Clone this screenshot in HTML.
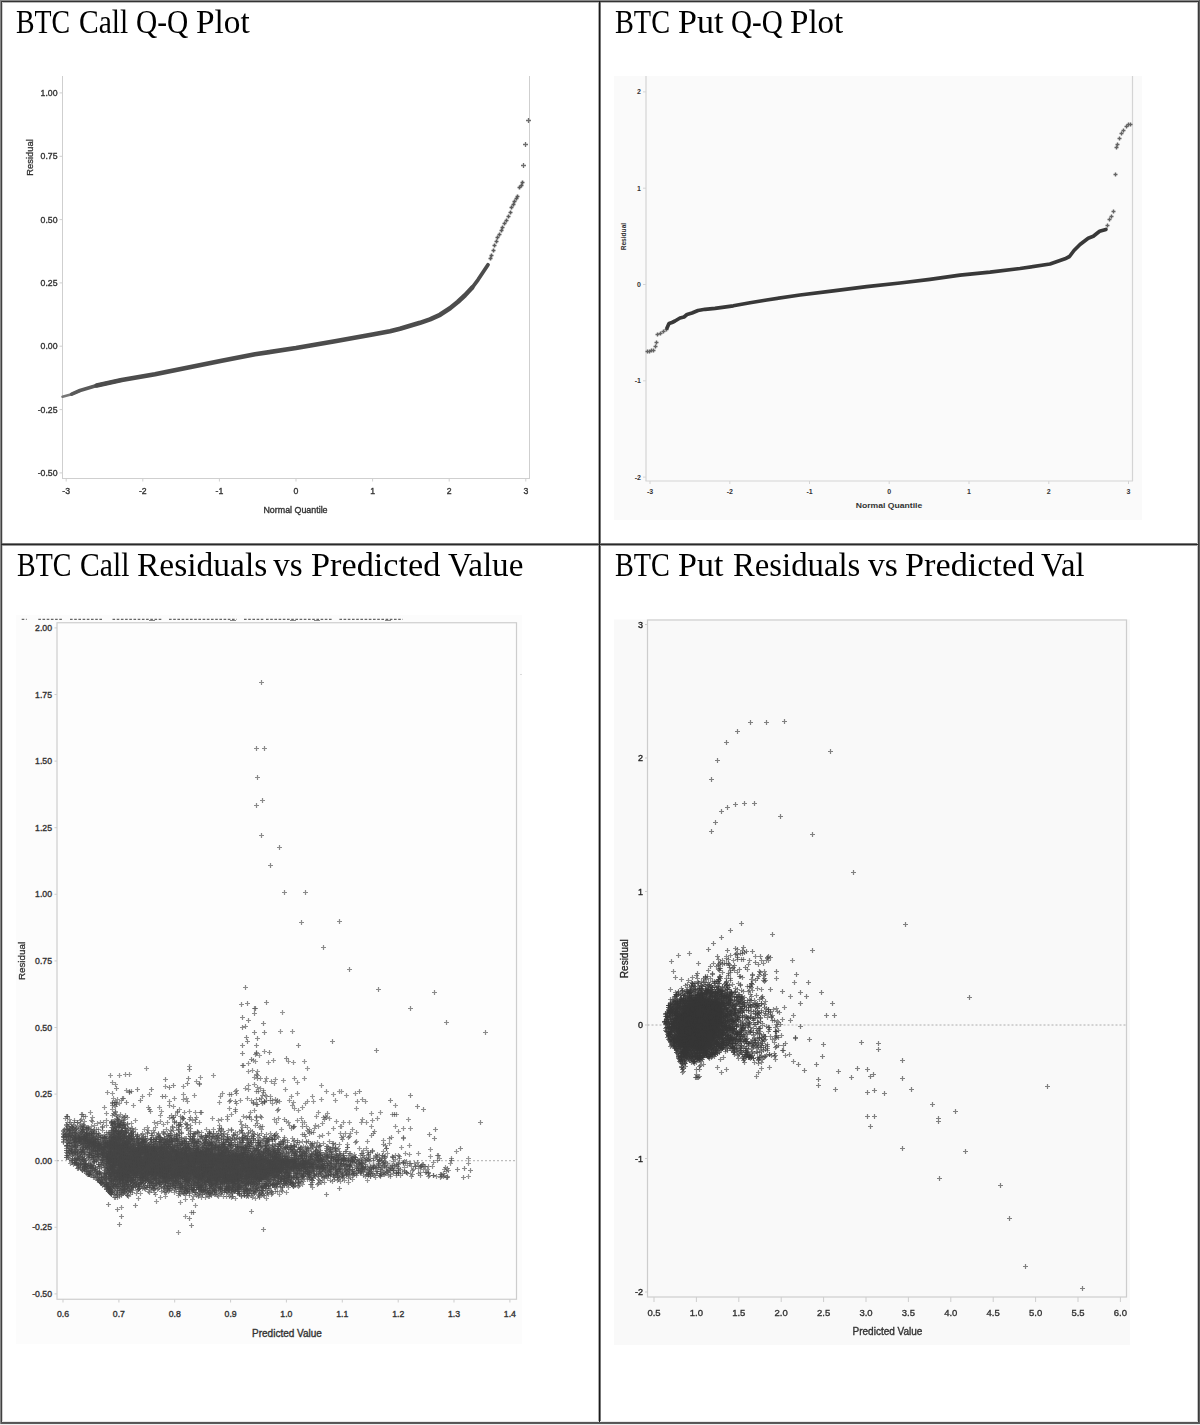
<!DOCTYPE html>
<html><head><meta charset="utf-8"><style>
html,body{margin:0;padding:0;background:#fff;}
body{width:1200px;height:1425px;position:relative;overflow:hidden;}
.t{position:absolute;font-family:"Liberation Serif",serif;font-size:33px;line-height:36px;color:#000;white-space:nowrap;transform-origin:0 0;}
.b{position:absolute;}
svg{position:absolute;left:0;top:0;font-family:"Liberation Sans",sans-serif;filter:blur(0.45px);}
</style></head><body>
<svg width="1200" height="1425" viewBox="0 0 1200 1425"><defs><filter id="bl2" x="-10%" y="-30%" width="120%" height="160%"><feGaussianBlur stdDeviation="2.5"/></filter></defs>
<line x1="62.5" y1="76" x2="62.5" y2="478.5" stroke="#cfcfcf" stroke-width="1" />
<line x1="62" y1="478.5" x2="530" y2="478.5" stroke="#cfcfcf" stroke-width="1" />
<line x1="529.5" y1="76" x2="529.5" y2="478.5" stroke="#cfcfcf" stroke-width="1" />
<line x1="59.5" y1="92.9" x2="62.5" y2="92.9" stroke="#cfcfcf" stroke-width="1" />
<text x="57.5" y="92.9" font-size="8.7" text-anchor="end" font-weight="normal" fill="#333" stroke="#333" stroke-width="0.35" dominant-baseline="central" >1.00</text>
<line x1="59.5" y1="156.3" x2="62.5" y2="156.3" stroke="#cfcfcf" stroke-width="1" />
<text x="57.5" y="156.3" font-size="8.7" text-anchor="end" font-weight="normal" fill="#333" stroke="#333" stroke-width="0.35" dominant-baseline="central" >0.75</text>
<line x1="59.5" y1="219.6" x2="62.5" y2="219.6" stroke="#cfcfcf" stroke-width="1" />
<text x="57.5" y="219.6" font-size="8.7" text-anchor="end" font-weight="normal" fill="#333" stroke="#333" stroke-width="0.35" dominant-baseline="central" >0.50</text>
<line x1="59.5" y1="282.9" x2="62.5" y2="282.9" stroke="#cfcfcf" stroke-width="1" />
<text x="57.5" y="282.9" font-size="8.7" text-anchor="end" font-weight="normal" fill="#333" stroke="#333" stroke-width="0.35" dominant-baseline="central" >0.25</text>
<line x1="59.5" y1="346.2" x2="62.5" y2="346.2" stroke="#cfcfcf" stroke-width="1" />
<text x="57.5" y="346.2" font-size="8.7" text-anchor="end" font-weight="normal" fill="#333" stroke="#333" stroke-width="0.35" dominant-baseline="central" >0.00</text>
<line x1="59.5" y1="409.6" x2="62.5" y2="409.6" stroke="#cfcfcf" stroke-width="1" />
<text x="57.5" y="409.6" font-size="8.7" text-anchor="end" font-weight="normal" fill="#333" stroke="#333" stroke-width="0.35" dominant-baseline="central" >-0.25</text>
<line x1="59.5" y1="472.9" x2="62.5" y2="472.9" stroke="#cfcfcf" stroke-width="1" />
<text x="57.5" y="472.9" font-size="8.7" text-anchor="end" font-weight="normal" fill="#333" stroke="#333" stroke-width="0.35" dominant-baseline="central" >-0.50</text>
<line x1="66.2" y1="478.5" x2="66.2" y2="481.5" stroke="#cfcfcf" stroke-width="1" />
<text x="66.2" y="491" font-size="8.7" text-anchor="middle" font-weight="normal" fill="#333" stroke="#333" stroke-width="0.35" dominant-baseline="central" >-3</text>
<line x1="142.8" y1="478.5" x2="142.8" y2="481.5" stroke="#cfcfcf" stroke-width="1" />
<text x="142.8" y="491" font-size="8.7" text-anchor="middle" font-weight="normal" fill="#333" stroke="#333" stroke-width="0.35" dominant-baseline="central" >-2</text>
<line x1="219.4" y1="478.5" x2="219.4" y2="481.5" stroke="#cfcfcf" stroke-width="1" />
<text x="219.4" y="491" font-size="8.7" text-anchor="middle" font-weight="normal" fill="#333" stroke="#333" stroke-width="0.35" dominant-baseline="central" >-1</text>
<line x1="296" y1="478.5" x2="296" y2="481.5" stroke="#cfcfcf" stroke-width="1" />
<text x="296" y="491" font-size="8.7" text-anchor="middle" font-weight="normal" fill="#333" stroke="#333" stroke-width="0.35" dominant-baseline="central" >0</text>
<line x1="372.6" y1="478.5" x2="372.6" y2="481.5" stroke="#cfcfcf" stroke-width="1" />
<text x="372.6" y="491" font-size="8.7" text-anchor="middle" font-weight="normal" fill="#333" stroke="#333" stroke-width="0.35" dominant-baseline="central" >1</text>
<line x1="449.2" y1="478.5" x2="449.2" y2="481.5" stroke="#cfcfcf" stroke-width="1" />
<text x="449.2" y="491" font-size="8.7" text-anchor="middle" font-weight="normal" fill="#333" stroke="#333" stroke-width="0.35" dominant-baseline="central" >2</text>
<line x1="525.8" y1="478.5" x2="525.8" y2="481.5" stroke="#cfcfcf" stroke-width="1" />
<text x="525.8" y="491" font-size="8.7" text-anchor="middle" font-weight="normal" fill="#333" stroke="#333" stroke-width="0.35" dominant-baseline="central" >3</text>
<text x="295.5" y="509.5" font-size="8.9" text-anchor="middle" font-weight="normal" fill="#333" stroke="#333" stroke-width="0.35" dominant-baseline="central" >Normal Quantile</text>
<text x="0" y="0" font-size="9.4" text-anchor="middle" fill="#333" stroke="#333" stroke-width="0.3" dominant-baseline="central" transform="translate(29 157.5) rotate(-90)">Residual</text>
<rect x="614" y="76" width="528" height="444" fill="#fafafa"/>
<line x1="646" y1="76" x2="646" y2="481" stroke="#d4d4d4" stroke-width="1.2" />
<line x1="645.5" y1="481" x2="1133" y2="481" stroke="#d4d4d4" stroke-width="1.2" />
<line x1="1132.5" y1="76" x2="1132.5" y2="481" stroke="#d4d4d4" stroke-width="1.2" />
<line x1="643" y1="91.9" x2="646" y2="91.9" stroke="#d4d4d4" stroke-width="1" />
<text x="641" y="91.9" font-size="7" text-anchor="end" font-weight="bold" fill="#333" dominant-baseline="central" >2</text>
<line x1="643" y1="188.2" x2="646" y2="188.2" stroke="#d4d4d4" stroke-width="1" />
<text x="641" y="188.2" font-size="7" text-anchor="end" font-weight="bold" fill="#333" dominant-baseline="central" >1</text>
<line x1="643" y1="284.5" x2="646" y2="284.5" stroke="#d4d4d4" stroke-width="1" />
<text x="641" y="284.5" font-size="7" text-anchor="end" font-weight="bold" fill="#333" dominant-baseline="central" >0</text>
<line x1="643" y1="380.8" x2="646" y2="380.8" stroke="#d4d4d4" stroke-width="1" />
<text x="641" y="380.8" font-size="7" text-anchor="end" font-weight="bold" fill="#333" dominant-baseline="central" >-1</text>
<line x1="643" y1="477.1" x2="646" y2="477.1" stroke="#d4d4d4" stroke-width="1" />
<text x="641" y="477.1" font-size="7" text-anchor="end" font-weight="bold" fill="#333" dominant-baseline="central" >-2</text>
<line x1="650" y1="481" x2="650" y2="484" stroke="#d4d4d4" stroke-width="1" />
<text x="650" y="491.5" font-size="7" text-anchor="middle" font-weight="bold" fill="#333" dominant-baseline="central" >-3</text>
<line x1="729.8" y1="481" x2="729.8" y2="484" stroke="#d4d4d4" stroke-width="1" />
<text x="729.8" y="491.5" font-size="7" text-anchor="middle" font-weight="bold" fill="#333" dominant-baseline="central" >-2</text>
<line x1="809.5" y1="481" x2="809.5" y2="484" stroke="#d4d4d4" stroke-width="1" />
<text x="809.5" y="491.5" font-size="7" text-anchor="middle" font-weight="bold" fill="#333" dominant-baseline="central" >-1</text>
<line x1="889.2" y1="481" x2="889.2" y2="484" stroke="#d4d4d4" stroke-width="1" />
<text x="889.2" y="491.5" font-size="7" text-anchor="middle" font-weight="bold" fill="#333" dominant-baseline="central" >0</text>
<line x1="969" y1="481" x2="969" y2="484" stroke="#d4d4d4" stroke-width="1" />
<text x="969" y="491.5" font-size="7" text-anchor="middle" font-weight="bold" fill="#333" dominant-baseline="central" >1</text>
<line x1="1048.8" y1="481" x2="1048.8" y2="484" stroke="#d4d4d4" stroke-width="1" />
<text x="1048.8" y="491.5" font-size="7" text-anchor="middle" font-weight="bold" fill="#333" dominant-baseline="central" >2</text>
<line x1="1128.5" y1="481" x2="1128.5" y2="484" stroke="#d4d4d4" stroke-width="1" />
<text x="1128.5" y="491.5" font-size="7" text-anchor="middle" font-weight="bold" fill="#333" dominant-baseline="central" >3</text>
<text x="889" y="505" font-size="7.6" text-anchor="middle" font-weight="bold" fill="#333" dominant-baseline="central" textLength="66.5" lengthAdjust="spacingAndGlyphs">Normal Quantile</text>
<text x="0" y="0" font-size="6.6" font-weight="bold" text-anchor="middle" fill="#333" dominant-baseline="central" transform="translate(623.2 236.6) rotate(-90)">Residual</text>
<rect x="16" y="615" width="506" height="729" fill="#fcfcfc"/>
<rect x="57" y="622.8" width="459.5" height="676.5" fill="#fdfdfd"/>
<rect x="57" y="622.75" width="459.5" height="676.5" fill="none" stroke="#cdcdcd" stroke-width="1.2"/>
<line x1="54.5" y1="627.9" x2="57" y2="627.9" stroke="#cdcdcd" stroke-width="1" />
<text x="52" y="627.9" font-size="8.7" text-anchor="end" font-weight="normal" fill="#333" stroke="#333" stroke-width="0.35" dominant-baseline="central" >2.00</text>
<line x1="54.5" y1="694.5" x2="57" y2="694.5" stroke="#cdcdcd" stroke-width="1" />
<text x="52" y="694.5" font-size="8.7" text-anchor="end" font-weight="normal" fill="#333" stroke="#333" stroke-width="0.35" dominant-baseline="central" >1.75</text>
<line x1="54.5" y1="761.1" x2="57" y2="761.1" stroke="#cdcdcd" stroke-width="1" />
<text x="52" y="761.1" font-size="8.7" text-anchor="end" font-weight="normal" fill="#333" stroke="#333" stroke-width="0.35" dominant-baseline="central" >1.50</text>
<line x1="54.5" y1="827.7" x2="57" y2="827.7" stroke="#cdcdcd" stroke-width="1" />
<text x="52" y="827.7" font-size="8.7" text-anchor="end" font-weight="normal" fill="#333" stroke="#333" stroke-width="0.35" dominant-baseline="central" >1.25</text>
<line x1="54.5" y1="894.3" x2="57" y2="894.3" stroke="#cdcdcd" stroke-width="1" />
<text x="52" y="894.3" font-size="8.7" text-anchor="end" font-weight="normal" fill="#333" stroke="#333" stroke-width="0.35" dominant-baseline="central" >1.00</text>
<line x1="54.5" y1="960.9" x2="57" y2="960.9" stroke="#cdcdcd" stroke-width="1" />
<text x="52" y="960.9" font-size="8.7" text-anchor="end" font-weight="normal" fill="#333" stroke="#333" stroke-width="0.35" dominant-baseline="central" >0.75</text>
<line x1="54.5" y1="1027.5" x2="57" y2="1027.5" stroke="#cdcdcd" stroke-width="1" />
<text x="52" y="1027.5" font-size="8.7" text-anchor="end" font-weight="normal" fill="#333" stroke="#333" stroke-width="0.35" dominant-baseline="central" >0.50</text>
<line x1="54.5" y1="1094.1" x2="57" y2="1094.1" stroke="#cdcdcd" stroke-width="1" />
<text x="52" y="1094.1" font-size="8.7" text-anchor="end" font-weight="normal" fill="#333" stroke="#333" stroke-width="0.35" dominant-baseline="central" >0.25</text>
<line x1="54.5" y1="1160.7" x2="57" y2="1160.7" stroke="#cdcdcd" stroke-width="1" />
<text x="52" y="1160.7" font-size="8.7" text-anchor="end" font-weight="normal" fill="#333" stroke="#333" stroke-width="0.35" dominant-baseline="central" >0.00</text>
<line x1="54.5" y1="1227.3" x2="57" y2="1227.3" stroke="#cdcdcd" stroke-width="1" />
<text x="52" y="1227.3" font-size="8.7" text-anchor="end" font-weight="normal" fill="#333" stroke="#333" stroke-width="0.35" dominant-baseline="central" >-0.25</text>
<line x1="54.5" y1="1293.9" x2="57" y2="1293.9" stroke="#cdcdcd" stroke-width="1" />
<text x="52" y="1293.9" font-size="8.7" text-anchor="end" font-weight="normal" fill="#333" stroke="#333" stroke-width="0.35" dominant-baseline="central" >-0.50</text>
<line x1="63" y1="1299.3" x2="63" y2="1302.5" stroke="#cdcdcd" stroke-width="1" />
<text x="63" y="1313.7" font-size="8.7" text-anchor="middle" font-weight="normal" fill="#333" stroke="#333" stroke-width="0.35" dominant-baseline="central" >0.6</text>
<line x1="118.9" y1="1299.3" x2="118.9" y2="1302.5" stroke="#cdcdcd" stroke-width="1" />
<text x="118.9" y="1313.7" font-size="8.7" text-anchor="middle" font-weight="normal" fill="#333" stroke="#333" stroke-width="0.35" dominant-baseline="central" >0.7</text>
<line x1="174.7" y1="1299.3" x2="174.7" y2="1302.5" stroke="#cdcdcd" stroke-width="1" />
<text x="174.7" y="1313.7" font-size="8.7" text-anchor="middle" font-weight="normal" fill="#333" stroke="#333" stroke-width="0.35" dominant-baseline="central" >0.8</text>
<line x1="230.6" y1="1299.3" x2="230.6" y2="1302.5" stroke="#cdcdcd" stroke-width="1" />
<text x="230.6" y="1313.7" font-size="8.7" text-anchor="middle" font-weight="normal" fill="#333" stroke="#333" stroke-width="0.35" dominant-baseline="central" >0.9</text>
<line x1="286.4" y1="1299.3" x2="286.4" y2="1302.5" stroke="#cdcdcd" stroke-width="1" />
<text x="286.4" y="1313.7" font-size="8.7" text-anchor="middle" font-weight="normal" fill="#333" stroke="#333" stroke-width="0.35" dominant-baseline="central" >1.0</text>
<line x1="342.3" y1="1299.3" x2="342.3" y2="1302.5" stroke="#cdcdcd" stroke-width="1" />
<text x="342.3" y="1313.7" font-size="8.7" text-anchor="middle" font-weight="normal" fill="#333" stroke="#333" stroke-width="0.35" dominant-baseline="central" >1.1</text>
<line x1="398.2" y1="1299.3" x2="398.2" y2="1302.5" stroke="#cdcdcd" stroke-width="1" />
<text x="398.2" y="1313.7" font-size="8.7" text-anchor="middle" font-weight="normal" fill="#333" stroke="#333" stroke-width="0.35" dominant-baseline="central" >1.2</text>
<line x1="454" y1="1299.3" x2="454" y2="1302.5" stroke="#cdcdcd" stroke-width="1" />
<text x="454" y="1313.7" font-size="8.7" text-anchor="middle" font-weight="normal" fill="#333" stroke="#333" stroke-width="0.35" dominant-baseline="central" >1.3</text>
<line x1="509.9" y1="1299.3" x2="509.9" y2="1302.5" stroke="#cdcdcd" stroke-width="1" />
<text x="509.9" y="1313.7" font-size="8.7" text-anchor="middle" font-weight="normal" fill="#333" stroke="#333" stroke-width="0.35" dominant-baseline="central" >1.4</text>
<text x="287" y="1333" font-size="10" text-anchor="middle" font-weight="normal" fill="#333" stroke="#333" stroke-width="0.35" dominant-baseline="central" >Predicted Value</text>
<text x="0" y="0" font-size="9.8" text-anchor="middle" fill="#333" stroke="#333" stroke-width="0.3" dominant-baseline="central" transform="translate(21 961) rotate(-90)">Residual</text>
<line x1="57" y1="1160.7" x2="516.5" y2="1160.7" stroke="#999" stroke-width="0.8" stroke-dasharray="2 2"/>
<line x1="21.7" y1="619.3" x2="26.7" y2="619.3" stroke="#666" stroke-width="1.3" stroke-dasharray="2.6 1.6"/>
<line x1="38.3" y1="619.3" x2="62.5" y2="619.3" stroke="#666" stroke-width="1.3" stroke-dasharray="2.6 1.6"/>
<line x1="70" y1="619.3" x2="103.3" y2="619.3" stroke="#666" stroke-width="1.3" stroke-dasharray="2.6 1.6"/>
<line x1="112.5" y1="619.3" x2="161.7" y2="619.3" stroke="#666" stroke-width="1.3" stroke-dasharray="2.6 1.6"/>
<line x1="169" y1="619.3" x2="236.7" y2="619.3" stroke="#666" stroke-width="1.3" stroke-dasharray="2.6 1.6"/>
<line x1="244" y1="619.3" x2="263.3" y2="619.3" stroke="#666" stroke-width="1.3" stroke-dasharray="2.6 1.6"/>
<line x1="266" y1="619.3" x2="332" y2="619.3" stroke="#666" stroke-width="1.3" stroke-dasharray="2.6 1.6"/>
<line x1="339.4" y1="619.3" x2="402.8" y2="619.3" stroke="#666" stroke-width="1.3" stroke-dasharray="2.6 1.6"/>
<line x1="149" y1="620.5" x2="155" y2="620.5" stroke="#888" stroke-width="1" />
<line x1="230" y1="620.5" x2="236" y2="620.5" stroke="#888" stroke-width="1" />
<line x1="290" y1="620.5" x2="296" y2="620.5" stroke="#888" stroke-width="1" />
<line x1="314" y1="620.5" x2="320" y2="620.5" stroke="#888" stroke-width="1" />
<line x1="385" y1="620.5" x2="391" y2="620.5" stroke="#888" stroke-width="1" />
<rect x="520.5" y="674" width="1" height="1" fill="#bbb"/>
<rect x="614" y="619.5" width="516" height="725.5" fill="#f9f9f9"/>
<rect x="647.5" y="620" width="479" height="677" fill="none" stroke="#cdcdcd" stroke-width="1.2"/>
<line x1="645" y1="624.5" x2="647.5" y2="624.5" stroke="#cdcdcd" stroke-width="1" />
<text x="643" y="624.5" font-size="9" text-anchor="end" font-weight="normal" fill="#222" stroke="#222" stroke-width="0.35" dominant-baseline="central" >3</text>
<line x1="645" y1="758" x2="647.5" y2="758" stroke="#cdcdcd" stroke-width="1" />
<text x="643" y="758" font-size="9" text-anchor="end" font-weight="normal" fill="#222" stroke="#222" stroke-width="0.35" dominant-baseline="central" >2</text>
<line x1="645" y1="891.5" x2="647.5" y2="891.5" stroke="#cdcdcd" stroke-width="1" />
<text x="643" y="891.5" font-size="9" text-anchor="end" font-weight="normal" fill="#222" stroke="#222" stroke-width="0.35" dominant-baseline="central" >1</text>
<line x1="645" y1="1025" x2="647.5" y2="1025" stroke="#cdcdcd" stroke-width="1" />
<text x="643" y="1025" font-size="9" text-anchor="end" font-weight="normal" fill="#222" stroke="#222" stroke-width="0.35" dominant-baseline="central" >0</text>
<line x1="645" y1="1158.5" x2="647.5" y2="1158.5" stroke="#cdcdcd" stroke-width="1" />
<text x="643" y="1158.5" font-size="9" text-anchor="end" font-weight="normal" fill="#222" stroke="#222" stroke-width="0.35" dominant-baseline="central" >-1</text>
<line x1="645" y1="1292" x2="647.5" y2="1292" stroke="#cdcdcd" stroke-width="1" />
<text x="643" y="1292" font-size="9" text-anchor="end" font-weight="normal" fill="#222" stroke="#222" stroke-width="0.35" dominant-baseline="central" >-2</text>
<line x1="654" y1="1297" x2="654" y2="1302" stroke="#cdcdcd" stroke-width="1" />
<text x="654" y="1312" font-size="9.5" text-anchor="middle" font-weight="normal" fill="#333" stroke="#333" stroke-width="0.35" dominant-baseline="central" >0.5</text>
<line x1="696.4" y1="1297" x2="696.4" y2="1302" stroke="#cdcdcd" stroke-width="1" />
<text x="696.4" y="1312" font-size="9.5" text-anchor="middle" font-weight="normal" fill="#333" stroke="#333" stroke-width="0.35" dominant-baseline="central" >1.0</text>
<line x1="738.8" y1="1297" x2="738.8" y2="1302" stroke="#cdcdcd" stroke-width="1" />
<text x="738.8" y="1312" font-size="9.5" text-anchor="middle" font-weight="normal" fill="#333" stroke="#333" stroke-width="0.35" dominant-baseline="central" >1.5</text>
<line x1="781.2" y1="1297" x2="781.2" y2="1302" stroke="#cdcdcd" stroke-width="1" />
<text x="781.2" y="1312" font-size="9.5" text-anchor="middle" font-weight="normal" fill="#333" stroke="#333" stroke-width="0.35" dominant-baseline="central" >2.0</text>
<line x1="823.6" y1="1297" x2="823.6" y2="1302" stroke="#cdcdcd" stroke-width="1" />
<text x="823.6" y="1312" font-size="9.5" text-anchor="middle" font-weight="normal" fill="#333" stroke="#333" stroke-width="0.35" dominant-baseline="central" >2.5</text>
<line x1="866" y1="1297" x2="866" y2="1302" stroke="#cdcdcd" stroke-width="1" />
<text x="866" y="1312" font-size="9.5" text-anchor="middle" font-weight="normal" fill="#333" stroke="#333" stroke-width="0.35" dominant-baseline="central" >3.0</text>
<line x1="908.4" y1="1297" x2="908.4" y2="1302" stroke="#cdcdcd" stroke-width="1" />
<text x="908.4" y="1312" font-size="9.5" text-anchor="middle" font-weight="normal" fill="#333" stroke="#333" stroke-width="0.35" dominant-baseline="central" >3.5</text>
<line x1="950.8" y1="1297" x2="950.8" y2="1302" stroke="#cdcdcd" stroke-width="1" />
<text x="950.8" y="1312" font-size="9.5" text-anchor="middle" font-weight="normal" fill="#333" stroke="#333" stroke-width="0.35" dominant-baseline="central" >4.0</text>
<line x1="993.2" y1="1297" x2="993.2" y2="1302" stroke="#cdcdcd" stroke-width="1" />
<text x="993.2" y="1312" font-size="9.5" text-anchor="middle" font-weight="normal" fill="#333" stroke="#333" stroke-width="0.35" dominant-baseline="central" >4.5</text>
<line x1="1035.6" y1="1297" x2="1035.6" y2="1302" stroke="#cdcdcd" stroke-width="1" />
<text x="1035.6" y="1312" font-size="9.5" text-anchor="middle" font-weight="normal" fill="#333" stroke="#333" stroke-width="0.35" dominant-baseline="central" >5.0</text>
<line x1="1078" y1="1297" x2="1078" y2="1302" stroke="#cdcdcd" stroke-width="1" />
<text x="1078" y="1312" font-size="9.5" text-anchor="middle" font-weight="normal" fill="#333" stroke="#333" stroke-width="0.35" dominant-baseline="central" >5.5</text>
<line x1="1120.4" y1="1297" x2="1120.4" y2="1302" stroke="#cdcdcd" stroke-width="1" />
<text x="1120.4" y="1312" font-size="9.5" text-anchor="middle" font-weight="normal" fill="#333" stroke="#333" stroke-width="0.35" dominant-baseline="central" >6.0</text>
<text x="887.5" y="1331" font-size="10" text-anchor="middle" font-weight="normal" fill="#333" stroke="#333" stroke-width="0.35" dominant-baseline="central" >Predicted Value</text>
<text x="0" y="0" font-size="10" text-anchor="middle" fill="#222" stroke="#222" stroke-width="0.3" dominant-baseline="central" transform="translate(624 958.7) rotate(-90)">Residual</text>
<line x1="647.5" y1="1025" x2="1126.5" y2="1025" stroke="#999" stroke-width="0.8" stroke-dasharray="2 2"/>
<polyline points="62.5,396.7 71.7,394.2 80,390.5" fill="none" stroke="#777" stroke-width="2.6" stroke-linejoin="round" stroke-linecap="round"/>
<polyline points="71.7,394.2 80,390.5 96.7,385.5 121.7,380" fill="none" stroke="#5a5a5a" stroke-width="3.6" stroke-linejoin="round" stroke-linecap="round"/>
<polyline points="96.7,385.5 121.7,380 155,374.2 188.3,367.5 221.7,360.8 255,354.2 296,348.1 335,341.3 372.5,334.6 390,331.3 400,328.8 410,325.8 420,322.8 430,319.3 440,314.8 450,308.3 458,301.8 465,295.3 472,287.8" fill="none" stroke="#4c4c4c" stroke-width="4.6" stroke-linejoin="round" stroke-linecap="round"/>
<polyline points="472,287.8 478,279.8 484,270.8 488,264.8" fill="none" stroke="#4c4c4c" stroke-width="3.8" stroke-linejoin="round" stroke-linecap="round"/>
<path d="M488.5 258.5h4m-2-2v4M489.5 255.5h4m-2-2v4M491.5 250.5h4m-2-2v4M492.5 245.5h4m-2-2v4M494.5 241.5h4m-2-2v4M495.5 237.5h4m-2-2v4M497.5 234.5h4m-2-2v4M499.5 230.5h4m-2-2v4M500.5 227.5h4m-2-2v4M502.5 223.5h4m-2-2v4M504.5 220.5h4m-2-2v4M506.5 216.5h4m-2-2v4M508.5 212.5h4m-2-2v4M509.5 207.5h4m-2-2v4M511.5 204.5h4m-2-2v4M512.5 201.5h4m-2-2v4M514.5 198.5h4m-2-2v4M515.5 196.5h4m-2-2v4M517.5 187.5h4m-2-2v4M519.5 185.5h4m-2-2v4M520.5 182.5h4m-2-2v4" stroke="#4a4a4a" stroke-opacity="0.9" stroke-width="1.6" fill="none"/>
<path d="M521 165.5h5m-2.5-2.5v5M523 144.5h5m-2.5-2.5v5M526 120.5h5m-2.5-2.5v5" stroke="#555" stroke-opacity="0.85" stroke-width="1.3" fill="none"/>
<polyline points="667,328 669,323.5 672,322.5 675,321 680,318 684,317 687,314.5 692,313 698,310.5 705,309.3 715,308.3 733.3,305.8 750,302.8 766.7,300 800,295 833.3,290.8 866.7,286.7 900,283 930,279.3 960,275.2 990,272.2 1020,268.5 1050,264 1065,258.8 1069.5,256.5 1074,250.5 1080,244.5 1088.2,238.2 1093.3,236.3 1099.6,231.3 1105.9,229.4" fill="none" stroke="#383838" stroke-width="3.7" stroke-linejoin="round" stroke-linecap="round"/>
<path d="M645.5 351.5h4m-2-2v4M647.5 351.5h4m-2-2v4M649.5 350.5h4m-2-2v4M651.5 350.5h4m-2-2v4M653.5 346.5h4m-2-2v4M654.5 342.5h4m-2-2v4M655.5 334.5h4m-2-2v4M658.5 333.5h4m-2-2v4M661.5 331.5h4m-2-2v4M664.5 329.5h4m-2-2v4M1105.5 225.5h4m-2-2v4M1107.5 219.5h4m-2-2v4M1109.5 216.5h4m-2-2v4M1111.5 211.5h4m-2-2v4M1113.5 174.5h4m-2-2v4M1114.5 147.5h4m-2-2v4M1115.5 144.5h4m-2-2v4M1117.5 138.5h4m-2-2v4M1119.5 133.5h4m-2-2v4M1121.5 130.5h4m-2-2v4M1124.5 126.5h4m-2-2v4M1126.5 124.5h4m-2-2v4M1128.5 124.5h4m-2-2v4" stroke="#3a3a3a" stroke-opacity="0.78" stroke-width="1.4" fill="none"/>
<path d="M66 1130L68 1130.7L70 1131.4L72 1132.1L74 1132.2L76 1132.4L78 1132.6L80 1132.8L82 1133L84 1133.2L86 1133.6L88 1134.1L90 1134.6L92 1135.1L94 1135.5L96 1136L98 1137.4L100 1139.8L102 1142.1L104 1142.3L106 1140.3L108 1138.4L110 1136.4L112 1134.4L114 1134.8L116 1135.2L118 1135.6L120 1136.1L122 1136.5L124 1137.7L126 1138.9L128 1140.1L130 1141.3L132 1142.6L134 1143.8L136 1145L138 1145.6L140 1145.6L142 1145.6L144 1145.7L146 1145.7L148 1145.7L150 1145.7L152 1145.7L154 1145.8L156 1145.9L158 1146L160 1146.2L162 1146.3L164 1146.4L166 1146.5L168 1146.6L170 1146.7L172 1146.8L174 1146.9L176 1147L178 1147.2L180 1147.3L182 1147.5L184 1147.6L186 1147.8L188 1147.9L190 1148.1L192 1148.2L194 1148.4L196 1148.5L198 1148.7L200 1148.8L202 1149L204 1149.1L206 1149.3L208 1149.5L210 1149.7L212 1149.9L214 1150.2L216 1150.4L218 1150.6L220 1150.8L222 1151L224 1151.3L226 1151.5L228 1151.7L230 1151.9L232 1152.1L234 1152.3L236 1152.5L238 1152.7L240 1152.9L242 1153.1L244 1153.2L246 1153.4L248 1153.6L250 1153.8L252 1153.9L254 1154.1L256 1154.3L258 1154.5L260 1154.7L262 1154.8L264 1155L266 1155.1L268 1155.3L270 1155.4L272 1155.6L274 1155.7L276 1155.9L278 1156L280 1156.2L282 1156.3L284 1156.5L286 1156.6L288 1156.8L290 1156.9L292 1157.2L294 1157.5L296 1157.8L298 1158L300 1158.3L302 1158.6L304 1158.9L306 1159.1L308 1159.4L310 1159.7L312 1159.9L314 1160.2L316 1160.5L318 1160.7L320 1161L322 1161.3L324 1161.5L326 1161.8L328 1162.1L330 1162.3L332 1162.6L334 1162.9L336 1163.1L338 1163.4L340 1163.7L342 1163.9L344 1164.2L346 1164.5L348 1164.7L350 1165L352 1165.2L354 1165.4L356 1165.6L358 1165.8L360 1166L362 1166.2L364 1166.4L366 1166.6L368 1166.8L370 1167L372 1167.2L374 1167.4L376 1167.6L378 1167.8L380 1168L382 1168.2L384 1168.4L386 1168.6L388 1168.8L390 1169L392 1169.2L394 1169.4L396 1169.6L398 1169.8L398 1165.6L396 1165.5L394 1165.5L392 1165.4L390 1165.3L388 1165.3L386 1165.2L384 1165.1L382 1165.1L380 1165L378 1165.1L376 1165.1L374 1165.2L372 1165.3L370 1165.3L368 1165.4L366 1165.5L364 1165.5L362 1165.6L360 1165.7L358 1165.7L356 1165.8L354 1165.9L352 1165.9L350 1166L348 1166.1L346 1166.3L344 1166.4L342 1166.5L340 1166.7L338 1166.8L336 1166.9L334 1167.1L332 1167.2L330 1167.3L328 1167.5L326 1167.6L324 1167.7L322 1167.9L320 1168L318 1168.3L316 1168.5L314 1168.8L312 1169.1L310 1169.3L308 1169.6L306 1169.9L304 1170.1L302 1170.4L300 1170.7L298 1171L296 1171.2L294 1171.5L292 1171.8L290 1172.1L288 1172.8L286 1173.5L284 1174.1L282 1174.8L280 1175.5L278 1176.2L276 1176.9L274 1177.6L272 1178.2L270 1178.9L268 1179.6L266 1180.3L264 1181L262 1181.7L260 1182.3L258 1182.4L256 1182.5L254 1182.6L252 1182.7L250 1182.8L248 1182.9L246 1183L244 1183.1L242 1183.2L240 1183.3L238 1183.4L236 1183.5L234 1183.6L232 1183.6L230 1183.6L228 1183.6L226 1183.6L224 1183.6L222 1183.7L220 1183.7L218 1183.7L216 1183.7L214 1183.7L212 1183.8L210 1183.8L208 1183.8L206 1183.8L204 1183.7L202 1183.5L200 1183.4L198 1183.2L196 1183L194 1182.8L192 1182.6L190 1182.4L188 1182.3L186 1182.1L184 1181.9L182 1181.7L180 1181.5L178 1181.3L176 1181.2L174 1181L172 1180.8L170 1180.7L168 1180.5L166 1180.4L164 1180.2L162 1180L160 1179.9L158 1179.7L156 1179.6L154 1179.4L152 1179.3L150 1179.4L148 1179.6L146 1179.7L144 1179.9L142 1180L140 1180.2L138 1180.3L136 1180.6L134 1181L132 1181.4L130 1181.9L128 1182.3L126 1182.7L124 1183.1L122 1183.5L120 1183.1L118 1182.8L116 1182.4L114 1182L112 1181.6L110 1180.6L108 1179.6L106 1173.3L104 1166.9L102 1162L100 1158.7L98 1155.4L96 1153.1L94 1151.9L92 1150.7L90 1149.5L88 1148.3L86 1147.1L84 1145.8L82 1145.2L80 1144.5L78 1143.9L76 1143.2L74 1142.6L72 1141.9L70 1140.3L68 1138.6L66 1137Z" fill="#4e4e4e" filter="url(#bl2)"/>
<path d="M61 1134.5h5m-2.5-2.5v5M61 1141.5h5m-2.5-2.5v5M62 1132.5h5m-2.5-2.5v5M64 1140.5h5m-2.5-2.5v5M64 1125.5h5m-2.5-2.5v5M66 1150.5h5m-2.5-2.5v5M66 1148.5h5m-2.5-2.5v5M67 1130.5h5m-2.5-2.5v5M68 1145.5h5m-2.5-2.5v5M68 1142.5h5m-2.5-2.5v5M70 1151.5h5m-2.5-2.5v5M72 1132.5h5m-2.5-2.5v5M74 1141.5h5m-2.5-2.5v5M77 1138.5h5m-2.5-2.5v5M77 1151.5h5m-2.5-2.5v5M77 1158.5h5m-2.5-2.5v5M78 1150.5h5m-2.5-2.5v5M79 1128.5h5m-2.5-2.5v5M80 1131.5h5m-2.5-2.5v5M80 1157.5h5m-2.5-2.5v5M81 1127.5h5m-2.5-2.5v5M81 1147.5h5m-2.5-2.5v5M82 1151.5h5m-2.5-2.5v5M82 1139.5h5m-2.5-2.5v5M82 1161.5h5m-2.5-2.5v5M83 1147.5h5m-2.5-2.5v5M83 1143.5h5m-2.5-2.5v5M83 1140.5h5m-2.5-2.5v5M84 1135.5h5m-2.5-2.5v5M84 1149.5h5m-2.5-2.5v5M84 1136.5h5m-2.5-2.5v5M86 1128.5h5m-2.5-2.5v5M87 1146.5h5m-2.5-2.5v5M87 1143.5h5m-2.5-2.5v5M89 1137.5h5m-2.5-2.5v5M89 1133.5h5m-2.5-2.5v5M89 1165.5h5m-2.5-2.5v5M90 1153.5h5m-2.5-2.5v5M90 1155.5h5m-2.5-2.5v5M91 1144.5h5m-2.5-2.5v5M91 1150.5h5m-2.5-2.5v5M91 1133.5h5m-2.5-2.5v5M92 1142.5h5m-2.5-2.5v5M92 1162.5h5m-2.5-2.5v5M93 1139.5h5m-2.5-2.5v5M95 1173.5h5m-2.5-2.5v5M96 1156.5h5m-2.5-2.5v5M96 1154.5h5m-2.5-2.5v5M96 1166.5h5m-2.5-2.5v5M97 1149.5h5m-2.5-2.5v5M98 1137.5h5m-2.5-2.5v5M98 1143.5h5m-2.5-2.5v5M98 1141.5h5m-2.5-2.5v5M100 1142.5h5m-2.5-2.5v5M100 1155.5h5m-2.5-2.5v5M101 1157.5h5m-2.5-2.5v5M101 1149.5h5m-2.5-2.5v5M102 1137.5h5m-2.5-2.5v5M104 1178.5h5m-2.5-2.5v5M104 1182.5h5m-2.5-2.5v5M106 1158.5h5m-2.5-2.5v5M106 1158.5h5m-2.5-2.5v5M107 1168.5h5m-2.5-2.5v5M107 1162.5h5m-2.5-2.5v5M107 1169.5h5m-2.5-2.5v5M108 1175.5h5m-2.5-2.5v5M108 1145.5h5m-2.5-2.5v5M108 1132.5h5m-2.5-2.5v5M108 1183.5h5m-2.5-2.5v5M108 1191.5h5m-2.5-2.5v5M109 1130.5h5m-2.5-2.5v5M109 1130.5h5m-2.5-2.5v5M109 1170.5h5m-2.5-2.5v5M109 1180.5h5m-2.5-2.5v5M109 1186.5h5m-2.5-2.5v5M109 1136.5h5m-2.5-2.5v5M109 1122.5h5m-2.5-2.5v5M110 1133.5h5m-2.5-2.5v5M110 1154.5h5m-2.5-2.5v5M110 1133.5h5m-2.5-2.5v5M111 1139.5h5m-2.5-2.5v5M111 1129.5h5m-2.5-2.5v5M111 1185.5h5m-2.5-2.5v5M111 1149.5h5m-2.5-2.5v5M111 1176.5h5m-2.5-2.5v5M111 1183.5h5m-2.5-2.5v5M112 1131.5h5m-2.5-2.5v5M112 1177.5h5m-2.5-2.5v5M112 1129.5h5m-2.5-2.5v5M112 1149.5h5m-2.5-2.5v5M112 1126.5h5m-2.5-2.5v5M112 1192.5h5m-2.5-2.5v5M113 1158.5h5m-2.5-2.5v5M113 1144.5h5m-2.5-2.5v5M113 1142.5h5m-2.5-2.5v5M113 1184.5h5m-2.5-2.5v5M114 1144.5h5m-2.5-2.5v5M115 1149.5h5m-2.5-2.5v5M115 1173.5h5m-2.5-2.5v5M115 1151.5h5m-2.5-2.5v5M115 1146.5h5m-2.5-2.5v5M115 1151.5h5m-2.5-2.5v5M115 1152.5h5m-2.5-2.5v5M115 1197.5h5m-2.5-2.5v5M115 1194.5h5m-2.5-2.5v5M116 1131.5h5m-2.5-2.5v5M116 1133.5h5m-2.5-2.5v5M117 1158.5h5m-2.5-2.5v5M117 1188.5h5m-2.5-2.5v5M117 1158.5h5m-2.5-2.5v5M117 1145.5h5m-2.5-2.5v5M117 1181.5h5m-2.5-2.5v5M117 1137.5h5m-2.5-2.5v5M117 1188.5h5m-2.5-2.5v5M117 1165.5h5m-2.5-2.5v5M117 1144.5h5m-2.5-2.5v5M117 1149.5h5m-2.5-2.5v5M117 1158.5h5m-2.5-2.5v5M117 1133.5h5m-2.5-2.5v5M117 1167.5h5m-2.5-2.5v5M117 1171.5h5m-2.5-2.5v5M117 1194.5h5m-2.5-2.5v5M118 1172.5h5m-2.5-2.5v5M118 1135.5h5m-2.5-2.5v5M118 1162.5h5m-2.5-2.5v5M118 1162.5h5m-2.5-2.5v5M119 1168.5h5m-2.5-2.5v5M119 1166.5h5m-2.5-2.5v5M119 1132.5h5m-2.5-2.5v5M119 1169.5h5m-2.5-2.5v5M119 1137.5h5m-2.5-2.5v5M119 1131.5h5m-2.5-2.5v5M119 1190.5h5m-2.5-2.5v5M120 1164.5h5m-2.5-2.5v5M120 1180.5h5m-2.5-2.5v5M120 1181.5h5m-2.5-2.5v5M120 1160.5h5m-2.5-2.5v5M121 1175.5h5m-2.5-2.5v5M121 1173.5h5m-2.5-2.5v5M121 1177.5h5m-2.5-2.5v5M121 1186.5h5m-2.5-2.5v5M121 1138.5h5m-2.5-2.5v5M121 1162.5h5m-2.5-2.5v5M121 1135.5h5m-2.5-2.5v5M122 1157.5h5m-2.5-2.5v5M122 1131.5h5m-2.5-2.5v5M122 1136.5h5m-2.5-2.5v5M122 1186.5h5m-2.5-2.5v5M122 1188.5h5m-2.5-2.5v5M122 1189.5h5m-2.5-2.5v5M122 1169.5h5m-2.5-2.5v5M122 1134.5h5m-2.5-2.5v5M122 1128.5h5m-2.5-2.5v5M123 1143.5h5m-2.5-2.5v5M123 1182.5h5m-2.5-2.5v5M123 1132.5h5m-2.5-2.5v5M123 1148.5h5m-2.5-2.5v5M123 1192.5h5m-2.5-2.5v5M124 1166.5h5m-2.5-2.5v5M124 1174.5h5m-2.5-2.5v5M124 1182.5h5m-2.5-2.5v5M124 1164.5h5m-2.5-2.5v5M124 1140.5h5m-2.5-2.5v5M124 1147.5h5m-2.5-2.5v5M124 1194.5h5m-2.5-2.5v5M125 1186.5h5m-2.5-2.5v5M125 1143.5h5m-2.5-2.5v5M125 1148.5h5m-2.5-2.5v5M125 1156.5h5m-2.5-2.5v5M125 1138.5h5m-2.5-2.5v5M125 1179.5h5m-2.5-2.5v5M125 1191.5h5m-2.5-2.5v5M126 1136.5h5m-2.5-2.5v5M126 1144.5h5m-2.5-2.5v5M126 1148.5h5m-2.5-2.5v5M126 1175.5h5m-2.5-2.5v5M126 1189.5h5m-2.5-2.5v5M126 1192.5h5m-2.5-2.5v5M126 1196.5h5m-2.5-2.5v5M127 1166.5h5m-2.5-2.5v5M127 1188.5h5m-2.5-2.5v5M128 1153.5h5m-2.5-2.5v5M128 1170.5h5m-2.5-2.5v5M128 1194.5h5m-2.5-2.5v5M129 1171.5h5m-2.5-2.5v5M129 1151.5h5m-2.5-2.5v5M129 1184.5h5m-2.5-2.5v5M129 1171.5h5m-2.5-2.5v5M129 1184.5h5m-2.5-2.5v5M129 1151.5h5m-2.5-2.5v5M129 1179.5h5m-2.5-2.5v5M130 1141.5h5m-2.5-2.5v5M130 1141.5h5m-2.5-2.5v5M130 1153.5h5m-2.5-2.5v5M130 1141.5h5m-2.5-2.5v5M131 1153.5h5m-2.5-2.5v5M131 1146.5h5m-2.5-2.5v5M131 1131.5h5m-2.5-2.5v5M132 1167.5h5m-2.5-2.5v5M132 1158.5h5m-2.5-2.5v5M133 1182.5h5m-2.5-2.5v5M133 1175.5h5m-2.5-2.5v5M133 1145.5h5m-2.5-2.5v5M134 1149.5h5m-2.5-2.5v5M134 1166.5h5m-2.5-2.5v5M134 1171.5h5m-2.5-2.5v5M134 1184.5h5m-2.5-2.5v5M135 1157.5h5m-2.5-2.5v5M135 1154.5h5m-2.5-2.5v5M135 1148.5h5m-2.5-2.5v5M135 1171.5h5m-2.5-2.5v5M136 1180.5h5m-2.5-2.5v5M136 1184.5h5m-2.5-2.5v5M136 1166.5h5m-2.5-2.5v5M137 1143.5h5m-2.5-2.5v5M137 1170.5h5m-2.5-2.5v5M137 1161.5h5m-2.5-2.5v5M137 1184.5h5m-2.5-2.5v5M138 1154.5h5m-2.5-2.5v5M138 1168.5h5m-2.5-2.5v5M138 1182.5h5m-2.5-2.5v5M138 1153.5h5m-2.5-2.5v5M138 1178.5h5m-2.5-2.5v5M139 1169.5h5m-2.5-2.5v5M139 1173.5h5m-2.5-2.5v5M139 1142.5h5m-2.5-2.5v5M140 1180.5h5m-2.5-2.5v5M140 1163.5h5m-2.5-2.5v5M140 1163.5h5m-2.5-2.5v5M141 1177.5h5m-2.5-2.5v5M141 1139.5h5m-2.5-2.5v5M141 1168.5h5m-2.5-2.5v5M142 1140.5h5m-2.5-2.5v5M142 1146.5h5m-2.5-2.5v5M143 1140.5h5m-2.5-2.5v5M143 1165.5h5m-2.5-2.5v5M143 1170.5h5m-2.5-2.5v5M143 1146.5h5m-2.5-2.5v5M143 1181.5h5m-2.5-2.5v5M143 1178.5h5m-2.5-2.5v5M143 1138.5h5m-2.5-2.5v5M144 1153.5h5m-2.5-2.5v5M144 1161.5h5m-2.5-2.5v5M144 1152.5h5m-2.5-2.5v5M145 1146.5h5m-2.5-2.5v5M145 1162.5h5m-2.5-2.5v5M145 1162.5h5m-2.5-2.5v5M145 1132.5h5m-2.5-2.5v5M146 1171.5h5m-2.5-2.5v5M147 1157.5h5m-2.5-2.5v5M147 1155.5h5m-2.5-2.5v5M148 1171.5h5m-2.5-2.5v5M148 1158.5h5m-2.5-2.5v5M148 1169.5h5m-2.5-2.5v5M149 1174.5h5m-2.5-2.5v5M149 1160.5h5m-2.5-2.5v5M149 1166.5h5m-2.5-2.5v5M149 1169.5h5m-2.5-2.5v5M149 1133.5h5m-2.5-2.5v5M150 1154.5h5m-2.5-2.5v5M150 1185.5h5m-2.5-2.5v5M151 1171.5h5m-2.5-2.5v5M151 1185.5h5m-2.5-2.5v5M151 1150.5h5m-2.5-2.5v5M151 1130.5h5m-2.5-2.5v5M151 1189.5h5m-2.5-2.5v5M152 1152.5h5m-2.5-2.5v5M152 1159.5h5m-2.5-2.5v5M152 1179.5h5m-2.5-2.5v5M152 1148.5h5m-2.5-2.5v5M152 1144.5h5m-2.5-2.5v5M152 1152.5h5m-2.5-2.5v5M153 1155.5h5m-2.5-2.5v5M153 1172.5h5m-2.5-2.5v5M153 1141.5h5m-2.5-2.5v5M153 1158.5h5m-2.5-2.5v5M153 1152.5h5m-2.5-2.5v5M154 1183.5h5m-2.5-2.5v5M154 1152.5h5m-2.5-2.5v5M154 1149.5h5m-2.5-2.5v5M154 1173.5h5m-2.5-2.5v5M155 1158.5h5m-2.5-2.5v5M155 1160.5h5m-2.5-2.5v5M155 1163.5h5m-2.5-2.5v5M157 1169.5h5m-2.5-2.5v5M157 1166.5h5m-2.5-2.5v5M157 1174.5h5m-2.5-2.5v5M158 1141.5h5m-2.5-2.5v5M159 1160.5h5m-2.5-2.5v5M159 1146.5h5m-2.5-2.5v5M159 1149.5h5m-2.5-2.5v5M159 1151.5h5m-2.5-2.5v5M159 1163.5h5m-2.5-2.5v5M159 1186.5h5m-2.5-2.5v5M159 1191.5h5m-2.5-2.5v5M160 1171.5h5m-2.5-2.5v5M160 1177.5h5m-2.5-2.5v5M160 1168.5h5m-2.5-2.5v5M160 1139.5h5m-2.5-2.5v5M160 1156.5h5m-2.5-2.5v5M161 1177.5h5m-2.5-2.5v5M161 1173.5h5m-2.5-2.5v5M161 1154.5h5m-2.5-2.5v5M161 1168.5h5m-2.5-2.5v5M161 1148.5h5m-2.5-2.5v5M162 1147.5h5m-2.5-2.5v5M162 1175.5h5m-2.5-2.5v5M162 1186.5h5m-2.5-2.5v5M162 1144.5h5m-2.5-2.5v5M163 1168.5h5m-2.5-2.5v5M163 1161.5h5m-2.5-2.5v5M163 1158.5h5m-2.5-2.5v5M164 1177.5h5m-2.5-2.5v5M164 1176.5h5m-2.5-2.5v5M164 1178.5h5m-2.5-2.5v5M165 1166.5h5m-2.5-2.5v5M165 1178.5h5m-2.5-2.5v5M165 1181.5h5m-2.5-2.5v5M165 1186.5h5m-2.5-2.5v5M165 1141.5h5m-2.5-2.5v5M165 1171.5h5m-2.5-2.5v5M166 1141.5h5m-2.5-2.5v5M166 1180.5h5m-2.5-2.5v5M166 1166.5h5m-2.5-2.5v5M166 1142.5h5m-2.5-2.5v5M166 1170.5h5m-2.5-2.5v5M166 1146.5h5m-2.5-2.5v5M166 1135.5h5m-2.5-2.5v5M167 1169.5h5m-2.5-2.5v5M167 1143.5h5m-2.5-2.5v5M167 1156.5h5m-2.5-2.5v5M167 1142.5h5m-2.5-2.5v5M167 1137.5h5m-2.5-2.5v5M168 1169.5h5m-2.5-2.5v5M169 1179.5h5m-2.5-2.5v5M169 1141.5h5m-2.5-2.5v5M170 1178.5h5m-2.5-2.5v5M170 1174.5h5m-2.5-2.5v5M170 1184.5h5m-2.5-2.5v5M170 1147.5h5m-2.5-2.5v5M170 1173.5h5m-2.5-2.5v5M170 1173.5h5m-2.5-2.5v5M171 1160.5h5m-2.5-2.5v5M171 1175.5h5m-2.5-2.5v5M172 1164.5h5m-2.5-2.5v5M172 1150.5h5m-2.5-2.5v5M172 1173.5h5m-2.5-2.5v5M172 1138.5h5m-2.5-2.5v5M173 1151.5h5m-2.5-2.5v5M173 1176.5h5m-2.5-2.5v5M173 1181.5h5m-2.5-2.5v5M173 1185.5h5m-2.5-2.5v5M174 1153.5h5m-2.5-2.5v5M174 1182.5h5m-2.5-2.5v5M174 1181.5h5m-2.5-2.5v5M174 1161.5h5m-2.5-2.5v5M174 1135.5h5m-2.5-2.5v5M175 1181.5h5m-2.5-2.5v5M175 1135.5h5m-2.5-2.5v5M176 1178.5h5m-2.5-2.5v5M176 1173.5h5m-2.5-2.5v5M176 1161.5h5m-2.5-2.5v5M176 1168.5h5m-2.5-2.5v5M176 1170.5h5m-2.5-2.5v5M176 1160.5h5m-2.5-2.5v5M176 1141.5h5m-2.5-2.5v5M177 1171.5h5m-2.5-2.5v5M177 1163.5h5m-2.5-2.5v5M177 1158.5h5m-2.5-2.5v5M177 1166.5h5m-2.5-2.5v5M177 1175.5h5m-2.5-2.5v5M177 1193.5h5m-2.5-2.5v5M178 1141.5h5m-2.5-2.5v5M178 1170.5h5m-2.5-2.5v5M178 1188.5h5m-2.5-2.5v5M178 1158.5h5m-2.5-2.5v5M178 1142.5h5m-2.5-2.5v5M178 1167.5h5m-2.5-2.5v5M179 1156.5h5m-2.5-2.5v5M180 1167.5h5m-2.5-2.5v5M180 1157.5h5m-2.5-2.5v5M180 1170.5h5m-2.5-2.5v5M181 1156.5h5m-2.5-2.5v5M181 1148.5h5m-2.5-2.5v5M182 1179.5h5m-2.5-2.5v5M182 1150.5h5m-2.5-2.5v5M182 1142.5h5m-2.5-2.5v5M183 1146.5h5m-2.5-2.5v5M183 1157.5h5m-2.5-2.5v5M183 1175.5h5m-2.5-2.5v5M184 1150.5h5m-2.5-2.5v5M184 1156.5h5m-2.5-2.5v5M184 1184.5h5m-2.5-2.5v5M184 1190.5h5m-2.5-2.5v5M184 1192.5h5m-2.5-2.5v5M184 1190.5h5m-2.5-2.5v5M185 1185.5h5m-2.5-2.5v5M185 1159.5h5m-2.5-2.5v5M185 1189.5h5m-2.5-2.5v5M186 1164.5h5m-2.5-2.5v5M186 1148.5h5m-2.5-2.5v5M186 1159.5h5m-2.5-2.5v5M186 1180.5h5m-2.5-2.5v5M186 1147.5h5m-2.5-2.5v5M186 1143.5h5m-2.5-2.5v5M186 1190.5h5m-2.5-2.5v5M187 1161.5h5m-2.5-2.5v5M188 1177.5h5m-2.5-2.5v5M188 1166.5h5m-2.5-2.5v5M189 1143.5h5m-2.5-2.5v5M190 1138.5h5m-2.5-2.5v5M191 1179.5h5m-2.5-2.5v5M191 1161.5h5m-2.5-2.5v5M191 1189.5h5m-2.5-2.5v5M191 1161.5h5m-2.5-2.5v5M191 1133.5h5m-2.5-2.5v5M192 1160.5h5m-2.5-2.5v5M192 1169.5h5m-2.5-2.5v5M192 1180.5h5m-2.5-2.5v5M192 1141.5h5m-2.5-2.5v5M192 1145.5h5m-2.5-2.5v5M192 1162.5h5m-2.5-2.5v5M193 1153.5h5m-2.5-2.5v5M193 1156.5h5m-2.5-2.5v5M193 1150.5h5m-2.5-2.5v5M193 1174.5h5m-2.5-2.5v5M193 1157.5h5m-2.5-2.5v5M194 1147.5h5m-2.5-2.5v5M194 1179.5h5m-2.5-2.5v5M194 1142.5h5m-2.5-2.5v5M194 1158.5h5m-2.5-2.5v5M194 1148.5h5m-2.5-2.5v5M194 1173.5h5m-2.5-2.5v5M194 1173.5h5m-2.5-2.5v5M194 1181.5h5m-2.5-2.5v5M195 1174.5h5m-2.5-2.5v5M195 1146.5h5m-2.5-2.5v5M195 1166.5h5m-2.5-2.5v5M195 1182.5h5m-2.5-2.5v5M195 1194.5h5m-2.5-2.5v5M196 1188.5h5m-2.5-2.5v5M196 1170.5h5m-2.5-2.5v5M196 1141.5h5m-2.5-2.5v5M196 1162.5h5m-2.5-2.5v5M196 1169.5h5m-2.5-2.5v5M196 1152.5h5m-2.5-2.5v5M196 1196.5h5m-2.5-2.5v5M197 1157.5h5m-2.5-2.5v5M198 1158.5h5m-2.5-2.5v5M198 1178.5h5m-2.5-2.5v5M198 1191.5h5m-2.5-2.5v5M199 1185.5h5m-2.5-2.5v5M199 1179.5h5m-2.5-2.5v5M199 1162.5h5m-2.5-2.5v5M200 1158.5h5m-2.5-2.5v5M200 1161.5h5m-2.5-2.5v5M200 1168.5h5m-2.5-2.5v5M200 1165.5h5m-2.5-2.5v5M200 1173.5h5m-2.5-2.5v5M200 1148.5h5m-2.5-2.5v5M200 1194.5h5m-2.5-2.5v5M201 1151.5h5m-2.5-2.5v5M201 1166.5h5m-2.5-2.5v5M201 1150.5h5m-2.5-2.5v5M201 1162.5h5m-2.5-2.5v5M201 1163.5h5m-2.5-2.5v5M201 1168.5h5m-2.5-2.5v5M201 1190.5h5m-2.5-2.5v5M202 1157.5h5m-2.5-2.5v5M202 1175.5h5m-2.5-2.5v5M202 1181.5h5m-2.5-2.5v5M202 1140.5h5m-2.5-2.5v5M203 1167.5h5m-2.5-2.5v5M203 1171.5h5m-2.5-2.5v5M203 1155.5h5m-2.5-2.5v5M203 1147.5h5m-2.5-2.5v5M203 1176.5h5m-2.5-2.5v5M203 1139.5h5m-2.5-2.5v5M204 1167.5h5m-2.5-2.5v5M204 1174.5h5m-2.5-2.5v5M204 1154.5h5m-2.5-2.5v5M204 1147.5h5m-2.5-2.5v5M205 1171.5h5m-2.5-2.5v5M205 1145.5h5m-2.5-2.5v5M205 1148.5h5m-2.5-2.5v5M205 1180.5h5m-2.5-2.5v5M206 1177.5h5m-2.5-2.5v5M206 1150.5h5m-2.5-2.5v5M207 1184.5h5m-2.5-2.5v5M207 1188.5h5m-2.5-2.5v5M207 1184.5h5m-2.5-2.5v5M207 1180.5h5m-2.5-2.5v5M207 1161.5h5m-2.5-2.5v5M207 1196.5h5m-2.5-2.5v5M208 1146.5h5m-2.5-2.5v5M208 1177.5h5m-2.5-2.5v5M208 1144.5h5m-2.5-2.5v5M208 1151.5h5m-2.5-2.5v5M209 1149.5h5m-2.5-2.5v5M209 1164.5h5m-2.5-2.5v5M209 1175.5h5m-2.5-2.5v5M209 1167.5h5m-2.5-2.5v5M209 1182.5h5m-2.5-2.5v5M209 1144.5h5m-2.5-2.5v5M209 1166.5h5m-2.5-2.5v5M209 1164.5h5m-2.5-2.5v5M209 1137.5h5m-2.5-2.5v5M210 1148.5h5m-2.5-2.5v5M210 1190.5h5m-2.5-2.5v5M210 1184.5h5m-2.5-2.5v5M210 1165.5h5m-2.5-2.5v5M210 1182.5h5m-2.5-2.5v5M210 1143.5h5m-2.5-2.5v5M210 1177.5h5m-2.5-2.5v5M211 1149.5h5m-2.5-2.5v5M211 1175.5h5m-2.5-2.5v5M212 1174.5h5m-2.5-2.5v5M212 1166.5h5m-2.5-2.5v5M212 1189.5h5m-2.5-2.5v5M212 1159.5h5m-2.5-2.5v5M212 1183.5h5m-2.5-2.5v5M212 1148.5h5m-2.5-2.5v5M212 1180.5h5m-2.5-2.5v5M212 1136.5h5m-2.5-2.5v5M212 1141.5h5m-2.5-2.5v5M213 1177.5h5m-2.5-2.5v5M213 1187.5h5m-2.5-2.5v5M213 1151.5h5m-2.5-2.5v5M213 1169.5h5m-2.5-2.5v5M213 1146.5h5m-2.5-2.5v5M213 1194.5h5m-2.5-2.5v5M214 1149.5h5m-2.5-2.5v5M214 1165.5h5m-2.5-2.5v5M214 1172.5h5m-2.5-2.5v5M214 1180.5h5m-2.5-2.5v5M214 1176.5h5m-2.5-2.5v5M215 1176.5h5m-2.5-2.5v5M215 1138.5h5m-2.5-2.5v5M215 1135.5h5m-2.5-2.5v5M216 1188.5h5m-2.5-2.5v5M216 1155.5h5m-2.5-2.5v5M216 1140.5h5m-2.5-2.5v5M217 1169.5h5m-2.5-2.5v5M218 1154.5h5m-2.5-2.5v5M218 1177.5h5m-2.5-2.5v5M218 1156.5h5m-2.5-2.5v5M218 1188.5h5m-2.5-2.5v5M218 1193.5h5m-2.5-2.5v5M219 1143.5h5m-2.5-2.5v5M219 1161.5h5m-2.5-2.5v5M219 1128.5h5m-2.5-2.5v5M220 1174.5h5m-2.5-2.5v5M220 1153.5h5m-2.5-2.5v5M220 1144.5h5m-2.5-2.5v5M220 1168.5h5m-2.5-2.5v5M220 1161.5h5m-2.5-2.5v5M220 1183.5h5m-2.5-2.5v5M221 1152.5h5m-2.5-2.5v5M221 1155.5h5m-2.5-2.5v5M221 1148.5h5m-2.5-2.5v5M221 1174.5h5m-2.5-2.5v5M221 1145.5h5m-2.5-2.5v5M222 1148.5h5m-2.5-2.5v5M222 1177.5h5m-2.5-2.5v5M222 1174.5h5m-2.5-2.5v5M222 1183.5h5m-2.5-2.5v5M223 1142.5h5m-2.5-2.5v5M224 1152.5h5m-2.5-2.5v5M224 1177.5h5m-2.5-2.5v5M224 1154.5h5m-2.5-2.5v5M224 1189.5h5m-2.5-2.5v5M224 1188.5h5m-2.5-2.5v5M224 1164.5h5m-2.5-2.5v5M224 1150.5h5m-2.5-2.5v5M224 1191.5h5m-2.5-2.5v5M225 1146.5h5m-2.5-2.5v5M225 1170.5h5m-2.5-2.5v5M225 1151.5h5m-2.5-2.5v5M225 1159.5h5m-2.5-2.5v5M225 1153.5h5m-2.5-2.5v5M225 1154.5h5m-2.5-2.5v5M225 1187.5h5m-2.5-2.5v5M225 1134.5h5m-2.5-2.5v5M226 1160.5h5m-2.5-2.5v5M226 1157.5h5m-2.5-2.5v5M226 1183.5h5m-2.5-2.5v5M227 1167.5h5m-2.5-2.5v5M227 1144.5h5m-2.5-2.5v5M227 1187.5h5m-2.5-2.5v5M227 1177.5h5m-2.5-2.5v5M227 1179.5h5m-2.5-2.5v5M229 1153.5h5m-2.5-2.5v5M229 1156.5h5m-2.5-2.5v5M229 1191.5h5m-2.5-2.5v5M230 1176.5h5m-2.5-2.5v5M230 1168.5h5m-2.5-2.5v5M230 1152.5h5m-2.5-2.5v5M230 1181.5h5m-2.5-2.5v5M231 1188.5h5m-2.5-2.5v5M231 1184.5h5m-2.5-2.5v5M231 1174.5h5m-2.5-2.5v5M232 1179.5h5m-2.5-2.5v5M232 1183.5h5m-2.5-2.5v5M233 1188.5h5m-2.5-2.5v5M233 1154.5h5m-2.5-2.5v5M233 1179.5h5m-2.5-2.5v5M233 1132.5h5m-2.5-2.5v5M234 1158.5h5m-2.5-2.5v5M234 1158.5h5m-2.5-2.5v5M235 1167.5h5m-2.5-2.5v5M235 1155.5h5m-2.5-2.5v5M235 1147.5h5m-2.5-2.5v5M235 1166.5h5m-2.5-2.5v5M235 1179.5h5m-2.5-2.5v5M235 1149.5h5m-2.5-2.5v5M235 1173.5h5m-2.5-2.5v5M235 1173.5h5m-2.5-2.5v5M236 1180.5h5m-2.5-2.5v5M236 1185.5h5m-2.5-2.5v5M236 1187.5h5m-2.5-2.5v5M237 1189.5h5m-2.5-2.5v5M237 1185.5h5m-2.5-2.5v5M237 1151.5h5m-2.5-2.5v5M237 1159.5h5m-2.5-2.5v5M237 1186.5h5m-2.5-2.5v5M237 1189.5h5m-2.5-2.5v5M238 1155.5h5m-2.5-2.5v5M238 1142.5h5m-2.5-2.5v5M239 1178.5h5m-2.5-2.5v5M239 1181.5h5m-2.5-2.5v5M239 1163.5h5m-2.5-2.5v5M239 1152.5h5m-2.5-2.5v5M240 1147.5h5m-2.5-2.5v5M240 1161.5h5m-2.5-2.5v5M240 1185.5h5m-2.5-2.5v5M240 1158.5h5m-2.5-2.5v5M240 1137.5h5m-2.5-2.5v5M241 1189.5h5m-2.5-2.5v5M241 1188.5h5m-2.5-2.5v5M241 1154.5h5m-2.5-2.5v5M241 1142.5h5m-2.5-2.5v5M242 1188.5h5m-2.5-2.5v5M242 1150.5h5m-2.5-2.5v5M242 1156.5h5m-2.5-2.5v5M242 1193.5h5m-2.5-2.5v5M243 1169.5h5m-2.5-2.5v5M243 1157.5h5m-2.5-2.5v5M243 1135.5h5m-2.5-2.5v5M244 1148.5h5m-2.5-2.5v5M244 1172.5h5m-2.5-2.5v5M244 1178.5h5m-2.5-2.5v5M244 1172.5h5m-2.5-2.5v5M244 1148.5h5m-2.5-2.5v5M245 1168.5h5m-2.5-2.5v5M245 1168.5h5m-2.5-2.5v5M245 1154.5h5m-2.5-2.5v5M245 1183.5h5m-2.5-2.5v5M245 1175.5h5m-2.5-2.5v5M245 1127.5h5m-2.5-2.5v5M246 1166.5h5m-2.5-2.5v5M246 1188.5h5m-2.5-2.5v5M246 1193.5h5m-2.5-2.5v5M247 1146.5h5m-2.5-2.5v5M247 1174.5h5m-2.5-2.5v5M247 1175.5h5m-2.5-2.5v5M247 1167.5h5m-2.5-2.5v5M248 1156.5h5m-2.5-2.5v5M248 1187.5h5m-2.5-2.5v5M248 1168.5h5m-2.5-2.5v5M249 1177.5h5m-2.5-2.5v5M250 1186.5h5m-2.5-2.5v5M250 1166.5h5m-2.5-2.5v5M251 1153.5h5m-2.5-2.5v5M251 1152.5h5m-2.5-2.5v5M251 1170.5h5m-2.5-2.5v5M251 1153.5h5m-2.5-2.5v5M251 1190.5h5m-2.5-2.5v5M251 1189.5h5m-2.5-2.5v5M251 1133.5h5m-2.5-2.5v5M252 1190.5h5m-2.5-2.5v5M252 1159.5h5m-2.5-2.5v5M252 1184.5h5m-2.5-2.5v5M252 1184.5h5m-2.5-2.5v5M253 1188.5h5m-2.5-2.5v5M253 1153.5h5m-2.5-2.5v5M253 1189.5h5m-2.5-2.5v5M254 1179.5h5m-2.5-2.5v5M254 1160.5h5m-2.5-2.5v5M254 1148.5h5m-2.5-2.5v5M254 1190.5h5m-2.5-2.5v5M255 1176.5h5m-2.5-2.5v5M255 1144.5h5m-2.5-2.5v5M256 1185.5h5m-2.5-2.5v5M256 1150.5h5m-2.5-2.5v5M256 1145.5h5m-2.5-2.5v5M256 1194.5h5m-2.5-2.5v5M257 1170.5h5m-2.5-2.5v5M257 1156.5h5m-2.5-2.5v5M257 1183.5h5m-2.5-2.5v5M257 1178.5h5m-2.5-2.5v5M257 1194.5h5m-2.5-2.5v5M257 1197.5h5m-2.5-2.5v5M258 1155.5h5m-2.5-2.5v5M258 1153.5h5m-2.5-2.5v5M258 1163.5h5m-2.5-2.5v5M258 1142.5h5m-2.5-2.5v5M259 1155.5h5m-2.5-2.5v5M259 1153.5h5m-2.5-2.5v5M259 1179.5h5m-2.5-2.5v5M259 1187.5h5m-2.5-2.5v5M260 1165.5h5m-2.5-2.5v5M260 1159.5h5m-2.5-2.5v5M260 1190.5h5m-2.5-2.5v5M261 1183.5h5m-2.5-2.5v5M262 1170.5h5m-2.5-2.5v5M262 1166.5h5m-2.5-2.5v5M262 1160.5h5m-2.5-2.5v5M262 1172.5h5m-2.5-2.5v5M262 1151.5h5m-2.5-2.5v5M263 1177.5h5m-2.5-2.5v5M263 1149.5h5m-2.5-2.5v5M263 1158.5h5m-2.5-2.5v5M263 1153.5h5m-2.5-2.5v5M263 1184.5h5m-2.5-2.5v5M263 1143.5h5m-2.5-2.5v5M264 1161.5h5m-2.5-2.5v5M264 1175.5h5m-2.5-2.5v5M264 1181.5h5m-2.5-2.5v5M264 1170.5h5m-2.5-2.5v5M265 1181.5h5m-2.5-2.5v5M265 1175.5h5m-2.5-2.5v5M265 1155.5h5m-2.5-2.5v5M265 1193.5h5m-2.5-2.5v5M266 1152.5h5m-2.5-2.5v5M266 1150.5h5m-2.5-2.5v5M266 1172.5h5m-2.5-2.5v5M266 1141.5h5m-2.5-2.5v5M267 1163.5h5m-2.5-2.5v5M267 1151.5h5m-2.5-2.5v5M267 1145.5h5m-2.5-2.5v5M268 1173.5h5m-2.5-2.5v5M268 1172.5h5m-2.5-2.5v5M269 1148.5h5m-2.5-2.5v5M269 1168.5h5m-2.5-2.5v5M269 1173.5h5m-2.5-2.5v5M269 1154.5h5m-2.5-2.5v5M270 1160.5h5m-2.5-2.5v5M270 1172.5h5m-2.5-2.5v5M270 1139.5h5m-2.5-2.5v5M270 1193.5h5m-2.5-2.5v5M271 1149.5h5m-2.5-2.5v5M271 1150.5h5m-2.5-2.5v5M271 1184.5h5m-2.5-2.5v5M272 1177.5h5m-2.5-2.5v5M272 1172.5h5m-2.5-2.5v5M272 1166.5h5m-2.5-2.5v5M272 1156.5h5m-2.5-2.5v5M272 1154.5h5m-2.5-2.5v5M272 1135.5h5m-2.5-2.5v5M273 1165.5h5m-2.5-2.5v5M273 1174.5h5m-2.5-2.5v5M273 1171.5h5m-2.5-2.5v5M274 1152.5h5m-2.5-2.5v5M274 1154.5h5m-2.5-2.5v5M275 1183.5h5m-2.5-2.5v5M275 1176.5h5m-2.5-2.5v5M276 1181.5h5m-2.5-2.5v5M276 1176.5h5m-2.5-2.5v5M276 1182.5h5m-2.5-2.5v5M276 1137.5h5m-2.5-2.5v5M277 1150.5h5m-2.5-2.5v5M277 1150.5h5m-2.5-2.5v5M278 1170.5h5m-2.5-2.5v5M278 1170.5h5m-2.5-2.5v5M278 1179.5h5m-2.5-2.5v5M279 1178.5h5m-2.5-2.5v5M279 1170.5h5m-2.5-2.5v5M279 1167.5h5m-2.5-2.5v5M279 1190.5h5m-2.5-2.5v5M280 1159.5h5m-2.5-2.5v5M281 1153.5h5m-2.5-2.5v5M281 1144.5h5m-2.5-2.5v5M282 1178.5h5m-2.5-2.5v5M282 1162.5h5m-2.5-2.5v5M282 1156.5h5m-2.5-2.5v5M282 1139.5h5m-2.5-2.5v5M282 1185.5h5m-2.5-2.5v5M283 1161.5h5m-2.5-2.5v5M283 1172.5h5m-2.5-2.5v5M283 1183.5h5m-2.5-2.5v5M284 1158.5h5m-2.5-2.5v5M284 1164.5h5m-2.5-2.5v5M285 1177.5h5m-2.5-2.5v5M285 1165.5h5m-2.5-2.5v5M285 1147.5h5m-2.5-2.5v5M286 1159.5h5m-2.5-2.5v5M288 1149.5h5m-2.5-2.5v5M289 1152.5h5m-2.5-2.5v5M289 1180.5h5m-2.5-2.5v5M291 1166.5h5m-2.5-2.5v5M291 1162.5h5m-2.5-2.5v5M291 1146.5h5m-2.5-2.5v5M291 1183.5h5m-2.5-2.5v5M292 1173.5h5m-2.5-2.5v5M292 1160.5h5m-2.5-2.5v5M293 1151.5h5m-2.5-2.5v5M294 1168.5h5m-2.5-2.5v5M294 1177.5h5m-2.5-2.5v5M294 1166.5h5m-2.5-2.5v5M294 1160.5h5m-2.5-2.5v5M294 1167.5h5m-2.5-2.5v5M295 1158.5h5m-2.5-2.5v5M295 1172.5h5m-2.5-2.5v5M296 1169.5h5m-2.5-2.5v5M297 1149.5h5m-2.5-2.5v5M298 1163.5h5m-2.5-2.5v5M298 1164.5h5m-2.5-2.5v5M298 1168.5h5m-2.5-2.5v5M298 1172.5h5m-2.5-2.5v5M299 1171.5h5m-2.5-2.5v5M300 1172.5h5m-2.5-2.5v5M300 1160.5h5m-2.5-2.5v5M300 1158.5h5m-2.5-2.5v5M301 1152.5h5m-2.5-2.5v5M301 1167.5h5m-2.5-2.5v5M301 1171.5h5m-2.5-2.5v5M301 1181.5h5m-2.5-2.5v5M302 1152.5h5m-2.5-2.5v5M302 1162.5h5m-2.5-2.5v5M302 1178.5h5m-2.5-2.5v5M303 1169.5h5m-2.5-2.5v5M303 1160.5h5m-2.5-2.5v5M304 1175.5h5m-2.5-2.5v5M304 1141.5h5m-2.5-2.5v5M305 1160.5h5m-2.5-2.5v5M305 1170.5h5m-2.5-2.5v5M305 1173.5h5m-2.5-2.5v5M305 1168.5h5m-2.5-2.5v5M305 1160.5h5m-2.5-2.5v5M306 1174.5h5m-2.5-2.5v5M306 1175.5h5m-2.5-2.5v5M307 1172.5h5m-2.5-2.5v5M307 1163.5h5m-2.5-2.5v5M307 1179.5h5m-2.5-2.5v5M308 1167.5h5m-2.5-2.5v5M308 1169.5h5m-2.5-2.5v5M308 1148.5h5m-2.5-2.5v5M309 1144.5h5m-2.5-2.5v5M311 1171.5h5m-2.5-2.5v5M311 1158.5h5m-2.5-2.5v5M311 1168.5h5m-2.5-2.5v5M311 1171.5h5m-2.5-2.5v5M312 1159.5h5m-2.5-2.5v5M312 1171.5h5m-2.5-2.5v5M312 1143.5h5m-2.5-2.5v5M313 1159.5h5m-2.5-2.5v5M313 1152.5h5m-2.5-2.5v5M314 1169.5h5m-2.5-2.5v5M315 1152.5h5m-2.5-2.5v5M315 1156.5h5m-2.5-2.5v5M317 1171.5h5m-2.5-2.5v5M318 1155.5h5m-2.5-2.5v5M318 1145.5h5m-2.5-2.5v5M319 1159.5h5m-2.5-2.5v5M319 1174.5h5m-2.5-2.5v5M320 1172.5h5m-2.5-2.5v5M320 1161.5h5m-2.5-2.5v5M321 1167.5h5m-2.5-2.5v5M322 1163.5h5m-2.5-2.5v5M324 1160.5h5m-2.5-2.5v5M325 1172.5h5m-2.5-2.5v5M325 1165.5h5m-2.5-2.5v5M326 1175.5h5m-2.5-2.5v5M328 1161.5h5m-2.5-2.5v5M328 1170.5h5m-2.5-2.5v5M329 1171.5h5m-2.5-2.5v5M329 1161.5h5m-2.5-2.5v5M331 1170.5h5m-2.5-2.5v5M331 1158.5h5m-2.5-2.5v5M331 1172.5h5m-2.5-2.5v5M331 1166.5h5m-2.5-2.5v5M331 1147.5h5m-2.5-2.5v5M332 1156.5h5m-2.5-2.5v5M333 1174.5h5m-2.5-2.5v5M333 1148.5h5m-2.5-2.5v5M333 1147.5h5m-2.5-2.5v5M333 1175.5h5m-2.5-2.5v5M334 1171.5h5m-2.5-2.5v5M334 1155.5h5m-2.5-2.5v5M334 1164.5h5m-2.5-2.5v5M334 1165.5h5m-2.5-2.5v5M334 1149.5h5m-2.5-2.5v5M335 1161.5h5m-2.5-2.5v5M335 1180.5h5m-2.5-2.5v5M336 1162.5h5m-2.5-2.5v5M336 1176.5h5m-2.5-2.5v5M337 1156.5h5m-2.5-2.5v5M340 1159.5h5m-2.5-2.5v5M340 1168.5h5m-2.5-2.5v5M341 1163.5h5m-2.5-2.5v5M341 1158.5h5m-2.5-2.5v5M341 1159.5h5m-2.5-2.5v5M341 1153.5h5m-2.5-2.5v5M342 1166.5h5m-2.5-2.5v5M346 1174.5h5m-2.5-2.5v5M347 1166.5h5m-2.5-2.5v5M347 1174.5h5m-2.5-2.5v5M350 1157.5h5m-2.5-2.5v5M351 1173.5h5m-2.5-2.5v5M353 1157.5h5m-2.5-2.5v5M356 1170.5h5m-2.5-2.5v5M358 1171.5h5m-2.5-2.5v5M359 1159.5h5m-2.5-2.5v5M359 1163.5h5m-2.5-2.5v5M360 1168.5h5m-2.5-2.5v5M360 1168.5h5m-2.5-2.5v5M362 1169.5h5m-2.5-2.5v5M366 1154.5h5m-2.5-2.5v5M367 1172.5h5m-2.5-2.5v5M368 1173.5h5m-2.5-2.5v5M368 1176.5h5m-2.5-2.5v5M374 1156.5h5m-2.5-2.5v5M375 1171.5h5m-2.5-2.5v5M376 1167.5h5m-2.5-2.5v5M378 1173.5h5m-2.5-2.5v5M381 1162.5h5m-2.5-2.5v5M382 1166.5h5m-2.5-2.5v5M383 1162.5h5m-2.5-2.5v5M385 1153.5h5m-2.5-2.5v5M386 1169.5h5m-2.5-2.5v5M386 1170.5h5m-2.5-2.5v5M387 1170.5h5m-2.5-2.5v5M391 1170.5h5m-2.5-2.5v5M391 1157.5h5m-2.5-2.5v5M395 1166.5h5m-2.5-2.5v5M401 1162.5h5m-2.5-2.5v5M402 1161.5h5m-2.5-2.5v5M403 1162.5h5m-2.5-2.5v5M404 1161.5h5m-2.5-2.5v5M408 1163.5h5m-2.5-2.5v5M410 1170.5h5m-2.5-2.5v5M416 1168.5h5m-2.5-2.5v5M416 1165.5h5m-2.5-2.5v5M416 1173.5h5m-2.5-2.5v5M418 1167.5h5m-2.5-2.5v5M422 1166.5h5m-2.5-2.5v5M431 1162.5h5m-2.5-2.5v5M444 1171.5h5m-2.5-2.5v5M85 1167.5h5m-2.5-2.5v5M86 1166.5h5m-2.5-2.5v5M76 1154.5h5m-2.5-2.5v5M97 1181.5h5m-2.5-2.5v5M75 1159.5h5m-2.5-2.5v5M65 1153.5h5m-2.5-2.5v5M87 1174.5h5m-2.5-2.5v5M70 1160.5h5m-2.5-2.5v5M97 1173.5h5m-2.5-2.5v5M102 1177.5h5m-2.5-2.5v5M88 1172.5h5m-2.5-2.5v5M80 1170.5h5m-2.5-2.5v5M96 1180.5h5m-2.5-2.5v5M106 1185.5h5m-2.5-2.5v5M86 1171.5h5m-2.5-2.5v5M107 1192.5h5m-2.5-2.5v5M86 1174.5h5m-2.5-2.5v5M83 1164.5h5m-2.5-2.5v5M106 1188.5h5m-2.5-2.5v5M86 1163.5h5m-2.5-2.5v5M84 1173.5h5m-2.5-2.5v5M92 1172.5h5m-2.5-2.5v5M106 1187.5h5m-2.5-2.5v5M104 1189.5h5m-2.5-2.5v5M108 1193.5h5m-2.5-2.5v5M77 1156.5h5m-2.5-2.5v5M91 1175.5h5m-2.5-2.5v5M78 1157.5h5m-2.5-2.5v5M69 1150.5h5m-2.5-2.5v5M97 1172.5h5m-2.5-2.5v5M101 1180.5h5m-2.5-2.5v5M66 1150.5h5m-2.5-2.5v5M102 1186.5h5m-2.5-2.5v5M79 1163.5h5m-2.5-2.5v5M65 1145.5h5m-2.5-2.5v5M185 1127.5h5m-2.5-2.5v5M384 1148.5h5m-2.5-2.5v5M216 1120.5h5m-2.5-2.5v5M287 1125.5h5m-2.5-2.5v5M254 1117.5h5m-2.5-2.5v5M354 1141.5h5m-2.5-2.5v5M292 1108.5h5m-2.5-2.5v5M268 1096.5h5m-2.5-2.5v5M193 1112.5h5m-2.5-2.5v5M260 1190.5h5m-2.5-2.5v5M191 1189.5h5m-2.5-2.5v5M227 1108.5h5m-2.5-2.5v5M449 1158.5h5m-2.5-2.5v5M171 1106.5h5m-2.5-2.5v5M258 1078.5h5m-2.5-2.5v5M401 1138.5h5m-2.5-2.5v5M157 1107.5h5m-2.5-2.5v5M108 1075.5h5m-2.5-2.5v5M273 1187.5h5m-2.5-2.5v5M347 1136.5h5m-2.5-2.5v5M263 1188.5h5m-2.5-2.5v5M237 1191.5h5m-2.5-2.5v5M73 1149.5h5m-2.5-2.5v5M78 1120.5h5m-2.5-2.5v5M401 1128.5h5m-2.5-2.5v5M100 1180.5h5m-2.5-2.5v5M140 1096.5h5m-2.5-2.5v5M119 1207.5h5m-2.5-2.5v5M394 1173.5h5m-2.5-2.5v5M100 1127.5h5m-2.5-2.5v5M369 1126.5h5m-2.5-2.5v5M325 1113.5h5m-2.5-2.5v5M319 1085.5h5m-2.5-2.5v5M393 1126.5h5m-2.5-2.5v5M348 1133.5h5m-2.5-2.5v5M310 1096.5h5m-2.5-2.5v5M317 1136.5h5m-2.5-2.5v5M148 1111.5h5m-2.5-2.5v5M389 1137.5h5m-2.5-2.5v5M275 1186.5h5m-2.5-2.5v5M466 1176.5h5m-2.5-2.5v5M381 1144.5h5m-2.5-2.5v5M360 1099.5h5m-2.5-2.5v5M289 1128.5h5m-2.5-2.5v5M416 1153.5h5m-2.5-2.5v5M339 1137.5h5m-2.5-2.5v5M193 1119.5h5m-2.5-2.5v5M309 1184.5h5m-2.5-2.5v5M370 1173.5h5m-2.5-2.5v5M255 1087.5h5m-2.5-2.5v5M261 1092.5h5m-2.5-2.5v5M252 1077.5h5m-2.5-2.5v5M272 1083.5h5m-2.5-2.5v5M243 1088.5h5m-2.5-2.5v5M184 1098.5h5m-2.5-2.5v5M185 1101.5h5m-2.5-2.5v5M174 1122.5h5m-2.5-2.5v5M161 1124.5h5m-2.5-2.5v5M169 1115.5h5m-2.5-2.5v5M170 1127.5h5m-2.5-2.5v5M178 1116.5h5m-2.5-2.5v5M188 1128.5h5m-2.5-2.5v5M112 1123.5h5m-2.5-2.5v5M122 1117.5h5m-2.5-2.5v5M119 1120.5h5m-2.5-2.5v5M115 1120.5h5m-2.5-2.5v5M113 1127.5h5m-2.5-2.5v5M116 1120.5h5m-2.5-2.5v5M110 1105.5h5m-2.5-2.5v5M116 1123.5h5m-2.5-2.5v5M115 1099.5h5m-2.5-2.5v5M112 1114.5h5m-2.5-2.5v5M113 1123.5h5m-2.5-2.5v5M117 1127.5h5m-2.5-2.5v5" stroke="#444" stroke-opacity="0.56" stroke-width="1.2" fill="none"/>
<path d="M61 1131.5h5m-2.5-2.5v5M61 1133.5h5m-2.5-2.5v5M61 1137.5h5m-2.5-2.5v5M63 1137.5h5m-2.5-2.5v5M65 1129.5h5m-2.5-2.5v5M67 1142.5h5m-2.5-2.5v5M67 1143.5h5m-2.5-2.5v5M67 1124.5h5m-2.5-2.5v5M69 1135.5h5m-2.5-2.5v5M69 1124.5h5m-2.5-2.5v5M70 1127.5h5m-2.5-2.5v5M71 1146.5h5m-2.5-2.5v5M72 1144.5h5m-2.5-2.5v5M72 1122.5h5m-2.5-2.5v5M73 1133.5h5m-2.5-2.5v5M73 1152.5h5m-2.5-2.5v5M74 1149.5h5m-2.5-2.5v5M74 1128.5h5m-2.5-2.5v5M74 1127.5h5m-2.5-2.5v5M75 1158.5h5m-2.5-2.5v5M76 1141.5h5m-2.5-2.5v5M78 1149.5h5m-2.5-2.5v5M78 1143.5h5m-2.5-2.5v5M78 1130.5h5m-2.5-2.5v5M79 1152.5h5m-2.5-2.5v5M80 1150.5h5m-2.5-2.5v5M81 1146.5h5m-2.5-2.5v5M81 1144.5h5m-2.5-2.5v5M82 1144.5h5m-2.5-2.5v5M82 1136.5h5m-2.5-2.5v5M84 1145.5h5m-2.5-2.5v5M86 1131.5h5m-2.5-2.5v5M87 1154.5h5m-2.5-2.5v5M87 1133.5h5m-2.5-2.5v5M87 1157.5h5m-2.5-2.5v5M87 1159.5h5m-2.5-2.5v5M88 1138.5h5m-2.5-2.5v5M88 1137.5h5m-2.5-2.5v5M88 1144.5h5m-2.5-2.5v5M89 1136.5h5m-2.5-2.5v5M89 1135.5h5m-2.5-2.5v5M89 1144.5h5m-2.5-2.5v5M90 1148.5h5m-2.5-2.5v5M90 1150.5h5m-2.5-2.5v5M91 1157.5h5m-2.5-2.5v5M91 1155.5h5m-2.5-2.5v5M91 1147.5h5m-2.5-2.5v5M91 1147.5h5m-2.5-2.5v5M92 1125.5h5m-2.5-2.5v5M92 1125.5h5m-2.5-2.5v5M93 1156.5h5m-2.5-2.5v5M93 1151.5h5m-2.5-2.5v5M94 1155.5h5m-2.5-2.5v5M95 1146.5h5m-2.5-2.5v5M95 1153.5h5m-2.5-2.5v5M96 1135.5h5m-2.5-2.5v5M96 1139.5h5m-2.5-2.5v5M96 1136.5h5m-2.5-2.5v5M96 1129.5h5m-2.5-2.5v5M97 1168.5h5m-2.5-2.5v5M99 1144.5h5m-2.5-2.5v5M101 1164.5h5m-2.5-2.5v5M101 1142.5h5m-2.5-2.5v5M102 1167.5h5m-2.5-2.5v5M102 1170.5h5m-2.5-2.5v5M102 1147.5h5m-2.5-2.5v5M103 1173.5h5m-2.5-2.5v5M104 1156.5h5m-2.5-2.5v5M104 1161.5h5m-2.5-2.5v5M104 1163.5h5m-2.5-2.5v5M104 1163.5h5m-2.5-2.5v5M104 1132.5h5m-2.5-2.5v5M105 1170.5h5m-2.5-2.5v5M105 1146.5h5m-2.5-2.5v5M106 1162.5h5m-2.5-2.5v5M107 1183.5h5m-2.5-2.5v5M107 1140.5h5m-2.5-2.5v5M107 1138.5h5m-2.5-2.5v5M107 1145.5h5m-2.5-2.5v5M107 1174.5h5m-2.5-2.5v5M108 1137.5h5m-2.5-2.5v5M108 1160.5h5m-2.5-2.5v5M108 1143.5h5m-2.5-2.5v5M108 1152.5h5m-2.5-2.5v5M109 1175.5h5m-2.5-2.5v5M109 1148.5h5m-2.5-2.5v5M109 1149.5h5m-2.5-2.5v5M109 1160.5h5m-2.5-2.5v5M109 1141.5h5m-2.5-2.5v5M110 1165.5h5m-2.5-2.5v5M110 1164.5h5m-2.5-2.5v5M110 1156.5h5m-2.5-2.5v5M110 1138.5h5m-2.5-2.5v5M110 1172.5h5m-2.5-2.5v5M110 1173.5h5m-2.5-2.5v5M111 1148.5h5m-2.5-2.5v5M111 1173.5h5m-2.5-2.5v5M111 1181.5h5m-2.5-2.5v5M111 1161.5h5m-2.5-2.5v5M112 1179.5h5m-2.5-2.5v5M112 1145.5h5m-2.5-2.5v5M112 1185.5h5m-2.5-2.5v5M112 1153.5h5m-2.5-2.5v5M112 1126.5h5m-2.5-2.5v5M113 1186.5h5m-2.5-2.5v5M113 1139.5h5m-2.5-2.5v5M113 1158.5h5m-2.5-2.5v5M114 1177.5h5m-2.5-2.5v5M114 1188.5h5m-2.5-2.5v5M114 1130.5h5m-2.5-2.5v5M114 1176.5h5m-2.5-2.5v5M114 1145.5h5m-2.5-2.5v5M114 1186.5h5m-2.5-2.5v5M114 1137.5h5m-2.5-2.5v5M114 1138.5h5m-2.5-2.5v5M115 1153.5h5m-2.5-2.5v5M115 1119.5h5m-2.5-2.5v5M115 1190.5h5m-2.5-2.5v5M116 1172.5h5m-2.5-2.5v5M116 1133.5h5m-2.5-2.5v5M117 1165.5h5m-2.5-2.5v5M117 1154.5h5m-2.5-2.5v5M117 1124.5h5m-2.5-2.5v5M117 1126.5h5m-2.5-2.5v5M118 1175.5h5m-2.5-2.5v5M118 1178.5h5m-2.5-2.5v5M118 1192.5h5m-2.5-2.5v5M119 1162.5h5m-2.5-2.5v5M119 1134.5h5m-2.5-2.5v5M120 1163.5h5m-2.5-2.5v5M120 1157.5h5m-2.5-2.5v5M120 1178.5h5m-2.5-2.5v5M120 1166.5h5m-2.5-2.5v5M120 1174.5h5m-2.5-2.5v5M120 1178.5h5m-2.5-2.5v5M120 1139.5h5m-2.5-2.5v5M120 1153.5h5m-2.5-2.5v5M120 1144.5h5m-2.5-2.5v5M120 1128.5h5m-2.5-2.5v5M120 1116.5h5m-2.5-2.5v5M121 1185.5h5m-2.5-2.5v5M121 1189.5h5m-2.5-2.5v5M122 1133.5h5m-2.5-2.5v5M122 1145.5h5m-2.5-2.5v5M122 1156.5h5m-2.5-2.5v5M122 1161.5h5m-2.5-2.5v5M122 1154.5h5m-2.5-2.5v5M123 1171.5h5m-2.5-2.5v5M123 1132.5h5m-2.5-2.5v5M123 1144.5h5m-2.5-2.5v5M123 1155.5h5m-2.5-2.5v5M123 1184.5h5m-2.5-2.5v5M123 1184.5h5m-2.5-2.5v5M123 1187.5h5m-2.5-2.5v5M123 1163.5h5m-2.5-2.5v5M123 1124.5h5m-2.5-2.5v5M124 1174.5h5m-2.5-2.5v5M124 1181.5h5m-2.5-2.5v5M124 1157.5h5m-2.5-2.5v5M125 1181.5h5m-2.5-2.5v5M125 1147.5h5m-2.5-2.5v5M125 1172.5h5m-2.5-2.5v5M125 1149.5h5m-2.5-2.5v5M125 1123.5h5m-2.5-2.5v5M125 1195.5h5m-2.5-2.5v5M126 1142.5h5m-2.5-2.5v5M126 1149.5h5m-2.5-2.5v5M126 1184.5h5m-2.5-2.5v5M127 1146.5h5m-2.5-2.5v5M127 1178.5h5m-2.5-2.5v5M127 1163.5h5m-2.5-2.5v5M127 1136.5h5m-2.5-2.5v5M127 1157.5h5m-2.5-2.5v5M127 1157.5h5m-2.5-2.5v5M127 1160.5h5m-2.5-2.5v5M127 1151.5h5m-2.5-2.5v5M128 1185.5h5m-2.5-2.5v5M128 1151.5h5m-2.5-2.5v5M128 1177.5h5m-2.5-2.5v5M128 1182.5h5m-2.5-2.5v5M128 1170.5h5m-2.5-2.5v5M128 1158.5h5m-2.5-2.5v5M129 1138.5h5m-2.5-2.5v5M129 1187.5h5m-2.5-2.5v5M129 1168.5h5m-2.5-2.5v5M129 1164.5h5m-2.5-2.5v5M130 1163.5h5m-2.5-2.5v5M130 1172.5h5m-2.5-2.5v5M130 1180.5h5m-2.5-2.5v5M130 1168.5h5m-2.5-2.5v5M130 1128.5h5m-2.5-2.5v5M130 1132.5h5m-2.5-2.5v5M131 1177.5h5m-2.5-2.5v5M131 1149.5h5m-2.5-2.5v5M131 1172.5h5m-2.5-2.5v5M131 1145.5h5m-2.5-2.5v5M132 1158.5h5m-2.5-2.5v5M132 1166.5h5m-2.5-2.5v5M133 1175.5h5m-2.5-2.5v5M133 1177.5h5m-2.5-2.5v5M133 1186.5h5m-2.5-2.5v5M133 1147.5h5m-2.5-2.5v5M133 1151.5h5m-2.5-2.5v5M134 1183.5h5m-2.5-2.5v5M134 1159.5h5m-2.5-2.5v5M134 1164.5h5m-2.5-2.5v5M135 1168.5h5m-2.5-2.5v5M135 1164.5h5m-2.5-2.5v5M135 1138.5h5m-2.5-2.5v5M136 1145.5h5m-2.5-2.5v5M136 1162.5h5m-2.5-2.5v5M136 1149.5h5m-2.5-2.5v5M136 1149.5h5m-2.5-2.5v5M137 1162.5h5m-2.5-2.5v5M137 1156.5h5m-2.5-2.5v5M137 1188.5h5m-2.5-2.5v5M138 1147.5h5m-2.5-2.5v5M138 1147.5h5m-2.5-2.5v5M138 1170.5h5m-2.5-2.5v5M138 1173.5h5m-2.5-2.5v5M138 1162.5h5m-2.5-2.5v5M138 1182.5h5m-2.5-2.5v5M138 1139.5h5m-2.5-2.5v5M138 1179.5h5m-2.5-2.5v5M139 1139.5h5m-2.5-2.5v5M140 1147.5h5m-2.5-2.5v5M140 1140.5h5m-2.5-2.5v5M140 1177.5h5m-2.5-2.5v5M140 1177.5h5m-2.5-2.5v5M141 1165.5h5m-2.5-2.5v5M141 1183.5h5m-2.5-2.5v5M141 1143.5h5m-2.5-2.5v5M142 1174.5h5m-2.5-2.5v5M142 1144.5h5m-2.5-2.5v5M142 1146.5h5m-2.5-2.5v5M142 1175.5h5m-2.5-2.5v5M142 1174.5h5m-2.5-2.5v5M142 1139.5h5m-2.5-2.5v5M142 1188.5h5m-2.5-2.5v5M142 1187.5h5m-2.5-2.5v5M143 1178.5h5m-2.5-2.5v5M143 1162.5h5m-2.5-2.5v5M143 1164.5h5m-2.5-2.5v5M144 1144.5h5m-2.5-2.5v5M144 1154.5h5m-2.5-2.5v5M144 1171.5h5m-2.5-2.5v5M145 1153.5h5m-2.5-2.5v5M145 1149.5h5m-2.5-2.5v5M145 1159.5h5m-2.5-2.5v5M145 1144.5h5m-2.5-2.5v5M145 1145.5h5m-2.5-2.5v5M146 1153.5h5m-2.5-2.5v5M147 1143.5h5m-2.5-2.5v5M147 1192.5h5m-2.5-2.5v5M148 1153.5h5m-2.5-2.5v5M148 1145.5h5m-2.5-2.5v5M148 1142.5h5m-2.5-2.5v5M148 1187.5h5m-2.5-2.5v5M149 1174.5h5m-2.5-2.5v5M149 1171.5h5m-2.5-2.5v5M149 1148.5h5m-2.5-2.5v5M149 1162.5h5m-2.5-2.5v5M149 1146.5h5m-2.5-2.5v5M149 1135.5h5m-2.5-2.5v5M150 1151.5h5m-2.5-2.5v5M150 1160.5h5m-2.5-2.5v5M150 1146.5h5m-2.5-2.5v5M150 1187.5h5m-2.5-2.5v5M151 1173.5h5m-2.5-2.5v5M151 1176.5h5m-2.5-2.5v5M151 1173.5h5m-2.5-2.5v5M151 1150.5h5m-2.5-2.5v5M151 1172.5h5m-2.5-2.5v5M151 1139.5h5m-2.5-2.5v5M151 1168.5h5m-2.5-2.5v5M151 1161.5h5m-2.5-2.5v5M152 1162.5h5m-2.5-2.5v5M152 1178.5h5m-2.5-2.5v5M152 1167.5h5m-2.5-2.5v5M152 1146.5h5m-2.5-2.5v5M152 1158.5h5m-2.5-2.5v5M153 1166.5h5m-2.5-2.5v5M153 1153.5h5m-2.5-2.5v5M153 1168.5h5m-2.5-2.5v5M154 1170.5h5m-2.5-2.5v5M156 1159.5h5m-2.5-2.5v5M156 1181.5h5m-2.5-2.5v5M156 1165.5h5m-2.5-2.5v5M157 1154.5h5m-2.5-2.5v5M157 1141.5h5m-2.5-2.5v5M157 1152.5h5m-2.5-2.5v5M157 1136.5h5m-2.5-2.5v5M157 1187.5h5m-2.5-2.5v5M158 1148.5h5m-2.5-2.5v5M158 1157.5h5m-2.5-2.5v5M158 1173.5h5m-2.5-2.5v5M158 1137.5h5m-2.5-2.5v5M159 1144.5h5m-2.5-2.5v5M159 1177.5h5m-2.5-2.5v5M159 1170.5h5m-2.5-2.5v5M159 1154.5h5m-2.5-2.5v5M159 1153.5h5m-2.5-2.5v5M159 1169.5h5m-2.5-2.5v5M159 1167.5h5m-2.5-2.5v5M160 1153.5h5m-2.5-2.5v5M160 1161.5h5m-2.5-2.5v5M160 1142.5h5m-2.5-2.5v5M161 1181.5h5m-2.5-2.5v5M161 1142.5h5m-2.5-2.5v5M161 1182.5h5m-2.5-2.5v5M161 1168.5h5m-2.5-2.5v5M162 1164.5h5m-2.5-2.5v5M162 1176.5h5m-2.5-2.5v5M162 1182.5h5m-2.5-2.5v5M162 1176.5h5m-2.5-2.5v5M162 1175.5h5m-2.5-2.5v5M162 1138.5h5m-2.5-2.5v5M162 1138.5h5m-2.5-2.5v5M163 1168.5h5m-2.5-2.5v5M163 1175.5h5m-2.5-2.5v5M163 1141.5h5m-2.5-2.5v5M163 1143.5h5m-2.5-2.5v5M163 1177.5h5m-2.5-2.5v5M164 1181.5h5m-2.5-2.5v5M164 1155.5h5m-2.5-2.5v5M165 1185.5h5m-2.5-2.5v5M165 1146.5h5m-2.5-2.5v5M166 1140.5h5m-2.5-2.5v5M166 1183.5h5m-2.5-2.5v5M166 1145.5h5m-2.5-2.5v5M166 1138.5h5m-2.5-2.5v5M166 1136.5h5m-2.5-2.5v5M167 1170.5h5m-2.5-2.5v5M167 1142.5h5m-2.5-2.5v5M167 1190.5h5m-2.5-2.5v5M168 1142.5h5m-2.5-2.5v5M168 1168.5h5m-2.5-2.5v5M168 1138.5h5m-2.5-2.5v5M168 1188.5h5m-2.5-2.5v5M169 1141.5h5m-2.5-2.5v5M169 1164.5h5m-2.5-2.5v5M169 1161.5h5m-2.5-2.5v5M169 1178.5h5m-2.5-2.5v5M169 1156.5h5m-2.5-2.5v5M170 1151.5h5m-2.5-2.5v5M170 1171.5h5m-2.5-2.5v5M170 1186.5h5m-2.5-2.5v5M170 1187.5h5m-2.5-2.5v5M170 1180.5h5m-2.5-2.5v5M170 1164.5h5m-2.5-2.5v5M172 1186.5h5m-2.5-2.5v5M172 1160.5h5m-2.5-2.5v5M172 1161.5h5m-2.5-2.5v5M172 1172.5h5m-2.5-2.5v5M173 1151.5h5m-2.5-2.5v5M173 1186.5h5m-2.5-2.5v5M173 1140.5h5m-2.5-2.5v5M173 1183.5h5m-2.5-2.5v5M173 1177.5h5m-2.5-2.5v5M173 1148.5h5m-2.5-2.5v5M174 1173.5h5m-2.5-2.5v5M174 1152.5h5m-2.5-2.5v5M174 1147.5h5m-2.5-2.5v5M174 1169.5h5m-2.5-2.5v5M174 1139.5h5m-2.5-2.5v5M175 1144.5h5m-2.5-2.5v5M176 1183.5h5m-2.5-2.5v5M176 1162.5h5m-2.5-2.5v5M177 1144.5h5m-2.5-2.5v5M177 1172.5h5m-2.5-2.5v5M177 1168.5h5m-2.5-2.5v5M177 1139.5h5m-2.5-2.5v5M178 1186.5h5m-2.5-2.5v5M178 1187.5h5m-2.5-2.5v5M178 1181.5h5m-2.5-2.5v5M178 1160.5h5m-2.5-2.5v5M178 1157.5h5m-2.5-2.5v5M178 1194.5h5m-2.5-2.5v5M179 1185.5h5m-2.5-2.5v5M179 1147.5h5m-2.5-2.5v5M179 1169.5h5m-2.5-2.5v5M179 1163.5h5m-2.5-2.5v5M179 1172.5h5m-2.5-2.5v5M179 1176.5h5m-2.5-2.5v5M179 1157.5h5m-2.5-2.5v5M179 1152.5h5m-2.5-2.5v5M179 1171.5h5m-2.5-2.5v5M180 1180.5h5m-2.5-2.5v5M180 1165.5h5m-2.5-2.5v5M181 1172.5h5m-2.5-2.5v5M182 1156.5h5m-2.5-2.5v5M182 1156.5h5m-2.5-2.5v5M183 1181.5h5m-2.5-2.5v5M183 1179.5h5m-2.5-2.5v5M183 1182.5h5m-2.5-2.5v5M183 1149.5h5m-2.5-2.5v5M183 1185.5h5m-2.5-2.5v5M183 1166.5h5m-2.5-2.5v5M183 1153.5h5m-2.5-2.5v5M183 1167.5h5m-2.5-2.5v5M184 1181.5h5m-2.5-2.5v5M184 1154.5h5m-2.5-2.5v5M184 1141.5h5m-2.5-2.5v5M185 1180.5h5m-2.5-2.5v5M185 1144.5h5m-2.5-2.5v5M185 1143.5h5m-2.5-2.5v5M186 1147.5h5m-2.5-2.5v5M186 1145.5h5m-2.5-2.5v5M186 1185.5h5m-2.5-2.5v5M186 1157.5h5m-2.5-2.5v5M187 1165.5h5m-2.5-2.5v5M187 1181.5h5m-2.5-2.5v5M187 1172.5h5m-2.5-2.5v5M187 1147.5h5m-2.5-2.5v5M187 1158.5h5m-2.5-2.5v5M188 1149.5h5m-2.5-2.5v5M188 1155.5h5m-2.5-2.5v5M188 1186.5h5m-2.5-2.5v5M188 1187.5h5m-2.5-2.5v5M188 1139.5h5m-2.5-2.5v5M189 1159.5h5m-2.5-2.5v5M189 1162.5h5m-2.5-2.5v5M189 1188.5h5m-2.5-2.5v5M189 1189.5h5m-2.5-2.5v5M190 1181.5h5m-2.5-2.5v5M190 1192.5h5m-2.5-2.5v5M191 1165.5h5m-2.5-2.5v5M191 1172.5h5m-2.5-2.5v5M191 1186.5h5m-2.5-2.5v5M191 1163.5h5m-2.5-2.5v5M191 1136.5h5m-2.5-2.5v5M192 1152.5h5m-2.5-2.5v5M192 1163.5h5m-2.5-2.5v5M192 1185.5h5m-2.5-2.5v5M192 1172.5h5m-2.5-2.5v5M192 1154.5h5m-2.5-2.5v5M192 1142.5h5m-2.5-2.5v5M192 1187.5h5m-2.5-2.5v5M192 1183.5h5m-2.5-2.5v5M192 1155.5h5m-2.5-2.5v5M192 1138.5h5m-2.5-2.5v5M193 1176.5h5m-2.5-2.5v5M193 1182.5h5m-2.5-2.5v5M193 1140.5h5m-2.5-2.5v5M194 1175.5h5m-2.5-2.5v5M194 1189.5h5m-2.5-2.5v5M194 1160.5h5m-2.5-2.5v5M194 1169.5h5m-2.5-2.5v5M194 1195.5h5m-2.5-2.5v5M195 1151.5h5m-2.5-2.5v5M195 1149.5h5m-2.5-2.5v5M195 1138.5h5m-2.5-2.5v5M195 1138.5h5m-2.5-2.5v5M195 1131.5h5m-2.5-2.5v5M196 1168.5h5m-2.5-2.5v5M196 1178.5h5m-2.5-2.5v5M196 1145.5h5m-2.5-2.5v5M196 1168.5h5m-2.5-2.5v5M196 1147.5h5m-2.5-2.5v5M196 1195.5h5m-2.5-2.5v5M197 1182.5h5m-2.5-2.5v5M197 1175.5h5m-2.5-2.5v5M197 1162.5h5m-2.5-2.5v5M198 1189.5h5m-2.5-2.5v5M198 1169.5h5m-2.5-2.5v5M198 1160.5h5m-2.5-2.5v5M198 1143.5h5m-2.5-2.5v5M198 1187.5h5m-2.5-2.5v5M198 1161.5h5m-2.5-2.5v5M198 1183.5h5m-2.5-2.5v5M198 1167.5h5m-2.5-2.5v5M198 1152.5h5m-2.5-2.5v5M198 1139.5h5m-2.5-2.5v5M200 1169.5h5m-2.5-2.5v5M200 1175.5h5m-2.5-2.5v5M200 1138.5h5m-2.5-2.5v5M201 1177.5h5m-2.5-2.5v5M201 1175.5h5m-2.5-2.5v5M202 1173.5h5m-2.5-2.5v5M202 1162.5h5m-2.5-2.5v5M202 1189.5h5m-2.5-2.5v5M202 1145.5h5m-2.5-2.5v5M202 1185.5h5m-2.5-2.5v5M203 1153.5h5m-2.5-2.5v5M203 1169.5h5m-2.5-2.5v5M203 1182.5h5m-2.5-2.5v5M203 1142.5h5m-2.5-2.5v5M203 1169.5h5m-2.5-2.5v5M204 1168.5h5m-2.5-2.5v5M204 1187.5h5m-2.5-2.5v5M204 1158.5h5m-2.5-2.5v5M204 1156.5h5m-2.5-2.5v5M204 1139.5h5m-2.5-2.5v5M205 1158.5h5m-2.5-2.5v5M205 1166.5h5m-2.5-2.5v5M205 1149.5h5m-2.5-2.5v5M205 1193.5h5m-2.5-2.5v5M206 1177.5h5m-2.5-2.5v5M206 1179.5h5m-2.5-2.5v5M206 1177.5h5m-2.5-2.5v5M206 1180.5h5m-2.5-2.5v5M206 1161.5h5m-2.5-2.5v5M206 1171.5h5m-2.5-2.5v5M207 1185.5h5m-2.5-2.5v5M207 1151.5h5m-2.5-2.5v5M207 1148.5h5m-2.5-2.5v5M207 1143.5h5m-2.5-2.5v5M208 1180.5h5m-2.5-2.5v5M208 1161.5h5m-2.5-2.5v5M208 1188.5h5m-2.5-2.5v5M208 1160.5h5m-2.5-2.5v5M209 1163.5h5m-2.5-2.5v5M209 1142.5h5m-2.5-2.5v5M209 1193.5h5m-2.5-2.5v5M210 1168.5h5m-2.5-2.5v5M210 1164.5h5m-2.5-2.5v5M211 1171.5h5m-2.5-2.5v5M211 1139.5h5m-2.5-2.5v5M211 1133.5h5m-2.5-2.5v5M212 1192.5h5m-2.5-2.5v5M213 1153.5h5m-2.5-2.5v5M213 1183.5h5m-2.5-2.5v5M213 1184.5h5m-2.5-2.5v5M213 1145.5h5m-2.5-2.5v5M213 1161.5h5m-2.5-2.5v5M213 1147.5h5m-2.5-2.5v5M214 1161.5h5m-2.5-2.5v5M214 1174.5h5m-2.5-2.5v5M214 1170.5h5m-2.5-2.5v5M214 1145.5h5m-2.5-2.5v5M214 1159.5h5m-2.5-2.5v5M214 1190.5h5m-2.5-2.5v5M214 1133.5h5m-2.5-2.5v5M215 1168.5h5m-2.5-2.5v5M215 1170.5h5m-2.5-2.5v5M215 1176.5h5m-2.5-2.5v5M215 1167.5h5m-2.5-2.5v5M216 1148.5h5m-2.5-2.5v5M216 1173.5h5m-2.5-2.5v5M216 1196.5h5m-2.5-2.5v5M217 1181.5h5m-2.5-2.5v5M217 1173.5h5m-2.5-2.5v5M217 1177.5h5m-2.5-2.5v5M217 1146.5h5m-2.5-2.5v5M217 1182.5h5m-2.5-2.5v5M217 1168.5h5m-2.5-2.5v5M217 1159.5h5m-2.5-2.5v5M217 1162.5h5m-2.5-2.5v5M218 1183.5h5m-2.5-2.5v5M218 1162.5h5m-2.5-2.5v5M219 1149.5h5m-2.5-2.5v5M219 1155.5h5m-2.5-2.5v5M219 1161.5h5m-2.5-2.5v5M219 1142.5h5m-2.5-2.5v5M219 1134.5h5m-2.5-2.5v5M219 1194.5h5m-2.5-2.5v5M220 1162.5h5m-2.5-2.5v5M220 1165.5h5m-2.5-2.5v5M221 1151.5h5m-2.5-2.5v5M221 1174.5h5m-2.5-2.5v5M221 1144.5h5m-2.5-2.5v5M221 1142.5h5m-2.5-2.5v5M221 1196.5h5m-2.5-2.5v5M222 1147.5h5m-2.5-2.5v5M222 1185.5h5m-2.5-2.5v5M222 1186.5h5m-2.5-2.5v5M222 1182.5h5m-2.5-2.5v5M223 1178.5h5m-2.5-2.5v5M223 1174.5h5m-2.5-2.5v5M224 1155.5h5m-2.5-2.5v5M224 1188.5h5m-2.5-2.5v5M225 1182.5h5m-2.5-2.5v5M225 1176.5h5m-2.5-2.5v5M225 1182.5h5m-2.5-2.5v5M226 1179.5h5m-2.5-2.5v5M226 1186.5h5m-2.5-2.5v5M226 1154.5h5m-2.5-2.5v5M226 1141.5h5m-2.5-2.5v5M227 1168.5h5m-2.5-2.5v5M227 1187.5h5m-2.5-2.5v5M227 1177.5h5m-2.5-2.5v5M227 1142.5h5m-2.5-2.5v5M228 1176.5h5m-2.5-2.5v5M228 1151.5h5m-2.5-2.5v5M228 1187.5h5m-2.5-2.5v5M228 1174.5h5m-2.5-2.5v5M228 1166.5h5m-2.5-2.5v5M228 1152.5h5m-2.5-2.5v5M229 1183.5h5m-2.5-2.5v5M229 1155.5h5m-2.5-2.5v5M229 1163.5h5m-2.5-2.5v5M229 1181.5h5m-2.5-2.5v5M229 1156.5h5m-2.5-2.5v5M229 1140.5h5m-2.5-2.5v5M229 1142.5h5m-2.5-2.5v5M230 1187.5h5m-2.5-2.5v5M230 1152.5h5m-2.5-2.5v5M230 1159.5h5m-2.5-2.5v5M230 1164.5h5m-2.5-2.5v5M230 1182.5h5m-2.5-2.5v5M231 1152.5h5m-2.5-2.5v5M231 1177.5h5m-2.5-2.5v5M231 1181.5h5m-2.5-2.5v5M231 1160.5h5m-2.5-2.5v5M232 1181.5h5m-2.5-2.5v5M232 1169.5h5m-2.5-2.5v5M232 1155.5h5m-2.5-2.5v5M232 1170.5h5m-2.5-2.5v5M233 1156.5h5m-2.5-2.5v5M233 1159.5h5m-2.5-2.5v5M233 1183.5h5m-2.5-2.5v5M233 1144.5h5m-2.5-2.5v5M234 1179.5h5m-2.5-2.5v5M234 1150.5h5m-2.5-2.5v5M234 1170.5h5m-2.5-2.5v5M235 1159.5h5m-2.5-2.5v5M235 1148.5h5m-2.5-2.5v5M235 1189.5h5m-2.5-2.5v5M235 1175.5h5m-2.5-2.5v5M235 1150.5h5m-2.5-2.5v5M235 1191.5h5m-2.5-2.5v5M236 1174.5h5m-2.5-2.5v5M236 1184.5h5m-2.5-2.5v5M236 1176.5h5m-2.5-2.5v5M236 1177.5h5m-2.5-2.5v5M237 1187.5h5m-2.5-2.5v5M237 1155.5h5m-2.5-2.5v5M238 1168.5h5m-2.5-2.5v5M238 1161.5h5m-2.5-2.5v5M238 1159.5h5m-2.5-2.5v5M238 1187.5h5m-2.5-2.5v5M238 1158.5h5m-2.5-2.5v5M238 1176.5h5m-2.5-2.5v5M239 1164.5h5m-2.5-2.5v5M239 1146.5h5m-2.5-2.5v5M239 1150.5h5m-2.5-2.5v5M239 1159.5h5m-2.5-2.5v5M239 1130.5h5m-2.5-2.5v5M239 1195.5h5m-2.5-2.5v5M240 1153.5h5m-2.5-2.5v5M241 1182.5h5m-2.5-2.5v5M241 1191.5h5m-2.5-2.5v5M242 1183.5h5m-2.5-2.5v5M242 1158.5h5m-2.5-2.5v5M242 1191.5h5m-2.5-2.5v5M243 1184.5h5m-2.5-2.5v5M243 1152.5h5m-2.5-2.5v5M243 1181.5h5m-2.5-2.5v5M244 1156.5h5m-2.5-2.5v5M244 1183.5h5m-2.5-2.5v5M244 1161.5h5m-2.5-2.5v5M244 1190.5h5m-2.5-2.5v5M245 1190.5h5m-2.5-2.5v5M245 1159.5h5m-2.5-2.5v5M246 1148.5h5m-2.5-2.5v5M246 1184.5h5m-2.5-2.5v5M246 1132.5h5m-2.5-2.5v5M246 1142.5h5m-2.5-2.5v5M247 1162.5h5m-2.5-2.5v5M247 1191.5h5m-2.5-2.5v5M248 1184.5h5m-2.5-2.5v5M248 1167.5h5m-2.5-2.5v5M248 1190.5h5m-2.5-2.5v5M248 1140.5h5m-2.5-2.5v5M249 1164.5h5m-2.5-2.5v5M249 1158.5h5m-2.5-2.5v5M249 1165.5h5m-2.5-2.5v5M249 1136.5h5m-2.5-2.5v5M250 1156.5h5m-2.5-2.5v5M250 1159.5h5m-2.5-2.5v5M250 1181.5h5m-2.5-2.5v5M251 1168.5h5m-2.5-2.5v5M251 1173.5h5m-2.5-2.5v5M251 1181.5h5m-2.5-2.5v5M251 1163.5h5m-2.5-2.5v5M252 1163.5h5m-2.5-2.5v5M253 1173.5h5m-2.5-2.5v5M253 1157.5h5m-2.5-2.5v5M253 1164.5h5m-2.5-2.5v5M253 1161.5h5m-2.5-2.5v5M253 1178.5h5m-2.5-2.5v5M254 1168.5h5m-2.5-2.5v5M254 1169.5h5m-2.5-2.5v5M254 1177.5h5m-2.5-2.5v5M255 1166.5h5m-2.5-2.5v5M255 1134.5h5m-2.5-2.5v5M256 1189.5h5m-2.5-2.5v5M256 1137.5h5m-2.5-2.5v5M257 1181.5h5m-2.5-2.5v5M257 1159.5h5m-2.5-2.5v5M258 1157.5h5m-2.5-2.5v5M258 1187.5h5m-2.5-2.5v5M258 1159.5h5m-2.5-2.5v5M259 1146.5h5m-2.5-2.5v5M260 1165.5h5m-2.5-2.5v5M260 1154.5h5m-2.5-2.5v5M260 1171.5h5m-2.5-2.5v5M260 1141.5h5m-2.5-2.5v5M261 1145.5h5m-2.5-2.5v5M261 1138.5h5m-2.5-2.5v5M262 1171.5h5m-2.5-2.5v5M262 1155.5h5m-2.5-2.5v5M262 1183.5h5m-2.5-2.5v5M262 1146.5h5m-2.5-2.5v5M262 1138.5h5m-2.5-2.5v5M263 1149.5h5m-2.5-2.5v5M264 1152.5h5m-2.5-2.5v5M264 1176.5h5m-2.5-2.5v5M264 1159.5h5m-2.5-2.5v5M264 1185.5h5m-2.5-2.5v5M264 1155.5h5m-2.5-2.5v5M264 1149.5h5m-2.5-2.5v5M265 1163.5h5m-2.5-2.5v5M265 1140.5h5m-2.5-2.5v5M266 1161.5h5m-2.5-2.5v5M266 1152.5h5m-2.5-2.5v5M266 1172.5h5m-2.5-2.5v5M266 1186.5h5m-2.5-2.5v5M266 1166.5h5m-2.5-2.5v5M266 1169.5h5m-2.5-2.5v5M266 1157.5h5m-2.5-2.5v5M267 1172.5h5m-2.5-2.5v5M268 1152.5h5m-2.5-2.5v5M268 1161.5h5m-2.5-2.5v5M269 1166.5h5m-2.5-2.5v5M269 1139.5h5m-2.5-2.5v5M270 1184.5h5m-2.5-2.5v5M270 1155.5h5m-2.5-2.5v5M271 1151.5h5m-2.5-2.5v5M272 1177.5h5m-2.5-2.5v5M272 1161.5h5m-2.5-2.5v5M272 1184.5h5m-2.5-2.5v5M273 1169.5h5m-2.5-2.5v5M273 1152.5h5m-2.5-2.5v5M273 1146.5h5m-2.5-2.5v5M274 1175.5h5m-2.5-2.5v5M274 1160.5h5m-2.5-2.5v5M274 1170.5h5m-2.5-2.5v5M274 1167.5h5m-2.5-2.5v5M274 1175.5h5m-2.5-2.5v5M274 1157.5h5m-2.5-2.5v5M275 1136.5h5m-2.5-2.5v5M276 1176.5h5m-2.5-2.5v5M276 1149.5h5m-2.5-2.5v5M276 1180.5h5m-2.5-2.5v5M276 1175.5h5m-2.5-2.5v5M276 1162.5h5m-2.5-2.5v5M276 1154.5h5m-2.5-2.5v5M276 1160.5h5m-2.5-2.5v5M277 1159.5h5m-2.5-2.5v5M277 1160.5h5m-2.5-2.5v5M277 1143.5h5m-2.5-2.5v5M279 1161.5h5m-2.5-2.5v5M279 1177.5h5m-2.5-2.5v5M279 1144.5h5m-2.5-2.5v5M280 1175.5h5m-2.5-2.5v5M280 1152.5h5m-2.5-2.5v5M280 1156.5h5m-2.5-2.5v5M280 1147.5h5m-2.5-2.5v5M281 1160.5h5m-2.5-2.5v5M281 1178.5h5m-2.5-2.5v5M282 1177.5h5m-2.5-2.5v5M283 1156.5h5m-2.5-2.5v5M283 1162.5h5m-2.5-2.5v5M284 1152.5h5m-2.5-2.5v5M285 1140.5h5m-2.5-2.5v5M286 1175.5h5m-2.5-2.5v5M286 1177.5h5m-2.5-2.5v5M287 1162.5h5m-2.5-2.5v5M288 1177.5h5m-2.5-2.5v5M288 1182.5h5m-2.5-2.5v5M289 1159.5h5m-2.5-2.5v5M289 1168.5h5m-2.5-2.5v5M289 1177.5h5m-2.5-2.5v5M290 1162.5h5m-2.5-2.5v5M290 1162.5h5m-2.5-2.5v5M291 1177.5h5m-2.5-2.5v5M291 1183.5h5m-2.5-2.5v5M291 1186.5h5m-2.5-2.5v5M292 1161.5h5m-2.5-2.5v5M292 1145.5h5m-2.5-2.5v5M293 1153.5h5m-2.5-2.5v5M293 1164.5h5m-2.5-2.5v5M293 1179.5h5m-2.5-2.5v5M294 1177.5h5m-2.5-2.5v5M294 1167.5h5m-2.5-2.5v5M295 1169.5h5m-2.5-2.5v5M296 1158.5h5m-2.5-2.5v5M298 1155.5h5m-2.5-2.5v5M300 1161.5h5m-2.5-2.5v5M300 1163.5h5m-2.5-2.5v5M301 1174.5h5m-2.5-2.5v5M301 1161.5h5m-2.5-2.5v5M303 1171.5h5m-2.5-2.5v5M303 1173.5h5m-2.5-2.5v5M303 1173.5h5m-2.5-2.5v5M303 1168.5h5m-2.5-2.5v5M304 1163.5h5m-2.5-2.5v5M304 1169.5h5m-2.5-2.5v5M304 1164.5h5m-2.5-2.5v5M304 1150.5h5m-2.5-2.5v5M305 1170.5h5m-2.5-2.5v5M307 1160.5h5m-2.5-2.5v5M307 1166.5h5m-2.5-2.5v5M308 1161.5h5m-2.5-2.5v5M308 1160.5h5m-2.5-2.5v5M308 1159.5h5m-2.5-2.5v5M309 1153.5h5m-2.5-2.5v5M310 1164.5h5m-2.5-2.5v5M310 1143.5h5m-2.5-2.5v5M310 1182.5h5m-2.5-2.5v5M310 1180.5h5m-2.5-2.5v5M313 1156.5h5m-2.5-2.5v5M313 1151.5h5m-2.5-2.5v5M313 1176.5h5m-2.5-2.5v5M314 1150.5h5m-2.5-2.5v5M315 1160.5h5m-2.5-2.5v5M315 1168.5h5m-2.5-2.5v5M315 1151.5h5m-2.5-2.5v5M316 1159.5h5m-2.5-2.5v5M316 1158.5h5m-2.5-2.5v5M317 1168.5h5m-2.5-2.5v5M318 1155.5h5m-2.5-2.5v5M318 1155.5h5m-2.5-2.5v5M320 1167.5h5m-2.5-2.5v5M320 1180.5h5m-2.5-2.5v5M321 1143.5h5m-2.5-2.5v5M322 1169.5h5m-2.5-2.5v5M322 1169.5h5m-2.5-2.5v5M324 1150.5h5m-2.5-2.5v5M324 1153.5h5m-2.5-2.5v5M325 1155.5h5m-2.5-2.5v5M326 1162.5h5m-2.5-2.5v5M326 1158.5h5m-2.5-2.5v5M326 1147.5h5m-2.5-2.5v5M328 1148.5h5m-2.5-2.5v5M329 1174.5h5m-2.5-2.5v5M331 1159.5h5m-2.5-2.5v5M331 1157.5h5m-2.5-2.5v5M331 1143.5h5m-2.5-2.5v5M333 1159.5h5m-2.5-2.5v5M335 1171.5h5m-2.5-2.5v5M335 1177.5h5m-2.5-2.5v5M336 1157.5h5m-2.5-2.5v5M337 1168.5h5m-2.5-2.5v5M337 1151.5h5m-2.5-2.5v5M338 1171.5h5m-2.5-2.5v5M339 1159.5h5m-2.5-2.5v5M339 1175.5h5m-2.5-2.5v5M340 1175.5h5m-2.5-2.5v5M342 1158.5h5m-2.5-2.5v5M342 1160.5h5m-2.5-2.5v5M345 1164.5h5m-2.5-2.5v5M345 1144.5h5m-2.5-2.5v5M346 1160.5h5m-2.5-2.5v5M347 1165.5h5m-2.5-2.5v5M349 1157.5h5m-2.5-2.5v5M349 1156.5h5m-2.5-2.5v5M352 1167.5h5m-2.5-2.5v5M352 1157.5h5m-2.5-2.5v5M353 1161.5h5m-2.5-2.5v5M353 1159.5h5m-2.5-2.5v5M354 1168.5h5m-2.5-2.5v5M356 1167.5h5m-2.5-2.5v5M357 1160.5h5m-2.5-2.5v5M359 1167.5h5m-2.5-2.5v5M359 1171.5h5m-2.5-2.5v5M361 1155.5h5m-2.5-2.5v5M365 1167.5h5m-2.5-2.5v5M365 1152.5h5m-2.5-2.5v5M366 1152.5h5m-2.5-2.5v5M368 1166.5h5m-2.5-2.5v5M369 1168.5h5m-2.5-2.5v5M370 1150.5h5m-2.5-2.5v5M371 1160.5h5m-2.5-2.5v5M375 1159.5h5m-2.5-2.5v5M375 1154.5h5m-2.5-2.5v5M377 1175.5h5m-2.5-2.5v5M381 1151.5h5m-2.5-2.5v5M382 1158.5h5m-2.5-2.5v5M383 1173.5h5m-2.5-2.5v5M391 1170.5h5m-2.5-2.5v5M396 1173.5h5m-2.5-2.5v5M426 1173.5h5m-2.5-2.5v5M76 1164.5h5m-2.5-2.5v5M87 1174.5h5m-2.5-2.5v5M95 1173.5h5m-2.5-2.5v5M80 1167.5h5m-2.5-2.5v5M85 1165.5h5m-2.5-2.5v5M109 1190.5h5m-2.5-2.5v5M79 1169.5h5m-2.5-2.5v5M90 1168.5h5m-2.5-2.5v5M105 1184.5h5m-2.5-2.5v5M102 1181.5h5m-2.5-2.5v5M103 1183.5h5m-2.5-2.5v5M84 1166.5h5m-2.5-2.5v5M82 1169.5h5m-2.5-2.5v5M67 1148.5h5m-2.5-2.5v5M64 1152.5h5m-2.5-2.5v5M106 1191.5h5m-2.5-2.5v5M69 1150.5h5m-2.5-2.5v5M102 1180.5h5m-2.5-2.5v5M74 1162.5h5m-2.5-2.5v5M98 1182.5h5m-2.5-2.5v5M76 1164.5h5m-2.5-2.5v5M72 1159.5h5m-2.5-2.5v5M106 1188.5h5m-2.5-2.5v5M76 1168.5h5m-2.5-2.5v5M84 1171.5h5m-2.5-2.5v5M109 1194.5h5m-2.5-2.5v5M95 1180.5h5m-2.5-2.5v5M104 1184.5h5m-2.5-2.5v5M81 1168.5h5m-2.5-2.5v5M80 1159.5h5m-2.5-2.5v5M78 1164.5h5m-2.5-2.5v5M99 1176.5h5m-2.5-2.5v5M102 1182.5h5m-2.5-2.5v5M117 1103.5h5m-2.5-2.5v5M101 1122.5h5m-2.5-2.5v5M353 1093.5h5m-2.5-2.5v5M276 1109.5h5m-2.5-2.5v5M353 1142.5h5m-2.5-2.5v5M259 1117.5h5m-2.5-2.5v5M158 1121.5h5m-2.5-2.5v5M188 1117.5h5m-2.5-2.5v5M197 1192.5h5m-2.5-2.5v5M300 1126.5h5m-2.5-2.5v5M254 1099.5h5m-2.5-2.5v5M133 1120.5h5m-2.5-2.5v5M344 1175.5h5m-2.5-2.5v5M134 1193.5h5m-2.5-2.5v5M322 1182.5h5m-2.5-2.5v5M366 1174.5h5m-2.5-2.5v5M338 1126.5h5m-2.5-2.5v5M90 1121.5h5m-2.5-2.5v5M90 1117.5h5m-2.5-2.5v5M282 1119.5h5m-2.5-2.5v5M175 1111.5h5m-2.5-2.5v5M277 1194.5h5m-2.5-2.5v5M275 1191.5h5m-2.5-2.5v5M291 1126.5h5m-2.5-2.5v5M284 1192.5h5m-2.5-2.5v5M187 1066.5h5m-2.5-2.5v5M287 1100.5h5m-2.5-2.5v5M387 1138.5h5m-2.5-2.5v5M326 1133.5h5m-2.5-2.5v5M198 1077.5h5m-2.5-2.5v5M123 1074.5h5m-2.5-2.5v5M246 1071.5h5m-2.5-2.5v5M341 1136.5h5m-2.5-2.5v5M159 1111.5h5m-2.5-2.5v5M311 1101.5h5m-2.5-2.5v5M110 1082.5h5m-2.5-2.5v5M319 1099.5h5m-2.5-2.5v5M184 1124.5h5m-2.5-2.5v5M302 1061.5h5m-2.5-2.5v5M84 1156.5h5m-2.5-2.5v5M229 1094.5h5m-2.5-2.5v5M291 1062.5h5m-2.5-2.5v5M339 1126.5h5m-2.5-2.5v5M163 1086.5h5m-2.5-2.5v5M176 1232.5h5m-2.5-2.5v5M241 1116.5h5m-2.5-2.5v5M125 1117.5h5m-2.5-2.5v5M307 1133.5h5m-2.5-2.5v5M65 1116.5h5m-2.5-2.5v5M108 1188.5h5m-2.5-2.5v5M252 1110.5h5m-2.5-2.5v5M264 1078.5h5m-2.5-2.5v5M278 1031.5h5m-2.5-2.5v5M254 1052.5h5m-2.5-2.5v5M254 1091.5h5m-2.5-2.5v5M255 1078.5h5m-2.5-2.5v5M290 1031.5h5m-2.5-2.5v5M253 1054.5h5m-2.5-2.5v5M174 1127.5h5m-2.5-2.5v5M171 1130.5h5m-2.5-2.5v5M122 1124.5h5m-2.5-2.5v5M111 1124.5h5m-2.5-2.5v5M118 1114.5h5m-2.5-2.5v5M110 1125.5h5m-2.5-2.5v5M113 1112.5h5m-2.5-2.5v5M112 1122.5h5m-2.5-2.5v5" stroke="#444" stroke-opacity="0.56" stroke-width="1.2" fill="none"/>
<path d="M62 1135.5h5m-2.5-2.5v5M63 1135.5h5m-2.5-2.5v5M65 1145.5h5m-2.5-2.5v5M66 1131.5h5m-2.5-2.5v5M66 1143.5h5m-2.5-2.5v5M67 1136.5h5m-2.5-2.5v5M67 1131.5h5m-2.5-2.5v5M68 1128.5h5m-2.5-2.5v5M68 1135.5h5m-2.5-2.5v5M68 1137.5h5m-2.5-2.5v5M69 1149.5h5m-2.5-2.5v5M70 1146.5h5m-2.5-2.5v5M71 1153.5h5m-2.5-2.5v5M73 1141.5h5m-2.5-2.5v5M73 1129.5h5m-2.5-2.5v5M75 1145.5h5m-2.5-2.5v5M75 1152.5h5m-2.5-2.5v5M77 1134.5h5m-2.5-2.5v5M77 1125.5h5m-2.5-2.5v5M77 1159.5h5m-2.5-2.5v5M78 1123.5h5m-2.5-2.5v5M79 1132.5h5m-2.5-2.5v5M80 1149.5h5m-2.5-2.5v5M80 1144.5h5m-2.5-2.5v5M81 1138.5h5m-2.5-2.5v5M82 1154.5h5m-2.5-2.5v5M83 1138.5h5m-2.5-2.5v5M83 1147.5h5m-2.5-2.5v5M84 1133.5h5m-2.5-2.5v5M85 1127.5h5m-2.5-2.5v5M85 1139.5h5m-2.5-2.5v5M85 1148.5h5m-2.5-2.5v5M85 1128.5h5m-2.5-2.5v5M87 1134.5h5m-2.5-2.5v5M87 1142.5h5m-2.5-2.5v5M87 1152.5h5m-2.5-2.5v5M88 1162.5h5m-2.5-2.5v5M88 1166.5h5m-2.5-2.5v5M88 1163.5h5m-2.5-2.5v5M89 1149.5h5m-2.5-2.5v5M90 1165.5h5m-2.5-2.5v5M91 1142.5h5m-2.5-2.5v5M91 1155.5h5m-2.5-2.5v5M91 1158.5h5m-2.5-2.5v5M92 1150.5h5m-2.5-2.5v5M92 1148.5h5m-2.5-2.5v5M93 1141.5h5m-2.5-2.5v5M93 1156.5h5m-2.5-2.5v5M93 1154.5h5m-2.5-2.5v5M95 1139.5h5m-2.5-2.5v5M95 1139.5h5m-2.5-2.5v5M96 1143.5h5m-2.5-2.5v5M96 1164.5h5m-2.5-2.5v5M99 1165.5h5m-2.5-2.5v5M99 1160.5h5m-2.5-2.5v5M99 1153.5h5m-2.5-2.5v5M100 1154.5h5m-2.5-2.5v5M101 1155.5h5m-2.5-2.5v5M101 1152.5h5m-2.5-2.5v5M103 1138.5h5m-2.5-2.5v5M103 1144.5h5m-2.5-2.5v5M104 1144.5h5m-2.5-2.5v5M104 1169.5h5m-2.5-2.5v5M104 1153.5h5m-2.5-2.5v5M104 1138.5h5m-2.5-2.5v5M104 1153.5h5m-2.5-2.5v5M104 1174.5h5m-2.5-2.5v5M104 1183.5h5m-2.5-2.5v5M106 1151.5h5m-2.5-2.5v5M107 1176.5h5m-2.5-2.5v5M108 1152.5h5m-2.5-2.5v5M109 1130.5h5m-2.5-2.5v5M109 1148.5h5m-2.5-2.5v5M109 1121.5h5m-2.5-2.5v5M109 1191.5h5m-2.5-2.5v5M110 1145.5h5m-2.5-2.5v5M110 1132.5h5m-2.5-2.5v5M110 1157.5h5m-2.5-2.5v5M110 1184.5h5m-2.5-2.5v5M110 1165.5h5m-2.5-2.5v5M110 1166.5h5m-2.5-2.5v5M111 1161.5h5m-2.5-2.5v5M111 1173.5h5m-2.5-2.5v5M111 1129.5h5m-2.5-2.5v5M111 1137.5h5m-2.5-2.5v5M111 1132.5h5m-2.5-2.5v5M111 1154.5h5m-2.5-2.5v5M111 1189.5h5m-2.5-2.5v5M112 1165.5h5m-2.5-2.5v5M112 1178.5h5m-2.5-2.5v5M112 1129.5h5m-2.5-2.5v5M112 1155.5h5m-2.5-2.5v5M112 1191.5h5m-2.5-2.5v5M113 1134.5h5m-2.5-2.5v5M113 1130.5h5m-2.5-2.5v5M113 1123.5h5m-2.5-2.5v5M114 1184.5h5m-2.5-2.5v5M114 1175.5h5m-2.5-2.5v5M114 1154.5h5m-2.5-2.5v5M114 1184.5h5m-2.5-2.5v5M114 1180.5h5m-2.5-2.5v5M114 1154.5h5m-2.5-2.5v5M114 1158.5h5m-2.5-2.5v5M114 1163.5h5m-2.5-2.5v5M115 1172.5h5m-2.5-2.5v5M115 1182.5h5m-2.5-2.5v5M115 1161.5h5m-2.5-2.5v5M116 1146.5h5m-2.5-2.5v5M116 1131.5h5m-2.5-2.5v5M117 1154.5h5m-2.5-2.5v5M117 1179.5h5m-2.5-2.5v5M117 1174.5h5m-2.5-2.5v5M117 1175.5h5m-2.5-2.5v5M117 1164.5h5m-2.5-2.5v5M117 1125.5h5m-2.5-2.5v5M117 1196.5h5m-2.5-2.5v5M118 1179.5h5m-2.5-2.5v5M118 1156.5h5m-2.5-2.5v5M118 1136.5h5m-2.5-2.5v5M118 1146.5h5m-2.5-2.5v5M118 1184.5h5m-2.5-2.5v5M118 1166.5h5m-2.5-2.5v5M118 1171.5h5m-2.5-2.5v5M119 1130.5h5m-2.5-2.5v5M119 1175.5h5m-2.5-2.5v5M119 1127.5h5m-2.5-2.5v5M119 1194.5h5m-2.5-2.5v5M120 1136.5h5m-2.5-2.5v5M120 1145.5h5m-2.5-2.5v5M120 1186.5h5m-2.5-2.5v5M120 1153.5h5m-2.5-2.5v5M120 1188.5h5m-2.5-2.5v5M120 1193.5h5m-2.5-2.5v5M121 1176.5h5m-2.5-2.5v5M121 1176.5h5m-2.5-2.5v5M122 1145.5h5m-2.5-2.5v5M122 1136.5h5m-2.5-2.5v5M123 1136.5h5m-2.5-2.5v5M123 1169.5h5m-2.5-2.5v5M123 1179.5h5m-2.5-2.5v5M123 1128.5h5m-2.5-2.5v5M124 1176.5h5m-2.5-2.5v5M124 1168.5h5m-2.5-2.5v5M124 1141.5h5m-2.5-2.5v5M124 1190.5h5m-2.5-2.5v5M125 1142.5h5m-2.5-2.5v5M125 1163.5h5m-2.5-2.5v5M125 1180.5h5m-2.5-2.5v5M125 1188.5h5m-2.5-2.5v5M126 1171.5h5m-2.5-2.5v5M126 1185.5h5m-2.5-2.5v5M126 1141.5h5m-2.5-2.5v5M126 1169.5h5m-2.5-2.5v5M126 1184.5h5m-2.5-2.5v5M126 1139.5h5m-2.5-2.5v5M126 1153.5h5m-2.5-2.5v5M126 1153.5h5m-2.5-2.5v5M126 1170.5h5m-2.5-2.5v5M126 1183.5h5m-2.5-2.5v5M127 1175.5h5m-2.5-2.5v5M127 1135.5h5m-2.5-2.5v5M128 1180.5h5m-2.5-2.5v5M128 1166.5h5m-2.5-2.5v5M128 1130.5h5m-2.5-2.5v5M128 1190.5h5m-2.5-2.5v5M129 1170.5h5m-2.5-2.5v5M129 1143.5h5m-2.5-2.5v5M129 1139.5h5m-2.5-2.5v5M129 1165.5h5m-2.5-2.5v5M129 1136.5h5m-2.5-2.5v5M129 1159.5h5m-2.5-2.5v5M130 1160.5h5m-2.5-2.5v5M130 1151.5h5m-2.5-2.5v5M131 1177.5h5m-2.5-2.5v5M131 1141.5h5m-2.5-2.5v5M131 1143.5h5m-2.5-2.5v5M131 1185.5h5m-2.5-2.5v5M131 1157.5h5m-2.5-2.5v5M131 1138.5h5m-2.5-2.5v5M132 1181.5h5m-2.5-2.5v5M132 1156.5h5m-2.5-2.5v5M132 1167.5h5m-2.5-2.5v5M132 1158.5h5m-2.5-2.5v5M133 1179.5h5m-2.5-2.5v5M133 1166.5h5m-2.5-2.5v5M133 1173.5h5m-2.5-2.5v5M133 1163.5h5m-2.5-2.5v5M134 1164.5h5m-2.5-2.5v5M134 1139.5h5m-2.5-2.5v5M134 1161.5h5m-2.5-2.5v5M135 1163.5h5m-2.5-2.5v5M135 1152.5h5m-2.5-2.5v5M135 1160.5h5m-2.5-2.5v5M135 1155.5h5m-2.5-2.5v5M135 1140.5h5m-2.5-2.5v5M135 1179.5h5m-2.5-2.5v5M135 1158.5h5m-2.5-2.5v5M135 1164.5h5m-2.5-2.5v5M135 1136.5h5m-2.5-2.5v5M136 1142.5h5m-2.5-2.5v5M136 1142.5h5m-2.5-2.5v5M136 1144.5h5m-2.5-2.5v5M136 1184.5h5m-2.5-2.5v5M136 1143.5h5m-2.5-2.5v5M136 1189.5h5m-2.5-2.5v5M137 1150.5h5m-2.5-2.5v5M137 1138.5h5m-2.5-2.5v5M138 1152.5h5m-2.5-2.5v5M138 1177.5h5m-2.5-2.5v5M139 1159.5h5m-2.5-2.5v5M139 1160.5h5m-2.5-2.5v5M139 1184.5h5m-2.5-2.5v5M139 1170.5h5m-2.5-2.5v5M139 1142.5h5m-2.5-2.5v5M139 1144.5h5m-2.5-2.5v5M139 1148.5h5m-2.5-2.5v5M139 1160.5h5m-2.5-2.5v5M139 1135.5h5m-2.5-2.5v5M140 1142.5h5m-2.5-2.5v5M140 1161.5h5m-2.5-2.5v5M141 1142.5h5m-2.5-2.5v5M141 1183.5h5m-2.5-2.5v5M141 1163.5h5m-2.5-2.5v5M141 1179.5h5m-2.5-2.5v5M141 1178.5h5m-2.5-2.5v5M141 1178.5h5m-2.5-2.5v5M141 1163.5h5m-2.5-2.5v5M141 1175.5h5m-2.5-2.5v5M142 1147.5h5m-2.5-2.5v5M142 1151.5h5m-2.5-2.5v5M142 1146.5h5m-2.5-2.5v5M144 1171.5h5m-2.5-2.5v5M144 1162.5h5m-2.5-2.5v5M145 1174.5h5m-2.5-2.5v5M145 1171.5h5m-2.5-2.5v5M145 1179.5h5m-2.5-2.5v5M145 1150.5h5m-2.5-2.5v5M145 1172.5h5m-2.5-2.5v5M145 1149.5h5m-2.5-2.5v5M146 1177.5h5m-2.5-2.5v5M147 1161.5h5m-2.5-2.5v5M147 1187.5h5m-2.5-2.5v5M148 1181.5h5m-2.5-2.5v5M148 1179.5h5m-2.5-2.5v5M149 1183.5h5m-2.5-2.5v5M149 1171.5h5m-2.5-2.5v5M149 1139.5h5m-2.5-2.5v5M150 1167.5h5m-2.5-2.5v5M150 1162.5h5m-2.5-2.5v5M151 1146.5h5m-2.5-2.5v5M151 1149.5h5m-2.5-2.5v5M151 1188.5h5m-2.5-2.5v5M152 1168.5h5m-2.5-2.5v5M152 1163.5h5m-2.5-2.5v5M152 1185.5h5m-2.5-2.5v5M153 1156.5h5m-2.5-2.5v5M153 1178.5h5m-2.5-2.5v5M153 1141.5h5m-2.5-2.5v5M154 1141.5h5m-2.5-2.5v5M154 1165.5h5m-2.5-2.5v5M154 1153.5h5m-2.5-2.5v5M154 1141.5h5m-2.5-2.5v5M154 1139.5h5m-2.5-2.5v5M154 1166.5h5m-2.5-2.5v5M155 1184.5h5m-2.5-2.5v5M155 1153.5h5m-2.5-2.5v5M155 1145.5h5m-2.5-2.5v5M155 1145.5h5m-2.5-2.5v5M155 1153.5h5m-2.5-2.5v5M156 1175.5h5m-2.5-2.5v5M156 1173.5h5m-2.5-2.5v5M156 1153.5h5m-2.5-2.5v5M156 1160.5h5m-2.5-2.5v5M156 1136.5h5m-2.5-2.5v5M156 1133.5h5m-2.5-2.5v5M157 1142.5h5m-2.5-2.5v5M157 1183.5h5m-2.5-2.5v5M157 1178.5h5m-2.5-2.5v5M158 1148.5h5m-2.5-2.5v5M159 1143.5h5m-2.5-2.5v5M159 1142.5h5m-2.5-2.5v5M159 1145.5h5m-2.5-2.5v5M159 1182.5h5m-2.5-2.5v5M159 1151.5h5m-2.5-2.5v5M159 1156.5h5m-2.5-2.5v5M160 1167.5h5m-2.5-2.5v5M161 1146.5h5m-2.5-2.5v5M161 1175.5h5m-2.5-2.5v5M161 1157.5h5m-2.5-2.5v5M161 1131.5h5m-2.5-2.5v5M161 1132.5h5m-2.5-2.5v5M162 1168.5h5m-2.5-2.5v5M162 1147.5h5m-2.5-2.5v5M162 1165.5h5m-2.5-2.5v5M163 1182.5h5m-2.5-2.5v5M163 1144.5h5m-2.5-2.5v5M163 1143.5h5m-2.5-2.5v5M164 1153.5h5m-2.5-2.5v5M164 1173.5h5m-2.5-2.5v5M164 1148.5h5m-2.5-2.5v5M165 1153.5h5m-2.5-2.5v5M165 1152.5h5m-2.5-2.5v5M165 1161.5h5m-2.5-2.5v5M165 1157.5h5m-2.5-2.5v5M165 1139.5h5m-2.5-2.5v5M165 1133.5h5m-2.5-2.5v5M166 1144.5h5m-2.5-2.5v5M166 1166.5h5m-2.5-2.5v5M166 1177.5h5m-2.5-2.5v5M166 1146.5h5m-2.5-2.5v5M167 1178.5h5m-2.5-2.5v5M167 1183.5h5m-2.5-2.5v5M167 1140.5h5m-2.5-2.5v5M167 1167.5h5m-2.5-2.5v5M167 1170.5h5m-2.5-2.5v5M167 1180.5h5m-2.5-2.5v5M167 1188.5h5m-2.5-2.5v5M168 1165.5h5m-2.5-2.5v5M168 1153.5h5m-2.5-2.5v5M168 1148.5h5m-2.5-2.5v5M168 1130.5h5m-2.5-2.5v5M169 1149.5h5m-2.5-2.5v5M170 1146.5h5m-2.5-2.5v5M170 1141.5h5m-2.5-2.5v5M170 1170.5h5m-2.5-2.5v5M171 1151.5h5m-2.5-2.5v5M171 1162.5h5m-2.5-2.5v5M171 1156.5h5m-2.5-2.5v5M171 1149.5h5m-2.5-2.5v5M171 1162.5h5m-2.5-2.5v5M171 1149.5h5m-2.5-2.5v5M172 1159.5h5m-2.5-2.5v5M172 1168.5h5m-2.5-2.5v5M172 1134.5h5m-2.5-2.5v5M173 1168.5h5m-2.5-2.5v5M173 1188.5h5m-2.5-2.5v5M174 1164.5h5m-2.5-2.5v5M174 1138.5h5m-2.5-2.5v5M175 1150.5h5m-2.5-2.5v5M175 1152.5h5m-2.5-2.5v5M175 1158.5h5m-2.5-2.5v5M175 1156.5h5m-2.5-2.5v5M175 1141.5h5m-2.5-2.5v5M176 1157.5h5m-2.5-2.5v5M176 1164.5h5m-2.5-2.5v5M176 1141.5h5m-2.5-2.5v5M176 1150.5h5m-2.5-2.5v5M176 1185.5h5m-2.5-2.5v5M176 1187.5h5m-2.5-2.5v5M176 1175.5h5m-2.5-2.5v5M176 1181.5h5m-2.5-2.5v5M177 1153.5h5m-2.5-2.5v5M177 1151.5h5m-2.5-2.5v5M177 1135.5h5m-2.5-2.5v5M177 1189.5h5m-2.5-2.5v5M178 1178.5h5m-2.5-2.5v5M178 1145.5h5m-2.5-2.5v5M178 1149.5h5m-2.5-2.5v5M178 1176.5h5m-2.5-2.5v5M178 1148.5h5m-2.5-2.5v5M178 1186.5h5m-2.5-2.5v5M178 1157.5h5m-2.5-2.5v5M178 1164.5h5m-2.5-2.5v5M179 1170.5h5m-2.5-2.5v5M179 1160.5h5m-2.5-2.5v5M179 1137.5h5m-2.5-2.5v5M179 1190.5h5m-2.5-2.5v5M180 1187.5h5m-2.5-2.5v5M180 1143.5h5m-2.5-2.5v5M180 1159.5h5m-2.5-2.5v5M181 1150.5h5m-2.5-2.5v5M182 1159.5h5m-2.5-2.5v5M182 1160.5h5m-2.5-2.5v5M182 1141.5h5m-2.5-2.5v5M182 1186.5h5m-2.5-2.5v5M182 1153.5h5m-2.5-2.5v5M182 1177.5h5m-2.5-2.5v5M182 1152.5h5m-2.5-2.5v5M182 1193.5h5m-2.5-2.5v5M183 1155.5h5m-2.5-2.5v5M183 1181.5h5m-2.5-2.5v5M183 1161.5h5m-2.5-2.5v5M184 1150.5h5m-2.5-2.5v5M184 1188.5h5m-2.5-2.5v5M184 1151.5h5m-2.5-2.5v5M184 1178.5h5m-2.5-2.5v5M185 1184.5h5m-2.5-2.5v5M186 1184.5h5m-2.5-2.5v5M186 1166.5h5m-2.5-2.5v5M186 1168.5h5m-2.5-2.5v5M186 1181.5h5m-2.5-2.5v5M187 1178.5h5m-2.5-2.5v5M187 1153.5h5m-2.5-2.5v5M187 1183.5h5m-2.5-2.5v5M187 1149.5h5m-2.5-2.5v5M187 1185.5h5m-2.5-2.5v5M187 1138.5h5m-2.5-2.5v5M187 1191.5h5m-2.5-2.5v5M188 1161.5h5m-2.5-2.5v5M188 1167.5h5m-2.5-2.5v5M188 1157.5h5m-2.5-2.5v5M188 1173.5h5m-2.5-2.5v5M188 1170.5h5m-2.5-2.5v5M188 1133.5h5m-2.5-2.5v5M189 1154.5h5m-2.5-2.5v5M189 1155.5h5m-2.5-2.5v5M189 1185.5h5m-2.5-2.5v5M190 1155.5h5m-2.5-2.5v5M191 1142.5h5m-2.5-2.5v5M191 1156.5h5m-2.5-2.5v5M191 1148.5h5m-2.5-2.5v5M191 1165.5h5m-2.5-2.5v5M191 1142.5h5m-2.5-2.5v5M192 1148.5h5m-2.5-2.5v5M192 1190.5h5m-2.5-2.5v5M193 1163.5h5m-2.5-2.5v5M193 1148.5h5m-2.5-2.5v5M193 1175.5h5m-2.5-2.5v5M193 1157.5h5m-2.5-2.5v5M193 1192.5h5m-2.5-2.5v5M194 1145.5h5m-2.5-2.5v5M194 1171.5h5m-2.5-2.5v5M194 1143.5h5m-2.5-2.5v5M195 1155.5h5m-2.5-2.5v5M195 1184.5h5m-2.5-2.5v5M195 1159.5h5m-2.5-2.5v5M195 1148.5h5m-2.5-2.5v5M196 1155.5h5m-2.5-2.5v5M196 1179.5h5m-2.5-2.5v5M196 1151.5h5m-2.5-2.5v5M196 1168.5h5m-2.5-2.5v5M196 1187.5h5m-2.5-2.5v5M196 1189.5h5m-2.5-2.5v5M197 1176.5h5m-2.5-2.5v5M197 1193.5h5m-2.5-2.5v5M198 1152.5h5m-2.5-2.5v5M199 1154.5h5m-2.5-2.5v5M199 1186.5h5m-2.5-2.5v5M199 1174.5h5m-2.5-2.5v5M199 1187.5h5m-2.5-2.5v5M199 1154.5h5m-2.5-2.5v5M200 1170.5h5m-2.5-2.5v5M200 1159.5h5m-2.5-2.5v5M201 1174.5h5m-2.5-2.5v5M201 1189.5h5m-2.5-2.5v5M201 1187.5h5m-2.5-2.5v5M202 1181.5h5m-2.5-2.5v5M203 1149.5h5m-2.5-2.5v5M203 1162.5h5m-2.5-2.5v5M203 1154.5h5m-2.5-2.5v5M204 1145.5h5m-2.5-2.5v5M204 1137.5h5m-2.5-2.5v5M205 1190.5h5m-2.5-2.5v5M205 1190.5h5m-2.5-2.5v5M205 1180.5h5m-2.5-2.5v5M206 1169.5h5m-2.5-2.5v5M207 1171.5h5m-2.5-2.5v5M207 1186.5h5m-2.5-2.5v5M207 1136.5h5m-2.5-2.5v5M207 1133.5h5m-2.5-2.5v5M208 1143.5h5m-2.5-2.5v5M208 1173.5h5m-2.5-2.5v5M208 1154.5h5m-2.5-2.5v5M208 1192.5h5m-2.5-2.5v5M209 1145.5h5m-2.5-2.5v5M209 1168.5h5m-2.5-2.5v5M209 1183.5h5m-2.5-2.5v5M210 1160.5h5m-2.5-2.5v5M210 1160.5h5m-2.5-2.5v5M210 1157.5h5m-2.5-2.5v5M210 1187.5h5m-2.5-2.5v5M210 1183.5h5m-2.5-2.5v5M210 1152.5h5m-2.5-2.5v5M210 1160.5h5m-2.5-2.5v5M211 1164.5h5m-2.5-2.5v5M211 1189.5h5m-2.5-2.5v5M211 1133.5h5m-2.5-2.5v5M212 1155.5h5m-2.5-2.5v5M212 1149.5h5m-2.5-2.5v5M212 1190.5h5m-2.5-2.5v5M212 1161.5h5m-2.5-2.5v5M213 1159.5h5m-2.5-2.5v5M213 1145.5h5m-2.5-2.5v5M213 1136.5h5m-2.5-2.5v5M214 1180.5h5m-2.5-2.5v5M214 1162.5h5m-2.5-2.5v5M214 1185.5h5m-2.5-2.5v5M215 1159.5h5m-2.5-2.5v5M215 1154.5h5m-2.5-2.5v5M215 1149.5h5m-2.5-2.5v5M215 1180.5h5m-2.5-2.5v5M215 1136.5h5m-2.5-2.5v5M216 1150.5h5m-2.5-2.5v5M216 1153.5h5m-2.5-2.5v5M216 1167.5h5m-2.5-2.5v5M217 1169.5h5m-2.5-2.5v5M217 1146.5h5m-2.5-2.5v5M217 1149.5h5m-2.5-2.5v5M217 1148.5h5m-2.5-2.5v5M217 1166.5h5m-2.5-2.5v5M217 1168.5h5m-2.5-2.5v5M218 1170.5h5m-2.5-2.5v5M218 1184.5h5m-2.5-2.5v5M218 1163.5h5m-2.5-2.5v5M218 1187.5h5m-2.5-2.5v5M218 1156.5h5m-2.5-2.5v5M218 1187.5h5m-2.5-2.5v5M219 1147.5h5m-2.5-2.5v5M219 1152.5h5m-2.5-2.5v5M220 1149.5h5m-2.5-2.5v5M220 1152.5h5m-2.5-2.5v5M220 1154.5h5m-2.5-2.5v5M220 1176.5h5m-2.5-2.5v5M220 1154.5h5m-2.5-2.5v5M220 1189.5h5m-2.5-2.5v5M220 1186.5h5m-2.5-2.5v5M220 1177.5h5m-2.5-2.5v5M221 1168.5h5m-2.5-2.5v5M221 1139.5h5m-2.5-2.5v5M221 1136.5h5m-2.5-2.5v5M222 1157.5h5m-2.5-2.5v5M222 1144.5h5m-2.5-2.5v5M222 1165.5h5m-2.5-2.5v5M222 1190.5h5m-2.5-2.5v5M223 1188.5h5m-2.5-2.5v5M223 1173.5h5m-2.5-2.5v5M223 1169.5h5m-2.5-2.5v5M223 1174.5h5m-2.5-2.5v5M223 1166.5h5m-2.5-2.5v5M224 1188.5h5m-2.5-2.5v5M224 1175.5h5m-2.5-2.5v5M224 1180.5h5m-2.5-2.5v5M224 1181.5h5m-2.5-2.5v5M225 1175.5h5m-2.5-2.5v5M225 1172.5h5m-2.5-2.5v5M225 1149.5h5m-2.5-2.5v5M225 1139.5h5m-2.5-2.5v5M226 1161.5h5m-2.5-2.5v5M226 1163.5h5m-2.5-2.5v5M226 1160.5h5m-2.5-2.5v5M226 1166.5h5m-2.5-2.5v5M226 1190.5h5m-2.5-2.5v5M226 1188.5h5m-2.5-2.5v5M226 1152.5h5m-2.5-2.5v5M226 1130.5h5m-2.5-2.5v5M227 1150.5h5m-2.5-2.5v5M227 1171.5h5m-2.5-2.5v5M228 1168.5h5m-2.5-2.5v5M228 1147.5h5m-2.5-2.5v5M228 1158.5h5m-2.5-2.5v5M228 1138.5h5m-2.5-2.5v5M229 1190.5h5m-2.5-2.5v5M229 1130.5h5m-2.5-2.5v5M230 1186.5h5m-2.5-2.5v5M230 1182.5h5m-2.5-2.5v5M230 1171.5h5m-2.5-2.5v5M231 1164.5h5m-2.5-2.5v5M231 1162.5h5m-2.5-2.5v5M231 1154.5h5m-2.5-2.5v5M231 1186.5h5m-2.5-2.5v5M231 1144.5h5m-2.5-2.5v5M232 1179.5h5m-2.5-2.5v5M232 1185.5h5m-2.5-2.5v5M232 1168.5h5m-2.5-2.5v5M232 1150.5h5m-2.5-2.5v5M232 1175.5h5m-2.5-2.5v5M233 1168.5h5m-2.5-2.5v5M233 1161.5h5m-2.5-2.5v5M233 1146.5h5m-2.5-2.5v5M233 1185.5h5m-2.5-2.5v5M233 1190.5h5m-2.5-2.5v5M233 1139.5h5m-2.5-2.5v5M234 1153.5h5m-2.5-2.5v5M234 1176.5h5m-2.5-2.5v5M234 1173.5h5m-2.5-2.5v5M234 1177.5h5m-2.5-2.5v5M234 1146.5h5m-2.5-2.5v5M235 1184.5h5m-2.5-2.5v5M235 1172.5h5m-2.5-2.5v5M235 1145.5h5m-2.5-2.5v5M235 1168.5h5m-2.5-2.5v5M235 1138.5h5m-2.5-2.5v5M235 1137.5h5m-2.5-2.5v5M235 1137.5h5m-2.5-2.5v5M235 1144.5h5m-2.5-2.5v5M235 1144.5h5m-2.5-2.5v5M235 1139.5h5m-2.5-2.5v5M236 1157.5h5m-2.5-2.5v5M236 1155.5h5m-2.5-2.5v5M236 1186.5h5m-2.5-2.5v5M236 1163.5h5m-2.5-2.5v5M236 1180.5h5m-2.5-2.5v5M237 1173.5h5m-2.5-2.5v5M237 1185.5h5m-2.5-2.5v5M237 1164.5h5m-2.5-2.5v5M237 1143.5h5m-2.5-2.5v5M237 1131.5h5m-2.5-2.5v5M237 1193.5h5m-2.5-2.5v5M238 1170.5h5m-2.5-2.5v5M238 1148.5h5m-2.5-2.5v5M239 1171.5h5m-2.5-2.5v5M239 1182.5h5m-2.5-2.5v5M239 1185.5h5m-2.5-2.5v5M239 1148.5h5m-2.5-2.5v5M239 1130.5h5m-2.5-2.5v5M240 1157.5h5m-2.5-2.5v5M240 1160.5h5m-2.5-2.5v5M240 1159.5h5m-2.5-2.5v5M240 1161.5h5m-2.5-2.5v5M240 1183.5h5m-2.5-2.5v5M240 1127.5h5m-2.5-2.5v5M240 1138.5h5m-2.5-2.5v5M240 1137.5h5m-2.5-2.5v5M241 1147.5h5m-2.5-2.5v5M241 1152.5h5m-2.5-2.5v5M241 1152.5h5m-2.5-2.5v5M242 1149.5h5m-2.5-2.5v5M242 1179.5h5m-2.5-2.5v5M242 1168.5h5m-2.5-2.5v5M242 1147.5h5m-2.5-2.5v5M243 1182.5h5m-2.5-2.5v5M243 1163.5h5m-2.5-2.5v5M243 1188.5h5m-2.5-2.5v5M243 1146.5h5m-2.5-2.5v5M243 1167.5h5m-2.5-2.5v5M244 1181.5h5m-2.5-2.5v5M244 1178.5h5m-2.5-2.5v5M244 1176.5h5m-2.5-2.5v5M244 1170.5h5m-2.5-2.5v5M244 1170.5h5m-2.5-2.5v5M245 1180.5h5m-2.5-2.5v5M245 1161.5h5m-2.5-2.5v5M245 1189.5h5m-2.5-2.5v5M245 1161.5h5m-2.5-2.5v5M245 1172.5h5m-2.5-2.5v5M245 1136.5h5m-2.5-2.5v5M245 1144.5h5m-2.5-2.5v5M246 1163.5h5m-2.5-2.5v5M246 1169.5h5m-2.5-2.5v5M246 1166.5h5m-2.5-2.5v5M246 1183.5h5m-2.5-2.5v5M246 1171.5h5m-2.5-2.5v5M247 1174.5h5m-2.5-2.5v5M247 1177.5h5m-2.5-2.5v5M247 1175.5h5m-2.5-2.5v5M248 1155.5h5m-2.5-2.5v5M248 1165.5h5m-2.5-2.5v5M248 1169.5h5m-2.5-2.5v5M248 1130.5h5m-2.5-2.5v5M249 1163.5h5m-2.5-2.5v5M249 1182.5h5m-2.5-2.5v5M249 1158.5h5m-2.5-2.5v5M249 1182.5h5m-2.5-2.5v5M250 1157.5h5m-2.5-2.5v5M251 1169.5h5m-2.5-2.5v5M251 1177.5h5m-2.5-2.5v5M251 1177.5h5m-2.5-2.5v5M251 1165.5h5m-2.5-2.5v5M251 1174.5h5m-2.5-2.5v5M252 1155.5h5m-2.5-2.5v5M252 1167.5h5m-2.5-2.5v5M254 1166.5h5m-2.5-2.5v5M254 1187.5h5m-2.5-2.5v5M255 1154.5h5m-2.5-2.5v5M255 1150.5h5m-2.5-2.5v5M256 1150.5h5m-2.5-2.5v5M256 1180.5h5m-2.5-2.5v5M256 1180.5h5m-2.5-2.5v5M256 1142.5h5m-2.5-2.5v5M257 1177.5h5m-2.5-2.5v5M257 1176.5h5m-2.5-2.5v5M257 1175.5h5m-2.5-2.5v5M257 1196.5h5m-2.5-2.5v5M258 1175.5h5m-2.5-2.5v5M258 1143.5h5m-2.5-2.5v5M259 1174.5h5m-2.5-2.5v5M259 1180.5h5m-2.5-2.5v5M259 1160.5h5m-2.5-2.5v5M259 1169.5h5m-2.5-2.5v5M260 1179.5h5m-2.5-2.5v5M260 1186.5h5m-2.5-2.5v5M260 1172.5h5m-2.5-2.5v5M260 1146.5h5m-2.5-2.5v5M261 1156.5h5m-2.5-2.5v5M261 1152.5h5m-2.5-2.5v5M261 1161.5h5m-2.5-2.5v5M261 1140.5h5m-2.5-2.5v5M262 1176.5h5m-2.5-2.5v5M262 1136.5h5m-2.5-2.5v5M262 1195.5h5m-2.5-2.5v5M263 1183.5h5m-2.5-2.5v5M263 1167.5h5m-2.5-2.5v5M263 1185.5h5m-2.5-2.5v5M263 1164.5h5m-2.5-2.5v5M263 1185.5h5m-2.5-2.5v5M263 1157.5h5m-2.5-2.5v5M263 1172.5h5m-2.5-2.5v5M263 1138.5h5m-2.5-2.5v5M264 1185.5h5m-2.5-2.5v5M264 1173.5h5m-2.5-2.5v5M264 1171.5h5m-2.5-2.5v5M264 1161.5h5m-2.5-2.5v5M265 1162.5h5m-2.5-2.5v5M265 1150.5h5m-2.5-2.5v5M265 1171.5h5m-2.5-2.5v5M265 1148.5h5m-2.5-2.5v5M265 1164.5h5m-2.5-2.5v5M266 1157.5h5m-2.5-2.5v5M266 1170.5h5m-2.5-2.5v5M266 1146.5h5m-2.5-2.5v5M268 1157.5h5m-2.5-2.5v5M268 1164.5h5m-2.5-2.5v5M268 1149.5h5m-2.5-2.5v5M268 1153.5h5m-2.5-2.5v5M268 1154.5h5m-2.5-2.5v5M269 1162.5h5m-2.5-2.5v5M269 1183.5h5m-2.5-2.5v5M269 1151.5h5m-2.5-2.5v5M270 1182.5h5m-2.5-2.5v5M270 1167.5h5m-2.5-2.5v5M270 1164.5h5m-2.5-2.5v5M270 1156.5h5m-2.5-2.5v5M270 1184.5h5m-2.5-2.5v5M270 1156.5h5m-2.5-2.5v5M270 1181.5h5m-2.5-2.5v5M271 1167.5h5m-2.5-2.5v5M271 1181.5h5m-2.5-2.5v5M271 1168.5h5m-2.5-2.5v5M271 1148.5h5m-2.5-2.5v5M272 1152.5h5m-2.5-2.5v5M272 1177.5h5m-2.5-2.5v5M272 1180.5h5m-2.5-2.5v5M272 1135.5h5m-2.5-2.5v5M272 1187.5h5m-2.5-2.5v5M273 1177.5h5m-2.5-2.5v5M273 1157.5h5m-2.5-2.5v5M273 1150.5h5m-2.5-2.5v5M274 1155.5h5m-2.5-2.5v5M274 1176.5h5m-2.5-2.5v5M275 1179.5h5m-2.5-2.5v5M275 1150.5h5m-2.5-2.5v5M275 1178.5h5m-2.5-2.5v5M276 1173.5h5m-2.5-2.5v5M276 1156.5h5m-2.5-2.5v5M276 1169.5h5m-2.5-2.5v5M276 1181.5h5m-2.5-2.5v5M276 1144.5h5m-2.5-2.5v5M277 1173.5h5m-2.5-2.5v5M278 1181.5h5m-2.5-2.5v5M278 1155.5h5m-2.5-2.5v5M278 1160.5h5m-2.5-2.5v5M278 1184.5h5m-2.5-2.5v5M282 1175.5h5m-2.5-2.5v5M282 1179.5h5m-2.5-2.5v5M282 1137.5h5m-2.5-2.5v5M283 1163.5h5m-2.5-2.5v5M283 1172.5h5m-2.5-2.5v5M283 1176.5h5m-2.5-2.5v5M283 1169.5h5m-2.5-2.5v5M283 1163.5h5m-2.5-2.5v5M283 1147.5h5m-2.5-2.5v5M284 1179.5h5m-2.5-2.5v5M284 1181.5h5m-2.5-2.5v5M285 1176.5h5m-2.5-2.5v5M285 1170.5h5m-2.5-2.5v5M285 1142.5h5m-2.5-2.5v5M285 1146.5h5m-2.5-2.5v5M286 1167.5h5m-2.5-2.5v5M286 1152.5h5m-2.5-2.5v5M287 1175.5h5m-2.5-2.5v5M287 1168.5h5m-2.5-2.5v5M288 1161.5h5m-2.5-2.5v5M289 1145.5h5m-2.5-2.5v5M290 1151.5h5m-2.5-2.5v5M290 1151.5h5m-2.5-2.5v5M290 1159.5h5m-2.5-2.5v5M291 1177.5h5m-2.5-2.5v5M292 1153.5h5m-2.5-2.5v5M293 1159.5h5m-2.5-2.5v5M293 1163.5h5m-2.5-2.5v5M293 1173.5h5m-2.5-2.5v5M293 1154.5h5m-2.5-2.5v5M293 1182.5h5m-2.5-2.5v5M293 1185.5h5m-2.5-2.5v5M294 1172.5h5m-2.5-2.5v5M294 1155.5h5m-2.5-2.5v5M294 1177.5h5m-2.5-2.5v5M294 1144.5h5m-2.5-2.5v5M296 1159.5h5m-2.5-2.5v5M296 1181.5h5m-2.5-2.5v5M297 1173.5h5m-2.5-2.5v5M297 1170.5h5m-2.5-2.5v5M297 1185.5h5m-2.5-2.5v5M298 1163.5h5m-2.5-2.5v5M298 1149.5h5m-2.5-2.5v5M298 1147.5h5m-2.5-2.5v5M299 1165.5h5m-2.5-2.5v5M299 1175.5h5m-2.5-2.5v5M299 1170.5h5m-2.5-2.5v5M299 1155.5h5m-2.5-2.5v5M299 1182.5h5m-2.5-2.5v5M300 1155.5h5m-2.5-2.5v5M300 1184.5h5m-2.5-2.5v5M300 1179.5h5m-2.5-2.5v5M302 1167.5h5m-2.5-2.5v5M302 1155.5h5m-2.5-2.5v5M303 1164.5h5m-2.5-2.5v5M303 1169.5h5m-2.5-2.5v5M304 1172.5h5m-2.5-2.5v5M304 1156.5h5m-2.5-2.5v5M304 1153.5h5m-2.5-2.5v5M305 1166.5h5m-2.5-2.5v5M306 1172.5h5m-2.5-2.5v5M306 1155.5h5m-2.5-2.5v5M306 1162.5h5m-2.5-2.5v5M306 1174.5h5m-2.5-2.5v5M307 1173.5h5m-2.5-2.5v5M307 1156.5h5m-2.5-2.5v5M308 1159.5h5m-2.5-2.5v5M308 1172.5h5m-2.5-2.5v5M308 1143.5h5m-2.5-2.5v5M309 1171.5h5m-2.5-2.5v5M309 1171.5h5m-2.5-2.5v5M309 1166.5h5m-2.5-2.5v5M309 1170.5h5m-2.5-2.5v5M309 1151.5h5m-2.5-2.5v5M311 1168.5h5m-2.5-2.5v5M312 1175.5h5m-2.5-2.5v5M313 1150.5h5m-2.5-2.5v5M314 1154.5h5m-2.5-2.5v5M316 1160.5h5m-2.5-2.5v5M316 1157.5h5m-2.5-2.5v5M317 1169.5h5m-2.5-2.5v5M317 1146.5h5m-2.5-2.5v5M318 1173.5h5m-2.5-2.5v5M319 1171.5h5m-2.5-2.5v5M320 1164.5h5m-2.5-2.5v5M321 1165.5h5m-2.5-2.5v5M321 1159.5h5m-2.5-2.5v5M324 1175.5h5m-2.5-2.5v5M324 1157.5h5m-2.5-2.5v5M324 1156.5h5m-2.5-2.5v5M324 1176.5h5m-2.5-2.5v5M325 1156.5h5m-2.5-2.5v5M325 1165.5h5m-2.5-2.5v5M326 1166.5h5m-2.5-2.5v5M327 1169.5h5m-2.5-2.5v5M327 1152.5h5m-2.5-2.5v5M328 1171.5h5m-2.5-2.5v5M328 1174.5h5m-2.5-2.5v5M329 1156.5h5m-2.5-2.5v5M329 1154.5h5m-2.5-2.5v5M331 1174.5h5m-2.5-2.5v5M333 1159.5h5m-2.5-2.5v5M335 1155.5h5m-2.5-2.5v5M335 1155.5h5m-2.5-2.5v5M336 1166.5h5m-2.5-2.5v5M336 1160.5h5m-2.5-2.5v5M337 1169.5h5m-2.5-2.5v5M338 1165.5h5m-2.5-2.5v5M338 1155.5h5m-2.5-2.5v5M338 1165.5h5m-2.5-2.5v5M339 1164.5h5m-2.5-2.5v5M342 1173.5h5m-2.5-2.5v5M342 1165.5h5m-2.5-2.5v5M343 1165.5h5m-2.5-2.5v5M344 1174.5h5m-2.5-2.5v5M345 1168.5h5m-2.5-2.5v5M346 1160.5h5m-2.5-2.5v5M347 1167.5h5m-2.5-2.5v5M348 1162.5h5m-2.5-2.5v5M349 1165.5h5m-2.5-2.5v5M349 1172.5h5m-2.5-2.5v5M350 1161.5h5m-2.5-2.5v5M350 1169.5h5m-2.5-2.5v5M352 1162.5h5m-2.5-2.5v5M352 1173.5h5m-2.5-2.5v5M352 1154.5h5m-2.5-2.5v5M352 1156.5h5m-2.5-2.5v5M352 1174.5h5m-2.5-2.5v5M354 1163.5h5m-2.5-2.5v5M355 1159.5h5m-2.5-2.5v5M355 1168.5h5m-2.5-2.5v5M356 1169.5h5m-2.5-2.5v5M357 1163.5h5m-2.5-2.5v5M359 1161.5h5m-2.5-2.5v5M360 1166.5h5m-2.5-2.5v5M360 1169.5h5m-2.5-2.5v5M361 1172.5h5m-2.5-2.5v5M361 1171.5h5m-2.5-2.5v5M364 1171.5h5m-2.5-2.5v5M366 1159.5h5m-2.5-2.5v5M366 1170.5h5m-2.5-2.5v5M369 1171.5h5m-2.5-2.5v5M371 1167.5h5m-2.5-2.5v5M374 1171.5h5m-2.5-2.5v5M374 1167.5h5m-2.5-2.5v5M376 1163.5h5m-2.5-2.5v5M377 1155.5h5m-2.5-2.5v5M378 1169.5h5m-2.5-2.5v5M380 1155.5h5m-2.5-2.5v5M381 1172.5h5m-2.5-2.5v5M384 1172.5h5m-2.5-2.5v5M385 1172.5h5m-2.5-2.5v5M388 1174.5h5m-2.5-2.5v5M390 1157.5h5m-2.5-2.5v5M393 1155.5h5m-2.5-2.5v5M396 1164.5h5m-2.5-2.5v5M397 1162.5h5m-2.5-2.5v5M405 1165.5h5m-2.5-2.5v5M419 1166.5h5m-2.5-2.5v5M439 1174.5h5m-2.5-2.5v5M446 1170.5h5m-2.5-2.5v5M85 1171.5h5m-2.5-2.5v5M82 1166.5h5m-2.5-2.5v5M89 1166.5h5m-2.5-2.5v5M104 1183.5h5m-2.5-2.5v5M79 1161.5h5m-2.5-2.5v5M89 1175.5h5m-2.5-2.5v5M77 1156.5h5m-2.5-2.5v5M99 1179.5h5m-2.5-2.5v5M85 1166.5h5m-2.5-2.5v5M97 1171.5h5m-2.5-2.5v5M74 1163.5h5m-2.5-2.5v5M77 1165.5h5m-2.5-2.5v5M93 1167.5h5m-2.5-2.5v5M88 1175.5h5m-2.5-2.5v5M78 1163.5h5m-2.5-2.5v5M99 1177.5h5m-2.5-2.5v5M107 1191.5h5m-2.5-2.5v5M89 1175.5h5m-2.5-2.5v5M103 1179.5h5m-2.5-2.5v5M88 1174.5h5m-2.5-2.5v5M72 1152.5h5m-2.5-2.5v5M81 1164.5h5m-2.5-2.5v5M86 1164.5h5m-2.5-2.5v5M71 1154.5h5m-2.5-2.5v5M83 1164.5h5m-2.5-2.5v5M102 1184.5h5m-2.5-2.5v5M87 1166.5h5m-2.5-2.5v5M77 1165.5h5m-2.5-2.5v5M100 1182.5h5m-2.5-2.5v5M435 1160.5h5m-2.5-2.5v5M248 1112.5h5m-2.5-2.5v5M238 1100.5h5m-2.5-2.5v5M268 1100.5h5m-2.5-2.5v5M200 1194.5h5m-2.5-2.5v5M258 1088.5h5m-2.5-2.5v5M230 1192.5h5m-2.5-2.5v5M211 1075.5h5m-2.5-2.5v5M431 1175.5h5m-2.5-2.5v5M322 1177.5h5m-2.5-2.5v5M340 1178.5h5m-2.5-2.5v5M146 1107.5h5m-2.5-2.5v5M428 1149.5h5m-2.5-2.5v5M378 1112.5h5m-2.5-2.5v5M296 1110.5h5m-2.5-2.5v5M382 1174.5h5m-2.5-2.5v5M98 1122.5h5m-2.5-2.5v5M233 1111.5h5m-2.5-2.5v5M144 1068.5h5m-2.5-2.5v5M181 1086.5h5m-2.5-2.5v5M247 1116.5h5m-2.5-2.5v5M91 1161.5h5m-2.5-2.5v5M274 1122.5h5m-2.5-2.5v5M407 1154.5h5m-2.5-2.5v5M322 1119.5h5m-2.5-2.5v5M346 1182.5h5m-2.5-2.5v5M363 1101.5h5m-2.5-2.5v5M130 1190.5h5m-2.5-2.5v5M291 1102.5h5m-2.5-2.5v5M198 1112.5h5m-2.5-2.5v5M178 1122.5h5m-2.5-2.5v5M210 1118.5h5m-2.5-2.5v5M398 1175.5h5m-2.5-2.5v5M341 1177.5h5m-2.5-2.5v5M384 1148.5h5m-2.5-2.5v5M242 1195.5h5m-2.5-2.5v5M112 1102.5h5m-2.5-2.5v5M220 1093.5h5m-2.5-2.5v5M192 1095.5h5m-2.5-2.5v5M313 1125.5h5m-2.5-2.5v5M246 1085.5h5m-2.5-2.5v5M263 1095.5h5m-2.5-2.5v5M246 1089.5h5m-2.5-2.5v5M254 1104.5h5m-2.5-2.5v5M264 1096.5h5m-2.5-2.5v5M261 1090.5h5m-2.5-2.5v5M245 1098.5h5m-2.5-2.5v5M257 1055.5h5m-2.5-2.5v5M275 1100.5h5m-2.5-2.5v5M179 1126.5h5m-2.5-2.5v5M164 1129.5h5m-2.5-2.5v5M177 1129.5h5m-2.5-2.5v5M167 1117.5h5m-2.5-2.5v5M176 1130.5h5m-2.5-2.5v5M179 1133.5h5m-2.5-2.5v5M119 1125.5h5m-2.5-2.5v5M114 1127.5h5m-2.5-2.5v5M119 1122.5h5m-2.5-2.5v5M112 1102.5h5m-2.5-2.5v5M115 1125.5h5m-2.5-2.5v5M112 1121.5h5m-2.5-2.5v5" stroke="#444" stroke-opacity="0.56" stroke-width="1.2" fill="none"/>
<path d="M62 1137.5h5m-2.5-2.5v5M62 1137.5h5m-2.5-2.5v5M64 1129.5h5m-2.5-2.5v5M64 1134.5h5m-2.5-2.5v5M64 1124.5h5m-2.5-2.5v5M64 1150.5h5m-2.5-2.5v5M67 1143.5h5m-2.5-2.5v5M67 1152.5h5m-2.5-2.5v5M69 1151.5h5m-2.5-2.5v5M70 1127.5h5m-2.5-2.5v5M71 1129.5h5m-2.5-2.5v5M72 1138.5h5m-2.5-2.5v5M72 1142.5h5m-2.5-2.5v5M72 1147.5h5m-2.5-2.5v5M72 1139.5h5m-2.5-2.5v5M73 1147.5h5m-2.5-2.5v5M73 1126.5h5m-2.5-2.5v5M75 1122.5h5m-2.5-2.5v5M78 1139.5h5m-2.5-2.5v5M78 1156.5h5m-2.5-2.5v5M78 1160.5h5m-2.5-2.5v5M81 1136.5h5m-2.5-2.5v5M81 1146.5h5m-2.5-2.5v5M81 1158.5h5m-2.5-2.5v5M81 1152.5h5m-2.5-2.5v5M82 1138.5h5m-2.5-2.5v5M82 1152.5h5m-2.5-2.5v5M83 1134.5h5m-2.5-2.5v5M83 1147.5h5m-2.5-2.5v5M83 1141.5h5m-2.5-2.5v5M85 1147.5h5m-2.5-2.5v5M85 1153.5h5m-2.5-2.5v5M85 1148.5h5m-2.5-2.5v5M85 1135.5h5m-2.5-2.5v5M86 1127.5h5m-2.5-2.5v5M86 1157.5h5m-2.5-2.5v5M87 1152.5h5m-2.5-2.5v5M88 1129.5h5m-2.5-2.5v5M89 1153.5h5m-2.5-2.5v5M91 1138.5h5m-2.5-2.5v5M91 1132.5h5m-2.5-2.5v5M92 1145.5h5m-2.5-2.5v5M92 1141.5h5m-2.5-2.5v5M92 1139.5h5m-2.5-2.5v5M92 1161.5h5m-2.5-2.5v5M93 1143.5h5m-2.5-2.5v5M94 1153.5h5m-2.5-2.5v5M94 1160.5h5m-2.5-2.5v5M95 1151.5h5m-2.5-2.5v5M95 1156.5h5m-2.5-2.5v5M96 1156.5h5m-2.5-2.5v5M96 1145.5h5m-2.5-2.5v5M96 1133.5h5m-2.5-2.5v5M97 1164.5h5m-2.5-2.5v5M98 1139.5h5m-2.5-2.5v5M99 1165.5h5m-2.5-2.5v5M99 1137.5h5m-2.5-2.5v5M99 1153.5h5m-2.5-2.5v5M99 1167.5h5m-2.5-2.5v5M100 1137.5h5m-2.5-2.5v5M100 1159.5h5m-2.5-2.5v5M101 1140.5h5m-2.5-2.5v5M102 1134.5h5m-2.5-2.5v5M103 1167.5h5m-2.5-2.5v5M103 1143.5h5m-2.5-2.5v5M104 1166.5h5m-2.5-2.5v5M104 1176.5h5m-2.5-2.5v5M105 1142.5h5m-2.5-2.5v5M105 1159.5h5m-2.5-2.5v5M105 1188.5h5m-2.5-2.5v5M106 1178.5h5m-2.5-2.5v5M106 1165.5h5m-2.5-2.5v5M107 1140.5h5m-2.5-2.5v5M107 1151.5h5m-2.5-2.5v5M107 1141.5h5m-2.5-2.5v5M108 1166.5h5m-2.5-2.5v5M108 1165.5h5m-2.5-2.5v5M109 1157.5h5m-2.5-2.5v5M109 1172.5h5m-2.5-2.5v5M109 1180.5h5m-2.5-2.5v5M109 1172.5h5m-2.5-2.5v5M109 1123.5h5m-2.5-2.5v5M110 1165.5h5m-2.5-2.5v5M110 1169.5h5m-2.5-2.5v5M110 1142.5h5m-2.5-2.5v5M110 1165.5h5m-2.5-2.5v5M110 1162.5h5m-2.5-2.5v5M110 1121.5h5m-2.5-2.5v5M110 1127.5h5m-2.5-2.5v5M111 1166.5h5m-2.5-2.5v5M111 1154.5h5m-2.5-2.5v5M111 1130.5h5m-2.5-2.5v5M111 1164.5h5m-2.5-2.5v5M111 1134.5h5m-2.5-2.5v5M111 1165.5h5m-2.5-2.5v5M111 1137.5h5m-2.5-2.5v5M111 1194.5h5m-2.5-2.5v5M112 1148.5h5m-2.5-2.5v5M113 1136.5h5m-2.5-2.5v5M113 1165.5h5m-2.5-2.5v5M113 1130.5h5m-2.5-2.5v5M114 1160.5h5m-2.5-2.5v5M114 1154.5h5m-2.5-2.5v5M114 1145.5h5m-2.5-2.5v5M114 1184.5h5m-2.5-2.5v5M114 1195.5h5m-2.5-2.5v5M115 1181.5h5m-2.5-2.5v5M115 1150.5h5m-2.5-2.5v5M115 1152.5h5m-2.5-2.5v5M115 1186.5h5m-2.5-2.5v5M115 1183.5h5m-2.5-2.5v5M115 1132.5h5m-2.5-2.5v5M115 1170.5h5m-2.5-2.5v5M116 1147.5h5m-2.5-2.5v5M116 1183.5h5m-2.5-2.5v5M116 1175.5h5m-2.5-2.5v5M116 1133.5h5m-2.5-2.5v5M116 1127.5h5m-2.5-2.5v5M117 1174.5h5m-2.5-2.5v5M117 1191.5h5m-2.5-2.5v5M118 1187.5h5m-2.5-2.5v5M118 1182.5h5m-2.5-2.5v5M118 1131.5h5m-2.5-2.5v5M118 1186.5h5m-2.5-2.5v5M118 1157.5h5m-2.5-2.5v5M118 1139.5h5m-2.5-2.5v5M119 1157.5h5m-2.5-2.5v5M119 1130.5h5m-2.5-2.5v5M119 1149.5h5m-2.5-2.5v5M119 1156.5h5m-2.5-2.5v5M119 1168.5h5m-2.5-2.5v5M119 1157.5h5m-2.5-2.5v5M120 1147.5h5m-2.5-2.5v5M120 1173.5h5m-2.5-2.5v5M120 1164.5h5m-2.5-2.5v5M120 1182.5h5m-2.5-2.5v5M120 1171.5h5m-2.5-2.5v5M120 1172.5h5m-2.5-2.5v5M120 1140.5h5m-2.5-2.5v5M120 1192.5h5m-2.5-2.5v5M121 1189.5h5m-2.5-2.5v5M121 1153.5h5m-2.5-2.5v5M121 1193.5h5m-2.5-2.5v5M121 1190.5h5m-2.5-2.5v5M122 1149.5h5m-2.5-2.5v5M122 1138.5h5m-2.5-2.5v5M122 1163.5h5m-2.5-2.5v5M122 1143.5h5m-2.5-2.5v5M122 1150.5h5m-2.5-2.5v5M122 1155.5h5m-2.5-2.5v5M122 1190.5h5m-2.5-2.5v5M123 1165.5h5m-2.5-2.5v5M123 1165.5h5m-2.5-2.5v5M123 1142.5h5m-2.5-2.5v5M123 1185.5h5m-2.5-2.5v5M123 1128.5h5m-2.5-2.5v5M123 1128.5h5m-2.5-2.5v5M124 1137.5h5m-2.5-2.5v5M124 1153.5h5m-2.5-2.5v5M124 1172.5h5m-2.5-2.5v5M124 1184.5h5m-2.5-2.5v5M124 1137.5h5m-2.5-2.5v5M124 1157.5h5m-2.5-2.5v5M124 1142.5h5m-2.5-2.5v5M124 1190.5h5m-2.5-2.5v5M125 1180.5h5m-2.5-2.5v5M125 1159.5h5m-2.5-2.5v5M125 1151.5h5m-2.5-2.5v5M125 1149.5h5m-2.5-2.5v5M125 1141.5h5m-2.5-2.5v5M125 1151.5h5m-2.5-2.5v5M125 1143.5h5m-2.5-2.5v5M125 1173.5h5m-2.5-2.5v5M126 1160.5h5m-2.5-2.5v5M126 1164.5h5m-2.5-2.5v5M126 1175.5h5m-2.5-2.5v5M126 1177.5h5m-2.5-2.5v5M126 1141.5h5m-2.5-2.5v5M126 1169.5h5m-2.5-2.5v5M126 1162.5h5m-2.5-2.5v5M126 1128.5h5m-2.5-2.5v5M128 1138.5h5m-2.5-2.5v5M128 1147.5h5m-2.5-2.5v5M128 1140.5h5m-2.5-2.5v5M128 1153.5h5m-2.5-2.5v5M129 1162.5h5m-2.5-2.5v5M129 1152.5h5m-2.5-2.5v5M129 1158.5h5m-2.5-2.5v5M129 1133.5h5m-2.5-2.5v5M130 1147.5h5m-2.5-2.5v5M130 1144.5h5m-2.5-2.5v5M130 1186.5h5m-2.5-2.5v5M131 1187.5h5m-2.5-2.5v5M131 1153.5h5m-2.5-2.5v5M132 1171.5h5m-2.5-2.5v5M132 1154.5h5m-2.5-2.5v5M132 1161.5h5m-2.5-2.5v5M132 1185.5h5m-2.5-2.5v5M133 1177.5h5m-2.5-2.5v5M134 1158.5h5m-2.5-2.5v5M134 1151.5h5m-2.5-2.5v5M135 1142.5h5m-2.5-2.5v5M135 1161.5h5m-2.5-2.5v5M135 1161.5h5m-2.5-2.5v5M135 1151.5h5m-2.5-2.5v5M135 1135.5h5m-2.5-2.5v5M135 1190.5h5m-2.5-2.5v5M136 1164.5h5m-2.5-2.5v5M136 1162.5h5m-2.5-2.5v5M136 1148.5h5m-2.5-2.5v5M136 1162.5h5m-2.5-2.5v5M136 1138.5h5m-2.5-2.5v5M137 1151.5h5m-2.5-2.5v5M137 1177.5h5m-2.5-2.5v5M137 1163.5h5m-2.5-2.5v5M137 1144.5h5m-2.5-2.5v5M138 1169.5h5m-2.5-2.5v5M138 1143.5h5m-2.5-2.5v5M138 1163.5h5m-2.5-2.5v5M138 1157.5h5m-2.5-2.5v5M138 1168.5h5m-2.5-2.5v5M138 1193.5h5m-2.5-2.5v5M139 1182.5h5m-2.5-2.5v5M139 1164.5h5m-2.5-2.5v5M139 1172.5h5m-2.5-2.5v5M139 1143.5h5m-2.5-2.5v5M139 1165.5h5m-2.5-2.5v5M139 1147.5h5m-2.5-2.5v5M140 1139.5h5m-2.5-2.5v5M140 1180.5h5m-2.5-2.5v5M140 1152.5h5m-2.5-2.5v5M140 1175.5h5m-2.5-2.5v5M141 1161.5h5m-2.5-2.5v5M141 1186.5h5m-2.5-2.5v5M141 1148.5h5m-2.5-2.5v5M141 1166.5h5m-2.5-2.5v5M141 1163.5h5m-2.5-2.5v5M142 1166.5h5m-2.5-2.5v5M142 1170.5h5m-2.5-2.5v5M142 1167.5h5m-2.5-2.5v5M142 1163.5h5m-2.5-2.5v5M143 1186.5h5m-2.5-2.5v5M143 1160.5h5m-2.5-2.5v5M143 1176.5h5m-2.5-2.5v5M143 1180.5h5m-2.5-2.5v5M144 1157.5h5m-2.5-2.5v5M144 1147.5h5m-2.5-2.5v5M144 1154.5h5m-2.5-2.5v5M144 1140.5h5m-2.5-2.5v5M144 1150.5h5m-2.5-2.5v5M145 1170.5h5m-2.5-2.5v5M145 1173.5h5m-2.5-2.5v5M145 1179.5h5m-2.5-2.5v5M146 1161.5h5m-2.5-2.5v5M146 1151.5h5m-2.5-2.5v5M146 1158.5h5m-2.5-2.5v5M146 1180.5h5m-2.5-2.5v5M146 1166.5h5m-2.5-2.5v5M146 1191.5h5m-2.5-2.5v5M147 1183.5h5m-2.5-2.5v5M147 1163.5h5m-2.5-2.5v5M147 1167.5h5m-2.5-2.5v5M148 1139.5h5m-2.5-2.5v5M149 1147.5h5m-2.5-2.5v5M149 1153.5h5m-2.5-2.5v5M149 1144.5h5m-2.5-2.5v5M149 1183.5h5m-2.5-2.5v5M149 1190.5h5m-2.5-2.5v5M150 1166.5h5m-2.5-2.5v5M150 1149.5h5m-2.5-2.5v5M150 1183.5h5m-2.5-2.5v5M150 1158.5h5m-2.5-2.5v5M151 1141.5h5m-2.5-2.5v5M151 1175.5h5m-2.5-2.5v5M151 1154.5h5m-2.5-2.5v5M151 1158.5h5m-2.5-2.5v5M152 1148.5h5m-2.5-2.5v5M152 1186.5h5m-2.5-2.5v5M152 1164.5h5m-2.5-2.5v5M153 1165.5h5m-2.5-2.5v5M153 1179.5h5m-2.5-2.5v5M153 1165.5h5m-2.5-2.5v5M154 1178.5h5m-2.5-2.5v5M154 1158.5h5m-2.5-2.5v5M154 1180.5h5m-2.5-2.5v5M154 1171.5h5m-2.5-2.5v5M154 1171.5h5m-2.5-2.5v5M154 1160.5h5m-2.5-2.5v5M155 1172.5h5m-2.5-2.5v5M155 1147.5h5m-2.5-2.5v5M155 1135.5h5m-2.5-2.5v5M156 1188.5h5m-2.5-2.5v5M157 1146.5h5m-2.5-2.5v5M157 1170.5h5m-2.5-2.5v5M157 1181.5h5m-2.5-2.5v5M158 1184.5h5m-2.5-2.5v5M159 1164.5h5m-2.5-2.5v5M159 1139.5h5m-2.5-2.5v5M159 1156.5h5m-2.5-2.5v5M161 1180.5h5m-2.5-2.5v5M161 1139.5h5m-2.5-2.5v5M161 1175.5h5m-2.5-2.5v5M162 1180.5h5m-2.5-2.5v5M162 1175.5h5m-2.5-2.5v5M162 1180.5h5m-2.5-2.5v5M163 1182.5h5m-2.5-2.5v5M163 1166.5h5m-2.5-2.5v5M164 1170.5h5m-2.5-2.5v5M164 1151.5h5m-2.5-2.5v5M164 1148.5h5m-2.5-2.5v5M164 1146.5h5m-2.5-2.5v5M164 1136.5h5m-2.5-2.5v5M164 1192.5h5m-2.5-2.5v5M165 1142.5h5m-2.5-2.5v5M165 1156.5h5m-2.5-2.5v5M165 1140.5h5m-2.5-2.5v5M165 1176.5h5m-2.5-2.5v5M166 1145.5h5m-2.5-2.5v5M166 1157.5h5m-2.5-2.5v5M166 1191.5h5m-2.5-2.5v5M167 1178.5h5m-2.5-2.5v5M167 1166.5h5m-2.5-2.5v5M169 1177.5h5m-2.5-2.5v5M169 1161.5h5m-2.5-2.5v5M169 1164.5h5m-2.5-2.5v5M169 1139.5h5m-2.5-2.5v5M169 1135.5h5m-2.5-2.5v5M170 1141.5h5m-2.5-2.5v5M170 1144.5h5m-2.5-2.5v5M170 1147.5h5m-2.5-2.5v5M171 1161.5h5m-2.5-2.5v5M171 1174.5h5m-2.5-2.5v5M171 1163.5h5m-2.5-2.5v5M171 1146.5h5m-2.5-2.5v5M171 1149.5h5m-2.5-2.5v5M171 1173.5h5m-2.5-2.5v5M171 1181.5h5m-2.5-2.5v5M171 1181.5h5m-2.5-2.5v5M171 1176.5h5m-2.5-2.5v5M172 1172.5h5m-2.5-2.5v5M172 1163.5h5m-2.5-2.5v5M173 1187.5h5m-2.5-2.5v5M173 1145.5h5m-2.5-2.5v5M174 1161.5h5m-2.5-2.5v5M174 1141.5h5m-2.5-2.5v5M174 1174.5h5m-2.5-2.5v5M174 1161.5h5m-2.5-2.5v5M174 1136.5h5m-2.5-2.5v5M174 1138.5h5m-2.5-2.5v5M175 1146.5h5m-2.5-2.5v5M175 1152.5h5m-2.5-2.5v5M175 1183.5h5m-2.5-2.5v5M175 1179.5h5m-2.5-2.5v5M175 1155.5h5m-2.5-2.5v5M176 1161.5h5m-2.5-2.5v5M176 1156.5h5m-2.5-2.5v5M176 1148.5h5m-2.5-2.5v5M176 1191.5h5m-2.5-2.5v5M176 1195.5h5m-2.5-2.5v5M177 1168.5h5m-2.5-2.5v5M177 1158.5h5m-2.5-2.5v5M178 1149.5h5m-2.5-2.5v5M178 1170.5h5m-2.5-2.5v5M178 1144.5h5m-2.5-2.5v5M179 1160.5h5m-2.5-2.5v5M179 1169.5h5m-2.5-2.5v5M179 1187.5h5m-2.5-2.5v5M179 1153.5h5m-2.5-2.5v5M179 1184.5h5m-2.5-2.5v5M180 1152.5h5m-2.5-2.5v5M180 1162.5h5m-2.5-2.5v5M181 1145.5h5m-2.5-2.5v5M181 1183.5h5m-2.5-2.5v5M182 1147.5h5m-2.5-2.5v5M182 1177.5h5m-2.5-2.5v5M182 1153.5h5m-2.5-2.5v5M182 1138.5h5m-2.5-2.5v5M182 1189.5h5m-2.5-2.5v5M183 1167.5h5m-2.5-2.5v5M183 1185.5h5m-2.5-2.5v5M183 1148.5h5m-2.5-2.5v5M183 1138.5h5m-2.5-2.5v5M184 1171.5h5m-2.5-2.5v5M184 1188.5h5m-2.5-2.5v5M185 1182.5h5m-2.5-2.5v5M186 1172.5h5m-2.5-2.5v5M186 1178.5h5m-2.5-2.5v5M186 1178.5h5m-2.5-2.5v5M186 1159.5h5m-2.5-2.5v5M186 1179.5h5m-2.5-2.5v5M187 1176.5h5m-2.5-2.5v5M187 1169.5h5m-2.5-2.5v5M187 1158.5h5m-2.5-2.5v5M187 1193.5h5m-2.5-2.5v5M188 1158.5h5m-2.5-2.5v5M188 1159.5h5m-2.5-2.5v5M188 1165.5h5m-2.5-2.5v5M188 1171.5h5m-2.5-2.5v5M188 1136.5h5m-2.5-2.5v5M189 1156.5h5m-2.5-2.5v5M189 1155.5h5m-2.5-2.5v5M189 1187.5h5m-2.5-2.5v5M190 1148.5h5m-2.5-2.5v5M190 1148.5h5m-2.5-2.5v5M190 1159.5h5m-2.5-2.5v5M190 1160.5h5m-2.5-2.5v5M190 1140.5h5m-2.5-2.5v5M190 1136.5h5m-2.5-2.5v5M191 1184.5h5m-2.5-2.5v5M191 1171.5h5m-2.5-2.5v5M191 1190.5h5m-2.5-2.5v5M192 1162.5h5m-2.5-2.5v5M192 1162.5h5m-2.5-2.5v5M192 1185.5h5m-2.5-2.5v5M192 1159.5h5m-2.5-2.5v5M192 1174.5h5m-2.5-2.5v5M193 1142.5h5m-2.5-2.5v5M193 1154.5h5m-2.5-2.5v5M193 1155.5h5m-2.5-2.5v5M194 1152.5h5m-2.5-2.5v5M194 1156.5h5m-2.5-2.5v5M194 1150.5h5m-2.5-2.5v5M194 1159.5h5m-2.5-2.5v5M194 1162.5h5m-2.5-2.5v5M195 1185.5h5m-2.5-2.5v5M196 1141.5h5m-2.5-2.5v5M196 1153.5h5m-2.5-2.5v5M196 1186.5h5m-2.5-2.5v5M196 1185.5h5m-2.5-2.5v5M196 1162.5h5m-2.5-2.5v5M196 1132.5h5m-2.5-2.5v5M197 1142.5h5m-2.5-2.5v5M199 1186.5h5m-2.5-2.5v5M199 1178.5h5m-2.5-2.5v5M199 1174.5h5m-2.5-2.5v5M200 1164.5h5m-2.5-2.5v5M200 1168.5h5m-2.5-2.5v5M200 1152.5h5m-2.5-2.5v5M200 1169.5h5m-2.5-2.5v5M200 1184.5h5m-2.5-2.5v5M201 1161.5h5m-2.5-2.5v5M201 1170.5h5m-2.5-2.5v5M202 1150.5h5m-2.5-2.5v5M202 1163.5h5m-2.5-2.5v5M202 1140.5h5m-2.5-2.5v5M203 1186.5h5m-2.5-2.5v5M203 1167.5h5m-2.5-2.5v5M203 1154.5h5m-2.5-2.5v5M203 1135.5h5m-2.5-2.5v5M204 1183.5h5m-2.5-2.5v5M204 1162.5h5m-2.5-2.5v5M204 1149.5h5m-2.5-2.5v5M204 1170.5h5m-2.5-2.5v5M205 1180.5h5m-2.5-2.5v5M206 1180.5h5m-2.5-2.5v5M206 1160.5h5m-2.5-2.5v5M206 1168.5h5m-2.5-2.5v5M206 1155.5h5m-2.5-2.5v5M206 1192.5h5m-2.5-2.5v5M207 1188.5h5m-2.5-2.5v5M207 1172.5h5m-2.5-2.5v5M207 1148.5h5m-2.5-2.5v5M207 1170.5h5m-2.5-2.5v5M207 1139.5h5m-2.5-2.5v5M207 1133.5h5m-2.5-2.5v5M208 1152.5h5m-2.5-2.5v5M208 1145.5h5m-2.5-2.5v5M208 1166.5h5m-2.5-2.5v5M208 1163.5h5m-2.5-2.5v5M209 1172.5h5m-2.5-2.5v5M209 1186.5h5m-2.5-2.5v5M209 1173.5h5m-2.5-2.5v5M209 1184.5h5m-2.5-2.5v5M209 1194.5h5m-2.5-2.5v5M210 1173.5h5m-2.5-2.5v5M210 1174.5h5m-2.5-2.5v5M210 1165.5h5m-2.5-2.5v5M210 1148.5h5m-2.5-2.5v5M210 1149.5h5m-2.5-2.5v5M211 1188.5h5m-2.5-2.5v5M211 1172.5h5m-2.5-2.5v5M211 1188.5h5m-2.5-2.5v5M211 1148.5h5m-2.5-2.5v5M211 1186.5h5m-2.5-2.5v5M211 1147.5h5m-2.5-2.5v5M212 1190.5h5m-2.5-2.5v5M212 1154.5h5m-2.5-2.5v5M212 1150.5h5m-2.5-2.5v5M213 1160.5h5m-2.5-2.5v5M214 1185.5h5m-2.5-2.5v5M214 1168.5h5m-2.5-2.5v5M214 1145.5h5m-2.5-2.5v5M214 1173.5h5m-2.5-2.5v5M214 1176.5h5m-2.5-2.5v5M214 1142.5h5m-2.5-2.5v5M214 1192.5h5m-2.5-2.5v5M215 1168.5h5m-2.5-2.5v5M215 1177.5h5m-2.5-2.5v5M215 1145.5h5m-2.5-2.5v5M216 1147.5h5m-2.5-2.5v5M216 1160.5h5m-2.5-2.5v5M216 1186.5h5m-2.5-2.5v5M216 1173.5h5m-2.5-2.5v5M216 1187.5h5m-2.5-2.5v5M216 1173.5h5m-2.5-2.5v5M216 1170.5h5m-2.5-2.5v5M216 1131.5h5m-2.5-2.5v5M217 1150.5h5m-2.5-2.5v5M218 1163.5h5m-2.5-2.5v5M218 1153.5h5m-2.5-2.5v5M218 1189.5h5m-2.5-2.5v5M218 1162.5h5m-2.5-2.5v5M219 1151.5h5m-2.5-2.5v5M219 1171.5h5m-2.5-2.5v5M219 1161.5h5m-2.5-2.5v5M220 1146.5h5m-2.5-2.5v5M220 1176.5h5m-2.5-2.5v5M220 1173.5h5m-2.5-2.5v5M221 1153.5h5m-2.5-2.5v5M221 1161.5h5m-2.5-2.5v5M221 1153.5h5m-2.5-2.5v5M221 1152.5h5m-2.5-2.5v5M221 1155.5h5m-2.5-2.5v5M221 1154.5h5m-2.5-2.5v5M221 1131.5h5m-2.5-2.5v5M222 1158.5h5m-2.5-2.5v5M222 1175.5h5m-2.5-2.5v5M222 1144.5h5m-2.5-2.5v5M222 1172.5h5m-2.5-2.5v5M223 1181.5h5m-2.5-2.5v5M224 1182.5h5m-2.5-2.5v5M224 1184.5h5m-2.5-2.5v5M224 1162.5h5m-2.5-2.5v5M224 1139.5h5m-2.5-2.5v5M224 1196.5h5m-2.5-2.5v5M225 1175.5h5m-2.5-2.5v5M225 1160.5h5m-2.5-2.5v5M225 1166.5h5m-2.5-2.5v5M225 1136.5h5m-2.5-2.5v5M225 1192.5h5m-2.5-2.5v5M226 1180.5h5m-2.5-2.5v5M226 1190.5h5m-2.5-2.5v5M226 1158.5h5m-2.5-2.5v5M226 1150.5h5m-2.5-2.5v5M227 1185.5h5m-2.5-2.5v5M227 1183.5h5m-2.5-2.5v5M227 1144.5h5m-2.5-2.5v5M227 1175.5h5m-2.5-2.5v5M228 1176.5h5m-2.5-2.5v5M228 1154.5h5m-2.5-2.5v5M229 1146.5h5m-2.5-2.5v5M229 1156.5h5m-2.5-2.5v5M229 1162.5h5m-2.5-2.5v5M229 1129.5h5m-2.5-2.5v5M230 1162.5h5m-2.5-2.5v5M231 1185.5h5m-2.5-2.5v5M231 1177.5h5m-2.5-2.5v5M233 1164.5h5m-2.5-2.5v5M233 1187.5h5m-2.5-2.5v5M233 1151.5h5m-2.5-2.5v5M234 1155.5h5m-2.5-2.5v5M234 1172.5h5m-2.5-2.5v5M234 1174.5h5m-2.5-2.5v5M235 1180.5h5m-2.5-2.5v5M235 1184.5h5m-2.5-2.5v5M235 1187.5h5m-2.5-2.5v5M235 1134.5h5m-2.5-2.5v5M236 1183.5h5m-2.5-2.5v5M236 1191.5h5m-2.5-2.5v5M237 1162.5h5m-2.5-2.5v5M237 1184.5h5m-2.5-2.5v5M237 1138.5h5m-2.5-2.5v5M239 1182.5h5m-2.5-2.5v5M239 1187.5h5m-2.5-2.5v5M239 1173.5h5m-2.5-2.5v5M239 1188.5h5m-2.5-2.5v5M239 1174.5h5m-2.5-2.5v5M239 1162.5h5m-2.5-2.5v5M240 1169.5h5m-2.5-2.5v5M240 1151.5h5m-2.5-2.5v5M240 1151.5h5m-2.5-2.5v5M240 1149.5h5m-2.5-2.5v5M240 1187.5h5m-2.5-2.5v5M240 1170.5h5m-2.5-2.5v5M240 1142.5h5m-2.5-2.5v5M241 1187.5h5m-2.5-2.5v5M241 1150.5h5m-2.5-2.5v5M241 1166.5h5m-2.5-2.5v5M241 1139.5h5m-2.5-2.5v5M242 1151.5h5m-2.5-2.5v5M242 1152.5h5m-2.5-2.5v5M242 1185.5h5m-2.5-2.5v5M242 1183.5h5m-2.5-2.5v5M243 1147.5h5m-2.5-2.5v5M243 1176.5h5m-2.5-2.5v5M243 1138.5h5m-2.5-2.5v5M244 1148.5h5m-2.5-2.5v5M244 1153.5h5m-2.5-2.5v5M244 1154.5h5m-2.5-2.5v5M244 1186.5h5m-2.5-2.5v5M245 1150.5h5m-2.5-2.5v5M245 1146.5h5m-2.5-2.5v5M245 1169.5h5m-2.5-2.5v5M245 1189.5h5m-2.5-2.5v5M245 1152.5h5m-2.5-2.5v5M245 1177.5h5m-2.5-2.5v5M245 1192.5h5m-2.5-2.5v5M246 1178.5h5m-2.5-2.5v5M246 1182.5h5m-2.5-2.5v5M246 1159.5h5m-2.5-2.5v5M246 1177.5h5m-2.5-2.5v5M247 1162.5h5m-2.5-2.5v5M247 1190.5h5m-2.5-2.5v5M248 1166.5h5m-2.5-2.5v5M248 1146.5h5m-2.5-2.5v5M248 1148.5h5m-2.5-2.5v5M248 1185.5h5m-2.5-2.5v5M248 1160.5h5m-2.5-2.5v5M248 1170.5h5m-2.5-2.5v5M248 1142.5h5m-2.5-2.5v5M248 1144.5h5m-2.5-2.5v5M249 1181.5h5m-2.5-2.5v5M249 1153.5h5m-2.5-2.5v5M249 1183.5h5m-2.5-2.5v5M249 1175.5h5m-2.5-2.5v5M249 1179.5h5m-2.5-2.5v5M249 1174.5h5m-2.5-2.5v5M250 1160.5h5m-2.5-2.5v5M250 1166.5h5m-2.5-2.5v5M250 1185.5h5m-2.5-2.5v5M250 1154.5h5m-2.5-2.5v5M250 1173.5h5m-2.5-2.5v5M251 1171.5h5m-2.5-2.5v5M251 1165.5h5m-2.5-2.5v5M251 1148.5h5m-2.5-2.5v5M251 1136.5h5m-2.5-2.5v5M252 1149.5h5m-2.5-2.5v5M253 1183.5h5m-2.5-2.5v5M253 1176.5h5m-2.5-2.5v5M253 1140.5h5m-2.5-2.5v5M253 1142.5h5m-2.5-2.5v5M253 1191.5h5m-2.5-2.5v5M254 1164.5h5m-2.5-2.5v5M254 1168.5h5m-2.5-2.5v5M254 1148.5h5m-2.5-2.5v5M254 1156.5h5m-2.5-2.5v5M255 1175.5h5m-2.5-2.5v5M255 1167.5h5m-2.5-2.5v5M255 1156.5h5m-2.5-2.5v5M256 1149.5h5m-2.5-2.5v5M256 1154.5h5m-2.5-2.5v5M256 1179.5h5m-2.5-2.5v5M256 1162.5h5m-2.5-2.5v5M256 1149.5h5m-2.5-2.5v5M257 1151.5h5m-2.5-2.5v5M257 1183.5h5m-2.5-2.5v5M257 1169.5h5m-2.5-2.5v5M257 1181.5h5m-2.5-2.5v5M257 1181.5h5m-2.5-2.5v5M257 1142.5h5m-2.5-2.5v5M257 1140.5h5m-2.5-2.5v5M257 1190.5h5m-2.5-2.5v5M258 1176.5h5m-2.5-2.5v5M258 1170.5h5m-2.5-2.5v5M258 1168.5h5m-2.5-2.5v5M258 1139.5h5m-2.5-2.5v5M258 1193.5h5m-2.5-2.5v5M259 1172.5h5m-2.5-2.5v5M259 1174.5h5m-2.5-2.5v5M260 1184.5h5m-2.5-2.5v5M261 1168.5h5m-2.5-2.5v5M261 1151.5h5m-2.5-2.5v5M261 1187.5h5m-2.5-2.5v5M261 1186.5h5m-2.5-2.5v5M261 1191.5h5m-2.5-2.5v5M261 1195.5h5m-2.5-2.5v5M262 1179.5h5m-2.5-2.5v5M262 1170.5h5m-2.5-2.5v5M262 1185.5h5m-2.5-2.5v5M263 1158.5h5m-2.5-2.5v5M263 1170.5h5m-2.5-2.5v5M263 1176.5h5m-2.5-2.5v5M263 1145.5h5m-2.5-2.5v5M263 1191.5h5m-2.5-2.5v5M264 1171.5h5m-2.5-2.5v5M264 1186.5h5m-2.5-2.5v5M264 1148.5h5m-2.5-2.5v5M264 1151.5h5m-2.5-2.5v5M264 1158.5h5m-2.5-2.5v5M264 1134.5h5m-2.5-2.5v5M264 1188.5h5m-2.5-2.5v5M265 1155.5h5m-2.5-2.5v5M265 1156.5h5m-2.5-2.5v5M265 1144.5h5m-2.5-2.5v5M265 1190.5h5m-2.5-2.5v5M266 1185.5h5m-2.5-2.5v5M266 1139.5h5m-2.5-2.5v5M266 1194.5h5m-2.5-2.5v5M266 1194.5h5m-2.5-2.5v5M267 1168.5h5m-2.5-2.5v5M267 1184.5h5m-2.5-2.5v5M267 1173.5h5m-2.5-2.5v5M268 1179.5h5m-2.5-2.5v5M268 1156.5h5m-2.5-2.5v5M269 1170.5h5m-2.5-2.5v5M269 1176.5h5m-2.5-2.5v5M269 1194.5h5m-2.5-2.5v5M269 1191.5h5m-2.5-2.5v5M270 1156.5h5m-2.5-2.5v5M270 1145.5h5m-2.5-2.5v5M272 1154.5h5m-2.5-2.5v5M272 1139.5h5m-2.5-2.5v5M273 1166.5h5m-2.5-2.5v5M273 1183.5h5m-2.5-2.5v5M273 1143.5h5m-2.5-2.5v5M274 1186.5h5m-2.5-2.5v5M275 1153.5h5m-2.5-2.5v5M275 1158.5h5m-2.5-2.5v5M275 1166.5h5m-2.5-2.5v5M276 1148.5h5m-2.5-2.5v5M276 1152.5h5m-2.5-2.5v5M276 1170.5h5m-2.5-2.5v5M276 1170.5h5m-2.5-2.5v5M277 1153.5h5m-2.5-2.5v5M277 1154.5h5m-2.5-2.5v5M277 1161.5h5m-2.5-2.5v5M277 1184.5h5m-2.5-2.5v5M278 1166.5h5m-2.5-2.5v5M278 1178.5h5m-2.5-2.5v5M278 1146.5h5m-2.5-2.5v5M279 1169.5h5m-2.5-2.5v5M279 1175.5h5m-2.5-2.5v5M279 1159.5h5m-2.5-2.5v5M279 1171.5h5m-2.5-2.5v5M280 1168.5h5m-2.5-2.5v5M280 1187.5h5m-2.5-2.5v5M281 1164.5h5m-2.5-2.5v5M281 1171.5h5m-2.5-2.5v5M281 1165.5h5m-2.5-2.5v5M281 1163.5h5m-2.5-2.5v5M281 1160.5h5m-2.5-2.5v5M281 1169.5h5m-2.5-2.5v5M281 1183.5h5m-2.5-2.5v5M282 1156.5h5m-2.5-2.5v5M282 1173.5h5m-2.5-2.5v5M283 1175.5h5m-2.5-2.5v5M284 1161.5h5m-2.5-2.5v5M284 1180.5h5m-2.5-2.5v5M284 1162.5h5m-2.5-2.5v5M284 1171.5h5m-2.5-2.5v5M284 1148.5h5m-2.5-2.5v5M284 1149.5h5m-2.5-2.5v5M284 1147.5h5m-2.5-2.5v5M284 1147.5h5m-2.5-2.5v5M285 1161.5h5m-2.5-2.5v5M285 1164.5h5m-2.5-2.5v5M285 1172.5h5m-2.5-2.5v5M285 1156.5h5m-2.5-2.5v5M287 1173.5h5m-2.5-2.5v5M287 1177.5h5m-2.5-2.5v5M288 1171.5h5m-2.5-2.5v5M288 1183.5h5m-2.5-2.5v5M289 1162.5h5m-2.5-2.5v5M289 1148.5h5m-2.5-2.5v5M290 1179.5h5m-2.5-2.5v5M290 1149.5h5m-2.5-2.5v5M291 1186.5h5m-2.5-2.5v5M292 1161.5h5m-2.5-2.5v5M292 1155.5h5m-2.5-2.5v5M294 1152.5h5m-2.5-2.5v5M295 1142.5h5m-2.5-2.5v5M296 1163.5h5m-2.5-2.5v5M296 1176.5h5m-2.5-2.5v5M296 1183.5h5m-2.5-2.5v5M297 1165.5h5m-2.5-2.5v5M297 1168.5h5m-2.5-2.5v5M297 1166.5h5m-2.5-2.5v5M298 1148.5h5m-2.5-2.5v5M299 1165.5h5m-2.5-2.5v5M300 1176.5h5m-2.5-2.5v5M300 1152.5h5m-2.5-2.5v5M301 1166.5h5m-2.5-2.5v5M301 1165.5h5m-2.5-2.5v5M302 1158.5h5m-2.5-2.5v5M302 1134.5h5m-2.5-2.5v5M303 1153.5h5m-2.5-2.5v5M303 1174.5h5m-2.5-2.5v5M303 1153.5h5m-2.5-2.5v5M303 1167.5h5m-2.5-2.5v5M304 1151.5h5m-2.5-2.5v5M304 1152.5h5m-2.5-2.5v5M304 1155.5h5m-2.5-2.5v5M304 1142.5h5m-2.5-2.5v5M305 1171.5h5m-2.5-2.5v5M305 1173.5h5m-2.5-2.5v5M306 1148.5h5m-2.5-2.5v5M306 1141.5h5m-2.5-2.5v5M307 1172.5h5m-2.5-2.5v5M307 1174.5h5m-2.5-2.5v5M307 1176.5h5m-2.5-2.5v5M307 1172.5h5m-2.5-2.5v5M307 1154.5h5m-2.5-2.5v5M308 1155.5h5m-2.5-2.5v5M309 1155.5h5m-2.5-2.5v5M309 1173.5h5m-2.5-2.5v5M310 1180.5h5m-2.5-2.5v5M311 1154.5h5m-2.5-2.5v5M311 1166.5h5m-2.5-2.5v5M311 1170.5h5m-2.5-2.5v5M311 1164.5h5m-2.5-2.5v5M312 1174.5h5m-2.5-2.5v5M312 1167.5h5m-2.5-2.5v5M312 1159.5h5m-2.5-2.5v5M315 1157.5h5m-2.5-2.5v5M315 1184.5h5m-2.5-2.5v5M316 1166.5h5m-2.5-2.5v5M316 1155.5h5m-2.5-2.5v5M316 1179.5h5m-2.5-2.5v5M317 1157.5h5m-2.5-2.5v5M317 1153.5h5m-2.5-2.5v5M318 1165.5h5m-2.5-2.5v5M318 1160.5h5m-2.5-2.5v5M318 1166.5h5m-2.5-2.5v5M319 1182.5h5m-2.5-2.5v5M321 1168.5h5m-2.5-2.5v5M322 1170.5h5m-2.5-2.5v5M322 1154.5h5m-2.5-2.5v5M322 1176.5h5m-2.5-2.5v5M323 1168.5h5m-2.5-2.5v5M323 1174.5h5m-2.5-2.5v5M323 1167.5h5m-2.5-2.5v5M323 1152.5h5m-2.5-2.5v5M324 1170.5h5m-2.5-2.5v5M324 1170.5h5m-2.5-2.5v5M324 1154.5h5m-2.5-2.5v5M325 1161.5h5m-2.5-2.5v5M326 1172.5h5m-2.5-2.5v5M328 1169.5h5m-2.5-2.5v5M328 1180.5h5m-2.5-2.5v5M329 1168.5h5m-2.5-2.5v5M329 1154.5h5m-2.5-2.5v5M329 1157.5h5m-2.5-2.5v5M333 1159.5h5m-2.5-2.5v5M333 1163.5h5m-2.5-2.5v5M333 1168.5h5m-2.5-2.5v5M334 1173.5h5m-2.5-2.5v5M334 1162.5h5m-2.5-2.5v5M335 1170.5h5m-2.5-2.5v5M336 1159.5h5m-2.5-2.5v5M337 1144.5h5m-2.5-2.5v5M338 1163.5h5m-2.5-2.5v5M339 1160.5h5m-2.5-2.5v5M340 1174.5h5m-2.5-2.5v5M341 1155.5h5m-2.5-2.5v5M344 1157.5h5m-2.5-2.5v5M344 1160.5h5m-2.5-2.5v5M344 1151.5h5m-2.5-2.5v5M344 1174.5h5m-2.5-2.5v5M345 1173.5h5m-2.5-2.5v5M345 1159.5h5m-2.5-2.5v5M345 1174.5h5m-2.5-2.5v5M347 1171.5h5m-2.5-2.5v5M347 1165.5h5m-2.5-2.5v5M348 1161.5h5m-2.5-2.5v5M348 1153.5h5m-2.5-2.5v5M350 1171.5h5m-2.5-2.5v5M351 1158.5h5m-2.5-2.5v5M351 1157.5h5m-2.5-2.5v5M351 1171.5h5m-2.5-2.5v5M352 1159.5h5m-2.5-2.5v5M355 1166.5h5m-2.5-2.5v5M356 1160.5h5m-2.5-2.5v5M358 1164.5h5m-2.5-2.5v5M358 1170.5h5m-2.5-2.5v5M358 1172.5h5m-2.5-2.5v5M359 1172.5h5m-2.5-2.5v5M361 1150.5h5m-2.5-2.5v5M363 1160.5h5m-2.5-2.5v5M363 1166.5h5m-2.5-2.5v5M366 1155.5h5m-2.5-2.5v5M367 1161.5h5m-2.5-2.5v5M368 1167.5h5m-2.5-2.5v5M372 1175.5h5m-2.5-2.5v5M373 1168.5h5m-2.5-2.5v5M373 1155.5h5m-2.5-2.5v5M376 1164.5h5m-2.5-2.5v5M377 1165.5h5m-2.5-2.5v5M379 1160.5h5m-2.5-2.5v5M381 1162.5h5m-2.5-2.5v5M384 1167.5h5m-2.5-2.5v5M385 1171.5h5m-2.5-2.5v5M388 1167.5h5m-2.5-2.5v5M389 1168.5h5m-2.5-2.5v5M390 1156.5h5m-2.5-2.5v5M394 1172.5h5m-2.5-2.5v5M405 1173.5h5m-2.5-2.5v5M418 1172.5h5m-2.5-2.5v5M426 1166.5h5m-2.5-2.5v5M445 1168.5h5m-2.5-2.5v5M97 1173.5h5m-2.5-2.5v5M78 1167.5h5m-2.5-2.5v5M75 1165.5h5m-2.5-2.5v5M106 1186.5h5m-2.5-2.5v5M87 1170.5h5m-2.5-2.5v5M108 1193.5h5m-2.5-2.5v5M78 1158.5h5m-2.5-2.5v5M69 1162.5h5m-2.5-2.5v5M101 1176.5h5m-2.5-2.5v5M99 1183.5h5m-2.5-2.5v5M64 1148.5h5m-2.5-2.5v5M70 1162.5h5m-2.5-2.5v5M94 1176.5h5m-2.5-2.5v5M104 1189.5h5m-2.5-2.5v5M89 1167.5h5m-2.5-2.5v5M68 1163.5h5m-2.5-2.5v5M79 1156.5h5m-2.5-2.5v5M92 1177.5h5m-2.5-2.5v5M88 1164.5h5m-2.5-2.5v5M82 1168.5h5m-2.5-2.5v5M87 1174.5h5m-2.5-2.5v5M82 1163.5h5m-2.5-2.5v5M81 1160.5h5m-2.5-2.5v5M84 1168.5h5m-2.5-2.5v5M98 1182.5h5m-2.5-2.5v5M227 1094.5h5m-2.5-2.5v5M372 1131.5h5m-2.5-2.5v5M379 1174.5h5m-2.5-2.5v5M67 1119.5h5m-2.5-2.5v5M181 1118.5h5m-2.5-2.5v5M167 1105.5h5m-2.5-2.5v5M152 1192.5h5m-2.5-2.5v5M170 1118.5h5m-2.5-2.5v5M244 1117.5h5m-2.5-2.5v5M274 1102.5h5m-2.5-2.5v5M234 1103.5h5m-2.5-2.5v5M232 1191.5h5m-2.5-2.5v5M83 1116.5h5m-2.5-2.5v5M276 1118.5h5m-2.5-2.5v5M110 1093.5h5m-2.5-2.5v5M295 1093.5h5m-2.5-2.5v5M153 1127.5h5m-2.5-2.5v5M318 1182.5h5m-2.5-2.5v5M332 1177.5h5m-2.5-2.5v5M243 1191.5h5m-2.5-2.5v5M147 1109.5h5m-2.5-2.5v5M63 1118.5h5m-2.5-2.5v5M212 1191.5h5m-2.5-2.5v5M406 1119.5h5m-2.5-2.5v5M104 1113.5h5m-2.5-2.5v5M324 1117.5h5m-2.5-2.5v5M127 1091.5h5m-2.5-2.5v5M365 1141.5h5m-2.5-2.5v5M255 1075.5h5m-2.5-2.5v5M107 1188.5h5m-2.5-2.5v5M348 1177.5h5m-2.5-2.5v5M97 1166.5h5m-2.5-2.5v5M75 1151.5h5m-2.5-2.5v5M91 1159.5h5m-2.5-2.5v5M364 1122.5h5m-2.5-2.5v5M209 1195.5h5m-2.5-2.5v5M320 1123.5h5m-2.5-2.5v5M127 1190.5h5m-2.5-2.5v5M121 1191.5h5m-2.5-2.5v5M251 1103.5h5m-2.5-2.5v5M250 1070.5h5m-2.5-2.5v5M260 1103.5h5m-2.5-2.5v5M260 1095.5h5m-2.5-2.5v5M255 1075.5h5m-2.5-2.5v5M185 1124.5h5m-2.5-2.5v5M177 1124.5h5m-2.5-2.5v5M170 1126.5h5m-2.5-2.5v5M177 1133.5h5m-2.5-2.5v5M176 1133.5h5m-2.5-2.5v5M172 1121.5h5m-2.5-2.5v5M110 1102.5h5m-2.5-2.5v5M115 1116.5h5m-2.5-2.5v5M118 1123.5h5m-2.5-2.5v5" stroke="#444" stroke-opacity="0.56" stroke-width="1.2" fill="none"/>
<path d="M61 1136.5h5m-2.5-2.5v5M62 1129.5h5m-2.5-2.5v5M64 1139.5h5m-2.5-2.5v5M65 1142.5h5m-2.5-2.5v5M67 1133.5h5m-2.5-2.5v5M68 1139.5h5m-2.5-2.5v5M68 1122.5h5m-2.5-2.5v5M68 1152.5h5m-2.5-2.5v5M69 1126.5h5m-2.5-2.5v5M72 1130.5h5m-2.5-2.5v5M73 1136.5h5m-2.5-2.5v5M73 1142.5h5m-2.5-2.5v5M73 1152.5h5m-2.5-2.5v5M75 1146.5h5m-2.5-2.5v5M75 1153.5h5m-2.5-2.5v5M76 1148.5h5m-2.5-2.5v5M76 1137.5h5m-2.5-2.5v5M76 1155.5h5m-2.5-2.5v5M77 1140.5h5m-2.5-2.5v5M77 1147.5h5m-2.5-2.5v5M79 1138.5h5m-2.5-2.5v5M79 1152.5h5m-2.5-2.5v5M80 1126.5h5m-2.5-2.5v5M81 1139.5h5m-2.5-2.5v5M81 1137.5h5m-2.5-2.5v5M81 1129.5h5m-2.5-2.5v5M81 1125.5h5m-2.5-2.5v5M82 1137.5h5m-2.5-2.5v5M82 1141.5h5m-2.5-2.5v5M84 1139.5h5m-2.5-2.5v5M84 1132.5h5m-2.5-2.5v5M85 1143.5h5m-2.5-2.5v5M85 1133.5h5m-2.5-2.5v5M86 1147.5h5m-2.5-2.5v5M86 1151.5h5m-2.5-2.5v5M86 1146.5h5m-2.5-2.5v5M86 1154.5h5m-2.5-2.5v5M87 1149.5h5m-2.5-2.5v5M87 1139.5h5m-2.5-2.5v5M89 1141.5h5m-2.5-2.5v5M89 1157.5h5m-2.5-2.5v5M90 1135.5h5m-2.5-2.5v5M90 1168.5h5m-2.5-2.5v5M91 1171.5h5m-2.5-2.5v5M92 1129.5h5m-2.5-2.5v5M92 1135.5h5m-2.5-2.5v5M93 1147.5h5m-2.5-2.5v5M94 1129.5h5m-2.5-2.5v5M94 1171.5h5m-2.5-2.5v5M95 1150.5h5m-2.5-2.5v5M95 1159.5h5m-2.5-2.5v5M95 1142.5h5m-2.5-2.5v5M95 1154.5h5m-2.5-2.5v5M95 1156.5h5m-2.5-2.5v5M96 1156.5h5m-2.5-2.5v5M100 1162.5h5m-2.5-2.5v5M100 1154.5h5m-2.5-2.5v5M100 1130.5h5m-2.5-2.5v5M100 1174.5h5m-2.5-2.5v5M101 1163.5h5m-2.5-2.5v5M101 1137.5h5m-2.5-2.5v5M101 1138.5h5m-2.5-2.5v5M101 1177.5h5m-2.5-2.5v5M102 1138.5h5m-2.5-2.5v5M102 1141.5h5m-2.5-2.5v5M102 1176.5h5m-2.5-2.5v5M102 1175.5h5m-2.5-2.5v5M103 1177.5h5m-2.5-2.5v5M104 1142.5h5m-2.5-2.5v5M104 1163.5h5m-2.5-2.5v5M105 1180.5h5m-2.5-2.5v5M105 1170.5h5m-2.5-2.5v5M105 1156.5h5m-2.5-2.5v5M105 1186.5h5m-2.5-2.5v5M106 1181.5h5m-2.5-2.5v5M106 1132.5h5m-2.5-2.5v5M106 1177.5h5m-2.5-2.5v5M107 1145.5h5m-2.5-2.5v5M107 1159.5h5m-2.5-2.5v5M107 1135.5h5m-2.5-2.5v5M107 1178.5h5m-2.5-2.5v5M108 1176.5h5m-2.5-2.5v5M109 1166.5h5m-2.5-2.5v5M109 1181.5h5m-2.5-2.5v5M110 1154.5h5m-2.5-2.5v5M110 1124.5h5m-2.5-2.5v5M110 1188.5h5m-2.5-2.5v5M111 1138.5h5m-2.5-2.5v5M111 1144.5h5m-2.5-2.5v5M111 1164.5h5m-2.5-2.5v5M111 1155.5h5m-2.5-2.5v5M111 1183.5h5m-2.5-2.5v5M112 1172.5h5m-2.5-2.5v5M112 1143.5h5m-2.5-2.5v5M112 1156.5h5m-2.5-2.5v5M112 1137.5h5m-2.5-2.5v5M113 1139.5h5m-2.5-2.5v5M113 1149.5h5m-2.5-2.5v5M113 1149.5h5m-2.5-2.5v5M113 1188.5h5m-2.5-2.5v5M113 1197.5h5m-2.5-2.5v5M114 1179.5h5m-2.5-2.5v5M114 1193.5h5m-2.5-2.5v5M115 1188.5h5m-2.5-2.5v5M115 1137.5h5m-2.5-2.5v5M116 1171.5h5m-2.5-2.5v5M116 1140.5h5m-2.5-2.5v5M116 1146.5h5m-2.5-2.5v5M116 1133.5h5m-2.5-2.5v5M116 1188.5h5m-2.5-2.5v5M116 1159.5h5m-2.5-2.5v5M117 1157.5h5m-2.5-2.5v5M117 1147.5h5m-2.5-2.5v5M117 1151.5h5m-2.5-2.5v5M117 1132.5h5m-2.5-2.5v5M117 1164.5h5m-2.5-2.5v5M117 1143.5h5m-2.5-2.5v5M117 1183.5h5m-2.5-2.5v5M117 1125.5h5m-2.5-2.5v5M118 1138.5h5m-2.5-2.5v5M118 1176.5h5m-2.5-2.5v5M118 1125.5h5m-2.5-2.5v5M119 1166.5h5m-2.5-2.5v5M119 1147.5h5m-2.5-2.5v5M119 1195.5h5m-2.5-2.5v5M120 1164.5h5m-2.5-2.5v5M120 1172.5h5m-2.5-2.5v5M120 1157.5h5m-2.5-2.5v5M120 1159.5h5m-2.5-2.5v5M120 1164.5h5m-2.5-2.5v5M120 1144.5h5m-2.5-2.5v5M120 1179.5h5m-2.5-2.5v5M121 1135.5h5m-2.5-2.5v5M121 1171.5h5m-2.5-2.5v5M121 1149.5h5m-2.5-2.5v5M121 1161.5h5m-2.5-2.5v5M121 1151.5h5m-2.5-2.5v5M121 1159.5h5m-2.5-2.5v5M121 1145.5h5m-2.5-2.5v5M121 1173.5h5m-2.5-2.5v5M122 1165.5h5m-2.5-2.5v5M122 1153.5h5m-2.5-2.5v5M122 1185.5h5m-2.5-2.5v5M123 1182.5h5m-2.5-2.5v5M123 1176.5h5m-2.5-2.5v5M123 1130.5h5m-2.5-2.5v5M124 1137.5h5m-2.5-2.5v5M124 1168.5h5m-2.5-2.5v5M124 1160.5h5m-2.5-2.5v5M124 1131.5h5m-2.5-2.5v5M125 1163.5h5m-2.5-2.5v5M125 1137.5h5m-2.5-2.5v5M125 1158.5h5m-2.5-2.5v5M125 1171.5h5m-2.5-2.5v5M125 1189.5h5m-2.5-2.5v5M126 1133.5h5m-2.5-2.5v5M126 1173.5h5m-2.5-2.5v5M126 1153.5h5m-2.5-2.5v5M126 1191.5h5m-2.5-2.5v5M127 1141.5h5m-2.5-2.5v5M127 1136.5h5m-2.5-2.5v5M128 1167.5h5m-2.5-2.5v5M128 1180.5h5m-2.5-2.5v5M128 1146.5h5m-2.5-2.5v5M128 1178.5h5m-2.5-2.5v5M128 1141.5h5m-2.5-2.5v5M128 1169.5h5m-2.5-2.5v5M128 1136.5h5m-2.5-2.5v5M129 1139.5h5m-2.5-2.5v5M129 1139.5h5m-2.5-2.5v5M129 1135.5h5m-2.5-2.5v5M129 1132.5h5m-2.5-2.5v5M129 1189.5h5m-2.5-2.5v5M130 1183.5h5m-2.5-2.5v5M130 1164.5h5m-2.5-2.5v5M130 1162.5h5m-2.5-2.5v5M130 1179.5h5m-2.5-2.5v5M130 1160.5h5m-2.5-2.5v5M130 1172.5h5m-2.5-2.5v5M131 1161.5h5m-2.5-2.5v5M131 1151.5h5m-2.5-2.5v5M131 1165.5h5m-2.5-2.5v5M131 1156.5h5m-2.5-2.5v5M132 1141.5h5m-2.5-2.5v5M132 1164.5h5m-2.5-2.5v5M133 1174.5h5m-2.5-2.5v5M134 1155.5h5m-2.5-2.5v5M135 1172.5h5m-2.5-2.5v5M135 1151.5h5m-2.5-2.5v5M135 1159.5h5m-2.5-2.5v5M135 1177.5h5m-2.5-2.5v5M136 1164.5h5m-2.5-2.5v5M136 1163.5h5m-2.5-2.5v5M136 1154.5h5m-2.5-2.5v5M136 1164.5h5m-2.5-2.5v5M136 1162.5h5m-2.5-2.5v5M136 1156.5h5m-2.5-2.5v5M136 1186.5h5m-2.5-2.5v5M136 1150.5h5m-2.5-2.5v5M137 1183.5h5m-2.5-2.5v5M137 1149.5h5m-2.5-2.5v5M137 1157.5h5m-2.5-2.5v5M137 1145.5h5m-2.5-2.5v5M137 1150.5h5m-2.5-2.5v5M138 1160.5h5m-2.5-2.5v5M138 1153.5h5m-2.5-2.5v5M138 1180.5h5m-2.5-2.5v5M139 1166.5h5m-2.5-2.5v5M139 1176.5h5m-2.5-2.5v5M139 1168.5h5m-2.5-2.5v5M139 1152.5h5m-2.5-2.5v5M139 1144.5h5m-2.5-2.5v5M140 1146.5h5m-2.5-2.5v5M140 1188.5h5m-2.5-2.5v5M141 1151.5h5m-2.5-2.5v5M141 1139.5h5m-2.5-2.5v5M142 1164.5h5m-2.5-2.5v5M142 1166.5h5m-2.5-2.5v5M142 1156.5h5m-2.5-2.5v5M142 1149.5h5m-2.5-2.5v5M143 1146.5h5m-2.5-2.5v5M143 1158.5h5m-2.5-2.5v5M143 1189.5h5m-2.5-2.5v5M144 1150.5h5m-2.5-2.5v5M144 1179.5h5m-2.5-2.5v5M144 1180.5h5m-2.5-2.5v5M145 1185.5h5m-2.5-2.5v5M145 1151.5h5m-2.5-2.5v5M145 1154.5h5m-2.5-2.5v5M145 1138.5h5m-2.5-2.5v5M146 1178.5h5m-2.5-2.5v5M147 1174.5h5m-2.5-2.5v5M147 1186.5h5m-2.5-2.5v5M147 1146.5h5m-2.5-2.5v5M147 1176.5h5m-2.5-2.5v5M148 1155.5h5m-2.5-2.5v5M148 1142.5h5m-2.5-2.5v5M148 1159.5h5m-2.5-2.5v5M148 1182.5h5m-2.5-2.5v5M149 1179.5h5m-2.5-2.5v5M149 1139.5h5m-2.5-2.5v5M149 1173.5h5m-2.5-2.5v5M149 1166.5h5m-2.5-2.5v5M149 1183.5h5m-2.5-2.5v5M149 1172.5h5m-2.5-2.5v5M149 1157.5h5m-2.5-2.5v5M149 1158.5h5m-2.5-2.5v5M149 1159.5h5m-2.5-2.5v5M149 1187.5h5m-2.5-2.5v5M150 1161.5h5m-2.5-2.5v5M150 1165.5h5m-2.5-2.5v5M151 1150.5h5m-2.5-2.5v5M151 1146.5h5m-2.5-2.5v5M151 1180.5h5m-2.5-2.5v5M151 1148.5h5m-2.5-2.5v5M151 1149.5h5m-2.5-2.5v5M152 1175.5h5m-2.5-2.5v5M152 1178.5h5m-2.5-2.5v5M152 1132.5h5m-2.5-2.5v5M153 1149.5h5m-2.5-2.5v5M153 1146.5h5m-2.5-2.5v5M153 1158.5h5m-2.5-2.5v5M153 1169.5h5m-2.5-2.5v5M153 1160.5h5m-2.5-2.5v5M153 1175.5h5m-2.5-2.5v5M153 1188.5h5m-2.5-2.5v5M154 1143.5h5m-2.5-2.5v5M154 1183.5h5m-2.5-2.5v5M154 1168.5h5m-2.5-2.5v5M154 1141.5h5m-2.5-2.5v5M154 1157.5h5m-2.5-2.5v5M154 1155.5h5m-2.5-2.5v5M155 1159.5h5m-2.5-2.5v5M156 1180.5h5m-2.5-2.5v5M156 1141.5h5m-2.5-2.5v5M156 1180.5h5m-2.5-2.5v5M156 1144.5h5m-2.5-2.5v5M156 1168.5h5m-2.5-2.5v5M156 1143.5h5m-2.5-2.5v5M157 1182.5h5m-2.5-2.5v5M157 1170.5h5m-2.5-2.5v5M157 1141.5h5m-2.5-2.5v5M157 1148.5h5m-2.5-2.5v5M158 1161.5h5m-2.5-2.5v5M158 1161.5h5m-2.5-2.5v5M158 1139.5h5m-2.5-2.5v5M159 1186.5h5m-2.5-2.5v5M159 1158.5h5m-2.5-2.5v5M160 1175.5h5m-2.5-2.5v5M160 1165.5h5m-2.5-2.5v5M160 1147.5h5m-2.5-2.5v5M161 1173.5h5m-2.5-2.5v5M161 1153.5h5m-2.5-2.5v5M161 1168.5h5m-2.5-2.5v5M161 1169.5h5m-2.5-2.5v5M161 1162.5h5m-2.5-2.5v5M161 1165.5h5m-2.5-2.5v5M161 1173.5h5m-2.5-2.5v5M161 1170.5h5m-2.5-2.5v5M161 1150.5h5m-2.5-2.5v5M161 1153.5h5m-2.5-2.5v5M161 1171.5h5m-2.5-2.5v5M161 1173.5h5m-2.5-2.5v5M162 1156.5h5m-2.5-2.5v5M162 1145.5h5m-2.5-2.5v5M162 1178.5h5m-2.5-2.5v5M162 1188.5h5m-2.5-2.5v5M163 1142.5h5m-2.5-2.5v5M163 1183.5h5m-2.5-2.5v5M163 1165.5h5m-2.5-2.5v5M163 1178.5h5m-2.5-2.5v5M163 1168.5h5m-2.5-2.5v5M163 1173.5h5m-2.5-2.5v5M164 1153.5h5m-2.5-2.5v5M164 1162.5h5m-2.5-2.5v5M164 1141.5h5m-2.5-2.5v5M165 1169.5h5m-2.5-2.5v5M165 1164.5h5m-2.5-2.5v5M165 1165.5h5m-2.5-2.5v5M165 1189.5h5m-2.5-2.5v5M166 1186.5h5m-2.5-2.5v5M167 1141.5h5m-2.5-2.5v5M167 1146.5h5m-2.5-2.5v5M167 1147.5h5m-2.5-2.5v5M167 1155.5h5m-2.5-2.5v5M167 1144.5h5m-2.5-2.5v5M167 1169.5h5m-2.5-2.5v5M167 1135.5h5m-2.5-2.5v5M168 1174.5h5m-2.5-2.5v5M168 1176.5h5m-2.5-2.5v5M168 1183.5h5m-2.5-2.5v5M168 1178.5h5m-2.5-2.5v5M169 1158.5h5m-2.5-2.5v5M169 1161.5h5m-2.5-2.5v5M169 1138.5h5m-2.5-2.5v5M170 1173.5h5m-2.5-2.5v5M171 1170.5h5m-2.5-2.5v5M171 1170.5h5m-2.5-2.5v5M171 1169.5h5m-2.5-2.5v5M172 1140.5h5m-2.5-2.5v5M172 1182.5h5m-2.5-2.5v5M172 1162.5h5m-2.5-2.5v5M172 1189.5h5m-2.5-2.5v5M173 1185.5h5m-2.5-2.5v5M173 1180.5h5m-2.5-2.5v5M173 1180.5h5m-2.5-2.5v5M173 1138.5h5m-2.5-2.5v5M174 1156.5h5m-2.5-2.5v5M174 1145.5h5m-2.5-2.5v5M174 1184.5h5m-2.5-2.5v5M174 1145.5h5m-2.5-2.5v5M174 1160.5h5m-2.5-2.5v5M175 1187.5h5m-2.5-2.5v5M176 1149.5h5m-2.5-2.5v5M176 1167.5h5m-2.5-2.5v5M176 1162.5h5m-2.5-2.5v5M176 1155.5h5m-2.5-2.5v5M176 1170.5h5m-2.5-2.5v5M177 1165.5h5m-2.5-2.5v5M177 1182.5h5m-2.5-2.5v5M178 1159.5h5m-2.5-2.5v5M179 1176.5h5m-2.5-2.5v5M179 1152.5h5m-2.5-2.5v5M179 1174.5h5m-2.5-2.5v5M179 1166.5h5m-2.5-2.5v5M180 1148.5h5m-2.5-2.5v5M180 1141.5h5m-2.5-2.5v5M180 1177.5h5m-2.5-2.5v5M180 1165.5h5m-2.5-2.5v5M180 1183.5h5m-2.5-2.5v5M181 1145.5h5m-2.5-2.5v5M181 1169.5h5m-2.5-2.5v5M182 1174.5h5m-2.5-2.5v5M182 1162.5h5m-2.5-2.5v5M182 1141.5h5m-2.5-2.5v5M183 1155.5h5m-2.5-2.5v5M183 1165.5h5m-2.5-2.5v5M183 1176.5h5m-2.5-2.5v5M183 1189.5h5m-2.5-2.5v5M184 1169.5h5m-2.5-2.5v5M184 1175.5h5m-2.5-2.5v5M184 1147.5h5m-2.5-2.5v5M184 1150.5h5m-2.5-2.5v5M184 1143.5h5m-2.5-2.5v5M184 1180.5h5m-2.5-2.5v5M185 1158.5h5m-2.5-2.5v5M185 1162.5h5m-2.5-2.5v5M185 1183.5h5m-2.5-2.5v5M185 1146.5h5m-2.5-2.5v5M185 1155.5h5m-2.5-2.5v5M185 1191.5h5m-2.5-2.5v5M186 1184.5h5m-2.5-2.5v5M186 1134.5h5m-2.5-2.5v5M187 1164.5h5m-2.5-2.5v5M187 1185.5h5m-2.5-2.5v5M187 1172.5h5m-2.5-2.5v5M188 1184.5h5m-2.5-2.5v5M189 1188.5h5m-2.5-2.5v5M189 1151.5h5m-2.5-2.5v5M189 1184.5h5m-2.5-2.5v5M190 1171.5h5m-2.5-2.5v5M190 1171.5h5m-2.5-2.5v5M190 1189.5h5m-2.5-2.5v5M191 1146.5h5m-2.5-2.5v5M191 1165.5h5m-2.5-2.5v5M191 1174.5h5m-2.5-2.5v5M191 1166.5h5m-2.5-2.5v5M191 1151.5h5m-2.5-2.5v5M191 1136.5h5m-2.5-2.5v5M192 1139.5h5m-2.5-2.5v5M192 1134.5h5m-2.5-2.5v5M193 1169.5h5m-2.5-2.5v5M193 1153.5h5m-2.5-2.5v5M193 1170.5h5m-2.5-2.5v5M193 1175.5h5m-2.5-2.5v5M194 1187.5h5m-2.5-2.5v5M194 1173.5h5m-2.5-2.5v5M195 1149.5h5m-2.5-2.5v5M195 1141.5h5m-2.5-2.5v5M196 1182.5h5m-2.5-2.5v5M196 1182.5h5m-2.5-2.5v5M196 1176.5h5m-2.5-2.5v5M197 1150.5h5m-2.5-2.5v5M197 1177.5h5m-2.5-2.5v5M197 1170.5h5m-2.5-2.5v5M197 1177.5h5m-2.5-2.5v5M197 1151.5h5m-2.5-2.5v5M197 1185.5h5m-2.5-2.5v5M198 1151.5h5m-2.5-2.5v5M198 1167.5h5m-2.5-2.5v5M198 1160.5h5m-2.5-2.5v5M198 1175.5h5m-2.5-2.5v5M198 1185.5h5m-2.5-2.5v5M199 1156.5h5m-2.5-2.5v5M199 1153.5h5m-2.5-2.5v5M199 1144.5h5m-2.5-2.5v5M199 1161.5h5m-2.5-2.5v5M199 1177.5h5m-2.5-2.5v5M199 1159.5h5m-2.5-2.5v5M199 1165.5h5m-2.5-2.5v5M199 1136.5h5m-2.5-2.5v5M199 1190.5h5m-2.5-2.5v5M200 1155.5h5m-2.5-2.5v5M200 1187.5h5m-2.5-2.5v5M200 1177.5h5m-2.5-2.5v5M200 1151.5h5m-2.5-2.5v5M200 1180.5h5m-2.5-2.5v5M201 1144.5h5m-2.5-2.5v5M201 1166.5h5m-2.5-2.5v5M202 1170.5h5m-2.5-2.5v5M202 1174.5h5m-2.5-2.5v5M203 1180.5h5m-2.5-2.5v5M203 1143.5h5m-2.5-2.5v5M203 1187.5h5m-2.5-2.5v5M203 1189.5h5m-2.5-2.5v5M203 1166.5h5m-2.5-2.5v5M203 1135.5h5m-2.5-2.5v5M203 1137.5h5m-2.5-2.5v5M203 1191.5h5m-2.5-2.5v5M203 1191.5h5m-2.5-2.5v5M203 1197.5h5m-2.5-2.5v5M204 1165.5h5m-2.5-2.5v5M204 1152.5h5m-2.5-2.5v5M205 1164.5h5m-2.5-2.5v5M205 1190.5h5m-2.5-2.5v5M205 1143.5h5m-2.5-2.5v5M206 1144.5h5m-2.5-2.5v5M206 1153.5h5m-2.5-2.5v5M206 1180.5h5m-2.5-2.5v5M206 1148.5h5m-2.5-2.5v5M208 1185.5h5m-2.5-2.5v5M208 1143.5h5m-2.5-2.5v5M208 1150.5h5m-2.5-2.5v5M208 1180.5h5m-2.5-2.5v5M208 1140.5h5m-2.5-2.5v5M209 1156.5h5m-2.5-2.5v5M209 1158.5h5m-2.5-2.5v5M209 1154.5h5m-2.5-2.5v5M209 1143.5h5m-2.5-2.5v5M209 1148.5h5m-2.5-2.5v5M209 1185.5h5m-2.5-2.5v5M209 1141.5h5m-2.5-2.5v5M209 1138.5h5m-2.5-2.5v5M210 1157.5h5m-2.5-2.5v5M210 1165.5h5m-2.5-2.5v5M211 1178.5h5m-2.5-2.5v5M211 1162.5h5m-2.5-2.5v5M211 1129.5h5m-2.5-2.5v5M212 1190.5h5m-2.5-2.5v5M212 1161.5h5m-2.5-2.5v5M212 1158.5h5m-2.5-2.5v5M213 1190.5h5m-2.5-2.5v5M213 1146.5h5m-2.5-2.5v5M213 1184.5h5m-2.5-2.5v5M213 1187.5h5m-2.5-2.5v5M213 1141.5h5m-2.5-2.5v5M214 1178.5h5m-2.5-2.5v5M214 1163.5h5m-2.5-2.5v5M214 1172.5h5m-2.5-2.5v5M214 1156.5h5m-2.5-2.5v5M214 1179.5h5m-2.5-2.5v5M214 1137.5h5m-2.5-2.5v5M215 1180.5h5m-2.5-2.5v5M215 1174.5h5m-2.5-2.5v5M215 1172.5h5m-2.5-2.5v5M215 1166.5h5m-2.5-2.5v5M215 1156.5h5m-2.5-2.5v5M215 1140.5h5m-2.5-2.5v5M216 1189.5h5m-2.5-2.5v5M216 1179.5h5m-2.5-2.5v5M216 1146.5h5m-2.5-2.5v5M216 1164.5h5m-2.5-2.5v5M216 1147.5h5m-2.5-2.5v5M216 1142.5h5m-2.5-2.5v5M217 1173.5h5m-2.5-2.5v5M217 1173.5h5m-2.5-2.5v5M218 1188.5h5m-2.5-2.5v5M218 1186.5h5m-2.5-2.5v5M218 1147.5h5m-2.5-2.5v5M218 1171.5h5m-2.5-2.5v5M218 1170.5h5m-2.5-2.5v5M218 1133.5h5m-2.5-2.5v5M219 1187.5h5m-2.5-2.5v5M219 1162.5h5m-2.5-2.5v5M219 1190.5h5m-2.5-2.5v5M219 1192.5h5m-2.5-2.5v5M220 1180.5h5m-2.5-2.5v5M220 1168.5h5m-2.5-2.5v5M220 1145.5h5m-2.5-2.5v5M220 1152.5h5m-2.5-2.5v5M220 1158.5h5m-2.5-2.5v5M220 1181.5h5m-2.5-2.5v5M221 1174.5h5m-2.5-2.5v5M221 1145.5h5m-2.5-2.5v5M221 1182.5h5m-2.5-2.5v5M222 1180.5h5m-2.5-2.5v5M222 1178.5h5m-2.5-2.5v5M222 1152.5h5m-2.5-2.5v5M222 1157.5h5m-2.5-2.5v5M223 1151.5h5m-2.5-2.5v5M223 1148.5h5m-2.5-2.5v5M223 1157.5h5m-2.5-2.5v5M223 1164.5h5m-2.5-2.5v5M224 1148.5h5m-2.5-2.5v5M225 1181.5h5m-2.5-2.5v5M225 1188.5h5m-2.5-2.5v5M226 1178.5h5m-2.5-2.5v5M226 1155.5h5m-2.5-2.5v5M226 1152.5h5m-2.5-2.5v5M226 1162.5h5m-2.5-2.5v5M226 1187.5h5m-2.5-2.5v5M226 1155.5h5m-2.5-2.5v5M227 1189.5h5m-2.5-2.5v5M227 1167.5h5m-2.5-2.5v5M228 1174.5h5m-2.5-2.5v5M228 1150.5h5m-2.5-2.5v5M228 1145.5h5m-2.5-2.5v5M229 1169.5h5m-2.5-2.5v5M229 1167.5h5m-2.5-2.5v5M229 1197.5h5m-2.5-2.5v5M230 1189.5h5m-2.5-2.5v5M230 1149.5h5m-2.5-2.5v5M230 1151.5h5m-2.5-2.5v5M230 1160.5h5m-2.5-2.5v5M230 1180.5h5m-2.5-2.5v5M230 1137.5h5m-2.5-2.5v5M230 1196.5h5m-2.5-2.5v5M231 1178.5h5m-2.5-2.5v5M231 1185.5h5m-2.5-2.5v5M231 1171.5h5m-2.5-2.5v5M231 1167.5h5m-2.5-2.5v5M231 1167.5h5m-2.5-2.5v5M231 1155.5h5m-2.5-2.5v5M231 1182.5h5m-2.5-2.5v5M231 1135.5h5m-2.5-2.5v5M232 1164.5h5m-2.5-2.5v5M232 1183.5h5m-2.5-2.5v5M232 1190.5h5m-2.5-2.5v5M232 1164.5h5m-2.5-2.5v5M233 1167.5h5m-2.5-2.5v5M233 1164.5h5m-2.5-2.5v5M234 1162.5h5m-2.5-2.5v5M234 1179.5h5m-2.5-2.5v5M234 1157.5h5m-2.5-2.5v5M234 1156.5h5m-2.5-2.5v5M234 1165.5h5m-2.5-2.5v5M234 1138.5h5m-2.5-2.5v5M235 1146.5h5m-2.5-2.5v5M235 1175.5h5m-2.5-2.5v5M235 1162.5h5m-2.5-2.5v5M235 1181.5h5m-2.5-2.5v5M236 1163.5h5m-2.5-2.5v5M236 1171.5h5m-2.5-2.5v5M236 1177.5h5m-2.5-2.5v5M236 1189.5h5m-2.5-2.5v5M236 1158.5h5m-2.5-2.5v5M237 1178.5h5m-2.5-2.5v5M237 1164.5h5m-2.5-2.5v5M237 1175.5h5m-2.5-2.5v5M238 1175.5h5m-2.5-2.5v5M238 1176.5h5m-2.5-2.5v5M239 1154.5h5m-2.5-2.5v5M239 1156.5h5m-2.5-2.5v5M239 1155.5h5m-2.5-2.5v5M239 1168.5h5m-2.5-2.5v5M240 1166.5h5m-2.5-2.5v5M240 1180.5h5m-2.5-2.5v5M240 1172.5h5m-2.5-2.5v5M240 1158.5h5m-2.5-2.5v5M240 1133.5h5m-2.5-2.5v5M240 1142.5h5m-2.5-2.5v5M241 1153.5h5m-2.5-2.5v5M241 1168.5h5m-2.5-2.5v5M241 1164.5h5m-2.5-2.5v5M242 1147.5h5m-2.5-2.5v5M242 1191.5h5m-2.5-2.5v5M243 1165.5h5m-2.5-2.5v5M243 1148.5h5m-2.5-2.5v5M243 1185.5h5m-2.5-2.5v5M244 1178.5h5m-2.5-2.5v5M244 1175.5h5m-2.5-2.5v5M244 1138.5h5m-2.5-2.5v5M245 1163.5h5m-2.5-2.5v5M245 1156.5h5m-2.5-2.5v5M245 1175.5h5m-2.5-2.5v5M245 1171.5h5m-2.5-2.5v5M245 1163.5h5m-2.5-2.5v5M245 1195.5h5m-2.5-2.5v5M246 1150.5h5m-2.5-2.5v5M246 1183.5h5m-2.5-2.5v5M247 1180.5h5m-2.5-2.5v5M248 1160.5h5m-2.5-2.5v5M249 1157.5h5m-2.5-2.5v5M250 1160.5h5m-2.5-2.5v5M250 1145.5h5m-2.5-2.5v5M251 1168.5h5m-2.5-2.5v5M251 1178.5h5m-2.5-2.5v5M251 1138.5h5m-2.5-2.5v5M252 1163.5h5m-2.5-2.5v5M252 1164.5h5m-2.5-2.5v5M252 1182.5h5m-2.5-2.5v5M252 1177.5h5m-2.5-2.5v5M252 1183.5h5m-2.5-2.5v5M252 1151.5h5m-2.5-2.5v5M252 1134.5h5m-2.5-2.5v5M252 1193.5h5m-2.5-2.5v5M253 1173.5h5m-2.5-2.5v5M253 1169.5h5m-2.5-2.5v5M253 1181.5h5m-2.5-2.5v5M254 1173.5h5m-2.5-2.5v5M255 1186.5h5m-2.5-2.5v5M255 1145.5h5m-2.5-2.5v5M255 1145.5h5m-2.5-2.5v5M256 1154.5h5m-2.5-2.5v5M256 1156.5h5m-2.5-2.5v5M256 1143.5h5m-2.5-2.5v5M256 1142.5h5m-2.5-2.5v5M257 1152.5h5m-2.5-2.5v5M257 1156.5h5m-2.5-2.5v5M257 1127.5h5m-2.5-2.5v5M258 1155.5h5m-2.5-2.5v5M258 1179.5h5m-2.5-2.5v5M258 1163.5h5m-2.5-2.5v5M258 1158.5h5m-2.5-2.5v5M259 1173.5h5m-2.5-2.5v5M259 1186.5h5m-2.5-2.5v5M259 1177.5h5m-2.5-2.5v5M259 1129.5h5m-2.5-2.5v5M260 1167.5h5m-2.5-2.5v5M260 1177.5h5m-2.5-2.5v5M260 1190.5h5m-2.5-2.5v5M261 1156.5h5m-2.5-2.5v5M261 1174.5h5m-2.5-2.5v5M261 1177.5h5m-2.5-2.5v5M262 1176.5h5m-2.5-2.5v5M263 1162.5h5m-2.5-2.5v5M264 1184.5h5m-2.5-2.5v5M264 1160.5h5m-2.5-2.5v5M264 1141.5h5m-2.5-2.5v5M264 1138.5h5m-2.5-2.5v5M266 1150.5h5m-2.5-2.5v5M266 1175.5h5m-2.5-2.5v5M266 1178.5h5m-2.5-2.5v5M266 1180.5h5m-2.5-2.5v5M266 1185.5h5m-2.5-2.5v5M266 1180.5h5m-2.5-2.5v5M267 1162.5h5m-2.5-2.5v5M268 1153.5h5m-2.5-2.5v5M268 1183.5h5m-2.5-2.5v5M268 1138.5h5m-2.5-2.5v5M269 1168.5h5m-2.5-2.5v5M269 1136.5h5m-2.5-2.5v5M269 1192.5h5m-2.5-2.5v5M270 1144.5h5m-2.5-2.5v5M271 1164.5h5m-2.5-2.5v5M271 1151.5h5m-2.5-2.5v5M271 1159.5h5m-2.5-2.5v5M272 1150.5h5m-2.5-2.5v5M272 1164.5h5m-2.5-2.5v5M273 1157.5h5m-2.5-2.5v5M273 1134.5h5m-2.5-2.5v5M274 1163.5h5m-2.5-2.5v5M274 1159.5h5m-2.5-2.5v5M274 1133.5h5m-2.5-2.5v5M275 1172.5h5m-2.5-2.5v5M275 1171.5h5m-2.5-2.5v5M275 1177.5h5m-2.5-2.5v5M275 1183.5h5m-2.5-2.5v5M275 1145.5h5m-2.5-2.5v5M276 1146.5h5m-2.5-2.5v5M278 1163.5h5m-2.5-2.5v5M278 1167.5h5m-2.5-2.5v5M278 1154.5h5m-2.5-2.5v5M278 1171.5h5m-2.5-2.5v5M278 1141.5h5m-2.5-2.5v5M279 1179.5h5m-2.5-2.5v5M280 1155.5h5m-2.5-2.5v5M281 1160.5h5m-2.5-2.5v5M281 1167.5h5m-2.5-2.5v5M281 1143.5h5m-2.5-2.5v5M282 1178.5h5m-2.5-2.5v5M282 1176.5h5m-2.5-2.5v5M282 1183.5h5m-2.5-2.5v5M283 1164.5h5m-2.5-2.5v5M283 1160.5h5m-2.5-2.5v5M285 1159.5h5m-2.5-2.5v5M285 1184.5h5m-2.5-2.5v5M285 1182.5h5m-2.5-2.5v5M285 1185.5h5m-2.5-2.5v5M286 1177.5h5m-2.5-2.5v5M286 1187.5h5m-2.5-2.5v5M287 1176.5h5m-2.5-2.5v5M287 1173.5h5m-2.5-2.5v5M288 1181.5h5m-2.5-2.5v5M289 1167.5h5m-2.5-2.5v5M289 1157.5h5m-2.5-2.5v5M289 1183.5h5m-2.5-2.5v5M290 1167.5h5m-2.5-2.5v5M291 1168.5h5m-2.5-2.5v5M291 1154.5h5m-2.5-2.5v5M291 1157.5h5m-2.5-2.5v5M291 1165.5h5m-2.5-2.5v5M291 1141.5h5m-2.5-2.5v5M292 1177.5h5m-2.5-2.5v5M292 1152.5h5m-2.5-2.5v5M292 1150.5h5m-2.5-2.5v5M292 1153.5h5m-2.5-2.5v5M293 1158.5h5m-2.5-2.5v5M294 1166.5h5m-2.5-2.5v5M294 1156.5h5m-2.5-2.5v5M295 1173.5h5m-2.5-2.5v5M296 1158.5h5m-2.5-2.5v5M296 1168.5h5m-2.5-2.5v5M297 1151.5h5m-2.5-2.5v5M297 1175.5h5m-2.5-2.5v5M298 1156.5h5m-2.5-2.5v5M298 1148.5h5m-2.5-2.5v5M299 1155.5h5m-2.5-2.5v5M299 1176.5h5m-2.5-2.5v5M299 1168.5h5m-2.5-2.5v5M299 1147.5h5m-2.5-2.5v5M300 1160.5h5m-2.5-2.5v5M300 1177.5h5m-2.5-2.5v5M300 1141.5h5m-2.5-2.5v5M301 1164.5h5m-2.5-2.5v5M301 1173.5h5m-2.5-2.5v5M303 1163.5h5m-2.5-2.5v5M303 1161.5h5m-2.5-2.5v5M303 1147.5h5m-2.5-2.5v5M303 1136.5h5m-2.5-2.5v5M304 1162.5h5m-2.5-2.5v5M304 1162.5h5m-2.5-2.5v5M305 1176.5h5m-2.5-2.5v5M305 1173.5h5m-2.5-2.5v5M306 1176.5h5m-2.5-2.5v5M306 1171.5h5m-2.5-2.5v5M307 1164.5h5m-2.5-2.5v5M307 1176.5h5m-2.5-2.5v5M308 1157.5h5m-2.5-2.5v5M308 1166.5h5m-2.5-2.5v5M308 1167.5h5m-2.5-2.5v5M309 1164.5h5m-2.5-2.5v5M309 1177.5h5m-2.5-2.5v5M310 1159.5h5m-2.5-2.5v5M310 1162.5h5m-2.5-2.5v5M311 1161.5h5m-2.5-2.5v5M313 1164.5h5m-2.5-2.5v5M313 1161.5h5m-2.5-2.5v5M313 1160.5h5m-2.5-2.5v5M314 1155.5h5m-2.5-2.5v5M314 1171.5h5m-2.5-2.5v5M315 1155.5h5m-2.5-2.5v5M315 1166.5h5m-2.5-2.5v5M316 1153.5h5m-2.5-2.5v5M316 1165.5h5m-2.5-2.5v5M316 1174.5h5m-2.5-2.5v5M316 1149.5h5m-2.5-2.5v5M317 1171.5h5m-2.5-2.5v5M318 1171.5h5m-2.5-2.5v5M318 1168.5h5m-2.5-2.5v5M318 1155.5h5m-2.5-2.5v5M319 1166.5h5m-2.5-2.5v5M319 1161.5h5m-2.5-2.5v5M320 1158.5h5m-2.5-2.5v5M320 1175.5h5m-2.5-2.5v5M322 1156.5h5m-2.5-2.5v5M323 1171.5h5m-2.5-2.5v5M325 1170.5h5m-2.5-2.5v5M325 1155.5h5m-2.5-2.5v5M325 1151.5h5m-2.5-2.5v5M327 1169.5h5m-2.5-2.5v5M327 1155.5h5m-2.5-2.5v5M327 1168.5h5m-2.5-2.5v5M327 1141.5h5m-2.5-2.5v5M328 1174.5h5m-2.5-2.5v5M328 1149.5h5m-2.5-2.5v5M329 1156.5h5m-2.5-2.5v5M329 1152.5h5m-2.5-2.5v5M331 1168.5h5m-2.5-2.5v5M332 1166.5h5m-2.5-2.5v5M333 1144.5h5m-2.5-2.5v5M334 1156.5h5m-2.5-2.5v5M334 1154.5h5m-2.5-2.5v5M335 1173.5h5m-2.5-2.5v5M336 1159.5h5m-2.5-2.5v5M336 1169.5h5m-2.5-2.5v5M336 1148.5h5m-2.5-2.5v5M337 1153.5h5m-2.5-2.5v5M341 1160.5h5m-2.5-2.5v5M341 1164.5h5m-2.5-2.5v5M341 1175.5h5m-2.5-2.5v5M342 1180.5h5m-2.5-2.5v5M343 1169.5h5m-2.5-2.5v5M345 1147.5h5m-2.5-2.5v5M346 1170.5h5m-2.5-2.5v5M346 1178.5h5m-2.5-2.5v5M347 1173.5h5m-2.5-2.5v5M347 1153.5h5m-2.5-2.5v5M348 1161.5h5m-2.5-2.5v5M349 1158.5h5m-2.5-2.5v5M350 1160.5h5m-2.5-2.5v5M350 1174.5h5m-2.5-2.5v5M352 1171.5h5m-2.5-2.5v5M354 1173.5h5m-2.5-2.5v5M354 1170.5h5m-2.5-2.5v5M354 1165.5h5m-2.5-2.5v5M356 1164.5h5m-2.5-2.5v5M357 1168.5h5m-2.5-2.5v5M359 1162.5h5m-2.5-2.5v5M359 1163.5h5m-2.5-2.5v5M360 1167.5h5m-2.5-2.5v5M368 1173.5h5m-2.5-2.5v5M370 1151.5h5m-2.5-2.5v5M371 1167.5h5m-2.5-2.5v5M372 1166.5h5m-2.5-2.5v5M374 1173.5h5m-2.5-2.5v5M375 1173.5h5m-2.5-2.5v5M377 1159.5h5m-2.5-2.5v5M378 1159.5h5m-2.5-2.5v5M379 1167.5h5m-2.5-2.5v5M382 1161.5h5m-2.5-2.5v5M385 1163.5h5m-2.5-2.5v5M386 1175.5h5m-2.5-2.5v5M388 1176.5h5m-2.5-2.5v5M394 1164.5h5m-2.5-2.5v5M396 1172.5h5m-2.5-2.5v5M396 1168.5h5m-2.5-2.5v5M397 1156.5h5m-2.5-2.5v5M404 1172.5h5m-2.5-2.5v5M407 1163.5h5m-2.5-2.5v5M408 1173.5h5m-2.5-2.5v5M420 1164.5h5m-2.5-2.5v5M423 1172.5h5m-2.5-2.5v5M434 1176.5h5m-2.5-2.5v5M442 1175.5h5m-2.5-2.5v5M84 1163.5h5m-2.5-2.5v5M108 1188.5h5m-2.5-2.5v5M74 1165.5h5m-2.5-2.5v5M85 1174.5h5m-2.5-2.5v5M65 1155.5h5m-2.5-2.5v5M95 1174.5h5m-2.5-2.5v5M83 1168.5h5m-2.5-2.5v5M74 1164.5h5m-2.5-2.5v5M108 1191.5h5m-2.5-2.5v5M72 1163.5h5m-2.5-2.5v5M102 1179.5h5m-2.5-2.5v5M73 1158.5h5m-2.5-2.5v5M105 1184.5h5m-2.5-2.5v5M96 1179.5h5m-2.5-2.5v5M83 1166.5h5m-2.5-2.5v5M106 1190.5h5m-2.5-2.5v5M86 1174.5h5m-2.5-2.5v5M93 1171.5h5m-2.5-2.5v5M99 1178.5h5m-2.5-2.5v5M73 1163.5h5m-2.5-2.5v5M80 1169.5h5m-2.5-2.5v5M103 1183.5h5m-2.5-2.5v5M82 1167.5h5m-2.5-2.5v5M102 1179.5h5m-2.5-2.5v5M92 1170.5h5m-2.5-2.5v5M96 1177.5h5m-2.5-2.5v5M80 1170.5h5m-2.5-2.5v5M72 1155.5h5m-2.5-2.5v5M109 1192.5h5m-2.5-2.5v5M76 1166.5h5m-2.5-2.5v5M103 1186.5h5m-2.5-2.5v5M97 1181.5h5m-2.5-2.5v5M106 1186.5h5m-2.5-2.5v5M321 1117.5h5m-2.5-2.5v5M177 1109.5h5m-2.5-2.5v5M238 1121.5h5m-2.5-2.5v5M113 1084.5h5m-2.5-2.5v5M145 1127.5h5m-2.5-2.5v5M234 1090.5h5m-2.5-2.5v5M147 1094.5h5m-2.5-2.5v5M272 1119.5h5m-2.5-2.5v5M269 1081.5h5m-2.5-2.5v5M122 1189.5h5m-2.5-2.5v5M344 1095.5h5m-2.5-2.5v5M88 1112.5h5m-2.5-2.5v5M436 1155.5h5m-2.5-2.5v5M302 1122.5h5m-2.5-2.5v5M347 1122.5h5m-2.5-2.5v5M438 1177.5h5m-2.5-2.5v5M122 1192.5h5m-2.5-2.5v5M95 1123.5h5m-2.5-2.5v5M300 1122.5h5m-2.5-2.5v5M295 1120.5h5m-2.5-2.5v5M124 1090.5h5m-2.5-2.5v5M284 1121.5h5m-2.5-2.5v5M258 1126.5h5m-2.5-2.5v5M290 1105.5h5m-2.5-2.5v5M264 1198.5h5m-2.5-2.5v5M306 1131.5h5m-2.5-2.5v5M64 1116.5h5m-2.5-2.5v5M316 1183.5h5m-2.5-2.5v5M123 1115.5h5m-2.5-2.5v5M410 1174.5h5m-2.5-2.5v5M290 1184.5h5m-2.5-2.5v5M270 1103.5h5m-2.5-2.5v5M251 1060.5h5m-2.5-2.5v5M305 1130.5h5m-2.5-2.5v5M437 1158.5h5m-2.5-2.5v5M102 1107.5h5m-2.5-2.5v5M123 1116.5h5m-2.5-2.5v5M217 1125.5h5m-2.5-2.5v5M346 1137.5h5m-2.5-2.5v5M320 1135.5h5m-2.5-2.5v5M197 1083.5h5m-2.5-2.5v5M287 1180.5h5m-2.5-2.5v5M448 1163.5h5m-2.5-2.5v5M266 1062.5h5m-2.5-2.5v5M119 1100.5h5m-2.5-2.5v5M256 1195.5h5m-2.5-2.5v5M292 1078.5h5m-2.5-2.5v5M127 1074.5h5m-2.5-2.5v5M129 1091.5h5m-2.5-2.5v5M350 1129.5h5m-2.5-2.5v5M466 1163.5h5m-2.5-2.5v5M117 1075.5h5m-2.5-2.5v5M381 1140.5h5m-2.5-2.5v5M343 1133.5h5m-2.5-2.5v5M369 1135.5h5m-2.5-2.5v5M366 1173.5h5m-2.5-2.5v5M233 1091.5h5m-2.5-2.5v5M286 1122.5h5m-2.5-2.5v5M378 1175.5h5m-2.5-2.5v5M365 1180.5h5m-2.5-2.5v5M270 1100.5h5m-2.5-2.5v5M255 1104.5h5m-2.5-2.5v5M246 1063.5h5m-2.5-2.5v5M249 1100.5h5m-2.5-2.5v5M253 1061.5h5m-2.5-2.5v5M173 1115.5h5m-2.5-2.5v5M183 1123.5h5m-2.5-2.5v5M181 1099.5h5m-2.5-2.5v5M171 1117.5h5m-2.5-2.5v5M180 1117.5h5m-2.5-2.5v5M121 1122.5h5m-2.5-2.5v5M111 1098.5h5m-2.5-2.5v5M117 1117.5h5m-2.5-2.5v5M122 1125.5h5m-2.5-2.5v5M122 1119.5h5m-2.5-2.5v5M122 1117.5h5m-2.5-2.5v5M121 1098.5h5m-2.5-2.5v5" stroke="#444" stroke-opacity="0.56" stroke-width="1.2" fill="none"/>
<path d="M63 1134.5h5m-2.5-2.5v5M64 1128.5h5m-2.5-2.5v5M64 1146.5h5m-2.5-2.5v5M65 1139.5h5m-2.5-2.5v5M66 1126.5h5m-2.5-2.5v5M66 1128.5h5m-2.5-2.5v5M66 1136.5h5m-2.5-2.5v5M67 1128.5h5m-2.5-2.5v5M68 1130.5h5m-2.5-2.5v5M68 1148.5h5m-2.5-2.5v5M69 1143.5h5m-2.5-2.5v5M69 1154.5h5m-2.5-2.5v5M70 1132.5h5m-2.5-2.5v5M70 1128.5h5m-2.5-2.5v5M70 1155.5h5m-2.5-2.5v5M71 1128.5h5m-2.5-2.5v5M72 1139.5h5m-2.5-2.5v5M72 1152.5h5m-2.5-2.5v5M73 1146.5h5m-2.5-2.5v5M74 1128.5h5m-2.5-2.5v5M78 1145.5h5m-2.5-2.5v5M78 1135.5h5m-2.5-2.5v5M79 1143.5h5m-2.5-2.5v5M79 1151.5h5m-2.5-2.5v5M80 1149.5h5m-2.5-2.5v5M80 1134.5h5m-2.5-2.5v5M80 1127.5h5m-2.5-2.5v5M80 1154.5h5m-2.5-2.5v5M80 1153.5h5m-2.5-2.5v5M81 1129.5h5m-2.5-2.5v5M81 1124.5h5m-2.5-2.5v5M81 1164.5h5m-2.5-2.5v5M82 1136.5h5m-2.5-2.5v5M82 1132.5h5m-2.5-2.5v5M83 1152.5h5m-2.5-2.5v5M84 1137.5h5m-2.5-2.5v5M84 1127.5h5m-2.5-2.5v5M84 1133.5h5m-2.5-2.5v5M85 1143.5h5m-2.5-2.5v5M86 1141.5h5m-2.5-2.5v5M87 1134.5h5m-2.5-2.5v5M87 1154.5h5m-2.5-2.5v5M89 1133.5h5m-2.5-2.5v5M89 1129.5h5m-2.5-2.5v5M89 1130.5h5m-2.5-2.5v5M89 1126.5h5m-2.5-2.5v5M91 1151.5h5m-2.5-2.5v5M91 1157.5h5m-2.5-2.5v5M91 1130.5h5m-2.5-2.5v5M91 1160.5h5m-2.5-2.5v5M94 1136.5h5m-2.5-2.5v5M94 1133.5h5m-2.5-2.5v5M94 1161.5h5m-2.5-2.5v5M95 1145.5h5m-2.5-2.5v5M95 1150.5h5m-2.5-2.5v5M96 1146.5h5m-2.5-2.5v5M96 1137.5h5m-2.5-2.5v5M96 1164.5h5m-2.5-2.5v5M96 1164.5h5m-2.5-2.5v5M98 1146.5h5m-2.5-2.5v5M99 1146.5h5m-2.5-2.5v5M100 1159.5h5m-2.5-2.5v5M100 1160.5h5m-2.5-2.5v5M100 1137.5h5m-2.5-2.5v5M102 1146.5h5m-2.5-2.5v5M102 1173.5h5m-2.5-2.5v5M102 1177.5h5m-2.5-2.5v5M103 1136.5h5m-2.5-2.5v5M103 1144.5h5m-2.5-2.5v5M103 1143.5h5m-2.5-2.5v5M103 1177.5h5m-2.5-2.5v5M104 1177.5h5m-2.5-2.5v5M105 1146.5h5m-2.5-2.5v5M105 1142.5h5m-2.5-2.5v5M106 1153.5h5m-2.5-2.5v5M106 1156.5h5m-2.5-2.5v5M107 1153.5h5m-2.5-2.5v5M107 1145.5h5m-2.5-2.5v5M107 1172.5h5m-2.5-2.5v5M107 1192.5h5m-2.5-2.5v5M107 1189.5h5m-2.5-2.5v5M108 1178.5h5m-2.5-2.5v5M108 1142.5h5m-2.5-2.5v5M108 1137.5h5m-2.5-2.5v5M108 1155.5h5m-2.5-2.5v5M108 1146.5h5m-2.5-2.5v5M108 1182.5h5m-2.5-2.5v5M108 1187.5h5m-2.5-2.5v5M109 1134.5h5m-2.5-2.5v5M109 1180.5h5m-2.5-2.5v5M109 1170.5h5m-2.5-2.5v5M109 1179.5h5m-2.5-2.5v5M109 1136.5h5m-2.5-2.5v5M109 1122.5h5m-2.5-2.5v5M109 1194.5h5m-2.5-2.5v5M110 1168.5h5m-2.5-2.5v5M110 1156.5h5m-2.5-2.5v5M110 1157.5h5m-2.5-2.5v5M110 1185.5h5m-2.5-2.5v5M110 1153.5h5m-2.5-2.5v5M110 1182.5h5m-2.5-2.5v5M110 1191.5h5m-2.5-2.5v5M111 1131.5h5m-2.5-2.5v5M111 1154.5h5m-2.5-2.5v5M111 1130.5h5m-2.5-2.5v5M111 1186.5h5m-2.5-2.5v5M111 1153.5h5m-2.5-2.5v5M112 1179.5h5m-2.5-2.5v5M112 1135.5h5m-2.5-2.5v5M112 1145.5h5m-2.5-2.5v5M112 1165.5h5m-2.5-2.5v5M113 1144.5h5m-2.5-2.5v5M113 1184.5h5m-2.5-2.5v5M113 1130.5h5m-2.5-2.5v5M113 1160.5h5m-2.5-2.5v5M113 1184.5h5m-2.5-2.5v5M113 1143.5h5m-2.5-2.5v5M114 1131.5h5m-2.5-2.5v5M114 1144.5h5m-2.5-2.5v5M114 1162.5h5m-2.5-2.5v5M115 1184.5h5m-2.5-2.5v5M115 1171.5h5m-2.5-2.5v5M115 1151.5h5m-2.5-2.5v5M115 1124.5h5m-2.5-2.5v5M115 1194.5h5m-2.5-2.5v5M116 1174.5h5m-2.5-2.5v5M116 1148.5h5m-2.5-2.5v5M116 1184.5h5m-2.5-2.5v5M116 1134.5h5m-2.5-2.5v5M116 1146.5h5m-2.5-2.5v5M117 1151.5h5m-2.5-2.5v5M117 1136.5h5m-2.5-2.5v5M117 1164.5h5m-2.5-2.5v5M117 1190.5h5m-2.5-2.5v5M118 1151.5h5m-2.5-2.5v5M118 1178.5h5m-2.5-2.5v5M118 1132.5h5m-2.5-2.5v5M118 1186.5h5m-2.5-2.5v5M118 1187.5h5m-2.5-2.5v5M119 1131.5h5m-2.5-2.5v5M119 1174.5h5m-2.5-2.5v5M119 1162.5h5m-2.5-2.5v5M119 1135.5h5m-2.5-2.5v5M120 1134.5h5m-2.5-2.5v5M120 1147.5h5m-2.5-2.5v5M120 1169.5h5m-2.5-2.5v5M120 1153.5h5m-2.5-2.5v5M120 1158.5h5m-2.5-2.5v5M120 1183.5h5m-2.5-2.5v5M121 1180.5h5m-2.5-2.5v5M121 1132.5h5m-2.5-2.5v5M121 1151.5h5m-2.5-2.5v5M121 1136.5h5m-2.5-2.5v5M121 1151.5h5m-2.5-2.5v5M121 1165.5h5m-2.5-2.5v5M121 1163.5h5m-2.5-2.5v5M122 1186.5h5m-2.5-2.5v5M122 1156.5h5m-2.5-2.5v5M122 1133.5h5m-2.5-2.5v5M122 1143.5h5m-2.5-2.5v5M123 1165.5h5m-2.5-2.5v5M123 1158.5h5m-2.5-2.5v5M123 1177.5h5m-2.5-2.5v5M123 1151.5h5m-2.5-2.5v5M124 1138.5h5m-2.5-2.5v5M124 1172.5h5m-2.5-2.5v5M124 1145.5h5m-2.5-2.5v5M124 1131.5h5m-2.5-2.5v5M125 1186.5h5m-2.5-2.5v5M125 1176.5h5m-2.5-2.5v5M125 1130.5h5m-2.5-2.5v5M125 1195.5h5m-2.5-2.5v5M126 1181.5h5m-2.5-2.5v5M126 1184.5h5m-2.5-2.5v5M126 1133.5h5m-2.5-2.5v5M126 1157.5h5m-2.5-2.5v5M126 1186.5h5m-2.5-2.5v5M128 1166.5h5m-2.5-2.5v5M128 1160.5h5m-2.5-2.5v5M128 1191.5h5m-2.5-2.5v5M129 1163.5h5m-2.5-2.5v5M129 1170.5h5m-2.5-2.5v5M129 1149.5h5m-2.5-2.5v5M129 1137.5h5m-2.5-2.5v5M129 1171.5h5m-2.5-2.5v5M129 1164.5h5m-2.5-2.5v5M129 1133.5h5m-2.5-2.5v5M130 1161.5h5m-2.5-2.5v5M130 1171.5h5m-2.5-2.5v5M130 1185.5h5m-2.5-2.5v5M130 1167.5h5m-2.5-2.5v5M130 1138.5h5m-2.5-2.5v5M130 1182.5h5m-2.5-2.5v5M130 1182.5h5m-2.5-2.5v5M130 1153.5h5m-2.5-2.5v5M130 1161.5h5m-2.5-2.5v5M130 1183.5h5m-2.5-2.5v5M130 1180.5h5m-2.5-2.5v5M130 1192.5h5m-2.5-2.5v5M131 1147.5h5m-2.5-2.5v5M131 1136.5h5m-2.5-2.5v5M131 1148.5h5m-2.5-2.5v5M131 1144.5h5m-2.5-2.5v5M131 1171.5h5m-2.5-2.5v5M131 1186.5h5m-2.5-2.5v5M131 1147.5h5m-2.5-2.5v5M131 1163.5h5m-2.5-2.5v5M131 1175.5h5m-2.5-2.5v5M132 1140.5h5m-2.5-2.5v5M132 1166.5h5m-2.5-2.5v5M132 1139.5h5m-2.5-2.5v5M133 1161.5h5m-2.5-2.5v5M133 1163.5h5m-2.5-2.5v5M134 1142.5h5m-2.5-2.5v5M134 1185.5h5m-2.5-2.5v5M134 1153.5h5m-2.5-2.5v5M134 1139.5h5m-2.5-2.5v5M134 1136.5h5m-2.5-2.5v5M135 1140.5h5m-2.5-2.5v5M135 1148.5h5m-2.5-2.5v5M135 1184.5h5m-2.5-2.5v5M135 1182.5h5m-2.5-2.5v5M135 1170.5h5m-2.5-2.5v5M135 1168.5h5m-2.5-2.5v5M135 1134.5h5m-2.5-2.5v5M136 1155.5h5m-2.5-2.5v5M136 1186.5h5m-2.5-2.5v5M136 1172.5h5m-2.5-2.5v5M136 1143.5h5m-2.5-2.5v5M137 1166.5h5m-2.5-2.5v5M137 1154.5h5m-2.5-2.5v5M137 1169.5h5m-2.5-2.5v5M137 1187.5h5m-2.5-2.5v5M138 1168.5h5m-2.5-2.5v5M138 1177.5h5m-2.5-2.5v5M138 1146.5h5m-2.5-2.5v5M138 1163.5h5m-2.5-2.5v5M138 1164.5h5m-2.5-2.5v5M139 1174.5h5m-2.5-2.5v5M140 1151.5h5m-2.5-2.5v5M140 1147.5h5m-2.5-2.5v5M140 1139.5h5m-2.5-2.5v5M140 1142.5h5m-2.5-2.5v5M140 1181.5h5m-2.5-2.5v5M140 1177.5h5m-2.5-2.5v5M141 1145.5h5m-2.5-2.5v5M142 1153.5h5m-2.5-2.5v5M142 1159.5h5m-2.5-2.5v5M142 1146.5h5m-2.5-2.5v5M142 1154.5h5m-2.5-2.5v5M142 1175.5h5m-2.5-2.5v5M143 1144.5h5m-2.5-2.5v5M143 1164.5h5m-2.5-2.5v5M143 1141.5h5m-2.5-2.5v5M143 1154.5h5m-2.5-2.5v5M143 1147.5h5m-2.5-2.5v5M143 1169.5h5m-2.5-2.5v5M143 1136.5h5m-2.5-2.5v5M144 1175.5h5m-2.5-2.5v5M144 1163.5h5m-2.5-2.5v5M144 1158.5h5m-2.5-2.5v5M144 1187.5h5m-2.5-2.5v5M145 1165.5h5m-2.5-2.5v5M145 1179.5h5m-2.5-2.5v5M145 1168.5h5m-2.5-2.5v5M145 1185.5h5m-2.5-2.5v5M145 1179.5h5m-2.5-2.5v5M145 1160.5h5m-2.5-2.5v5M146 1148.5h5m-2.5-2.5v5M146 1144.5h5m-2.5-2.5v5M146 1160.5h5m-2.5-2.5v5M146 1180.5h5m-2.5-2.5v5M147 1152.5h5m-2.5-2.5v5M147 1157.5h5m-2.5-2.5v5M147 1185.5h5m-2.5-2.5v5M149 1161.5h5m-2.5-2.5v5M149 1139.5h5m-2.5-2.5v5M149 1181.5h5m-2.5-2.5v5M149 1173.5h5m-2.5-2.5v5M149 1159.5h5m-2.5-2.5v5M149 1173.5h5m-2.5-2.5v5M150 1156.5h5m-2.5-2.5v5M150 1171.5h5m-2.5-2.5v5M150 1152.5h5m-2.5-2.5v5M151 1147.5h5m-2.5-2.5v5M151 1142.5h5m-2.5-2.5v5M152 1154.5h5m-2.5-2.5v5M152 1140.5h5m-2.5-2.5v5M153 1152.5h5m-2.5-2.5v5M153 1182.5h5m-2.5-2.5v5M153 1138.5h5m-2.5-2.5v5M154 1166.5h5m-2.5-2.5v5M154 1174.5h5m-2.5-2.5v5M154 1164.5h5m-2.5-2.5v5M155 1177.5h5m-2.5-2.5v5M156 1166.5h5m-2.5-2.5v5M156 1180.5h5m-2.5-2.5v5M156 1179.5h5m-2.5-2.5v5M156 1150.5h5m-2.5-2.5v5M157 1159.5h5m-2.5-2.5v5M157 1139.5h5m-2.5-2.5v5M157 1137.5h5m-2.5-2.5v5M158 1176.5h5m-2.5-2.5v5M158 1148.5h5m-2.5-2.5v5M158 1147.5h5m-2.5-2.5v5M158 1139.5h5m-2.5-2.5v5M158 1169.5h5m-2.5-2.5v5M159 1156.5h5m-2.5-2.5v5M159 1142.5h5m-2.5-2.5v5M159 1174.5h5m-2.5-2.5v5M160 1168.5h5m-2.5-2.5v5M160 1181.5h5m-2.5-2.5v5M161 1145.5h5m-2.5-2.5v5M161 1190.5h5m-2.5-2.5v5M162 1149.5h5m-2.5-2.5v5M162 1159.5h5m-2.5-2.5v5M162 1178.5h5m-2.5-2.5v5M162 1144.5h5m-2.5-2.5v5M162 1192.5h5m-2.5-2.5v5M163 1180.5h5m-2.5-2.5v5M163 1169.5h5m-2.5-2.5v5M163 1174.5h5m-2.5-2.5v5M163 1175.5h5m-2.5-2.5v5M164 1149.5h5m-2.5-2.5v5M164 1180.5h5m-2.5-2.5v5M164 1164.5h5m-2.5-2.5v5M164 1150.5h5m-2.5-2.5v5M164 1185.5h5m-2.5-2.5v5M165 1181.5h5m-2.5-2.5v5M165 1152.5h5m-2.5-2.5v5M165 1172.5h5m-2.5-2.5v5M165 1188.5h5m-2.5-2.5v5M166 1147.5h5m-2.5-2.5v5M167 1153.5h5m-2.5-2.5v5M167 1148.5h5m-2.5-2.5v5M167 1160.5h5m-2.5-2.5v5M168 1155.5h5m-2.5-2.5v5M168 1144.5h5m-2.5-2.5v5M168 1161.5h5m-2.5-2.5v5M168 1172.5h5m-2.5-2.5v5M168 1156.5h5m-2.5-2.5v5M168 1135.5h5m-2.5-2.5v5M169 1166.5h5m-2.5-2.5v5M169 1165.5h5m-2.5-2.5v5M169 1183.5h5m-2.5-2.5v5M169 1190.5h5m-2.5-2.5v5M171 1183.5h5m-2.5-2.5v5M171 1183.5h5m-2.5-2.5v5M172 1145.5h5m-2.5-2.5v5M173 1177.5h5m-2.5-2.5v5M173 1152.5h5m-2.5-2.5v5M173 1157.5h5m-2.5-2.5v5M174 1181.5h5m-2.5-2.5v5M175 1145.5h5m-2.5-2.5v5M175 1140.5h5m-2.5-2.5v5M175 1153.5h5m-2.5-2.5v5M175 1173.5h5m-2.5-2.5v5M175 1143.5h5m-2.5-2.5v5M175 1173.5h5m-2.5-2.5v5M176 1129.5h5m-2.5-2.5v5M178 1183.5h5m-2.5-2.5v5M178 1145.5h5m-2.5-2.5v5M178 1167.5h5m-2.5-2.5v5M179 1132.5h5m-2.5-2.5v5M180 1159.5h5m-2.5-2.5v5M180 1167.5h5m-2.5-2.5v5M180 1149.5h5m-2.5-2.5v5M180 1176.5h5m-2.5-2.5v5M180 1143.5h5m-2.5-2.5v5M180 1165.5h5m-2.5-2.5v5M180 1187.5h5m-2.5-2.5v5M181 1193.5h5m-2.5-2.5v5M182 1151.5h5m-2.5-2.5v5M182 1181.5h5m-2.5-2.5v5M182 1168.5h5m-2.5-2.5v5M183 1169.5h5m-2.5-2.5v5M183 1168.5h5m-2.5-2.5v5M183 1174.5h5m-2.5-2.5v5M184 1158.5h5m-2.5-2.5v5M184 1180.5h5m-2.5-2.5v5M184 1165.5h5m-2.5-2.5v5M184 1170.5h5m-2.5-2.5v5M185 1168.5h5m-2.5-2.5v5M186 1163.5h5m-2.5-2.5v5M187 1168.5h5m-2.5-2.5v5M187 1145.5h5m-2.5-2.5v5M187 1148.5h5m-2.5-2.5v5M187 1195.5h5m-2.5-2.5v5M187 1189.5h5m-2.5-2.5v5M188 1165.5h5m-2.5-2.5v5M188 1131.5h5m-2.5-2.5v5M188 1136.5h5m-2.5-2.5v5M189 1171.5h5m-2.5-2.5v5M191 1157.5h5m-2.5-2.5v5M191 1148.5h5m-2.5-2.5v5M191 1189.5h5m-2.5-2.5v5M191 1185.5h5m-2.5-2.5v5M191 1146.5h5m-2.5-2.5v5M191 1148.5h5m-2.5-2.5v5M191 1196.5h5m-2.5-2.5v5M192 1160.5h5m-2.5-2.5v5M192 1154.5h5m-2.5-2.5v5M192 1175.5h5m-2.5-2.5v5M192 1192.5h5m-2.5-2.5v5M193 1173.5h5m-2.5-2.5v5M193 1169.5h5m-2.5-2.5v5M195 1173.5h5m-2.5-2.5v5M195 1182.5h5m-2.5-2.5v5M195 1172.5h5m-2.5-2.5v5M195 1167.5h5m-2.5-2.5v5M196 1174.5h5m-2.5-2.5v5M196 1157.5h5m-2.5-2.5v5M196 1160.5h5m-2.5-2.5v5M196 1173.5h5m-2.5-2.5v5M196 1187.5h5m-2.5-2.5v5M196 1141.5h5m-2.5-2.5v5M197 1169.5h5m-2.5-2.5v5M197 1181.5h5m-2.5-2.5v5M197 1135.5h5m-2.5-2.5v5M198 1152.5h5m-2.5-2.5v5M198 1168.5h5m-2.5-2.5v5M198 1136.5h5m-2.5-2.5v5M199 1157.5h5m-2.5-2.5v5M199 1188.5h5m-2.5-2.5v5M199 1187.5h5m-2.5-2.5v5M199 1197.5h5m-2.5-2.5v5M200 1174.5h5m-2.5-2.5v5M200 1189.5h5m-2.5-2.5v5M200 1156.5h5m-2.5-2.5v5M200 1162.5h5m-2.5-2.5v5M200 1137.5h5m-2.5-2.5v5M201 1147.5h5m-2.5-2.5v5M201 1151.5h5m-2.5-2.5v5M201 1173.5h5m-2.5-2.5v5M201 1141.5h5m-2.5-2.5v5M202 1153.5h5m-2.5-2.5v5M202 1183.5h5m-2.5-2.5v5M202 1166.5h5m-2.5-2.5v5M202 1143.5h5m-2.5-2.5v5M203 1189.5h5m-2.5-2.5v5M203 1159.5h5m-2.5-2.5v5M203 1153.5h5m-2.5-2.5v5M203 1141.5h5m-2.5-2.5v5M204 1148.5h5m-2.5-2.5v5M204 1184.5h5m-2.5-2.5v5M204 1173.5h5m-2.5-2.5v5M204 1151.5h5m-2.5-2.5v5M205 1157.5h5m-2.5-2.5v5M205 1169.5h5m-2.5-2.5v5M205 1180.5h5m-2.5-2.5v5M205 1135.5h5m-2.5-2.5v5M206 1151.5h5m-2.5-2.5v5M206 1180.5h5m-2.5-2.5v5M207 1165.5h5m-2.5-2.5v5M207 1180.5h5m-2.5-2.5v5M207 1191.5h5m-2.5-2.5v5M208 1154.5h5m-2.5-2.5v5M208 1183.5h5m-2.5-2.5v5M208 1185.5h5m-2.5-2.5v5M208 1172.5h5m-2.5-2.5v5M208 1193.5h5m-2.5-2.5v5M209 1181.5h5m-2.5-2.5v5M209 1145.5h5m-2.5-2.5v5M209 1180.5h5m-2.5-2.5v5M209 1165.5h5m-2.5-2.5v5M209 1160.5h5m-2.5-2.5v5M209 1185.5h5m-2.5-2.5v5M209 1189.5h5m-2.5-2.5v5M209 1176.5h5m-2.5-2.5v5M209 1142.5h5m-2.5-2.5v5M210 1147.5h5m-2.5-2.5v5M210 1175.5h5m-2.5-2.5v5M210 1174.5h5m-2.5-2.5v5M210 1153.5h5m-2.5-2.5v5M210 1136.5h5m-2.5-2.5v5M211 1189.5h5m-2.5-2.5v5M211 1174.5h5m-2.5-2.5v5M211 1177.5h5m-2.5-2.5v5M212 1144.5h5m-2.5-2.5v5M212 1172.5h5m-2.5-2.5v5M212 1178.5h5m-2.5-2.5v5M212 1178.5h5m-2.5-2.5v5M212 1175.5h5m-2.5-2.5v5M212 1181.5h5m-2.5-2.5v5M213 1182.5h5m-2.5-2.5v5M213 1186.5h5m-2.5-2.5v5M213 1148.5h5m-2.5-2.5v5M213 1179.5h5m-2.5-2.5v5M213 1147.5h5m-2.5-2.5v5M214 1175.5h5m-2.5-2.5v5M214 1176.5h5m-2.5-2.5v5M216 1172.5h5m-2.5-2.5v5M216 1147.5h5m-2.5-2.5v5M216 1177.5h5m-2.5-2.5v5M216 1155.5h5m-2.5-2.5v5M216 1153.5h5m-2.5-2.5v5M216 1152.5h5m-2.5-2.5v5M216 1160.5h5m-2.5-2.5v5M217 1175.5h5m-2.5-2.5v5M217 1184.5h5m-2.5-2.5v5M217 1152.5h5m-2.5-2.5v5M218 1154.5h5m-2.5-2.5v5M218 1184.5h5m-2.5-2.5v5M218 1151.5h5m-2.5-2.5v5M218 1160.5h5m-2.5-2.5v5M218 1187.5h5m-2.5-2.5v5M218 1150.5h5m-2.5-2.5v5M218 1130.5h5m-2.5-2.5v5M219 1181.5h5m-2.5-2.5v5M219 1137.5h5m-2.5-2.5v5M219 1129.5h5m-2.5-2.5v5M219 1135.5h5m-2.5-2.5v5M220 1144.5h5m-2.5-2.5v5M220 1145.5h5m-2.5-2.5v5M221 1146.5h5m-2.5-2.5v5M221 1146.5h5m-2.5-2.5v5M221 1143.5h5m-2.5-2.5v5M221 1179.5h5m-2.5-2.5v5M221 1139.5h5m-2.5-2.5v5M221 1136.5h5m-2.5-2.5v5M222 1171.5h5m-2.5-2.5v5M222 1175.5h5m-2.5-2.5v5M222 1167.5h5m-2.5-2.5v5M222 1164.5h5m-2.5-2.5v5M222 1148.5h5m-2.5-2.5v5M222 1190.5h5m-2.5-2.5v5M222 1137.5h5m-2.5-2.5v5M223 1190.5h5m-2.5-2.5v5M223 1167.5h5m-2.5-2.5v5M223 1150.5h5m-2.5-2.5v5M223 1149.5h5m-2.5-2.5v5M224 1186.5h5m-2.5-2.5v5M224 1160.5h5m-2.5-2.5v5M224 1158.5h5m-2.5-2.5v5M224 1158.5h5m-2.5-2.5v5M225 1179.5h5m-2.5-2.5v5M225 1169.5h5m-2.5-2.5v5M225 1178.5h5m-2.5-2.5v5M225 1176.5h5m-2.5-2.5v5M225 1137.5h5m-2.5-2.5v5M226 1189.5h5m-2.5-2.5v5M227 1190.5h5m-2.5-2.5v5M227 1183.5h5m-2.5-2.5v5M227 1163.5h5m-2.5-2.5v5M227 1188.5h5m-2.5-2.5v5M227 1183.5h5m-2.5-2.5v5M227 1183.5h5m-2.5-2.5v5M227 1138.5h5m-2.5-2.5v5M228 1145.5h5m-2.5-2.5v5M228 1179.5h5m-2.5-2.5v5M228 1171.5h5m-2.5-2.5v5M228 1174.5h5m-2.5-2.5v5M228 1186.5h5m-2.5-2.5v5M228 1168.5h5m-2.5-2.5v5M228 1142.5h5m-2.5-2.5v5M229 1190.5h5m-2.5-2.5v5M229 1169.5h5m-2.5-2.5v5M229 1180.5h5m-2.5-2.5v5M229 1150.5h5m-2.5-2.5v5M229 1142.5h5m-2.5-2.5v5M230 1145.5h5m-2.5-2.5v5M230 1160.5h5m-2.5-2.5v5M230 1176.5h5m-2.5-2.5v5M230 1138.5h5m-2.5-2.5v5M231 1155.5h5m-2.5-2.5v5M231 1189.5h5m-2.5-2.5v5M231 1190.5h5m-2.5-2.5v5M231 1189.5h5m-2.5-2.5v5M232 1172.5h5m-2.5-2.5v5M232 1170.5h5m-2.5-2.5v5M232 1142.5h5m-2.5-2.5v5M232 1135.5h5m-2.5-2.5v5M233 1177.5h5m-2.5-2.5v5M233 1178.5h5m-2.5-2.5v5M233 1180.5h5m-2.5-2.5v5M233 1174.5h5m-2.5-2.5v5M233 1153.5h5m-2.5-2.5v5M233 1174.5h5m-2.5-2.5v5M233 1181.5h5m-2.5-2.5v5M234 1181.5h5m-2.5-2.5v5M234 1163.5h5m-2.5-2.5v5M235 1189.5h5m-2.5-2.5v5M235 1161.5h5m-2.5-2.5v5M236 1186.5h5m-2.5-2.5v5M236 1150.5h5m-2.5-2.5v5M236 1193.5h5m-2.5-2.5v5M237 1185.5h5m-2.5-2.5v5M237 1149.5h5m-2.5-2.5v5M237 1154.5h5m-2.5-2.5v5M237 1178.5h5m-2.5-2.5v5M237 1193.5h5m-2.5-2.5v5M238 1181.5h5m-2.5-2.5v5M238 1186.5h5m-2.5-2.5v5M238 1146.5h5m-2.5-2.5v5M239 1148.5h5m-2.5-2.5v5M239 1148.5h5m-2.5-2.5v5M239 1152.5h5m-2.5-2.5v5M239 1169.5h5m-2.5-2.5v5M239 1149.5h5m-2.5-2.5v5M239 1196.5h5m-2.5-2.5v5M240 1154.5h5m-2.5-2.5v5M240 1161.5h5m-2.5-2.5v5M240 1155.5h5m-2.5-2.5v5M240 1140.5h5m-2.5-2.5v5M241 1167.5h5m-2.5-2.5v5M241 1155.5h5m-2.5-2.5v5M241 1159.5h5m-2.5-2.5v5M241 1148.5h5m-2.5-2.5v5M241 1158.5h5m-2.5-2.5v5M241 1136.5h5m-2.5-2.5v5M242 1164.5h5m-2.5-2.5v5M242 1154.5h5m-2.5-2.5v5M242 1176.5h5m-2.5-2.5v5M243 1147.5h5m-2.5-2.5v5M243 1150.5h5m-2.5-2.5v5M243 1169.5h5m-2.5-2.5v5M243 1166.5h5m-2.5-2.5v5M243 1184.5h5m-2.5-2.5v5M244 1150.5h5m-2.5-2.5v5M244 1188.5h5m-2.5-2.5v5M244 1165.5h5m-2.5-2.5v5M244 1155.5h5m-2.5-2.5v5M244 1162.5h5m-2.5-2.5v5M244 1144.5h5m-2.5-2.5v5M244 1196.5h5m-2.5-2.5v5M245 1140.5h5m-2.5-2.5v5M246 1150.5h5m-2.5-2.5v5M246 1182.5h5m-2.5-2.5v5M246 1141.5h5m-2.5-2.5v5M246 1196.5h5m-2.5-2.5v5M247 1138.5h5m-2.5-2.5v5M247 1143.5h5m-2.5-2.5v5M247 1193.5h5m-2.5-2.5v5M248 1184.5h5m-2.5-2.5v5M248 1157.5h5m-2.5-2.5v5M249 1146.5h5m-2.5-2.5v5M249 1183.5h5m-2.5-2.5v5M249 1172.5h5m-2.5-2.5v5M249 1139.5h5m-2.5-2.5v5M249 1139.5h5m-2.5-2.5v5M249 1139.5h5m-2.5-2.5v5M249 1146.5h5m-2.5-2.5v5M250 1151.5h5m-2.5-2.5v5M250 1157.5h5m-2.5-2.5v5M250 1161.5h5m-2.5-2.5v5M250 1131.5h5m-2.5-2.5v5M250 1135.5h5m-2.5-2.5v5M251 1148.5h5m-2.5-2.5v5M251 1188.5h5m-2.5-2.5v5M251 1139.5h5m-2.5-2.5v5M251 1191.5h5m-2.5-2.5v5M252 1150.5h5m-2.5-2.5v5M253 1187.5h5m-2.5-2.5v5M253 1177.5h5m-2.5-2.5v5M254 1184.5h5m-2.5-2.5v5M254 1150.5h5m-2.5-2.5v5M254 1178.5h5m-2.5-2.5v5M254 1169.5h5m-2.5-2.5v5M254 1187.5h5m-2.5-2.5v5M254 1175.5h5m-2.5-2.5v5M255 1184.5h5m-2.5-2.5v5M255 1175.5h5m-2.5-2.5v5M255 1176.5h5m-2.5-2.5v5M255 1163.5h5m-2.5-2.5v5M255 1158.5h5m-2.5-2.5v5M255 1140.5h5m-2.5-2.5v5M256 1186.5h5m-2.5-2.5v5M256 1153.5h5m-2.5-2.5v5M257 1158.5h5m-2.5-2.5v5M257 1145.5h5m-2.5-2.5v5M258 1170.5h5m-2.5-2.5v5M258 1171.5h5m-2.5-2.5v5M258 1170.5h5m-2.5-2.5v5M258 1170.5h5m-2.5-2.5v5M258 1179.5h5m-2.5-2.5v5M258 1164.5h5m-2.5-2.5v5M258 1146.5h5m-2.5-2.5v5M259 1174.5h5m-2.5-2.5v5M259 1149.5h5m-2.5-2.5v5M259 1187.5h5m-2.5-2.5v5M259 1178.5h5m-2.5-2.5v5M259 1170.5h5m-2.5-2.5v5M259 1158.5h5m-2.5-2.5v5M259 1133.5h5m-2.5-2.5v5M259 1193.5h5m-2.5-2.5v5M260 1175.5h5m-2.5-2.5v5M260 1156.5h5m-2.5-2.5v5M260 1174.5h5m-2.5-2.5v5M261 1154.5h5m-2.5-2.5v5M261 1171.5h5m-2.5-2.5v5M262 1174.5h5m-2.5-2.5v5M262 1186.5h5m-2.5-2.5v5M263 1154.5h5m-2.5-2.5v5M263 1148.5h5m-2.5-2.5v5M263 1179.5h5m-2.5-2.5v5M265 1178.5h5m-2.5-2.5v5M265 1141.5h5m-2.5-2.5v5M265 1142.5h5m-2.5-2.5v5M265 1192.5h5m-2.5-2.5v5M266 1147.5h5m-2.5-2.5v5M266 1153.5h5m-2.5-2.5v5M266 1178.5h5m-2.5-2.5v5M266 1139.5h5m-2.5-2.5v5M266 1188.5h5m-2.5-2.5v5M267 1161.5h5m-2.5-2.5v5M267 1179.5h5m-2.5-2.5v5M267 1169.5h5m-2.5-2.5v5M267 1161.5h5m-2.5-2.5v5M268 1185.5h5m-2.5-2.5v5M268 1133.5h5m-2.5-2.5v5M269 1163.5h5m-2.5-2.5v5M269 1175.5h5m-2.5-2.5v5M269 1172.5h5m-2.5-2.5v5M269 1173.5h5m-2.5-2.5v5M270 1174.5h5m-2.5-2.5v5M270 1171.5h5m-2.5-2.5v5M270 1169.5h5m-2.5-2.5v5M270 1147.5h5m-2.5-2.5v5M270 1185.5h5m-2.5-2.5v5M270 1167.5h5m-2.5-2.5v5M270 1172.5h5m-2.5-2.5v5M270 1139.5h5m-2.5-2.5v5M271 1162.5h5m-2.5-2.5v5M271 1151.5h5m-2.5-2.5v5M271 1179.5h5m-2.5-2.5v5M271 1177.5h5m-2.5-2.5v5M271 1175.5h5m-2.5-2.5v5M271 1156.5h5m-2.5-2.5v5M271 1185.5h5m-2.5-2.5v5M272 1157.5h5m-2.5-2.5v5M272 1157.5h5m-2.5-2.5v5M272 1170.5h5m-2.5-2.5v5M272 1135.5h5m-2.5-2.5v5M273 1191.5h5m-2.5-2.5v5M274 1158.5h5m-2.5-2.5v5M274 1155.5h5m-2.5-2.5v5M274 1169.5h5m-2.5-2.5v5M275 1174.5h5m-2.5-2.5v5M275 1171.5h5m-2.5-2.5v5M275 1152.5h5m-2.5-2.5v5M275 1165.5h5m-2.5-2.5v5M275 1156.5h5m-2.5-2.5v5M275 1171.5h5m-2.5-2.5v5M275 1148.5h5m-2.5-2.5v5M276 1178.5h5m-2.5-2.5v5M277 1156.5h5m-2.5-2.5v5M277 1164.5h5m-2.5-2.5v5M277 1169.5h5m-2.5-2.5v5M278 1181.5h5m-2.5-2.5v5M278 1164.5h5m-2.5-2.5v5M278 1171.5h5m-2.5-2.5v5M278 1144.5h5m-2.5-2.5v5M278 1148.5h5m-2.5-2.5v5M279 1181.5h5m-2.5-2.5v5M279 1172.5h5m-2.5-2.5v5M280 1165.5h5m-2.5-2.5v5M280 1169.5h5m-2.5-2.5v5M280 1165.5h5m-2.5-2.5v5M280 1152.5h5m-2.5-2.5v5M280 1141.5h5m-2.5-2.5v5M281 1151.5h5m-2.5-2.5v5M281 1180.5h5m-2.5-2.5v5M282 1180.5h5m-2.5-2.5v5M283 1180.5h5m-2.5-2.5v5M283 1158.5h5m-2.5-2.5v5M284 1179.5h5m-2.5-2.5v5M284 1172.5h5m-2.5-2.5v5M284 1164.5h5m-2.5-2.5v5M284 1157.5h5m-2.5-2.5v5M284 1159.5h5m-2.5-2.5v5M285 1176.5h5m-2.5-2.5v5M285 1176.5h5m-2.5-2.5v5M285 1182.5h5m-2.5-2.5v5M286 1175.5h5m-2.5-2.5v5M286 1158.5h5m-2.5-2.5v5M287 1155.5h5m-2.5-2.5v5M288 1159.5h5m-2.5-2.5v5M288 1167.5h5m-2.5-2.5v5M288 1149.5h5m-2.5-2.5v5M288 1182.5h5m-2.5-2.5v5M289 1147.5h5m-2.5-2.5v5M290 1185.5h5m-2.5-2.5v5M291 1170.5h5m-2.5-2.5v5M291 1159.5h5m-2.5-2.5v5M292 1147.5h5m-2.5-2.5v5M292 1146.5h5m-2.5-2.5v5M292 1185.5h5m-2.5-2.5v5M293 1182.5h5m-2.5-2.5v5M294 1168.5h5m-2.5-2.5v5M294 1156.5h5m-2.5-2.5v5M294 1176.5h5m-2.5-2.5v5M294 1173.5h5m-2.5-2.5v5M295 1140.5h5m-2.5-2.5v5M295 1185.5h5m-2.5-2.5v5M296 1178.5h5m-2.5-2.5v5M296 1186.5h5m-2.5-2.5v5M297 1165.5h5m-2.5-2.5v5M297 1155.5h5m-2.5-2.5v5M297 1163.5h5m-2.5-2.5v5M297 1180.5h5m-2.5-2.5v5M298 1152.5h5m-2.5-2.5v5M298 1181.5h5m-2.5-2.5v5M299 1151.5h5m-2.5-2.5v5M299 1177.5h5m-2.5-2.5v5M300 1176.5h5m-2.5-2.5v5M300 1158.5h5m-2.5-2.5v5M300 1166.5h5m-2.5-2.5v5M300 1156.5h5m-2.5-2.5v5M301 1158.5h5m-2.5-2.5v5M301 1153.5h5m-2.5-2.5v5M301 1151.5h5m-2.5-2.5v5M302 1154.5h5m-2.5-2.5v5M303 1171.5h5m-2.5-2.5v5M303 1161.5h5m-2.5-2.5v5M304 1156.5h5m-2.5-2.5v5M304 1148.5h5m-2.5-2.5v5M305 1147.5h5m-2.5-2.5v5M306 1159.5h5m-2.5-2.5v5M307 1168.5h5m-2.5-2.5v5M309 1145.5h5m-2.5-2.5v5M310 1167.5h5m-2.5-2.5v5M310 1156.5h5m-2.5-2.5v5M310 1154.5h5m-2.5-2.5v5M310 1146.5h5m-2.5-2.5v5M311 1173.5h5m-2.5-2.5v5M311 1163.5h5m-2.5-2.5v5M312 1155.5h5m-2.5-2.5v5M314 1174.5h5m-2.5-2.5v5M314 1167.5h5m-2.5-2.5v5M314 1146.5h5m-2.5-2.5v5M315 1158.5h5m-2.5-2.5v5M315 1175.5h5m-2.5-2.5v5M315 1175.5h5m-2.5-2.5v5M316 1158.5h5m-2.5-2.5v5M316 1159.5h5m-2.5-2.5v5M316 1176.5h5m-2.5-2.5v5M317 1152.5h5m-2.5-2.5v5M318 1155.5h5m-2.5-2.5v5M318 1150.5h5m-2.5-2.5v5M319 1167.5h5m-2.5-2.5v5M319 1156.5h5m-2.5-2.5v5M320 1166.5h5m-2.5-2.5v5M320 1169.5h5m-2.5-2.5v5M320 1159.5h5m-2.5-2.5v5M321 1165.5h5m-2.5-2.5v5M321 1177.5h5m-2.5-2.5v5M322 1167.5h5m-2.5-2.5v5M323 1157.5h5m-2.5-2.5v5M323 1159.5h5m-2.5-2.5v5M325 1146.5h5m-2.5-2.5v5M325 1146.5h5m-2.5-2.5v5M327 1171.5h5m-2.5-2.5v5M328 1165.5h5m-2.5-2.5v5M328 1173.5h5m-2.5-2.5v5M328 1175.5h5m-2.5-2.5v5M329 1158.5h5m-2.5-2.5v5M330 1167.5h5m-2.5-2.5v5M330 1151.5h5m-2.5-2.5v5M331 1175.5h5m-2.5-2.5v5M333 1150.5h5m-2.5-2.5v5M334 1161.5h5m-2.5-2.5v5M334 1172.5h5m-2.5-2.5v5M335 1172.5h5m-2.5-2.5v5M337 1158.5h5m-2.5-2.5v5M337 1177.5h5m-2.5-2.5v5M338 1163.5h5m-2.5-2.5v5M338 1154.5h5m-2.5-2.5v5M339 1172.5h5m-2.5-2.5v5M340 1171.5h5m-2.5-2.5v5M340 1176.5h5m-2.5-2.5v5M341 1155.5h5m-2.5-2.5v5M342 1169.5h5m-2.5-2.5v5M343 1161.5h5m-2.5-2.5v5M343 1151.5h5m-2.5-2.5v5M344 1164.5h5m-2.5-2.5v5M348 1164.5h5m-2.5-2.5v5M350 1160.5h5m-2.5-2.5v5M350 1169.5h5m-2.5-2.5v5M351 1162.5h5m-2.5-2.5v5M356 1170.5h5m-2.5-2.5v5M359 1168.5h5m-2.5-2.5v5M360 1153.5h5m-2.5-2.5v5M361 1167.5h5m-2.5-2.5v5M361 1168.5h5m-2.5-2.5v5M362 1162.5h5m-2.5-2.5v5M363 1160.5h5m-2.5-2.5v5M363 1176.5h5m-2.5-2.5v5M364 1160.5h5m-2.5-2.5v5M364 1148.5h5m-2.5-2.5v5M364 1158.5h5m-2.5-2.5v5M366 1175.5h5m-2.5-2.5v5M374 1157.5h5m-2.5-2.5v5M376 1161.5h5m-2.5-2.5v5M378 1171.5h5m-2.5-2.5v5M379 1158.5h5m-2.5-2.5v5M380 1170.5h5m-2.5-2.5v5M382 1172.5h5m-2.5-2.5v5M397 1158.5h5m-2.5-2.5v5M398 1169.5h5m-2.5-2.5v5M401 1162.5h5m-2.5-2.5v5M409 1166.5h5m-2.5-2.5v5M412 1163.5h5m-2.5-2.5v5M413 1166.5h5m-2.5-2.5v5M418 1166.5h5m-2.5-2.5v5M421 1169.5h5m-2.5-2.5v5M424 1172.5h5m-2.5-2.5v5M425 1169.5h5m-2.5-2.5v5M430 1166.5h5m-2.5-2.5v5M431 1175.5h5m-2.5-2.5v5M443 1167.5h5m-2.5-2.5v5M73 1154.5h5m-2.5-2.5v5M74 1157.5h5m-2.5-2.5v5M90 1172.5h5m-2.5-2.5v5M83 1164.5h5m-2.5-2.5v5M89 1170.5h5m-2.5-2.5v5M64 1155.5h5m-2.5-2.5v5M88 1165.5h5m-2.5-2.5v5M104 1185.5h5m-2.5-2.5v5M93 1177.5h5m-2.5-2.5v5M99 1177.5h5m-2.5-2.5v5M74 1158.5h5m-2.5-2.5v5M66 1149.5h5m-2.5-2.5v5M87 1174.5h5m-2.5-2.5v5M109 1191.5h5m-2.5-2.5v5M83 1170.5h5m-2.5-2.5v5M90 1172.5h5m-2.5-2.5v5M82 1167.5h5m-2.5-2.5v5M72 1162.5h5m-2.5-2.5v5M105 1185.5h5m-2.5-2.5v5M91 1166.5h5m-2.5-2.5v5M68 1149.5h5m-2.5-2.5v5M82 1171.5h5m-2.5-2.5v5M73 1155.5h5m-2.5-2.5v5M82 1159.5h5m-2.5-2.5v5M108 1189.5h5m-2.5-2.5v5M98 1173.5h5m-2.5-2.5v5M66 1147.5h5m-2.5-2.5v5M95 1178.5h5m-2.5-2.5v5M106 1189.5h5m-2.5-2.5v5M94 1170.5h5m-2.5-2.5v5M64 1150.5h5m-2.5-2.5v5M76 1167.5h5m-2.5-2.5v5M101 1184.5h5m-2.5-2.5v5M64 1155.5h5m-2.5-2.5v5M76 1164.5h5m-2.5-2.5v5M69 1153.5h5m-2.5-2.5v5M93 1168.5h5m-2.5-2.5v5M107 1190.5h5m-2.5-2.5v5M70 1155.5h5m-2.5-2.5v5M75 1168.5h5m-2.5-2.5v5M64 1145.5h5m-2.5-2.5v5M98 1182.5h5m-2.5-2.5v5M84 1171.5h5m-2.5-2.5v5M248 1190.5h5m-2.5-2.5v5M360 1119.5h5m-2.5-2.5v5M243 1125.5h5m-2.5-2.5v5M233 1101.5h5m-2.5-2.5v5M154 1201.5h5m-2.5-2.5v5M153 1194.5h5m-2.5-2.5v5M305 1068.5h5m-2.5-2.5v5M89 1120.5h5m-2.5-2.5v5M391 1173.5h5m-2.5-2.5v5M155 1123.5h5m-2.5-2.5v5M435 1155.5h5m-2.5-2.5v5M183 1195.5h5m-2.5-2.5v5M104 1125.5h5m-2.5-2.5v5M354 1108.5h5m-2.5-2.5v5M81 1116.5h5m-2.5-2.5v5M283 1089.5h5m-2.5-2.5v5M254 1074.5h5m-2.5-2.5v5M312 1128.5h5m-2.5-2.5v5M289 1096.5h5m-2.5-2.5v5M358 1173.5h5m-2.5-2.5v5M67 1147.5h5m-2.5-2.5v5M407 1145.5h5m-2.5-2.5v5M277 1101.5h5m-2.5-2.5v5M381 1174.5h5m-2.5-2.5v5M239 1124.5h5m-2.5-2.5v5M79 1119.5h5m-2.5-2.5v5M187 1111.5h5m-2.5-2.5v5M338 1181.5h5m-2.5-2.5v5M61 1142.5h5m-2.5-2.5v5M311 1132.5h5m-2.5-2.5v5M183 1199.5h5m-2.5-2.5v5M375 1118.5h5m-2.5-2.5v5M129 1123.5h5m-2.5-2.5v5M316 1112.5h5m-2.5-2.5v5M257 1190.5h5m-2.5-2.5v5M341 1122.5h5m-2.5-2.5v5M441 1176.5h5m-2.5-2.5v5M281 1080.5h5m-2.5-2.5v5M136 1198.5h5m-2.5-2.5v5M254 1120.5h5m-2.5-2.5v5M100 1126.5h5m-2.5-2.5v5M275 1110.5h5m-2.5-2.5v5M197 1084.5h5m-2.5-2.5v5M271 1060.5h5m-2.5-2.5v5M175 1112.5h5m-2.5-2.5v5M249 1119.5h5m-2.5-2.5v5M314 1116.5h5m-2.5-2.5v5M263 1081.5h5m-2.5-2.5v5M230 1193.5h5m-2.5-2.5v5M387 1143.5h5m-2.5-2.5v5M394 1114.5h5m-2.5-2.5v5M393 1105.5h5m-2.5-2.5v5M247 1117.5h5m-2.5-2.5v5M279 1129.5h5m-2.5-2.5v5M253 1125.5h5m-2.5-2.5v5M292 1126.5h5m-2.5-2.5v5M327 1118.5h5m-2.5-2.5v5M194 1081.5h5m-2.5-2.5v5M181 1094.5h5m-2.5-2.5v5M338 1133.5h5m-2.5-2.5v5M278 1187.5h5m-2.5-2.5v5M185 1189.5h5m-2.5-2.5v5M104 1120.5h5m-2.5-2.5v5M280 1012.5h5m-2.5-2.5v5M259 1101.5h5m-2.5-2.5v5M262 1101.5h5m-2.5-2.5v5M259 1098.5h5m-2.5-2.5v5M252 1084.5h5m-2.5-2.5v5M182 1112.5h5m-2.5-2.5v5M186 1130.5h5m-2.5-2.5v5M176 1129.5h5m-2.5-2.5v5M176 1125.5h5m-2.5-2.5v5M116 1121.5h5m-2.5-2.5v5M115 1126.5h5m-2.5-2.5v5M113 1102.5h5m-2.5-2.5v5M121 1125.5h5m-2.5-2.5v5M114 1115.5h5m-2.5-2.5v5M115 1126.5h5m-2.5-2.5v5M111 1121.5h5m-2.5-2.5v5M115 1119.5h5m-2.5-2.5v5M110 1115.5h5m-2.5-2.5v5" stroke="#444" stroke-opacity="0.56" stroke-width="1.2" fill="none"/>
<path d="M61 1130.5h5m-2.5-2.5v5M61 1136.5h5m-2.5-2.5v5M61 1139.5h5m-2.5-2.5v5M65 1133.5h5m-2.5-2.5v5M65 1122.5h5m-2.5-2.5v5M66 1136.5h5m-2.5-2.5v5M67 1151.5h5m-2.5-2.5v5M70 1140.5h5m-2.5-2.5v5M70 1132.5h5m-2.5-2.5v5M71 1143.5h5m-2.5-2.5v5M71 1125.5h5m-2.5-2.5v5M72 1145.5h5m-2.5-2.5v5M73 1135.5h5m-2.5-2.5v5M73 1132.5h5m-2.5-2.5v5M74 1132.5h5m-2.5-2.5v5M74 1150.5h5m-2.5-2.5v5M75 1153.5h5m-2.5-2.5v5M77 1141.5h5m-2.5-2.5v5M77 1139.5h5m-2.5-2.5v5M78 1126.5h5m-2.5-2.5v5M79 1138.5h5m-2.5-2.5v5M80 1131.5h5m-2.5-2.5v5M80 1151.5h5m-2.5-2.5v5M81 1159.5h5m-2.5-2.5v5M84 1129.5h5m-2.5-2.5v5M84 1147.5h5m-2.5-2.5v5M84 1134.5h5m-2.5-2.5v5M84 1135.5h5m-2.5-2.5v5M84 1145.5h5m-2.5-2.5v5M85 1134.5h5m-2.5-2.5v5M87 1143.5h5m-2.5-2.5v5M87 1155.5h5m-2.5-2.5v5M88 1152.5h5m-2.5-2.5v5M89 1149.5h5m-2.5-2.5v5M89 1155.5h5m-2.5-2.5v5M90 1143.5h5m-2.5-2.5v5M90 1143.5h5m-2.5-2.5v5M90 1132.5h5m-2.5-2.5v5M91 1146.5h5m-2.5-2.5v5M92 1156.5h5m-2.5-2.5v5M92 1143.5h5m-2.5-2.5v5M92 1131.5h5m-2.5-2.5v5M92 1161.5h5m-2.5-2.5v5M93 1151.5h5m-2.5-2.5v5M94 1133.5h5m-2.5-2.5v5M94 1134.5h5m-2.5-2.5v5M95 1154.5h5m-2.5-2.5v5M96 1143.5h5m-2.5-2.5v5M97 1157.5h5m-2.5-2.5v5M99 1150.5h5m-2.5-2.5v5M100 1148.5h5m-2.5-2.5v5M103 1141.5h5m-2.5-2.5v5M104 1136.5h5m-2.5-2.5v5M104 1173.5h5m-2.5-2.5v5M105 1141.5h5m-2.5-2.5v5M105 1139.5h5m-2.5-2.5v5M106 1172.5h5m-2.5-2.5v5M106 1146.5h5m-2.5-2.5v5M106 1155.5h5m-2.5-2.5v5M107 1146.5h5m-2.5-2.5v5M107 1142.5h5m-2.5-2.5v5M107 1153.5h5m-2.5-2.5v5M107 1153.5h5m-2.5-2.5v5M107 1182.5h5m-2.5-2.5v5M108 1178.5h5m-2.5-2.5v5M108 1179.5h5m-2.5-2.5v5M108 1158.5h5m-2.5-2.5v5M109 1167.5h5m-2.5-2.5v5M109 1184.5h5m-2.5-2.5v5M110 1145.5h5m-2.5-2.5v5M110 1160.5h5m-2.5-2.5v5M111 1138.5h5m-2.5-2.5v5M111 1171.5h5m-2.5-2.5v5M111 1146.5h5m-2.5-2.5v5M111 1170.5h5m-2.5-2.5v5M111 1138.5h5m-2.5-2.5v5M111 1183.5h5m-2.5-2.5v5M111 1132.5h5m-2.5-2.5v5M112 1187.5h5m-2.5-2.5v5M112 1179.5h5m-2.5-2.5v5M112 1136.5h5m-2.5-2.5v5M112 1167.5h5m-2.5-2.5v5M112 1160.5h5m-2.5-2.5v5M112 1134.5h5m-2.5-2.5v5M113 1131.5h5m-2.5-2.5v5M113 1155.5h5m-2.5-2.5v5M113 1160.5h5m-2.5-2.5v5M113 1141.5h5m-2.5-2.5v5M114 1134.5h5m-2.5-2.5v5M114 1118.5h5m-2.5-2.5v5M115 1138.5h5m-2.5-2.5v5M115 1185.5h5m-2.5-2.5v5M115 1131.5h5m-2.5-2.5v5M115 1134.5h5m-2.5-2.5v5M115 1144.5h5m-2.5-2.5v5M115 1190.5h5m-2.5-2.5v5M116 1175.5h5m-2.5-2.5v5M116 1158.5h5m-2.5-2.5v5M116 1141.5h5m-2.5-2.5v5M116 1151.5h5m-2.5-2.5v5M116 1170.5h5m-2.5-2.5v5M117 1169.5h5m-2.5-2.5v5M117 1180.5h5m-2.5-2.5v5M117 1150.5h5m-2.5-2.5v5M117 1136.5h5m-2.5-2.5v5M117 1177.5h5m-2.5-2.5v5M117 1170.5h5m-2.5-2.5v5M117 1133.5h5m-2.5-2.5v5M117 1179.5h5m-2.5-2.5v5M118 1136.5h5m-2.5-2.5v5M118 1143.5h5m-2.5-2.5v5M118 1138.5h5m-2.5-2.5v5M118 1151.5h5m-2.5-2.5v5M118 1184.5h5m-2.5-2.5v5M119 1146.5h5m-2.5-2.5v5M119 1174.5h5m-2.5-2.5v5M119 1171.5h5m-2.5-2.5v5M119 1186.5h5m-2.5-2.5v5M119 1154.5h5m-2.5-2.5v5M120 1189.5h5m-2.5-2.5v5M120 1153.5h5m-2.5-2.5v5M120 1183.5h5m-2.5-2.5v5M120 1182.5h5m-2.5-2.5v5M121 1141.5h5m-2.5-2.5v5M121 1133.5h5m-2.5-2.5v5M121 1164.5h5m-2.5-2.5v5M121 1182.5h5m-2.5-2.5v5M121 1132.5h5m-2.5-2.5v5M121 1124.5h5m-2.5-2.5v5M121 1191.5h5m-2.5-2.5v5M121 1191.5h5m-2.5-2.5v5M122 1156.5h5m-2.5-2.5v5M122 1134.5h5m-2.5-2.5v5M122 1157.5h5m-2.5-2.5v5M122 1144.5h5m-2.5-2.5v5M122 1166.5h5m-2.5-2.5v5M124 1172.5h5m-2.5-2.5v5M124 1132.5h5m-2.5-2.5v5M124 1187.5h5m-2.5-2.5v5M124 1146.5h5m-2.5-2.5v5M124 1176.5h5m-2.5-2.5v5M124 1182.5h5m-2.5-2.5v5M125 1168.5h5m-2.5-2.5v5M125 1127.5h5m-2.5-2.5v5M127 1160.5h5m-2.5-2.5v5M127 1172.5h5m-2.5-2.5v5M127 1139.5h5m-2.5-2.5v5M127 1168.5h5m-2.5-2.5v5M127 1186.5h5m-2.5-2.5v5M128 1158.5h5m-2.5-2.5v5M128 1143.5h5m-2.5-2.5v5M128 1129.5h5m-2.5-2.5v5M129 1181.5h5m-2.5-2.5v5M129 1162.5h5m-2.5-2.5v5M129 1187.5h5m-2.5-2.5v5M129 1135.5h5m-2.5-2.5v5M129 1128.5h5m-2.5-2.5v5M129 1134.5h5m-2.5-2.5v5M130 1157.5h5m-2.5-2.5v5M130 1187.5h5m-2.5-2.5v5M131 1181.5h5m-2.5-2.5v5M131 1159.5h5m-2.5-2.5v5M131 1139.5h5m-2.5-2.5v5M132 1182.5h5m-2.5-2.5v5M132 1139.5h5m-2.5-2.5v5M133 1175.5h5m-2.5-2.5v5M133 1159.5h5m-2.5-2.5v5M133 1150.5h5m-2.5-2.5v5M133 1173.5h5m-2.5-2.5v5M133 1181.5h5m-2.5-2.5v5M133 1154.5h5m-2.5-2.5v5M134 1139.5h5m-2.5-2.5v5M134 1165.5h5m-2.5-2.5v5M134 1170.5h5m-2.5-2.5v5M134 1184.5h5m-2.5-2.5v5M134 1165.5h5m-2.5-2.5v5M134 1175.5h5m-2.5-2.5v5M135 1152.5h5m-2.5-2.5v5M136 1147.5h5m-2.5-2.5v5M136 1155.5h5m-2.5-2.5v5M136 1141.5h5m-2.5-2.5v5M136 1155.5h5m-2.5-2.5v5M137 1160.5h5m-2.5-2.5v5M138 1158.5h5m-2.5-2.5v5M138 1183.5h5m-2.5-2.5v5M139 1164.5h5m-2.5-2.5v5M140 1178.5h5m-2.5-2.5v5M140 1151.5h5m-2.5-2.5v5M140 1134.5h5m-2.5-2.5v5M140 1133.5h5m-2.5-2.5v5M141 1164.5h5m-2.5-2.5v5M141 1178.5h5m-2.5-2.5v5M141 1173.5h5m-2.5-2.5v5M142 1148.5h5m-2.5-2.5v5M142 1161.5h5m-2.5-2.5v5M142 1182.5h5m-2.5-2.5v5M142 1141.5h5m-2.5-2.5v5M142 1175.5h5m-2.5-2.5v5M142 1129.5h5m-2.5-2.5v5M143 1157.5h5m-2.5-2.5v5M144 1160.5h5m-2.5-2.5v5M144 1152.5h5m-2.5-2.5v5M145 1146.5h5m-2.5-2.5v5M145 1177.5h5m-2.5-2.5v5M145 1154.5h5m-2.5-2.5v5M145 1133.5h5m-2.5-2.5v5M147 1179.5h5m-2.5-2.5v5M147 1173.5h5m-2.5-2.5v5M147 1145.5h5m-2.5-2.5v5M147 1165.5h5m-2.5-2.5v5M148 1162.5h5m-2.5-2.5v5M148 1182.5h5m-2.5-2.5v5M148 1149.5h5m-2.5-2.5v5M148 1139.5h5m-2.5-2.5v5M149 1164.5h5m-2.5-2.5v5M149 1151.5h5m-2.5-2.5v5M149 1153.5h5m-2.5-2.5v5M149 1177.5h5m-2.5-2.5v5M150 1165.5h5m-2.5-2.5v5M150 1152.5h5m-2.5-2.5v5M150 1176.5h5m-2.5-2.5v5M150 1170.5h5m-2.5-2.5v5M150 1135.5h5m-2.5-2.5v5M151 1185.5h5m-2.5-2.5v5M151 1154.5h5m-2.5-2.5v5M151 1147.5h5m-2.5-2.5v5M151 1179.5h5m-2.5-2.5v5M151 1155.5h5m-2.5-2.5v5M151 1137.5h5m-2.5-2.5v5M152 1157.5h5m-2.5-2.5v5M153 1162.5h5m-2.5-2.5v5M153 1162.5h5m-2.5-2.5v5M153 1174.5h5m-2.5-2.5v5M153 1167.5h5m-2.5-2.5v5M153 1183.5h5m-2.5-2.5v5M153 1153.5h5m-2.5-2.5v5M154 1154.5h5m-2.5-2.5v5M154 1164.5h5m-2.5-2.5v5M154 1147.5h5m-2.5-2.5v5M154 1138.5h5m-2.5-2.5v5M155 1161.5h5m-2.5-2.5v5M156 1173.5h5m-2.5-2.5v5M157 1174.5h5m-2.5-2.5v5M157 1175.5h5m-2.5-2.5v5M157 1174.5h5m-2.5-2.5v5M157 1184.5h5m-2.5-2.5v5M158 1158.5h5m-2.5-2.5v5M158 1154.5h5m-2.5-2.5v5M158 1176.5h5m-2.5-2.5v5M158 1162.5h5m-2.5-2.5v5M158 1137.5h5m-2.5-2.5v5M158 1138.5h5m-2.5-2.5v5M159 1152.5h5m-2.5-2.5v5M159 1147.5h5m-2.5-2.5v5M159 1170.5h5m-2.5-2.5v5M160 1182.5h5m-2.5-2.5v5M160 1155.5h5m-2.5-2.5v5M161 1184.5h5m-2.5-2.5v5M161 1159.5h5m-2.5-2.5v5M161 1167.5h5m-2.5-2.5v5M162 1151.5h5m-2.5-2.5v5M162 1170.5h5m-2.5-2.5v5M162 1164.5h5m-2.5-2.5v5M162 1165.5h5m-2.5-2.5v5M162 1164.5h5m-2.5-2.5v5M162 1142.5h5m-2.5-2.5v5M162 1134.5h5m-2.5-2.5v5M162 1139.5h5m-2.5-2.5v5M162 1187.5h5m-2.5-2.5v5M163 1163.5h5m-2.5-2.5v5M163 1174.5h5m-2.5-2.5v5M163 1172.5h5m-2.5-2.5v5M163 1191.5h5m-2.5-2.5v5M164 1144.5h5m-2.5-2.5v5M164 1155.5h5m-2.5-2.5v5M164 1151.5h5m-2.5-2.5v5M164 1141.5h5m-2.5-2.5v5M164 1174.5h5m-2.5-2.5v5M164 1152.5h5m-2.5-2.5v5M164 1189.5h5m-2.5-2.5v5M165 1177.5h5m-2.5-2.5v5M165 1154.5h5m-2.5-2.5v5M165 1151.5h5m-2.5-2.5v5M165 1170.5h5m-2.5-2.5v5M166 1185.5h5m-2.5-2.5v5M166 1185.5h5m-2.5-2.5v5M166 1161.5h5m-2.5-2.5v5M166 1175.5h5m-2.5-2.5v5M166 1187.5h5m-2.5-2.5v5M167 1163.5h5m-2.5-2.5v5M167 1186.5h5m-2.5-2.5v5M168 1151.5h5m-2.5-2.5v5M168 1185.5h5m-2.5-2.5v5M168 1159.5h5m-2.5-2.5v5M168 1139.5h5m-2.5-2.5v5M168 1158.5h5m-2.5-2.5v5M169 1141.5h5m-2.5-2.5v5M169 1149.5h5m-2.5-2.5v5M169 1166.5h5m-2.5-2.5v5M169 1131.5h5m-2.5-2.5v5M170 1150.5h5m-2.5-2.5v5M170 1186.5h5m-2.5-2.5v5M170 1139.5h5m-2.5-2.5v5M170 1137.5h5m-2.5-2.5v5M171 1185.5h5m-2.5-2.5v5M171 1174.5h5m-2.5-2.5v5M172 1180.5h5m-2.5-2.5v5M172 1180.5h5m-2.5-2.5v5M172 1192.5h5m-2.5-2.5v5M173 1159.5h5m-2.5-2.5v5M173 1152.5h5m-2.5-2.5v5M173 1161.5h5m-2.5-2.5v5M173 1167.5h5m-2.5-2.5v5M174 1154.5h5m-2.5-2.5v5M174 1171.5h5m-2.5-2.5v5M174 1161.5h5m-2.5-2.5v5M174 1191.5h5m-2.5-2.5v5M175 1167.5h5m-2.5-2.5v5M176 1174.5h5m-2.5-2.5v5M176 1147.5h5m-2.5-2.5v5M176 1159.5h5m-2.5-2.5v5M177 1173.5h5m-2.5-2.5v5M177 1187.5h5m-2.5-2.5v5M177 1191.5h5m-2.5-2.5v5M178 1185.5h5m-2.5-2.5v5M178 1187.5h5m-2.5-2.5v5M178 1156.5h5m-2.5-2.5v5M178 1156.5h5m-2.5-2.5v5M178 1183.5h5m-2.5-2.5v5M178 1155.5h5m-2.5-2.5v5M179 1143.5h5m-2.5-2.5v5M179 1185.5h5m-2.5-2.5v5M179 1157.5h5m-2.5-2.5v5M179 1173.5h5m-2.5-2.5v5M179 1176.5h5m-2.5-2.5v5M179 1188.5h5m-2.5-2.5v5M180 1186.5h5m-2.5-2.5v5M181 1188.5h5m-2.5-2.5v5M181 1140.5h5m-2.5-2.5v5M181 1140.5h5m-2.5-2.5v5M181 1192.5h5m-2.5-2.5v5M182 1166.5h5m-2.5-2.5v5M182 1188.5h5m-2.5-2.5v5M182 1191.5h5m-2.5-2.5v5M183 1162.5h5m-2.5-2.5v5M183 1147.5h5m-2.5-2.5v5M183 1175.5h5m-2.5-2.5v5M183 1143.5h5m-2.5-2.5v5M183 1166.5h5m-2.5-2.5v5M183 1179.5h5m-2.5-2.5v5M183 1191.5h5m-2.5-2.5v5M184 1178.5h5m-2.5-2.5v5M184 1144.5h5m-2.5-2.5v5M184 1145.5h5m-2.5-2.5v5M184 1143.5h5m-2.5-2.5v5M185 1179.5h5m-2.5-2.5v5M185 1172.5h5m-2.5-2.5v5M185 1166.5h5m-2.5-2.5v5M185 1160.5h5m-2.5-2.5v5M185 1162.5h5m-2.5-2.5v5M185 1191.5h5m-2.5-2.5v5M186 1154.5h5m-2.5-2.5v5M187 1141.5h5m-2.5-2.5v5M187 1151.5h5m-2.5-2.5v5M187 1180.5h5m-2.5-2.5v5M187 1164.5h5m-2.5-2.5v5M188 1164.5h5m-2.5-2.5v5M188 1153.5h5m-2.5-2.5v5M188 1143.5h5m-2.5-2.5v5M189 1180.5h5m-2.5-2.5v5M189 1173.5h5m-2.5-2.5v5M190 1139.5h5m-2.5-2.5v5M190 1189.5h5m-2.5-2.5v5M191 1169.5h5m-2.5-2.5v5M191 1181.5h5m-2.5-2.5v5M191 1163.5h5m-2.5-2.5v5M191 1159.5h5m-2.5-2.5v5M191 1156.5h5m-2.5-2.5v5M192 1162.5h5m-2.5-2.5v5M192 1182.5h5m-2.5-2.5v5M192 1152.5h5m-2.5-2.5v5M193 1157.5h5m-2.5-2.5v5M193 1133.5h5m-2.5-2.5v5M193 1192.5h5m-2.5-2.5v5M194 1143.5h5m-2.5-2.5v5M194 1183.5h5m-2.5-2.5v5M194 1150.5h5m-2.5-2.5v5M194 1162.5h5m-2.5-2.5v5M195 1175.5h5m-2.5-2.5v5M195 1179.5h5m-2.5-2.5v5M196 1187.5h5m-2.5-2.5v5M196 1160.5h5m-2.5-2.5v5M196 1149.5h5m-2.5-2.5v5M197 1154.5h5m-2.5-2.5v5M197 1187.5h5m-2.5-2.5v5M197 1158.5h5m-2.5-2.5v5M198 1146.5h5m-2.5-2.5v5M198 1184.5h5m-2.5-2.5v5M198 1174.5h5m-2.5-2.5v5M198 1180.5h5m-2.5-2.5v5M198 1170.5h5m-2.5-2.5v5M198 1159.5h5m-2.5-2.5v5M199 1175.5h5m-2.5-2.5v5M199 1190.5h5m-2.5-2.5v5M199 1149.5h5m-2.5-2.5v5M199 1160.5h5m-2.5-2.5v5M199 1175.5h5m-2.5-2.5v5M199 1182.5h5m-2.5-2.5v5M199 1136.5h5m-2.5-2.5v5M199 1132.5h5m-2.5-2.5v5M200 1157.5h5m-2.5-2.5v5M200 1166.5h5m-2.5-2.5v5M200 1144.5h5m-2.5-2.5v5M200 1147.5h5m-2.5-2.5v5M202 1166.5h5m-2.5-2.5v5M202 1159.5h5m-2.5-2.5v5M202 1192.5h5m-2.5-2.5v5M203 1184.5h5m-2.5-2.5v5M204 1168.5h5m-2.5-2.5v5M204 1156.5h5m-2.5-2.5v5M204 1174.5h5m-2.5-2.5v5M204 1129.5h5m-2.5-2.5v5M204 1194.5h5m-2.5-2.5v5M205 1151.5h5m-2.5-2.5v5M205 1155.5h5m-2.5-2.5v5M205 1154.5h5m-2.5-2.5v5M205 1180.5h5m-2.5-2.5v5M206 1142.5h5m-2.5-2.5v5M206 1168.5h5m-2.5-2.5v5M206 1166.5h5m-2.5-2.5v5M206 1190.5h5m-2.5-2.5v5M206 1148.5h5m-2.5-2.5v5M206 1136.5h5m-2.5-2.5v5M207 1177.5h5m-2.5-2.5v5M207 1158.5h5m-2.5-2.5v5M207 1182.5h5m-2.5-2.5v5M207 1131.5h5m-2.5-2.5v5M207 1193.5h5m-2.5-2.5v5M208 1162.5h5m-2.5-2.5v5M208 1169.5h5m-2.5-2.5v5M208 1157.5h5m-2.5-2.5v5M208 1134.5h5m-2.5-2.5v5M209 1177.5h5m-2.5-2.5v5M209 1156.5h5m-2.5-2.5v5M209 1149.5h5m-2.5-2.5v5M210 1186.5h5m-2.5-2.5v5M210 1155.5h5m-2.5-2.5v5M210 1144.5h5m-2.5-2.5v5M210 1144.5h5m-2.5-2.5v5M210 1155.5h5m-2.5-2.5v5M210 1136.5h5m-2.5-2.5v5M210 1191.5h5m-2.5-2.5v5M211 1183.5h5m-2.5-2.5v5M211 1159.5h5m-2.5-2.5v5M211 1172.5h5m-2.5-2.5v5M211 1176.5h5m-2.5-2.5v5M212 1147.5h5m-2.5-2.5v5M212 1156.5h5m-2.5-2.5v5M212 1162.5h5m-2.5-2.5v5M212 1182.5h5m-2.5-2.5v5M213 1180.5h5m-2.5-2.5v5M213 1183.5h5m-2.5-2.5v5M214 1173.5h5m-2.5-2.5v5M215 1170.5h5m-2.5-2.5v5M215 1184.5h5m-2.5-2.5v5M216 1154.5h5m-2.5-2.5v5M216 1154.5h5m-2.5-2.5v5M216 1173.5h5m-2.5-2.5v5M216 1173.5h5m-2.5-2.5v5M216 1181.5h5m-2.5-2.5v5M216 1149.5h5m-2.5-2.5v5M216 1135.5h5m-2.5-2.5v5M217 1175.5h5m-2.5-2.5v5M217 1173.5h5m-2.5-2.5v5M217 1174.5h5m-2.5-2.5v5M217 1176.5h5m-2.5-2.5v5M218 1184.5h5m-2.5-2.5v5M219 1149.5h5m-2.5-2.5v5M219 1181.5h5m-2.5-2.5v5M219 1166.5h5m-2.5-2.5v5M219 1188.5h5m-2.5-2.5v5M219 1138.5h5m-2.5-2.5v5M220 1182.5h5m-2.5-2.5v5M221 1160.5h5m-2.5-2.5v5M221 1170.5h5m-2.5-2.5v5M222 1182.5h5m-2.5-2.5v5M222 1150.5h5m-2.5-2.5v5M222 1161.5h5m-2.5-2.5v5M222 1177.5h5m-2.5-2.5v5M222 1133.5h5m-2.5-2.5v5M222 1192.5h5m-2.5-2.5v5M223 1151.5h5m-2.5-2.5v5M223 1158.5h5m-2.5-2.5v5M223 1179.5h5m-2.5-2.5v5M223 1140.5h5m-2.5-2.5v5M224 1147.5h5m-2.5-2.5v5M224 1187.5h5m-2.5-2.5v5M224 1189.5h5m-2.5-2.5v5M224 1167.5h5m-2.5-2.5v5M224 1157.5h5m-2.5-2.5v5M224 1169.5h5m-2.5-2.5v5M225 1160.5h5m-2.5-2.5v5M225 1146.5h5m-2.5-2.5v5M226 1147.5h5m-2.5-2.5v5M226 1163.5h5m-2.5-2.5v5M226 1164.5h5m-2.5-2.5v5M226 1142.5h5m-2.5-2.5v5M226 1139.5h5m-2.5-2.5v5M227 1153.5h5m-2.5-2.5v5M227 1196.5h5m-2.5-2.5v5M228 1170.5h5m-2.5-2.5v5M229 1166.5h5m-2.5-2.5v5M229 1181.5h5m-2.5-2.5v5M229 1161.5h5m-2.5-2.5v5M229 1189.5h5m-2.5-2.5v5M229 1166.5h5m-2.5-2.5v5M229 1189.5h5m-2.5-2.5v5M229 1142.5h5m-2.5-2.5v5M230 1171.5h5m-2.5-2.5v5M230 1187.5h5m-2.5-2.5v5M230 1173.5h5m-2.5-2.5v5M230 1196.5h5m-2.5-2.5v5M231 1148.5h5m-2.5-2.5v5M231 1170.5h5m-2.5-2.5v5M231 1167.5h5m-2.5-2.5v5M231 1134.5h5m-2.5-2.5v5M232 1184.5h5m-2.5-2.5v5M232 1163.5h5m-2.5-2.5v5M232 1139.5h5m-2.5-2.5v5M233 1146.5h5m-2.5-2.5v5M233 1156.5h5m-2.5-2.5v5M233 1156.5h5m-2.5-2.5v5M233 1191.5h5m-2.5-2.5v5M234 1172.5h5m-2.5-2.5v5M234 1149.5h5m-2.5-2.5v5M234 1159.5h5m-2.5-2.5v5M234 1160.5h5m-2.5-2.5v5M234 1160.5h5m-2.5-2.5v5M234 1180.5h5m-2.5-2.5v5M234 1154.5h5m-2.5-2.5v5M234 1186.5h5m-2.5-2.5v5M235 1184.5h5m-2.5-2.5v5M235 1156.5h5m-2.5-2.5v5M235 1187.5h5m-2.5-2.5v5M235 1153.5h5m-2.5-2.5v5M235 1193.5h5m-2.5-2.5v5M236 1157.5h5m-2.5-2.5v5M236 1151.5h5m-2.5-2.5v5M236 1171.5h5m-2.5-2.5v5M237 1155.5h5m-2.5-2.5v5M237 1155.5h5m-2.5-2.5v5M237 1159.5h5m-2.5-2.5v5M237 1141.5h5m-2.5-2.5v5M238 1153.5h5m-2.5-2.5v5M238 1147.5h5m-2.5-2.5v5M239 1145.5h5m-2.5-2.5v5M239 1155.5h5m-2.5-2.5v5M239 1175.5h5m-2.5-2.5v5M239 1178.5h5m-2.5-2.5v5M239 1175.5h5m-2.5-2.5v5M239 1142.5h5m-2.5-2.5v5M240 1132.5h5m-2.5-2.5v5M241 1154.5h5m-2.5-2.5v5M241 1148.5h5m-2.5-2.5v5M241 1165.5h5m-2.5-2.5v5M242 1170.5h5m-2.5-2.5v5M242 1169.5h5m-2.5-2.5v5M242 1135.5h5m-2.5-2.5v5M243 1145.5h5m-2.5-2.5v5M244 1172.5h5m-2.5-2.5v5M244 1181.5h5m-2.5-2.5v5M244 1184.5h5m-2.5-2.5v5M244 1179.5h5m-2.5-2.5v5M245 1152.5h5m-2.5-2.5v5M245 1175.5h5m-2.5-2.5v5M245 1190.5h5m-2.5-2.5v5M245 1138.5h5m-2.5-2.5v5M245 1195.5h5m-2.5-2.5v5M246 1143.5h5m-2.5-2.5v5M247 1161.5h5m-2.5-2.5v5M247 1156.5h5m-2.5-2.5v5M247 1146.5h5m-2.5-2.5v5M247 1171.5h5m-2.5-2.5v5M248 1158.5h5m-2.5-2.5v5M248 1154.5h5m-2.5-2.5v5M248 1150.5h5m-2.5-2.5v5M248 1169.5h5m-2.5-2.5v5M249 1188.5h5m-2.5-2.5v5M249 1151.5h5m-2.5-2.5v5M249 1188.5h5m-2.5-2.5v5M249 1173.5h5m-2.5-2.5v5M249 1177.5h5m-2.5-2.5v5M249 1161.5h5m-2.5-2.5v5M249 1142.5h5m-2.5-2.5v5M249 1195.5h5m-2.5-2.5v5M250 1156.5h5m-2.5-2.5v5M250 1156.5h5m-2.5-2.5v5M250 1175.5h5m-2.5-2.5v5M250 1162.5h5m-2.5-2.5v5M250 1164.5h5m-2.5-2.5v5M250 1189.5h5m-2.5-2.5v5M250 1157.5h5m-2.5-2.5v5M251 1167.5h5m-2.5-2.5v5M251 1186.5h5m-2.5-2.5v5M251 1142.5h5m-2.5-2.5v5M251 1142.5h5m-2.5-2.5v5M251 1194.5h5m-2.5-2.5v5M252 1174.5h5m-2.5-2.5v5M252 1163.5h5m-2.5-2.5v5M252 1160.5h5m-2.5-2.5v5M252 1182.5h5m-2.5-2.5v5M253 1165.5h5m-2.5-2.5v5M253 1175.5h5m-2.5-2.5v5M253 1150.5h5m-2.5-2.5v5M253 1170.5h5m-2.5-2.5v5M253 1165.5h5m-2.5-2.5v5M253 1190.5h5m-2.5-2.5v5M254 1169.5h5m-2.5-2.5v5M254 1158.5h5m-2.5-2.5v5M254 1178.5h5m-2.5-2.5v5M255 1160.5h5m-2.5-2.5v5M255 1183.5h5m-2.5-2.5v5M255 1151.5h5m-2.5-2.5v5M255 1150.5h5m-2.5-2.5v5M255 1190.5h5m-2.5-2.5v5M256 1154.5h5m-2.5-2.5v5M256 1180.5h5m-2.5-2.5v5M256 1171.5h5m-2.5-2.5v5M256 1179.5h5m-2.5-2.5v5M256 1145.5h5m-2.5-2.5v5M257 1151.5h5m-2.5-2.5v5M257 1165.5h5m-2.5-2.5v5M257 1157.5h5m-2.5-2.5v5M257 1172.5h5m-2.5-2.5v5M258 1161.5h5m-2.5-2.5v5M258 1167.5h5m-2.5-2.5v5M258 1155.5h5m-2.5-2.5v5M259 1173.5h5m-2.5-2.5v5M259 1176.5h5m-2.5-2.5v5M259 1192.5h5m-2.5-2.5v5M260 1160.5h5m-2.5-2.5v5M260 1176.5h5m-2.5-2.5v5M260 1153.5h5m-2.5-2.5v5M260 1166.5h5m-2.5-2.5v5M260 1190.5h5m-2.5-2.5v5M261 1158.5h5m-2.5-2.5v5M261 1177.5h5m-2.5-2.5v5M261 1174.5h5m-2.5-2.5v5M261 1151.5h5m-2.5-2.5v5M261 1188.5h5m-2.5-2.5v5M262 1151.5h5m-2.5-2.5v5M262 1167.5h5m-2.5-2.5v5M262 1185.5h5m-2.5-2.5v5M263 1185.5h5m-2.5-2.5v5M264 1171.5h5m-2.5-2.5v5M264 1145.5h5m-2.5-2.5v5M264 1142.5h5m-2.5-2.5v5M265 1167.5h5m-2.5-2.5v5M265 1179.5h5m-2.5-2.5v5M265 1140.5h5m-2.5-2.5v5M266 1161.5h5m-2.5-2.5v5M266 1171.5h5m-2.5-2.5v5M266 1182.5h5m-2.5-2.5v5M267 1149.5h5m-2.5-2.5v5M267 1154.5h5m-2.5-2.5v5M267 1169.5h5m-2.5-2.5v5M267 1137.5h5m-2.5-2.5v5M268 1155.5h5m-2.5-2.5v5M268 1159.5h5m-2.5-2.5v5M269 1171.5h5m-2.5-2.5v5M269 1165.5h5m-2.5-2.5v5M270 1185.5h5m-2.5-2.5v5M270 1139.5h5m-2.5-2.5v5M271 1159.5h5m-2.5-2.5v5M271 1180.5h5m-2.5-2.5v5M272 1176.5h5m-2.5-2.5v5M272 1150.5h5m-2.5-2.5v5M272 1175.5h5m-2.5-2.5v5M272 1157.5h5m-2.5-2.5v5M272 1184.5h5m-2.5-2.5v5M272 1139.5h5m-2.5-2.5v5M273 1169.5h5m-2.5-2.5v5M273 1153.5h5m-2.5-2.5v5M273 1153.5h5m-2.5-2.5v5M274 1151.5h5m-2.5-2.5v5M274 1184.5h5m-2.5-2.5v5M275 1183.5h5m-2.5-2.5v5M275 1170.5h5m-2.5-2.5v5M275 1150.5h5m-2.5-2.5v5M276 1151.5h5m-2.5-2.5v5M277 1175.5h5m-2.5-2.5v5M277 1144.5h5m-2.5-2.5v5M278 1169.5h5m-2.5-2.5v5M278 1177.5h5m-2.5-2.5v5M278 1157.5h5m-2.5-2.5v5M279 1170.5h5m-2.5-2.5v5M279 1149.5h5m-2.5-2.5v5M279 1181.5h5m-2.5-2.5v5M279 1177.5h5m-2.5-2.5v5M279 1176.5h5m-2.5-2.5v5M280 1160.5h5m-2.5-2.5v5M280 1176.5h5m-2.5-2.5v5M281 1174.5h5m-2.5-2.5v5M281 1149.5h5m-2.5-2.5v5M281 1142.5h5m-2.5-2.5v5M281 1183.5h5m-2.5-2.5v5M282 1181.5h5m-2.5-2.5v5M282 1148.5h5m-2.5-2.5v5M283 1160.5h5m-2.5-2.5v5M283 1180.5h5m-2.5-2.5v5M283 1173.5h5m-2.5-2.5v5M283 1171.5h5m-2.5-2.5v5M283 1147.5h5m-2.5-2.5v5M284 1165.5h5m-2.5-2.5v5M284 1164.5h5m-2.5-2.5v5M284 1174.5h5m-2.5-2.5v5M285 1169.5h5m-2.5-2.5v5M286 1151.5h5m-2.5-2.5v5M286 1153.5h5m-2.5-2.5v5M286 1162.5h5m-2.5-2.5v5M286 1174.5h5m-2.5-2.5v5M286 1172.5h5m-2.5-2.5v5M286 1179.5h5m-2.5-2.5v5M287 1162.5h5m-2.5-2.5v5M287 1149.5h5m-2.5-2.5v5M288 1170.5h5m-2.5-2.5v5M288 1145.5h5m-2.5-2.5v5M288 1145.5h5m-2.5-2.5v5M289 1176.5h5m-2.5-2.5v5M289 1153.5h5m-2.5-2.5v5M289 1184.5h5m-2.5-2.5v5M291 1175.5h5m-2.5-2.5v5M291 1150.5h5m-2.5-2.5v5M291 1171.5h5m-2.5-2.5v5M292 1159.5h5m-2.5-2.5v5M292 1167.5h5m-2.5-2.5v5M292 1170.5h5m-2.5-2.5v5M292 1140.5h5m-2.5-2.5v5M292 1146.5h5m-2.5-2.5v5M293 1161.5h5m-2.5-2.5v5M294 1159.5h5m-2.5-2.5v5M295 1151.5h5m-2.5-2.5v5M295 1174.5h5m-2.5-2.5v5M295 1177.5h5m-2.5-2.5v5M296 1182.5h5m-2.5-2.5v5M297 1142.5h5m-2.5-2.5v5M298 1173.5h5m-2.5-2.5v5M298 1170.5h5m-2.5-2.5v5M299 1156.5h5m-2.5-2.5v5M300 1155.5h5m-2.5-2.5v5M300 1151.5h5m-2.5-2.5v5M301 1175.5h5m-2.5-2.5v5M301 1162.5h5m-2.5-2.5v5M301 1164.5h5m-2.5-2.5v5M301 1163.5h5m-2.5-2.5v5M301 1149.5h5m-2.5-2.5v5M301 1146.5h5m-2.5-2.5v5M302 1155.5h5m-2.5-2.5v5M302 1167.5h5m-2.5-2.5v5M302 1156.5h5m-2.5-2.5v5M302 1163.5h5m-2.5-2.5v5M303 1153.5h5m-2.5-2.5v5M305 1149.5h5m-2.5-2.5v5M306 1150.5h5m-2.5-2.5v5M306 1150.5h5m-2.5-2.5v5M307 1174.5h5m-2.5-2.5v5M308 1177.5h5m-2.5-2.5v5M309 1156.5h5m-2.5-2.5v5M310 1154.5h5m-2.5-2.5v5M311 1178.5h5m-2.5-2.5v5M313 1153.5h5m-2.5-2.5v5M314 1162.5h5m-2.5-2.5v5M314 1147.5h5m-2.5-2.5v5M315 1154.5h5m-2.5-2.5v5M315 1166.5h5m-2.5-2.5v5M316 1173.5h5m-2.5-2.5v5M316 1172.5h5m-2.5-2.5v5M317 1161.5h5m-2.5-2.5v5M317 1180.5h5m-2.5-2.5v5M318 1158.5h5m-2.5-2.5v5M319 1176.5h5m-2.5-2.5v5M320 1154.5h5m-2.5-2.5v5M320 1154.5h5m-2.5-2.5v5M321 1154.5h5m-2.5-2.5v5M321 1168.5h5m-2.5-2.5v5M321 1158.5h5m-2.5-2.5v5M324 1146.5h5m-2.5-2.5v5M324 1148.5h5m-2.5-2.5v5M324 1176.5h5m-2.5-2.5v5M325 1178.5h5m-2.5-2.5v5M326 1156.5h5m-2.5-2.5v5M327 1163.5h5m-2.5-2.5v5M327 1149.5h5m-2.5-2.5v5M328 1157.5h5m-2.5-2.5v5M328 1163.5h5m-2.5-2.5v5M328 1160.5h5m-2.5-2.5v5M328 1151.5h5m-2.5-2.5v5M329 1164.5h5m-2.5-2.5v5M330 1156.5h5m-2.5-2.5v5M330 1143.5h5m-2.5-2.5v5M330 1147.5h5m-2.5-2.5v5M332 1157.5h5m-2.5-2.5v5M332 1179.5h5m-2.5-2.5v5M333 1169.5h5m-2.5-2.5v5M333 1167.5h5m-2.5-2.5v5M333 1153.5h5m-2.5-2.5v5M333 1151.5h5m-2.5-2.5v5M334 1169.5h5m-2.5-2.5v5M334 1155.5h5m-2.5-2.5v5M335 1159.5h5m-2.5-2.5v5M336 1176.5h5m-2.5-2.5v5M336 1179.5h5m-2.5-2.5v5M337 1173.5h5m-2.5-2.5v5M338 1168.5h5m-2.5-2.5v5M338 1166.5h5m-2.5-2.5v5M338 1172.5h5m-2.5-2.5v5M339 1159.5h5m-2.5-2.5v5M341 1161.5h5m-2.5-2.5v5M342 1158.5h5m-2.5-2.5v5M343 1172.5h5m-2.5-2.5v5M344 1171.5h5m-2.5-2.5v5M344 1165.5h5m-2.5-2.5v5M347 1169.5h5m-2.5-2.5v5M347 1170.5h5m-2.5-2.5v5M348 1166.5h5m-2.5-2.5v5M350 1161.5h5m-2.5-2.5v5M351 1175.5h5m-2.5-2.5v5M354 1162.5h5m-2.5-2.5v5M356 1162.5h5m-2.5-2.5v5M357 1163.5h5m-2.5-2.5v5M357 1148.5h5m-2.5-2.5v5M359 1153.5h5m-2.5-2.5v5M362 1169.5h5m-2.5-2.5v5M362 1157.5h5m-2.5-2.5v5M363 1168.5h5m-2.5-2.5v5M365 1159.5h5m-2.5-2.5v5M365 1174.5h5m-2.5-2.5v5M367 1170.5h5m-2.5-2.5v5M368 1152.5h5m-2.5-2.5v5M369 1169.5h5m-2.5-2.5v5M371 1165.5h5m-2.5-2.5v5M371 1158.5h5m-2.5-2.5v5M371 1174.5h5m-2.5-2.5v5M380 1155.5h5m-2.5-2.5v5M382 1165.5h5m-2.5-2.5v5M383 1156.5h5m-2.5-2.5v5M383 1157.5h5m-2.5-2.5v5M390 1168.5h5m-2.5-2.5v5M392 1165.5h5m-2.5-2.5v5M396 1170.5h5m-2.5-2.5v5M396 1155.5h5m-2.5-2.5v5M400 1173.5h5m-2.5-2.5v5M401 1163.5h5m-2.5-2.5v5M402 1170.5h5m-2.5-2.5v5M402 1167.5h5m-2.5-2.5v5M404 1172.5h5m-2.5-2.5v5M409 1176.5h5m-2.5-2.5v5M415 1162.5h5m-2.5-2.5v5M418 1175.5h5m-2.5-2.5v5M419 1165.5h5m-2.5-2.5v5M421 1164.5h5m-2.5-2.5v5M423 1166.5h5m-2.5-2.5v5M441 1173.5h5m-2.5-2.5v5M105 1187.5h5m-2.5-2.5v5M64 1157.5h5m-2.5-2.5v5M97 1177.5h5m-2.5-2.5v5M74 1159.5h5m-2.5-2.5v5M70 1158.5h5m-2.5-2.5v5M88 1168.5h5m-2.5-2.5v5M93 1169.5h5m-2.5-2.5v5M97 1174.5h5m-2.5-2.5v5M83 1165.5h5m-2.5-2.5v5M82 1166.5h5m-2.5-2.5v5M105 1186.5h5m-2.5-2.5v5M66 1157.5h5m-2.5-2.5v5M104 1186.5h5m-2.5-2.5v5M73 1162.5h5m-2.5-2.5v5M99 1183.5h5m-2.5-2.5v5M83 1160.5h5m-2.5-2.5v5M69 1160.5h5m-2.5-2.5v5M91 1176.5h5m-2.5-2.5v5M105 1186.5h5m-2.5-2.5v5M87 1174.5h5m-2.5-2.5v5M64 1145.5h5m-2.5-2.5v5M108 1189.5h5m-2.5-2.5v5M91 1177.5h5m-2.5-2.5v5M88 1173.5h5m-2.5-2.5v5M70 1151.5h5m-2.5-2.5v5M82 1169.5h5m-2.5-2.5v5M171 1117.5h5m-2.5-2.5v5M428 1156.5h5m-2.5-2.5v5M399 1147.5h5m-2.5-2.5v5M113 1111.5h5m-2.5-2.5v5M359 1122.5h5m-2.5-2.5v5M220 1191.5h5m-2.5-2.5v5M333 1100.5h5m-2.5-2.5v5M80 1114.5h5m-2.5-2.5v5M403 1153.5h5m-2.5-2.5v5M258 1116.5h5m-2.5-2.5v5M350 1179.5h5m-2.5-2.5v5M218 1096.5h5m-2.5-2.5v5M217 1102.5h5m-2.5-2.5v5M70 1153.5h5m-2.5-2.5v5M163 1096.5h5m-2.5-2.5v5M383 1145.5h5m-2.5-2.5v5M354 1132.5h5m-2.5-2.5v5M255 1071.5h5m-2.5-2.5v5M194 1117.5h5m-2.5-2.5v5M178 1202.5h5m-2.5-2.5v5M316 1126.5h5m-2.5-2.5v5M339 1091.5h5m-2.5-2.5v5M378 1176.5h5m-2.5-2.5v5M111 1113.5h5m-2.5-2.5v5M337 1091.5h5m-2.5-2.5v5M90 1157.5h5m-2.5-2.5v5M264 1100.5h5m-2.5-2.5v5M335 1177.5h5m-2.5-2.5v5M178 1124.5h5m-2.5-2.5v5M225 1119.5h5m-2.5-2.5v5M227 1101.5h5m-2.5-2.5v5M188 1125.5h5m-2.5-2.5v5M233 1109.5h5m-2.5-2.5v5M310 1187.5h5m-2.5-2.5v5M199 1112.5h5m-2.5-2.5v5M229 1114.5h5m-2.5-2.5v5M181 1118.5h5m-2.5-2.5v5M253 1198.5h5m-2.5-2.5v5M324 1091.5h5m-2.5-2.5v5M466 1158.5h5m-2.5-2.5v5M408 1128.5h5m-2.5-2.5v5M78 1153.5h5m-2.5-2.5v5M193 1205.5h5m-2.5-2.5v5M291 1127.5h5m-2.5-2.5v5M152 1122.5h5m-2.5-2.5v5M369 1173.5h5m-2.5-2.5v5M427 1175.5h5m-2.5-2.5v5M355 1101.5h5m-2.5-2.5v5M444 1177.5h5m-2.5-2.5v5M233 1198.5h5m-2.5-2.5v5M445 1176.5h5m-2.5-2.5v5M112 1105.5h5m-2.5-2.5v5M163 1196.5h5m-2.5-2.5v5M303 1103.5h5m-2.5-2.5v5M371 1133.5h5m-2.5-2.5v5M295 1082.5h5m-2.5-2.5v5M72 1120.5h5m-2.5-2.5v5M254 1116.5h5m-2.5-2.5v5M284 1181.5h5m-2.5-2.5v5M262 1051.5h5m-2.5-2.5v5M369 1113.5h5m-2.5-2.5v5M190 1199.5h5m-2.5-2.5v5M305 1101.5h5m-2.5-2.5v5M394 1175.5h5m-2.5-2.5v5M257 1099.5h5m-2.5-2.5v5M251 1102.5h5m-2.5-2.5v5M240 1065.5h5m-2.5-2.5v5M256 1091.5h5m-2.5-2.5v5M262 1102.5h5m-2.5-2.5v5M167 1101.5h5m-2.5-2.5v5M180 1119.5h5m-2.5-2.5v5M184 1128.5h5m-2.5-2.5v5M172 1122.5h5m-2.5-2.5v5M168 1133.5h5m-2.5-2.5v5M118 1121.5h5m-2.5-2.5v5M120 1127.5h5m-2.5-2.5v5M116 1126.5h5m-2.5-2.5v5M114 1102.5h5m-2.5-2.5v5M113 1106.5h5m-2.5-2.5v5M115 1124.5h5m-2.5-2.5v5M110 1103.5h5m-2.5-2.5v5M114 1126.5h5m-2.5-2.5v5M120 1127.5h5m-2.5-2.5v5M116 1120.5h5m-2.5-2.5v5M110 1109.5h5m-2.5-2.5v5" stroke="#444" stroke-opacity="0.56" stroke-width="1.2" fill="none"/>
<path d="M64 1136.5h5m-2.5-2.5v5M65 1126.5h5m-2.5-2.5v5M66 1140.5h5m-2.5-2.5v5M66 1155.5h5m-2.5-2.5v5M67 1129.5h5m-2.5-2.5v5M67 1130.5h5m-2.5-2.5v5M69 1146.5h5m-2.5-2.5v5M69 1145.5h5m-2.5-2.5v5M71 1140.5h5m-2.5-2.5v5M71 1137.5h5m-2.5-2.5v5M72 1140.5h5m-2.5-2.5v5M72 1147.5h5m-2.5-2.5v5M74 1144.5h5m-2.5-2.5v5M75 1145.5h5m-2.5-2.5v5M75 1122.5h5m-2.5-2.5v5M76 1129.5h5m-2.5-2.5v5M76 1133.5h5m-2.5-2.5v5M76 1142.5h5m-2.5-2.5v5M76 1138.5h5m-2.5-2.5v5M77 1131.5h5m-2.5-2.5v5M77 1141.5h5m-2.5-2.5v5M79 1132.5h5m-2.5-2.5v5M79 1142.5h5m-2.5-2.5v5M80 1129.5h5m-2.5-2.5v5M81 1148.5h5m-2.5-2.5v5M81 1132.5h5m-2.5-2.5v5M82 1126.5h5m-2.5-2.5v5M82 1155.5h5m-2.5-2.5v5M84 1130.5h5m-2.5-2.5v5M84 1140.5h5m-2.5-2.5v5M84 1128.5h5m-2.5-2.5v5M86 1158.5h5m-2.5-2.5v5M87 1146.5h5m-2.5-2.5v5M87 1156.5h5m-2.5-2.5v5M89 1155.5h5m-2.5-2.5v5M89 1142.5h5m-2.5-2.5v5M89 1131.5h5m-2.5-2.5v5M89 1145.5h5m-2.5-2.5v5M89 1133.5h5m-2.5-2.5v5M89 1166.5h5m-2.5-2.5v5M90 1142.5h5m-2.5-2.5v5M90 1155.5h5m-2.5-2.5v5M91 1138.5h5m-2.5-2.5v5M91 1165.5h5m-2.5-2.5v5M93 1138.5h5m-2.5-2.5v5M93 1167.5h5m-2.5-2.5v5M94 1159.5h5m-2.5-2.5v5M97 1144.5h5m-2.5-2.5v5M97 1148.5h5m-2.5-2.5v5M97 1134.5h5m-2.5-2.5v5M98 1135.5h5m-2.5-2.5v5M98 1162.5h5m-2.5-2.5v5M101 1149.5h5m-2.5-2.5v5M101 1147.5h5m-2.5-2.5v5M102 1172.5h5m-2.5-2.5v5M102 1137.5h5m-2.5-2.5v5M102 1147.5h5m-2.5-2.5v5M102 1150.5h5m-2.5-2.5v5M102 1138.5h5m-2.5-2.5v5M103 1173.5h5m-2.5-2.5v5M104 1157.5h5m-2.5-2.5v5M104 1153.5h5m-2.5-2.5v5M104 1153.5h5m-2.5-2.5v5M105 1168.5h5m-2.5-2.5v5M106 1173.5h5m-2.5-2.5v5M107 1161.5h5m-2.5-2.5v5M107 1134.5h5m-2.5-2.5v5M107 1155.5h5m-2.5-2.5v5M107 1133.5h5m-2.5-2.5v5M108 1142.5h5m-2.5-2.5v5M108 1187.5h5m-2.5-2.5v5M109 1186.5h5m-2.5-2.5v5M109 1146.5h5m-2.5-2.5v5M109 1143.5h5m-2.5-2.5v5M109 1156.5h5m-2.5-2.5v5M109 1149.5h5m-2.5-2.5v5M109 1137.5h5m-2.5-2.5v5M109 1127.5h5m-2.5-2.5v5M110 1125.5h5m-2.5-2.5v5M111 1147.5h5m-2.5-2.5v5M111 1140.5h5m-2.5-2.5v5M111 1128.5h5m-2.5-2.5v5M111 1186.5h5m-2.5-2.5v5M111 1127.5h5m-2.5-2.5v5M112 1133.5h5m-2.5-2.5v5M112 1157.5h5m-2.5-2.5v5M112 1197.5h5m-2.5-2.5v5M113 1157.5h5m-2.5-2.5v5M113 1157.5h5m-2.5-2.5v5M113 1179.5h5m-2.5-2.5v5M113 1140.5h5m-2.5-2.5v5M113 1156.5h5m-2.5-2.5v5M113 1179.5h5m-2.5-2.5v5M113 1171.5h5m-2.5-2.5v5M113 1138.5h5m-2.5-2.5v5M114 1137.5h5m-2.5-2.5v5M114 1178.5h5m-2.5-2.5v5M114 1186.5h5m-2.5-2.5v5M115 1135.5h5m-2.5-2.5v5M116 1155.5h5m-2.5-2.5v5M116 1137.5h5m-2.5-2.5v5M116 1151.5h5m-2.5-2.5v5M117 1138.5h5m-2.5-2.5v5M117 1162.5h5m-2.5-2.5v5M118 1165.5h5m-2.5-2.5v5M118 1152.5h5m-2.5-2.5v5M118 1159.5h5m-2.5-2.5v5M118 1161.5h5m-2.5-2.5v5M118 1179.5h5m-2.5-2.5v5M119 1131.5h5m-2.5-2.5v5M120 1183.5h5m-2.5-2.5v5M120 1161.5h5m-2.5-2.5v5M120 1179.5h5m-2.5-2.5v5M120 1153.5h5m-2.5-2.5v5M120 1147.5h5m-2.5-2.5v5M120 1130.5h5m-2.5-2.5v5M120 1160.5h5m-2.5-2.5v5M120 1124.5h5m-2.5-2.5v5M121 1161.5h5m-2.5-2.5v5M121 1170.5h5m-2.5-2.5v5M121 1177.5h5m-2.5-2.5v5M121 1171.5h5m-2.5-2.5v5M121 1140.5h5m-2.5-2.5v5M121 1120.5h5m-2.5-2.5v5M122 1137.5h5m-2.5-2.5v5M122 1138.5h5m-2.5-2.5v5M122 1164.5h5m-2.5-2.5v5M123 1141.5h5m-2.5-2.5v5M124 1175.5h5m-2.5-2.5v5M124 1145.5h5m-2.5-2.5v5M124 1136.5h5m-2.5-2.5v5M124 1157.5h5m-2.5-2.5v5M125 1124.5h5m-2.5-2.5v5M126 1164.5h5m-2.5-2.5v5M126 1141.5h5m-2.5-2.5v5M126 1142.5h5m-2.5-2.5v5M127 1139.5h5m-2.5-2.5v5M127 1173.5h5m-2.5-2.5v5M127 1161.5h5m-2.5-2.5v5M128 1140.5h5m-2.5-2.5v5M128 1149.5h5m-2.5-2.5v5M128 1162.5h5m-2.5-2.5v5M128 1155.5h5m-2.5-2.5v5M128 1152.5h5m-2.5-2.5v5M128 1153.5h5m-2.5-2.5v5M128 1152.5h5m-2.5-2.5v5M129 1162.5h5m-2.5-2.5v5M129 1168.5h5m-2.5-2.5v5M129 1180.5h5m-2.5-2.5v5M129 1152.5h5m-2.5-2.5v5M129 1181.5h5m-2.5-2.5v5M129 1135.5h5m-2.5-2.5v5M129 1175.5h5m-2.5-2.5v5M130 1136.5h5m-2.5-2.5v5M130 1173.5h5m-2.5-2.5v5M131 1173.5h5m-2.5-2.5v5M131 1182.5h5m-2.5-2.5v5M131 1150.5h5m-2.5-2.5v5M131 1179.5h5m-2.5-2.5v5M131 1131.5h5m-2.5-2.5v5M132 1143.5h5m-2.5-2.5v5M132 1145.5h5m-2.5-2.5v5M132 1149.5h5m-2.5-2.5v5M132 1171.5h5m-2.5-2.5v5M133 1163.5h5m-2.5-2.5v5M133 1175.5h5m-2.5-2.5v5M133 1159.5h5m-2.5-2.5v5M133 1147.5h5m-2.5-2.5v5M133 1129.5h5m-2.5-2.5v5M133 1134.5h5m-2.5-2.5v5M133 1187.5h5m-2.5-2.5v5M134 1175.5h5m-2.5-2.5v5M134 1170.5h5m-2.5-2.5v5M134 1159.5h5m-2.5-2.5v5M134 1173.5h5m-2.5-2.5v5M134 1158.5h5m-2.5-2.5v5M135 1169.5h5m-2.5-2.5v5M135 1149.5h5m-2.5-2.5v5M135 1144.5h5m-2.5-2.5v5M135 1158.5h5m-2.5-2.5v5M136 1159.5h5m-2.5-2.5v5M136 1159.5h5m-2.5-2.5v5M136 1142.5h5m-2.5-2.5v5M136 1185.5h5m-2.5-2.5v5M136 1142.5h5m-2.5-2.5v5M137 1153.5h5m-2.5-2.5v5M137 1138.5h5m-2.5-2.5v5M137 1188.5h5m-2.5-2.5v5M138 1166.5h5m-2.5-2.5v5M138 1175.5h5m-2.5-2.5v5M138 1147.5h5m-2.5-2.5v5M138 1162.5h5m-2.5-2.5v5M138 1151.5h5m-2.5-2.5v5M138 1161.5h5m-2.5-2.5v5M139 1150.5h5m-2.5-2.5v5M139 1180.5h5m-2.5-2.5v5M139 1186.5h5m-2.5-2.5v5M139 1182.5h5m-2.5-2.5v5M139 1148.5h5m-2.5-2.5v5M140 1171.5h5m-2.5-2.5v5M140 1175.5h5m-2.5-2.5v5M140 1170.5h5m-2.5-2.5v5M140 1146.5h5m-2.5-2.5v5M140 1164.5h5m-2.5-2.5v5M140 1161.5h5m-2.5-2.5v5M141 1160.5h5m-2.5-2.5v5M141 1139.5h5m-2.5-2.5v5M141 1141.5h5m-2.5-2.5v5M141 1142.5h5m-2.5-2.5v5M141 1136.5h5m-2.5-2.5v5M142 1185.5h5m-2.5-2.5v5M142 1144.5h5m-2.5-2.5v5M142 1159.5h5m-2.5-2.5v5M142 1174.5h5m-2.5-2.5v5M142 1147.5h5m-2.5-2.5v5M142 1157.5h5m-2.5-2.5v5M143 1180.5h5m-2.5-2.5v5M144 1160.5h5m-2.5-2.5v5M144 1153.5h5m-2.5-2.5v5M144 1165.5h5m-2.5-2.5v5M144 1165.5h5m-2.5-2.5v5M144 1143.5h5m-2.5-2.5v5M144 1156.5h5m-2.5-2.5v5M145 1169.5h5m-2.5-2.5v5M145 1170.5h5m-2.5-2.5v5M145 1187.5h5m-2.5-2.5v5M146 1147.5h5m-2.5-2.5v5M146 1182.5h5m-2.5-2.5v5M146 1166.5h5m-2.5-2.5v5M146 1130.5h5m-2.5-2.5v5M147 1155.5h5m-2.5-2.5v5M147 1162.5h5m-2.5-2.5v5M148 1148.5h5m-2.5-2.5v5M148 1175.5h5m-2.5-2.5v5M148 1148.5h5m-2.5-2.5v5M148 1156.5h5m-2.5-2.5v5M148 1159.5h5m-2.5-2.5v5M148 1170.5h5m-2.5-2.5v5M149 1175.5h5m-2.5-2.5v5M150 1170.5h5m-2.5-2.5v5M150 1178.5h5m-2.5-2.5v5M150 1180.5h5m-2.5-2.5v5M150 1144.5h5m-2.5-2.5v5M150 1177.5h5m-2.5-2.5v5M150 1180.5h5m-2.5-2.5v5M151 1182.5h5m-2.5-2.5v5M151 1146.5h5m-2.5-2.5v5M151 1143.5h5m-2.5-2.5v5M152 1188.5h5m-2.5-2.5v5M153 1162.5h5m-2.5-2.5v5M154 1178.5h5m-2.5-2.5v5M154 1161.5h5m-2.5-2.5v5M154 1139.5h5m-2.5-2.5v5M154 1185.5h5m-2.5-2.5v5M154 1164.5h5m-2.5-2.5v5M155 1156.5h5m-2.5-2.5v5M155 1144.5h5m-2.5-2.5v5M155 1143.5h5m-2.5-2.5v5M155 1148.5h5m-2.5-2.5v5M155 1158.5h5m-2.5-2.5v5M156 1148.5h5m-2.5-2.5v5M156 1162.5h5m-2.5-2.5v5M156 1157.5h5m-2.5-2.5v5M156 1170.5h5m-2.5-2.5v5M156 1166.5h5m-2.5-2.5v5M156 1134.5h5m-2.5-2.5v5M157 1182.5h5m-2.5-2.5v5M157 1155.5h5m-2.5-2.5v5M157 1146.5h5m-2.5-2.5v5M157 1142.5h5m-2.5-2.5v5M158 1183.5h5m-2.5-2.5v5M158 1146.5h5m-2.5-2.5v5M158 1178.5h5m-2.5-2.5v5M158 1148.5h5m-2.5-2.5v5M158 1156.5h5m-2.5-2.5v5M159 1166.5h5m-2.5-2.5v5M159 1174.5h5m-2.5-2.5v5M159 1160.5h5m-2.5-2.5v5M159 1146.5h5m-2.5-2.5v5M160 1151.5h5m-2.5-2.5v5M160 1148.5h5m-2.5-2.5v5M160 1179.5h5m-2.5-2.5v5M160 1155.5h5m-2.5-2.5v5M160 1146.5h5m-2.5-2.5v5M161 1140.5h5m-2.5-2.5v5M161 1171.5h5m-2.5-2.5v5M161 1179.5h5m-2.5-2.5v5M161 1142.5h5m-2.5-2.5v5M161 1142.5h5m-2.5-2.5v5M161 1166.5h5m-2.5-2.5v5M161 1133.5h5m-2.5-2.5v5M161 1187.5h5m-2.5-2.5v5M162 1159.5h5m-2.5-2.5v5M162 1142.5h5m-2.5-2.5v5M162 1142.5h5m-2.5-2.5v5M162 1142.5h5m-2.5-2.5v5M163 1159.5h5m-2.5-2.5v5M163 1181.5h5m-2.5-2.5v5M163 1164.5h5m-2.5-2.5v5M163 1186.5h5m-2.5-2.5v5M163 1179.5h5m-2.5-2.5v5M163 1149.5h5m-2.5-2.5v5M163 1138.5h5m-2.5-2.5v5M164 1164.5h5m-2.5-2.5v5M164 1166.5h5m-2.5-2.5v5M164 1150.5h5m-2.5-2.5v5M164 1147.5h5m-2.5-2.5v5M165 1175.5h5m-2.5-2.5v5M165 1161.5h5m-2.5-2.5v5M165 1160.5h5m-2.5-2.5v5M165 1163.5h5m-2.5-2.5v5M165 1172.5h5m-2.5-2.5v5M165 1169.5h5m-2.5-2.5v5M166 1167.5h5m-2.5-2.5v5M166 1175.5h5m-2.5-2.5v5M166 1179.5h5m-2.5-2.5v5M167 1180.5h5m-2.5-2.5v5M167 1162.5h5m-2.5-2.5v5M168 1148.5h5m-2.5-2.5v5M168 1156.5h5m-2.5-2.5v5M168 1156.5h5m-2.5-2.5v5M168 1182.5h5m-2.5-2.5v5M168 1186.5h5m-2.5-2.5v5M169 1146.5h5m-2.5-2.5v5M169 1158.5h5m-2.5-2.5v5M169 1151.5h5m-2.5-2.5v5M169 1163.5h5m-2.5-2.5v5M169 1159.5h5m-2.5-2.5v5M170 1180.5h5m-2.5-2.5v5M170 1142.5h5m-2.5-2.5v5M170 1152.5h5m-2.5-2.5v5M170 1166.5h5m-2.5-2.5v5M170 1182.5h5m-2.5-2.5v5M170 1177.5h5m-2.5-2.5v5M170 1163.5h5m-2.5-2.5v5M170 1144.5h5m-2.5-2.5v5M170 1180.5h5m-2.5-2.5v5M171 1158.5h5m-2.5-2.5v5M171 1172.5h5m-2.5-2.5v5M171 1185.5h5m-2.5-2.5v5M171 1162.5h5m-2.5-2.5v5M171 1157.5h5m-2.5-2.5v5M171 1173.5h5m-2.5-2.5v5M171 1142.5h5m-2.5-2.5v5M171 1181.5h5m-2.5-2.5v5M171 1146.5h5m-2.5-2.5v5M171 1146.5h5m-2.5-2.5v5M171 1138.5h5m-2.5-2.5v5M172 1149.5h5m-2.5-2.5v5M172 1171.5h5m-2.5-2.5v5M172 1165.5h5m-2.5-2.5v5M172 1156.5h5m-2.5-2.5v5M172 1143.5h5m-2.5-2.5v5M172 1145.5h5m-2.5-2.5v5M173 1177.5h5m-2.5-2.5v5M174 1164.5h5m-2.5-2.5v5M174 1180.5h5m-2.5-2.5v5M174 1182.5h5m-2.5-2.5v5M174 1167.5h5m-2.5-2.5v5M174 1173.5h5m-2.5-2.5v5M174 1134.5h5m-2.5-2.5v5M175 1145.5h5m-2.5-2.5v5M175 1160.5h5m-2.5-2.5v5M175 1168.5h5m-2.5-2.5v5M175 1152.5h5m-2.5-2.5v5M175 1139.5h5m-2.5-2.5v5M175 1139.5h5m-2.5-2.5v5M176 1171.5h5m-2.5-2.5v5M176 1151.5h5m-2.5-2.5v5M176 1169.5h5m-2.5-2.5v5M176 1160.5h5m-2.5-2.5v5M176 1176.5h5m-2.5-2.5v5M176 1178.5h5m-2.5-2.5v5M177 1184.5h5m-2.5-2.5v5M177 1159.5h5m-2.5-2.5v5M177 1143.5h5m-2.5-2.5v5M177 1137.5h5m-2.5-2.5v5M178 1154.5h5m-2.5-2.5v5M178 1167.5h5m-2.5-2.5v5M178 1156.5h5m-2.5-2.5v5M179 1176.5h5m-2.5-2.5v5M179 1155.5h5m-2.5-2.5v5M179 1168.5h5m-2.5-2.5v5M179 1143.5h5m-2.5-2.5v5M179 1138.5h5m-2.5-2.5v5M180 1174.5h5m-2.5-2.5v5M180 1143.5h5m-2.5-2.5v5M180 1191.5h5m-2.5-2.5v5M181 1170.5h5m-2.5-2.5v5M182 1143.5h5m-2.5-2.5v5M182 1186.5h5m-2.5-2.5v5M182 1143.5h5m-2.5-2.5v5M182 1140.5h5m-2.5-2.5v5M183 1177.5h5m-2.5-2.5v5M183 1175.5h5m-2.5-2.5v5M183 1188.5h5m-2.5-2.5v5M183 1157.5h5m-2.5-2.5v5M183 1146.5h5m-2.5-2.5v5M183 1153.5h5m-2.5-2.5v5M184 1170.5h5m-2.5-2.5v5M184 1169.5h5m-2.5-2.5v5M184 1138.5h5m-2.5-2.5v5M184 1190.5h5m-2.5-2.5v5M185 1174.5h5m-2.5-2.5v5M186 1143.5h5m-2.5-2.5v5M186 1147.5h5m-2.5-2.5v5M186 1180.5h5m-2.5-2.5v5M186 1187.5h5m-2.5-2.5v5M187 1150.5h5m-2.5-2.5v5M187 1148.5h5m-2.5-2.5v5M188 1148.5h5m-2.5-2.5v5M188 1150.5h5m-2.5-2.5v5M189 1143.5h5m-2.5-2.5v5M189 1187.5h5m-2.5-2.5v5M189 1141.5h5m-2.5-2.5v5M189 1183.5h5m-2.5-2.5v5M190 1153.5h5m-2.5-2.5v5M190 1168.5h5m-2.5-2.5v5M190 1139.5h5m-2.5-2.5v5M190 1140.5h5m-2.5-2.5v5M191 1144.5h5m-2.5-2.5v5M191 1178.5h5m-2.5-2.5v5M191 1154.5h5m-2.5-2.5v5M191 1142.5h5m-2.5-2.5v5M191 1153.5h5m-2.5-2.5v5M192 1183.5h5m-2.5-2.5v5M192 1154.5h5m-2.5-2.5v5M192 1160.5h5m-2.5-2.5v5M192 1168.5h5m-2.5-2.5v5M192 1187.5h5m-2.5-2.5v5M192 1133.5h5m-2.5-2.5v5M193 1151.5h5m-2.5-2.5v5M193 1154.5h5m-2.5-2.5v5M194 1145.5h5m-2.5-2.5v5M194 1185.5h5m-2.5-2.5v5M194 1148.5h5m-2.5-2.5v5M195 1151.5h5m-2.5-2.5v5M195 1170.5h5m-2.5-2.5v5M195 1186.5h5m-2.5-2.5v5M195 1145.5h5m-2.5-2.5v5M195 1132.5h5m-2.5-2.5v5M196 1188.5h5m-2.5-2.5v5M196 1169.5h5m-2.5-2.5v5M196 1176.5h5m-2.5-2.5v5M196 1147.5h5m-2.5-2.5v5M196 1189.5h5m-2.5-2.5v5M196 1151.5h5m-2.5-2.5v5M197 1187.5h5m-2.5-2.5v5M197 1163.5h5m-2.5-2.5v5M198 1189.5h5m-2.5-2.5v5M198 1168.5h5m-2.5-2.5v5M198 1186.5h5m-2.5-2.5v5M198 1151.5h5m-2.5-2.5v5M198 1189.5h5m-2.5-2.5v5M199 1177.5h5m-2.5-2.5v5M199 1189.5h5m-2.5-2.5v5M200 1147.5h5m-2.5-2.5v5M200 1184.5h5m-2.5-2.5v5M200 1147.5h5m-2.5-2.5v5M201 1172.5h5m-2.5-2.5v5M201 1189.5h5m-2.5-2.5v5M201 1184.5h5m-2.5-2.5v5M201 1191.5h5m-2.5-2.5v5M202 1143.5h5m-2.5-2.5v5M202 1180.5h5m-2.5-2.5v5M202 1143.5h5m-2.5-2.5v5M202 1180.5h5m-2.5-2.5v5M202 1146.5h5m-2.5-2.5v5M202 1168.5h5m-2.5-2.5v5M202 1153.5h5m-2.5-2.5v5M202 1191.5h5m-2.5-2.5v5M203 1142.5h5m-2.5-2.5v5M203 1188.5h5m-2.5-2.5v5M203 1141.5h5m-2.5-2.5v5M204 1170.5h5m-2.5-2.5v5M204 1150.5h5m-2.5-2.5v5M204 1136.5h5m-2.5-2.5v5M204 1192.5h5m-2.5-2.5v5M205 1145.5h5m-2.5-2.5v5M205 1148.5h5m-2.5-2.5v5M205 1142.5h5m-2.5-2.5v5M206 1181.5h5m-2.5-2.5v5M206 1142.5h5m-2.5-2.5v5M206 1176.5h5m-2.5-2.5v5M206 1196.5h5m-2.5-2.5v5M206 1192.5h5m-2.5-2.5v5M207 1158.5h5m-2.5-2.5v5M207 1169.5h5m-2.5-2.5v5M207 1132.5h5m-2.5-2.5v5M207 1133.5h5m-2.5-2.5v5M208 1180.5h5m-2.5-2.5v5M208 1178.5h5m-2.5-2.5v5M208 1162.5h5m-2.5-2.5v5M209 1153.5h5m-2.5-2.5v5M209 1149.5h5m-2.5-2.5v5M209 1176.5h5m-2.5-2.5v5M209 1184.5h5m-2.5-2.5v5M209 1157.5h5m-2.5-2.5v5M209 1144.5h5m-2.5-2.5v5M209 1171.5h5m-2.5-2.5v5M209 1163.5h5m-2.5-2.5v5M210 1153.5h5m-2.5-2.5v5M210 1178.5h5m-2.5-2.5v5M210 1169.5h5m-2.5-2.5v5M211 1159.5h5m-2.5-2.5v5M212 1194.5h5m-2.5-2.5v5M213 1163.5h5m-2.5-2.5v5M213 1172.5h5m-2.5-2.5v5M214 1183.5h5m-2.5-2.5v5M214 1179.5h5m-2.5-2.5v5M214 1138.5h5m-2.5-2.5v5M214 1193.5h5m-2.5-2.5v5M215 1166.5h5m-2.5-2.5v5M215 1162.5h5m-2.5-2.5v5M215 1171.5h5m-2.5-2.5v5M215 1170.5h5m-2.5-2.5v5M215 1195.5h5m-2.5-2.5v5M216 1167.5h5m-2.5-2.5v5M216 1171.5h5m-2.5-2.5v5M216 1150.5h5m-2.5-2.5v5M216 1138.5h5m-2.5-2.5v5M217 1144.5h5m-2.5-2.5v5M217 1169.5h5m-2.5-2.5v5M217 1188.5h5m-2.5-2.5v5M217 1160.5h5m-2.5-2.5v5M217 1128.5h5m-2.5-2.5v5M217 1139.5h5m-2.5-2.5v5M217 1191.5h5m-2.5-2.5v5M218 1180.5h5m-2.5-2.5v5M218 1174.5h5m-2.5-2.5v5M218 1172.5h5m-2.5-2.5v5M219 1156.5h5m-2.5-2.5v5M219 1172.5h5m-2.5-2.5v5M219 1174.5h5m-2.5-2.5v5M220 1176.5h5m-2.5-2.5v5M220 1153.5h5m-2.5-2.5v5M220 1164.5h5m-2.5-2.5v5M221 1171.5h5m-2.5-2.5v5M221 1183.5h5m-2.5-2.5v5M221 1151.5h5m-2.5-2.5v5M221 1141.5h5m-2.5-2.5v5M222 1181.5h5m-2.5-2.5v5M222 1180.5h5m-2.5-2.5v5M222 1173.5h5m-2.5-2.5v5M222 1157.5h5m-2.5-2.5v5M222 1159.5h5m-2.5-2.5v5M223 1190.5h5m-2.5-2.5v5M223 1151.5h5m-2.5-2.5v5M223 1167.5h5m-2.5-2.5v5M224 1149.5h5m-2.5-2.5v5M224 1181.5h5m-2.5-2.5v5M224 1179.5h5m-2.5-2.5v5M224 1183.5h5m-2.5-2.5v5M224 1173.5h5m-2.5-2.5v5M224 1154.5h5m-2.5-2.5v5M224 1158.5h5m-2.5-2.5v5M224 1141.5h5m-2.5-2.5v5M225 1186.5h5m-2.5-2.5v5M225 1160.5h5m-2.5-2.5v5M225 1148.5h5m-2.5-2.5v5M225 1139.5h5m-2.5-2.5v5M226 1177.5h5m-2.5-2.5v5M226 1157.5h5m-2.5-2.5v5M226 1144.5h5m-2.5-2.5v5M226 1159.5h5m-2.5-2.5v5M226 1184.5h5m-2.5-2.5v5M226 1193.5h5m-2.5-2.5v5M226 1192.5h5m-2.5-2.5v5M227 1168.5h5m-2.5-2.5v5M227 1170.5h5m-2.5-2.5v5M227 1176.5h5m-2.5-2.5v5M227 1169.5h5m-2.5-2.5v5M228 1168.5h5m-2.5-2.5v5M228 1180.5h5m-2.5-2.5v5M228 1194.5h5m-2.5-2.5v5M228 1194.5h5m-2.5-2.5v5M229 1162.5h5m-2.5-2.5v5M229 1145.5h5m-2.5-2.5v5M230 1186.5h5m-2.5-2.5v5M230 1187.5h5m-2.5-2.5v5M230 1155.5h5m-2.5-2.5v5M230 1170.5h5m-2.5-2.5v5M230 1180.5h5m-2.5-2.5v5M231 1181.5h5m-2.5-2.5v5M231 1158.5h5m-2.5-2.5v5M231 1174.5h5m-2.5-2.5v5M231 1157.5h5m-2.5-2.5v5M231 1178.5h5m-2.5-2.5v5M232 1171.5h5m-2.5-2.5v5M232 1176.5h5m-2.5-2.5v5M233 1176.5h5m-2.5-2.5v5M233 1166.5h5m-2.5-2.5v5M234 1170.5h5m-2.5-2.5v5M234 1158.5h5m-2.5-2.5v5M234 1188.5h5m-2.5-2.5v5M234 1158.5h5m-2.5-2.5v5M234 1176.5h5m-2.5-2.5v5M235 1170.5h5m-2.5-2.5v5M235 1166.5h5m-2.5-2.5v5M235 1144.5h5m-2.5-2.5v5M236 1155.5h5m-2.5-2.5v5M236 1190.5h5m-2.5-2.5v5M236 1153.5h5m-2.5-2.5v5M236 1147.5h5m-2.5-2.5v5M236 1190.5h5m-2.5-2.5v5M237 1188.5h5m-2.5-2.5v5M237 1155.5h5m-2.5-2.5v5M237 1194.5h5m-2.5-2.5v5M238 1158.5h5m-2.5-2.5v5M238 1189.5h5m-2.5-2.5v5M239 1173.5h5m-2.5-2.5v5M240 1167.5h5m-2.5-2.5v5M240 1154.5h5m-2.5-2.5v5M240 1176.5h5m-2.5-2.5v5M240 1139.5h5m-2.5-2.5v5M241 1187.5h5m-2.5-2.5v5M241 1181.5h5m-2.5-2.5v5M241 1159.5h5m-2.5-2.5v5M241 1190.5h5m-2.5-2.5v5M241 1192.5h5m-2.5-2.5v5M242 1162.5h5m-2.5-2.5v5M242 1195.5h5m-2.5-2.5v5M243 1173.5h5m-2.5-2.5v5M243 1151.5h5m-2.5-2.5v5M243 1158.5h5m-2.5-2.5v5M243 1156.5h5m-2.5-2.5v5M244 1165.5h5m-2.5-2.5v5M244 1189.5h5m-2.5-2.5v5M244 1193.5h5m-2.5-2.5v5M245 1152.5h5m-2.5-2.5v5M245 1149.5h5m-2.5-2.5v5M245 1173.5h5m-2.5-2.5v5M245 1169.5h5m-2.5-2.5v5M245 1164.5h5m-2.5-2.5v5M245 1139.5h5m-2.5-2.5v5M246 1155.5h5m-2.5-2.5v5M246 1151.5h5m-2.5-2.5v5M246 1173.5h5m-2.5-2.5v5M246 1172.5h5m-2.5-2.5v5M246 1145.5h5m-2.5-2.5v5M246 1133.5h5m-2.5-2.5v5M247 1148.5h5m-2.5-2.5v5M248 1175.5h5m-2.5-2.5v5M248 1181.5h5m-2.5-2.5v5M249 1153.5h5m-2.5-2.5v5M249 1179.5h5m-2.5-2.5v5M249 1142.5h5m-2.5-2.5v5M250 1159.5h5m-2.5-2.5v5M250 1154.5h5m-2.5-2.5v5M250 1197.5h5m-2.5-2.5v5M251 1184.5h5m-2.5-2.5v5M251 1181.5h5m-2.5-2.5v5M251 1163.5h5m-2.5-2.5v5M251 1138.5h5m-2.5-2.5v5M252 1169.5h5m-2.5-2.5v5M252 1163.5h5m-2.5-2.5v5M252 1155.5h5m-2.5-2.5v5M252 1148.5h5m-2.5-2.5v5M253 1159.5h5m-2.5-2.5v5M253 1161.5h5m-2.5-2.5v5M253 1159.5h5m-2.5-2.5v5M253 1147.5h5m-2.5-2.5v5M253 1152.5h5m-2.5-2.5v5M253 1168.5h5m-2.5-2.5v5M254 1148.5h5m-2.5-2.5v5M254 1184.5h5m-2.5-2.5v5M254 1188.5h5m-2.5-2.5v5M254 1170.5h5m-2.5-2.5v5M254 1176.5h5m-2.5-2.5v5M255 1172.5h5m-2.5-2.5v5M256 1170.5h5m-2.5-2.5v5M256 1142.5h5m-2.5-2.5v5M257 1167.5h5m-2.5-2.5v5M257 1175.5h5m-2.5-2.5v5M257 1135.5h5m-2.5-2.5v5M258 1177.5h5m-2.5-2.5v5M258 1147.5h5m-2.5-2.5v5M258 1154.5h5m-2.5-2.5v5M259 1168.5h5m-2.5-2.5v5M259 1152.5h5m-2.5-2.5v5M260 1160.5h5m-2.5-2.5v5M260 1176.5h5m-2.5-2.5v5M260 1160.5h5m-2.5-2.5v5M260 1194.5h5m-2.5-2.5v5M261 1150.5h5m-2.5-2.5v5M261 1161.5h5m-2.5-2.5v5M262 1166.5h5m-2.5-2.5v5M262 1173.5h5m-2.5-2.5v5M263 1153.5h5m-2.5-2.5v5M263 1170.5h5m-2.5-2.5v5M263 1148.5h5m-2.5-2.5v5M263 1145.5h5m-2.5-2.5v5M264 1183.5h5m-2.5-2.5v5M264 1177.5h5m-2.5-2.5v5M265 1176.5h5m-2.5-2.5v5M265 1150.5h5m-2.5-2.5v5M266 1166.5h5m-2.5-2.5v5M266 1176.5h5m-2.5-2.5v5M266 1162.5h5m-2.5-2.5v5M267 1181.5h5m-2.5-2.5v5M267 1188.5h5m-2.5-2.5v5M268 1177.5h5m-2.5-2.5v5M268 1166.5h5m-2.5-2.5v5M268 1154.5h5m-2.5-2.5v5M268 1190.5h5m-2.5-2.5v5M269 1179.5h5m-2.5-2.5v5M269 1179.5h5m-2.5-2.5v5M269 1169.5h5m-2.5-2.5v5M270 1154.5h5m-2.5-2.5v5M270 1177.5h5m-2.5-2.5v5M270 1157.5h5m-2.5-2.5v5M271 1157.5h5m-2.5-2.5v5M271 1175.5h5m-2.5-2.5v5M271 1171.5h5m-2.5-2.5v5M272 1156.5h5m-2.5-2.5v5M272 1153.5h5m-2.5-2.5v5M272 1156.5h5m-2.5-2.5v5M272 1162.5h5m-2.5-2.5v5M272 1146.5h5m-2.5-2.5v5M273 1175.5h5m-2.5-2.5v5M273 1154.5h5m-2.5-2.5v5M273 1180.5h5m-2.5-2.5v5M273 1138.5h5m-2.5-2.5v5M274 1161.5h5m-2.5-2.5v5M274 1157.5h5m-2.5-2.5v5M274 1175.5h5m-2.5-2.5v5M274 1170.5h5m-2.5-2.5v5M274 1184.5h5m-2.5-2.5v5M275 1158.5h5m-2.5-2.5v5M276 1154.5h5m-2.5-2.5v5M277 1159.5h5m-2.5-2.5v5M277 1172.5h5m-2.5-2.5v5M277 1159.5h5m-2.5-2.5v5M277 1159.5h5m-2.5-2.5v5M277 1166.5h5m-2.5-2.5v5M277 1153.5h5m-2.5-2.5v5M278 1167.5h5m-2.5-2.5v5M278 1158.5h5m-2.5-2.5v5M279 1170.5h5m-2.5-2.5v5M280 1161.5h5m-2.5-2.5v5M280 1167.5h5m-2.5-2.5v5M280 1177.5h5m-2.5-2.5v5M280 1163.5h5m-2.5-2.5v5M280 1186.5h5m-2.5-2.5v5M281 1167.5h5m-2.5-2.5v5M281 1178.5h5m-2.5-2.5v5M281 1180.5h5m-2.5-2.5v5M281 1167.5h5m-2.5-2.5v5M281 1140.5h5m-2.5-2.5v5M281 1141.5h5m-2.5-2.5v5M283 1148.5h5m-2.5-2.5v5M283 1156.5h5m-2.5-2.5v5M283 1156.5h5m-2.5-2.5v5M284 1165.5h5m-2.5-2.5v5M284 1153.5h5m-2.5-2.5v5M284 1173.5h5m-2.5-2.5v5M284 1162.5h5m-2.5-2.5v5M284 1169.5h5m-2.5-2.5v5M284 1163.5h5m-2.5-2.5v5M284 1146.5h5m-2.5-2.5v5M285 1161.5h5m-2.5-2.5v5M285 1169.5h5m-2.5-2.5v5M285 1168.5h5m-2.5-2.5v5M285 1146.5h5m-2.5-2.5v5M286 1164.5h5m-2.5-2.5v5M286 1174.5h5m-2.5-2.5v5M286 1173.5h5m-2.5-2.5v5M287 1172.5h5m-2.5-2.5v5M287 1178.5h5m-2.5-2.5v5M288 1147.5h5m-2.5-2.5v5M288 1181.5h5m-2.5-2.5v5M289 1178.5h5m-2.5-2.5v5M290 1159.5h5m-2.5-2.5v5M290 1149.5h5m-2.5-2.5v5M290 1166.5h5m-2.5-2.5v5M290 1138.5h5m-2.5-2.5v5M291 1176.5h5m-2.5-2.5v5M291 1169.5h5m-2.5-2.5v5M292 1161.5h5m-2.5-2.5v5M292 1155.5h5m-2.5-2.5v5M293 1174.5h5m-2.5-2.5v5M294 1178.5h5m-2.5-2.5v5M295 1149.5h5m-2.5-2.5v5M296 1147.5h5m-2.5-2.5v5M296 1179.5h5m-2.5-2.5v5M297 1154.5h5m-2.5-2.5v5M297 1171.5h5m-2.5-2.5v5M298 1164.5h5m-2.5-2.5v5M299 1159.5h5m-2.5-2.5v5M299 1165.5h5m-2.5-2.5v5M300 1134.5h5m-2.5-2.5v5M301 1171.5h5m-2.5-2.5v5M301 1176.5h5m-2.5-2.5v5M302 1162.5h5m-2.5-2.5v5M302 1171.5h5m-2.5-2.5v5M302 1169.5h5m-2.5-2.5v5M304 1171.5h5m-2.5-2.5v5M304 1157.5h5m-2.5-2.5v5M305 1167.5h5m-2.5-2.5v5M306 1160.5h5m-2.5-2.5v5M307 1172.5h5m-2.5-2.5v5M308 1156.5h5m-2.5-2.5v5M308 1184.5h5m-2.5-2.5v5M309 1163.5h5m-2.5-2.5v5M309 1158.5h5m-2.5-2.5v5M310 1170.5h5m-2.5-2.5v5M310 1147.5h5m-2.5-2.5v5M310 1177.5h5m-2.5-2.5v5M311 1147.5h5m-2.5-2.5v5M312 1175.5h5m-2.5-2.5v5M313 1151.5h5m-2.5-2.5v5M314 1155.5h5m-2.5-2.5v5M314 1157.5h5m-2.5-2.5v5M315 1142.5h5m-2.5-2.5v5M316 1160.5h5m-2.5-2.5v5M317 1162.5h5m-2.5-2.5v5M317 1145.5h5m-2.5-2.5v5M318 1152.5h5m-2.5-2.5v5M319 1159.5h5m-2.5-2.5v5M319 1166.5h5m-2.5-2.5v5M319 1170.5h5m-2.5-2.5v5M319 1168.5h5m-2.5-2.5v5M320 1168.5h5m-2.5-2.5v5M322 1163.5h5m-2.5-2.5v5M322 1161.5h5m-2.5-2.5v5M323 1173.5h5m-2.5-2.5v5M323 1168.5h5m-2.5-2.5v5M325 1157.5h5m-2.5-2.5v5M325 1165.5h5m-2.5-2.5v5M326 1175.5h5m-2.5-2.5v5M329 1167.5h5m-2.5-2.5v5M329 1163.5h5m-2.5-2.5v5M331 1160.5h5m-2.5-2.5v5M331 1176.5h5m-2.5-2.5v5M333 1174.5h5m-2.5-2.5v5M333 1169.5h5m-2.5-2.5v5M333 1148.5h5m-2.5-2.5v5M334 1163.5h5m-2.5-2.5v5M334 1160.5h5m-2.5-2.5v5M337 1169.5h5m-2.5-2.5v5M339 1165.5h5m-2.5-2.5v5M339 1163.5h5m-2.5-2.5v5M340 1158.5h5m-2.5-2.5v5M343 1170.5h5m-2.5-2.5v5M343 1159.5h5m-2.5-2.5v5M344 1168.5h5m-2.5-2.5v5M344 1171.5h5m-2.5-2.5v5M345 1169.5h5m-2.5-2.5v5M345 1168.5h5m-2.5-2.5v5M345 1147.5h5m-2.5-2.5v5M346 1164.5h5m-2.5-2.5v5M346 1158.5h5m-2.5-2.5v5M346 1160.5h5m-2.5-2.5v5M346 1155.5h5m-2.5-2.5v5M349 1159.5h5m-2.5-2.5v5M353 1157.5h5m-2.5-2.5v5M354 1175.5h5m-2.5-2.5v5M355 1172.5h5m-2.5-2.5v5M358 1155.5h5m-2.5-2.5v5M359 1165.5h5m-2.5-2.5v5M360 1158.5h5m-2.5-2.5v5M360 1163.5h5m-2.5-2.5v5M360 1164.5h5m-2.5-2.5v5M363 1164.5h5m-2.5-2.5v5M364 1174.5h5m-2.5-2.5v5M367 1158.5h5m-2.5-2.5v5M367 1169.5h5m-2.5-2.5v5M368 1158.5h5m-2.5-2.5v5M368 1176.5h5m-2.5-2.5v5M371 1168.5h5m-2.5-2.5v5M373 1177.5h5m-2.5-2.5v5M377 1160.5h5m-2.5-2.5v5M380 1163.5h5m-2.5-2.5v5M382 1156.5h5m-2.5-2.5v5M388 1170.5h5m-2.5-2.5v5M390 1165.5h5m-2.5-2.5v5M391 1161.5h5m-2.5-2.5v5M393 1159.5h5m-2.5-2.5v5M396 1172.5h5m-2.5-2.5v5M396 1163.5h5m-2.5-2.5v5M402 1171.5h5m-2.5-2.5v5M411 1169.5h5m-2.5-2.5v5M413 1166.5h5m-2.5-2.5v5M442 1169.5h5m-2.5-2.5v5M94 1174.5h5m-2.5-2.5v5M100 1182.5h5m-2.5-2.5v5M77 1159.5h5m-2.5-2.5v5M95 1171.5h5m-2.5-2.5v5M67 1158.5h5m-2.5-2.5v5M71 1164.5h5m-2.5-2.5v5M97 1172.5h5m-2.5-2.5v5M82 1164.5h5m-2.5-2.5v5M83 1160.5h5m-2.5-2.5v5M76 1162.5h5m-2.5-2.5v5M80 1157.5h5m-2.5-2.5v5M99 1183.5h5m-2.5-2.5v5M104 1184.5h5m-2.5-2.5v5M80 1166.5h5m-2.5-2.5v5M70 1159.5h5m-2.5-2.5v5M91 1168.5h5m-2.5-2.5v5M86 1167.5h5m-2.5-2.5v5M81 1159.5h5m-2.5-2.5v5M72 1163.5h5m-2.5-2.5v5M109 1192.5h5m-2.5-2.5v5M80 1160.5h5m-2.5-2.5v5M88 1166.5h5m-2.5-2.5v5M92 1169.5h5m-2.5-2.5v5M98 1179.5h5m-2.5-2.5v5M67 1156.5h5m-2.5-2.5v5M100 1185.5h5m-2.5-2.5v5M108 1189.5h5m-2.5-2.5v5M88 1171.5h5m-2.5-2.5v5M93 1169.5h5m-2.5-2.5v5M78 1163.5h5m-2.5-2.5v5M73 1160.5h5m-2.5-2.5v5M88 1170.5h5m-2.5-2.5v5M86 1174.5h5m-2.5-2.5v5M67 1159.5h5m-2.5-2.5v5M64 1157.5h5m-2.5-2.5v5M96 1179.5h5m-2.5-2.5v5M249 1193.5h5m-2.5-2.5v5M304 1126.5h5m-2.5-2.5v5M307 1129.5h5m-2.5-2.5v5M273 1099.5h5m-2.5-2.5v5M309 1179.5h5m-2.5-2.5v5M286 1184.5h5m-2.5-2.5v5M189 1212.5h5m-2.5-2.5v5M88 1157.5h5m-2.5-2.5v5M197 1122.5h5m-2.5-2.5v5M309 1132.5h5m-2.5-2.5v5M187 1119.5h5m-2.5-2.5v5M331 1128.5h5m-2.5-2.5v5M331 1094.5h5m-2.5-2.5v5M252 1192.5h5m-2.5-2.5v5M334 1121.5h5m-2.5-2.5v5M300 1107.5h5m-2.5-2.5v5M340 1139.5h5m-2.5-2.5v5M370 1120.5h5m-2.5-2.5v5M305 1179.5h5m-2.5-2.5v5M234 1093.5h5m-2.5-2.5v5M288 1182.5h5m-2.5-2.5v5M330 1181.5h5m-2.5-2.5v5M284 1184.5h5m-2.5-2.5v5M105 1092.5h5m-2.5-2.5v5M219 1119.5h5m-2.5-2.5v5M225 1116.5h5m-2.5-2.5v5M255 1123.5h5m-2.5-2.5v5M390 1114.5h5m-2.5-2.5v5M155 1189.5h5m-2.5-2.5v5M361 1175.5h5m-2.5-2.5v5M114 1104.5h5m-2.5-2.5v5M280 1191.5h5m-2.5-2.5v5M183 1216.5h5m-2.5-2.5v5M299 1118.5h5m-2.5-2.5v5M184 1192.5h5m-2.5-2.5v5M131 1105.5h5m-2.5-2.5v5M65 1116.5h5m-2.5-2.5v5M172 1098.5h5m-2.5-2.5v5M158 1115.5h5m-2.5-2.5v5M439 1176.5h5m-2.5-2.5v5M79 1114.5h5m-2.5-2.5v5M82 1121.5h5m-2.5-2.5v5M401 1137.5h5m-2.5-2.5v5M302 1078.5h5m-2.5-2.5v5M260 1126.5h5m-2.5-2.5v5M136 1189.5h5m-2.5-2.5v5M158 1197.5h5m-2.5-2.5v5M228 1100.5h5m-2.5-2.5v5M193 1122.5h5m-2.5-2.5v5M262 1101.5h5m-2.5-2.5v5M323 1116.5h5m-2.5-2.5v5M396 1131.5h5m-2.5-2.5v5M426 1176.5h5m-2.5-2.5v5M454 1151.5h5m-2.5-2.5v5M252 1008.5h5m-2.5-2.5v5M286 1061.5h5m-2.5-2.5v5M273 1079.5h5m-2.5-2.5v5M241 1065.5h5m-2.5-2.5v5M190 1120.5h5m-2.5-2.5v5M165 1122.5h5m-2.5-2.5v5M176 1125.5h5m-2.5-2.5v5M117 1125.5h5m-2.5-2.5v5M112 1123.5h5m-2.5-2.5v5M120 1098.5h5m-2.5-2.5v5M111 1125.5h5m-2.5-2.5v5" stroke="#444" stroke-opacity="0.56" stroke-width="1.2" fill="none"/>
<path d="M277 847.5h5m-2.5-2.5v5M268 865.5h5m-2.5-2.5v5M303 892.5h5m-2.5-2.5v5M299 922.5h5m-2.5-2.5v5M243 987.5h5m-2.5-2.5v5M408 1008.5h5m-2.5-2.5v5M483 1032.5h5m-2.5-2.5v5M296 1045.5h5m-2.5-2.5v5M374 1050.5h5m-2.5-2.5v5M239 1004.5h5m-2.5-2.5v5M245 1003.5h5m-2.5-2.5v5M261 1023.5h5m-2.5-2.5v5M255 1038.5h5m-2.5-2.5v5M245 1041.5h5m-2.5-2.5v5M254 1045.5h5m-2.5-2.5v5M254 1053.5h5m-2.5-2.5v5M284 1058.5h5m-2.5-2.5v5M478 1122.5h5m-2.5-2.5v5M458 1148.5h5m-2.5-2.5v5M455 1169.5h5m-2.5-2.5v5M461 1177.5h5m-2.5-2.5v5M408 1095.5h5m-2.5-2.5v5M433 1129.5h5m-2.5-2.5v5M388 1100.5h5m-2.5-2.5v5M357 1091.5h5m-2.5-2.5v5M392 1114.5h5m-2.5-2.5v5M249 1211.5h5m-2.5-2.5v5M187 1218.5h5m-2.5-2.5v5M191 1212.5h5m-2.5-2.5v5M187 1069.5h5m-2.5-2.5v5M186 1078.5h5m-2.5-2.5v5M185 1083.5h5m-2.5-2.5v5M167 1087.5h5m-2.5-2.5v5M171 1085.5h5m-2.5-2.5v5M114 1088.5h5m-2.5-2.5v5M127 1092.5h5m-2.5-2.5v5M160 1096.5h5m-2.5-2.5v5M462 1168.5h5m-2.5-2.5v5M426 1172.5h5m-2.5-2.5v5M438 1174.5h5m-2.5-2.5v5M445 1177.5h5m-2.5-2.5v5" stroke="#444" stroke-opacity="0.62" stroke-width="1.2" fill="none"/>
<path d="M259 682.5h5m-2.5-2.5v5M254 748.5h5m-2.5-2.5v5M262 748.5h5m-2.5-2.5v5M255 777.5h5m-2.5-2.5v5M260 800.5h5m-2.5-2.5v5M254 805.5h5m-2.5-2.5v5M259 835.5h5m-2.5-2.5v5M282 892.5h5m-2.5-2.5v5M337 921.5h5m-2.5-2.5v5M321 947.5h5m-2.5-2.5v5M347 969.5h5m-2.5-2.5v5M376 989.5h5m-2.5-2.5v5M432 992.5h5m-2.5-2.5v5M444 1022.5h5m-2.5-2.5v5M330 1041.5h5m-2.5-2.5v5M264 1002.5h5m-2.5-2.5v5M253 1008.5h5m-2.5-2.5v5M252 1013.5h5m-2.5-2.5v5M240 1017.5h5m-2.5-2.5v5M246 1020.5h5m-2.5-2.5v5M240 1027.5h5m-2.5-2.5v5M243 1026.5h5m-2.5-2.5v5M252 1032.5h5m-2.5-2.5v5M262 1032.5h5m-2.5-2.5v5M244 1037.5h5m-2.5-2.5v5M240 1045.5h5m-2.5-2.5v5M240 1053.5h5m-2.5-2.5v5M267 1052.5h5m-2.5-2.5v5M249 1059.5h5m-2.5-2.5v5M449 1160.5h5m-2.5-2.5v5M415 1106.5h5m-2.5-2.5v5M421 1109.5h5m-2.5-2.5v5M432 1138.5h5m-2.5-2.5v5M427 1134.5h5m-2.5-2.5v5M261 1229.5h5m-2.5-2.5v5M324 1194.5h5m-2.5-2.5v5M337 1188.5h5m-2.5-2.5v5M117 1224.5h5m-2.5-2.5v5M119 1216.5h5m-2.5-2.5v5M115 1209.5h5m-2.5-2.5v5M189 1225.5h5m-2.5-2.5v5M106 1204.5h5m-2.5-2.5v5M133 1205.5h5m-2.5-2.5v5M163 1079.5h5m-2.5-2.5v5M135 1089.5h5m-2.5-2.5v5M149 1089.5h5m-2.5-2.5v5M138 1100.5h5m-2.5-2.5v5M124 1102.5h5m-2.5-2.5v5M468 1170.5h5m-2.5-2.5v5" stroke="#444" stroke-opacity="0.62" stroke-width="1.2" fill="none"/>
<path d="M673.6 1017.2L679.1 1009.5L684.6 1005.1L693.3 1000.8L706.4 997.5L717.4 998.5L724 1004L724 1011.7L721.8 1028.1L717.4 1036.8L711.9 1045.6L704.3 1052.2L696.6 1054.3L693.3 1047.5L689 1050L685.7 1057.3L682.4 1054.3L680.2 1045.6L676.9 1042.3L674.8 1033.6L672.6 1022.7Z" fill="#393939" filter="url(#bl2)"/>
<path d="M662 1021.5h5m-2.5-2.5v5M663 1024.5h5m-2.5-2.5v5M664 1019.5h5m-2.5-2.5v5M664 1022.5h5m-2.5-2.5v5M664 1021.5h5m-2.5-2.5v5M665 1034.5h5m-2.5-2.5v5M665 1013.5h5m-2.5-2.5v5M665 1037.5h5m-2.5-2.5v5M666 1018.5h5m-2.5-2.5v5M666 1036.5h5m-2.5-2.5v5M666 1036.5h5m-2.5-2.5v5M666 1034.5h5m-2.5-2.5v5M666 1005.5h5m-2.5-2.5v5M667 1017.5h5m-2.5-2.5v5M667 1039.5h5m-2.5-2.5v5M667 1034.5h5m-2.5-2.5v5M668 1012.5h5m-2.5-2.5v5M668 1019.5h5m-2.5-2.5v5M668 1006.5h5m-2.5-2.5v5M668 1003.5h5m-2.5-2.5v5M669 1014.5h5m-2.5-2.5v5M669 1027.5h5m-2.5-2.5v5M670 1041.5h5m-2.5-2.5v5M670 1024.5h5m-2.5-2.5v5M670 1016.5h5m-2.5-2.5v5M671 1026.5h5m-2.5-2.5v5M671 1040.5h5m-2.5-2.5v5M671 1008.5h5m-2.5-2.5v5M671 1043.5h5m-2.5-2.5v5M671 1007.5h5m-2.5-2.5v5M671 1023.5h5m-2.5-2.5v5M672 1010.5h5m-2.5-2.5v5M672 1015.5h5m-2.5-2.5v5M672 1022.5h5m-2.5-2.5v5M672 1009.5h5m-2.5-2.5v5M672 1031.5h5m-2.5-2.5v5M672 1040.5h5m-2.5-2.5v5M672 996.5h5m-2.5-2.5v5M673 1005.5h5m-2.5-2.5v5M673 1012.5h5m-2.5-2.5v5M673 1006.5h5m-2.5-2.5v5M673 1006.5h5m-2.5-2.5v5M673 1008.5h5m-2.5-2.5v5M673 1020.5h5m-2.5-2.5v5M673 1000.5h5m-2.5-2.5v5M674 1028.5h5m-2.5-2.5v5M674 1003.5h5m-2.5-2.5v5M674 1018.5h5m-2.5-2.5v5M674 1040.5h5m-2.5-2.5v5M674 1025.5h5m-2.5-2.5v5M674 1006.5h5m-2.5-2.5v5M674 1042.5h5m-2.5-2.5v5M674 1005.5h5m-2.5-2.5v5M674 996.5h5m-2.5-2.5v5M675 1018.5h5m-2.5-2.5v5M675 1039.5h5m-2.5-2.5v5M675 1008.5h5m-2.5-2.5v5M675 1003.5h5m-2.5-2.5v5M675 1011.5h5m-2.5-2.5v5M675 999.5h5m-2.5-2.5v5M676 1035.5h5m-2.5-2.5v5M676 1013.5h5m-2.5-2.5v5M676 1042.5h5m-2.5-2.5v5M676 1042.5h5m-2.5-2.5v5M676 1012.5h5m-2.5-2.5v5M676 1017.5h5m-2.5-2.5v5M676 1046.5h5m-2.5-2.5v5M676 1005.5h5m-2.5-2.5v5M676 1026.5h5m-2.5-2.5v5M676 1042.5h5m-2.5-2.5v5M676 1038.5h5m-2.5-2.5v5M677 1007.5h5m-2.5-2.5v5M677 1041.5h5m-2.5-2.5v5M677 1024.5h5m-2.5-2.5v5M677 1037.5h5m-2.5-2.5v5M677 1024.5h5m-2.5-2.5v5M677 1061.5h5m-2.5-2.5v5M678 1029.5h5m-2.5-2.5v5M678 1047.5h5m-2.5-2.5v5M678 1041.5h5m-2.5-2.5v5M678 1045.5h5m-2.5-2.5v5M678 1015.5h5m-2.5-2.5v5M678 1036.5h5m-2.5-2.5v5M678 1056.5h5m-2.5-2.5v5M678 1008.5h5m-2.5-2.5v5M678 1001.5h5m-2.5-2.5v5M678 1062.5h5m-2.5-2.5v5M679 1053.5h5m-2.5-2.5v5M679 1026.5h5m-2.5-2.5v5M679 1008.5h5m-2.5-2.5v5M679 1044.5h5m-2.5-2.5v5M679 1016.5h5m-2.5-2.5v5M679 1012.5h5m-2.5-2.5v5M679 1024.5h5m-2.5-2.5v5M679 1040.5h5m-2.5-2.5v5M679 1041.5h5m-2.5-2.5v5M679 988.5h5m-2.5-2.5v5M680 1029.5h5m-2.5-2.5v5M680 1046.5h5m-2.5-2.5v5M680 1042.5h5m-2.5-2.5v5M680 1051.5h5m-2.5-2.5v5M680 1039.5h5m-2.5-2.5v5M680 1020.5h5m-2.5-2.5v5M680 1064.5h5m-2.5-2.5v5M681 1019.5h5m-2.5-2.5v5M681 1034.5h5m-2.5-2.5v5M681 1054.5h5m-2.5-2.5v5M681 1041.5h5m-2.5-2.5v5M681 1020.5h5m-2.5-2.5v5M681 1049.5h5m-2.5-2.5v5M681 1051.5h5m-2.5-2.5v5M681 1035.5h5m-2.5-2.5v5M681 998.5h5m-2.5-2.5v5M682 1003.5h5m-2.5-2.5v5M682 1018.5h5m-2.5-2.5v5M682 1028.5h5m-2.5-2.5v5M682 1055.5h5m-2.5-2.5v5M682 1062.5h5m-2.5-2.5v5M682 1062.5h5m-2.5-2.5v5M683 1053.5h5m-2.5-2.5v5M683 1017.5h5m-2.5-2.5v5M683 1024.5h5m-2.5-2.5v5M683 1029.5h5m-2.5-2.5v5M683 998.5h5m-2.5-2.5v5M683 1047.5h5m-2.5-2.5v5M683 1013.5h5m-2.5-2.5v5M683 1007.5h5m-2.5-2.5v5M683 985.5h5m-2.5-2.5v5M684 1016.5h5m-2.5-2.5v5M684 1038.5h5m-2.5-2.5v5M684 1014.5h5m-2.5-2.5v5M684 1005.5h5m-2.5-2.5v5M684 1000.5h5m-2.5-2.5v5M685 1003.5h5m-2.5-2.5v5M685 1049.5h5m-2.5-2.5v5M685 1055.5h5m-2.5-2.5v5M685 1050.5h5m-2.5-2.5v5M685 1034.5h5m-2.5-2.5v5M685 1000.5h5m-2.5-2.5v5M685 1000.5h5m-2.5-2.5v5M685 1046.5h5m-2.5-2.5v5M685 1029.5h5m-2.5-2.5v5M685 991.5h5m-2.5-2.5v5M686 1031.5h5m-2.5-2.5v5M686 1038.5h5m-2.5-2.5v5M686 1014.5h5m-2.5-2.5v5M686 1036.5h5m-2.5-2.5v5M686 1011.5h5m-2.5-2.5v5M686 1014.5h5m-2.5-2.5v5M686 1006.5h5m-2.5-2.5v5M686 1051.5h5m-2.5-2.5v5M686 1014.5h5m-2.5-2.5v5M686 1036.5h5m-2.5-2.5v5M687 1007.5h5m-2.5-2.5v5M687 1017.5h5m-2.5-2.5v5M687 1029.5h5m-2.5-2.5v5M687 1011.5h5m-2.5-2.5v5M687 1029.5h5m-2.5-2.5v5M687 1003.5h5m-2.5-2.5v5M687 998.5h5m-2.5-2.5v5M687 1040.5h5m-2.5-2.5v5M687 1013.5h5m-2.5-2.5v5M687 1027.5h5m-2.5-2.5v5M687 1056.5h5m-2.5-2.5v5M687 993.5h5m-2.5-2.5v5M687 1059.5h5m-2.5-2.5v5M688 1019.5h5m-2.5-2.5v5M688 1013.5h5m-2.5-2.5v5M688 1035.5h5m-2.5-2.5v5M688 1008.5h5m-2.5-2.5v5M688 1029.5h5m-2.5-2.5v5M688 989.5h5m-2.5-2.5v5M688 1060.5h5m-2.5-2.5v5M689 1000.5h5m-2.5-2.5v5M689 997.5h5m-2.5-2.5v5M689 1028.5h5m-2.5-2.5v5M689 1020.5h5m-2.5-2.5v5M689 997.5h5m-2.5-2.5v5M689 1044.5h5m-2.5-2.5v5M689 1046.5h5m-2.5-2.5v5M689 1001.5h5m-2.5-2.5v5M689 1009.5h5m-2.5-2.5v5M689 1015.5h5m-2.5-2.5v5M689 1040.5h5m-2.5-2.5v5M689 991.5h5m-2.5-2.5v5M690 997.5h5m-2.5-2.5v5M690 1012.5h5m-2.5-2.5v5M690 1027.5h5m-2.5-2.5v5M690 1015.5h5m-2.5-2.5v5M690 1056.5h5m-2.5-2.5v5M690 1051.5h5m-2.5-2.5v5M690 1009.5h5m-2.5-2.5v5M690 1032.5h5m-2.5-2.5v5M690 1040.5h5m-2.5-2.5v5M690 1052.5h5m-2.5-2.5v5M690 1003.5h5m-2.5-2.5v5M690 1053.5h5m-2.5-2.5v5M690 1052.5h5m-2.5-2.5v5M691 1028.5h5m-2.5-2.5v5M691 1030.5h5m-2.5-2.5v5M691 1018.5h5m-2.5-2.5v5M691 997.5h5m-2.5-2.5v5M691 1026.5h5m-2.5-2.5v5M691 1041.5h5m-2.5-2.5v5M691 1025.5h5m-2.5-2.5v5M691 1046.5h5m-2.5-2.5v5M691 992.5h5m-2.5-2.5v5M692 1028.5h5m-2.5-2.5v5M692 1026.5h5m-2.5-2.5v5M692 1026.5h5m-2.5-2.5v5M692 1025.5h5m-2.5-2.5v5M692 1053.5h5m-2.5-2.5v5M692 999.5h5m-2.5-2.5v5M692 1004.5h5m-2.5-2.5v5M692 998.5h5m-2.5-2.5v5M692 1015.5h5m-2.5-2.5v5M692 1038.5h5m-2.5-2.5v5M692 1001.5h5m-2.5-2.5v5M692 986.5h5m-2.5-2.5v5M692 990.5h5m-2.5-2.5v5M693 1004.5h5m-2.5-2.5v5M693 1010.5h5m-2.5-2.5v5M693 1033.5h5m-2.5-2.5v5M693 1026.5h5m-2.5-2.5v5M693 1019.5h5m-2.5-2.5v5M693 1031.5h5m-2.5-2.5v5M693 989.5h5m-2.5-2.5v5M694 1056.5h5m-2.5-2.5v5M694 1018.5h5m-2.5-2.5v5M694 1018.5h5m-2.5-2.5v5M694 1009.5h5m-2.5-2.5v5M694 995.5h5m-2.5-2.5v5M694 1018.5h5m-2.5-2.5v5M694 1009.5h5m-2.5-2.5v5M694 1040.5h5m-2.5-2.5v5M694 1052.5h5m-2.5-2.5v5M694 1000.5h5m-2.5-2.5v5M695 1053.5h5m-2.5-2.5v5M695 1046.5h5m-2.5-2.5v5M695 997.5h5m-2.5-2.5v5M695 1036.5h5m-2.5-2.5v5M695 994.5h5m-2.5-2.5v5M695 1058.5h5m-2.5-2.5v5M695 1017.5h5m-2.5-2.5v5M695 1036.5h5m-2.5-2.5v5M695 1059.5h5m-2.5-2.5v5M695 1001.5h5m-2.5-2.5v5M696 1038.5h5m-2.5-2.5v5M696 1054.5h5m-2.5-2.5v5M696 1058.5h5m-2.5-2.5v5M696 995.5h5m-2.5-2.5v5M696 1049.5h5m-2.5-2.5v5M696 1059.5h5m-2.5-2.5v5M697 1040.5h5m-2.5-2.5v5M697 998.5h5m-2.5-2.5v5M697 1031.5h5m-2.5-2.5v5M697 1047.5h5m-2.5-2.5v5M697 1052.5h5m-2.5-2.5v5M697 1007.5h5m-2.5-2.5v5M697 997.5h5m-2.5-2.5v5M697 1016.5h5m-2.5-2.5v5M697 1023.5h5m-2.5-2.5v5M697 995.5h5m-2.5-2.5v5M697 1057.5h5m-2.5-2.5v5M697 999.5h5m-2.5-2.5v5M697 1060.5h5m-2.5-2.5v5M697 1059.5h5m-2.5-2.5v5M698 1017.5h5m-2.5-2.5v5M698 998.5h5m-2.5-2.5v5M698 1029.5h5m-2.5-2.5v5M698 1000.5h5m-2.5-2.5v5M698 993.5h5m-2.5-2.5v5M698 1020.5h5m-2.5-2.5v5M698 1044.5h5m-2.5-2.5v5M698 1006.5h5m-2.5-2.5v5M698 1007.5h5m-2.5-2.5v5M698 1028.5h5m-2.5-2.5v5M698 998.5h5m-2.5-2.5v5M698 1020.5h5m-2.5-2.5v5M698 1060.5h5m-2.5-2.5v5M699 1019.5h5m-2.5-2.5v5M699 1028.5h5m-2.5-2.5v5M699 1012.5h5m-2.5-2.5v5M699 1057.5h5m-2.5-2.5v5M700 1037.5h5m-2.5-2.5v5M700 1013.5h5m-2.5-2.5v5M700 1037.5h5m-2.5-2.5v5M700 1007.5h5m-2.5-2.5v5M700 996.5h5m-2.5-2.5v5M700 1045.5h5m-2.5-2.5v5M700 1048.5h5m-2.5-2.5v5M700 1013.5h5m-2.5-2.5v5M700 993.5h5m-2.5-2.5v5M700 1032.5h5m-2.5-2.5v5M700 996.5h5m-2.5-2.5v5M700 1036.5h5m-2.5-2.5v5M700 991.5h5m-2.5-2.5v5M701 1016.5h5m-2.5-2.5v5M701 1045.5h5m-2.5-2.5v5M701 1053.5h5m-2.5-2.5v5M701 1040.5h5m-2.5-2.5v5M701 1013.5h5m-2.5-2.5v5M701 998.5h5m-2.5-2.5v5M701 1041.5h5m-2.5-2.5v5M701 1019.5h5m-2.5-2.5v5M702 1053.5h5m-2.5-2.5v5M702 1026.5h5m-2.5-2.5v5M702 1022.5h5m-2.5-2.5v5M702 995.5h5m-2.5-2.5v5M702 1014.5h5m-2.5-2.5v5M702 1007.5h5m-2.5-2.5v5M702 1011.5h5m-2.5-2.5v5M702 1032.5h5m-2.5-2.5v5M702 992.5h5m-2.5-2.5v5M702 1055.5h5m-2.5-2.5v5M702 1050.5h5m-2.5-2.5v5M702 1000.5h5m-2.5-2.5v5M703 1042.5h5m-2.5-2.5v5M703 1050.5h5m-2.5-2.5v5M703 1009.5h5m-2.5-2.5v5M703 1007.5h5m-2.5-2.5v5M703 1000.5h5m-2.5-2.5v5M703 1004.5h5m-2.5-2.5v5M703 1004.5h5m-2.5-2.5v5M703 993.5h5m-2.5-2.5v5M703 1028.5h5m-2.5-2.5v5M703 1030.5h5m-2.5-2.5v5M703 1006.5h5m-2.5-2.5v5M703 990.5h5m-2.5-2.5v5M704 1031.5h5m-2.5-2.5v5M704 1053.5h5m-2.5-2.5v5M704 1011.5h5m-2.5-2.5v5M704 1024.5h5m-2.5-2.5v5M704 1042.5h5m-2.5-2.5v5M704 1029.5h5m-2.5-2.5v5M704 1036.5h5m-2.5-2.5v5M704 1010.5h5m-2.5-2.5v5M704 986.5h5m-2.5-2.5v5M705 1042.5h5m-2.5-2.5v5M705 1042.5h5m-2.5-2.5v5M705 1043.5h5m-2.5-2.5v5M705 992.5h5m-2.5-2.5v5M705 1018.5h5m-2.5-2.5v5M705 988.5h5m-2.5-2.5v5M706 1039.5h5m-2.5-2.5v5M706 1023.5h5m-2.5-2.5v5M706 1008.5h5m-2.5-2.5v5M706 1010.5h5m-2.5-2.5v5M706 1003.5h5m-2.5-2.5v5M706 1046.5h5m-2.5-2.5v5M706 989.5h5m-2.5-2.5v5M707 1005.5h5m-2.5-2.5v5M707 1002.5h5m-2.5-2.5v5M707 1019.5h5m-2.5-2.5v5M707 1009.5h5m-2.5-2.5v5M707 1018.5h5m-2.5-2.5v5M707 1010.5h5m-2.5-2.5v5M707 1019.5h5m-2.5-2.5v5M707 1012.5h5m-2.5-2.5v5M708 1006.5h5m-2.5-2.5v5M708 1036.5h5m-2.5-2.5v5M708 1035.5h5m-2.5-2.5v5M708 1018.5h5m-2.5-2.5v5M708 1008.5h5m-2.5-2.5v5M708 993.5h5m-2.5-2.5v5M708 1044.5h5m-2.5-2.5v5M708 988.5h5m-2.5-2.5v5M709 1038.5h5m-2.5-2.5v5M709 1048.5h5m-2.5-2.5v5M709 1025.5h5m-2.5-2.5v5M709 1036.5h5m-2.5-2.5v5M709 1012.5h5m-2.5-2.5v5M709 1049.5h5m-2.5-2.5v5M709 1013.5h5m-2.5-2.5v5M709 1053.5h5m-2.5-2.5v5M709 1001.5h5m-2.5-2.5v5M710 1033.5h5m-2.5-2.5v5M710 987.5h5m-2.5-2.5v5M711 1030.5h5m-2.5-2.5v5M711 1010.5h5m-2.5-2.5v5M711 1015.5h5m-2.5-2.5v5M711 1019.5h5m-2.5-2.5v5M711 1030.5h5m-2.5-2.5v5M711 991.5h5m-2.5-2.5v5M712 1015.5h5m-2.5-2.5v5M712 1034.5h5m-2.5-2.5v5M713 992.5h5m-2.5-2.5v5M713 1004.5h5m-2.5-2.5v5M713 1033.5h5m-2.5-2.5v5M713 1007.5h5m-2.5-2.5v5M713 1007.5h5m-2.5-2.5v5M714 1043.5h5m-2.5-2.5v5M714 1015.5h5m-2.5-2.5v5M714 1001.5h5m-2.5-2.5v5M714 1005.5h5m-2.5-2.5v5M714 1041.5h5m-2.5-2.5v5M714 1027.5h5m-2.5-2.5v5M714 1034.5h5m-2.5-2.5v5M714 1007.5h5m-2.5-2.5v5M714 987.5h5m-2.5-2.5v5M715 1033.5h5m-2.5-2.5v5M715 1042.5h5m-2.5-2.5v5M715 1000.5h5m-2.5-2.5v5M715 1051.5h5m-2.5-2.5v5M715 1002.5h5m-2.5-2.5v5M715 1008.5h5m-2.5-2.5v5M716 1028.5h5m-2.5-2.5v5M716 1001.5h5m-2.5-2.5v5M716 1013.5h5m-2.5-2.5v5M716 1037.5h5m-2.5-2.5v5M716 1001.5h5m-2.5-2.5v5M716 1019.5h5m-2.5-2.5v5M716 1012.5h5m-2.5-2.5v5M716 999.5h5m-2.5-2.5v5M716 989.5h5m-2.5-2.5v5M717 1021.5h5m-2.5-2.5v5M717 1006.5h5m-2.5-2.5v5M717 1013.5h5m-2.5-2.5v5M717 1023.5h5m-2.5-2.5v5M717 1029.5h5m-2.5-2.5v5M717 1004.5h5m-2.5-2.5v5M717 1013.5h5m-2.5-2.5v5M717 1003.5h5m-2.5-2.5v5M717 993.5h5m-2.5-2.5v5M717 995.5h5m-2.5-2.5v5M717 996.5h5m-2.5-2.5v5M717 1044.5h5m-2.5-2.5v5M717 1015.5h5m-2.5-2.5v5M717 1052.5h5m-2.5-2.5v5M718 1003.5h5m-2.5-2.5v5M718 1032.5h5m-2.5-2.5v5M718 1030.5h5m-2.5-2.5v5M719 1018.5h5m-2.5-2.5v5M719 1022.5h5m-2.5-2.5v5M719 1047.5h5m-2.5-2.5v5M719 993.5h5m-2.5-2.5v5M719 1026.5h5m-2.5-2.5v5M719 1028.5h5m-2.5-2.5v5M719 1011.5h5m-2.5-2.5v5M719 1002.5h5m-2.5-2.5v5M720 999.5h5m-2.5-2.5v5M720 1018.5h5m-2.5-2.5v5M720 1030.5h5m-2.5-2.5v5M720 998.5h5m-2.5-2.5v5M720 1047.5h5m-2.5-2.5v5M720 1032.5h5m-2.5-2.5v5M720 1039.5h5m-2.5-2.5v5M720 1002.5h5m-2.5-2.5v5M720 1002.5h5m-2.5-2.5v5M720 1020.5h5m-2.5-2.5v5M721 1011.5h5m-2.5-2.5v5M721 1012.5h5m-2.5-2.5v5M721 998.5h5m-2.5-2.5v5M721 1003.5h5m-2.5-2.5v5M721 1030.5h5m-2.5-2.5v5M721 1042.5h5m-2.5-2.5v5M721 1016.5h5m-2.5-2.5v5M722 1040.5h5m-2.5-2.5v5M722 995.5h5m-2.5-2.5v5M722 1041.5h5m-2.5-2.5v5M722 1006.5h5m-2.5-2.5v5M722 1005.5h5m-2.5-2.5v5M722 1025.5h5m-2.5-2.5v5M722 1042.5h5m-2.5-2.5v5M722 1009.5h5m-2.5-2.5v5M722 991.5h5m-2.5-2.5v5M723 1015.5h5m-2.5-2.5v5M723 1023.5h5m-2.5-2.5v5M723 1011.5h5m-2.5-2.5v5M723 1013.5h5m-2.5-2.5v5M723 1005.5h5m-2.5-2.5v5M723 1032.5h5m-2.5-2.5v5M723 1038.5h5m-2.5-2.5v5M723 987.5h5m-2.5-2.5v5M723 1051.5h5m-2.5-2.5v5M724 994.5h5m-2.5-2.5v5M724 1015.5h5m-2.5-2.5v5M724 994.5h5m-2.5-2.5v5M724 1008.5h5m-2.5-2.5v5M724 1026.5h5m-2.5-2.5v5M724 1029.5h5m-2.5-2.5v5M724 988.5h5m-2.5-2.5v5M725 1003.5h5m-2.5-2.5v5M725 1042.5h5m-2.5-2.5v5M725 1027.5h5m-2.5-2.5v5M725 1045.5h5m-2.5-2.5v5M726 1035.5h5m-2.5-2.5v5M726 1043.5h5m-2.5-2.5v5M726 1002.5h5m-2.5-2.5v5M726 1003.5h5m-2.5-2.5v5M727 1030.5h5m-2.5-2.5v5M727 999.5h5m-2.5-2.5v5M727 997.5h5m-2.5-2.5v5M727 1047.5h5m-2.5-2.5v5M728 1025.5h5m-2.5-2.5v5M728 1011.5h5m-2.5-2.5v5M728 1012.5h5m-2.5-2.5v5M728 991.5h5m-2.5-2.5v5M729 1039.5h5m-2.5-2.5v5M729 1014.5h5m-2.5-2.5v5M729 1024.5h5m-2.5-2.5v5M729 1012.5h5m-2.5-2.5v5M729 1014.5h5m-2.5-2.5v5M729 1050.5h5m-2.5-2.5v5M730 1018.5h5m-2.5-2.5v5M730 1046.5h5m-2.5-2.5v5M730 1030.5h5m-2.5-2.5v5M730 1029.5h5m-2.5-2.5v5M730 1046.5h5m-2.5-2.5v5M731 1030.5h5m-2.5-2.5v5M731 1038.5h5m-2.5-2.5v5M733 1035.5h5m-2.5-2.5v5M733 1012.5h5m-2.5-2.5v5M733 1038.5h5m-2.5-2.5v5M733 1015.5h5m-2.5-2.5v5M733 1008.5h5m-2.5-2.5v5M733 1039.5h5m-2.5-2.5v5M733 1021.5h5m-2.5-2.5v5M733 1033.5h5m-2.5-2.5v5M734 1026.5h5m-2.5-2.5v5M734 1035.5h5m-2.5-2.5v5M734 996.5h5m-2.5-2.5v5M735 997.5h5m-2.5-2.5v5M735 1050.5h5m-2.5-2.5v5M735 1018.5h5m-2.5-2.5v5M736 1013.5h5m-2.5-2.5v5M736 1020.5h5m-2.5-2.5v5M737 1017.5h5m-2.5-2.5v5M738 1006.5h5m-2.5-2.5v5M738 1032.5h5m-2.5-2.5v5M738 1022.5h5m-2.5-2.5v5M738 1041.5h5m-2.5-2.5v5M739 1002.5h5m-2.5-2.5v5M739 1030.5h5m-2.5-2.5v5M739 999.5h5m-2.5-2.5v5M739 1029.5h5m-2.5-2.5v5M739 1002.5h5m-2.5-2.5v5M739 1037.5h5m-2.5-2.5v5M739 990.5h5m-2.5-2.5v5M740 998.5h5m-2.5-2.5v5M740 1025.5h5m-2.5-2.5v5M741 1039.5h5m-2.5-2.5v5M742 1054.5h5m-2.5-2.5v5M742 1039.5h5m-2.5-2.5v5M742 1038.5h5m-2.5-2.5v5M743 1051.5h5m-2.5-2.5v5M744 1043.5h5m-2.5-2.5v5M745 1033.5h5m-2.5-2.5v5M745 1000.5h5m-2.5-2.5v5M746 1057.5h5m-2.5-2.5v5M746 1046.5h5m-2.5-2.5v5M746 1031.5h5m-2.5-2.5v5M747 1032.5h5m-2.5-2.5v5M747 999.5h5m-2.5-2.5v5M749 1052.5h5m-2.5-2.5v5M749 1006.5h5m-2.5-2.5v5M751 1058.5h5m-2.5-2.5v5M752 1044.5h5m-2.5-2.5v5M752 1018.5h5m-2.5-2.5v5M753 1017.5h5m-2.5-2.5v5M755 1022.5h5m-2.5-2.5v5M755 1057.5h5m-2.5-2.5v5M756 1005.5h5m-2.5-2.5v5M759 1003.5h5m-2.5-2.5v5M760 1041.5h5m-2.5-2.5v5M763 1013.5h5m-2.5-2.5v5M766 1027.5h5m-2.5-2.5v5M768 1012.5h5m-2.5-2.5v5M770 1015.5h5m-2.5-2.5v5M774 1024.5h5m-2.5-2.5v5M774 1035.5h5m-2.5-2.5v5M778 1024.5h5m-2.5-2.5v5M781 1045.5h5m-2.5-2.5v5M680 1067.5h5m-2.5-2.5v5M680 1067.5h5m-2.5-2.5v5M694 1077.5h5m-2.5-2.5v5M695 1077.5h5m-2.5-2.5v5M679 1066.5h5m-2.5-2.5v5M690 977.5h5m-2.5-2.5v5M734 953.5h5m-2.5-2.5v5M727 965.5h5m-2.5-2.5v5M720 960.5h5m-2.5-2.5v5M735 954.5h5m-2.5-2.5v5M740 950.5h5m-2.5-2.5v5M741 959.5h5m-2.5-2.5v5M718 968.5h5m-2.5-2.5v5M714 981.5h5m-2.5-2.5v5M724 982.5h5m-2.5-2.5v5M727 964.5h5m-2.5-2.5v5M768 957.5h5m-2.5-2.5v5M750 984.5h5m-2.5-2.5v5M738 976.5h5m-2.5-2.5v5M756 976.5h5m-2.5-2.5v5M731 967.5h5m-2.5-2.5v5M719 1072.5h5m-2.5-2.5v5M745 1052.5h5m-2.5-2.5v5M754 1076.5h5m-2.5-2.5v5M691 1061.5h5m-2.5-2.5v5M788 1020.5h5m-2.5-2.5v5M757 974.5h5m-2.5-2.5v5M716 979.5h5m-2.5-2.5v5M747 960.5h5m-2.5-2.5v5M694 975.5h5m-2.5-2.5v5M790 960.5h5m-2.5-2.5v5M696 963.5h5m-2.5-2.5v5" stroke="#363636" stroke-opacity="0.58" stroke-width="1.2" fill="none"/>
<path d="M664 1016.5h5m-2.5-2.5v5M664 1031.5h5m-2.5-2.5v5M664 1019.5h5m-2.5-2.5v5M664 1027.5h5m-2.5-2.5v5M665 1014.5h5m-2.5-2.5v5M665 1017.5h5m-2.5-2.5v5M666 1028.5h5m-2.5-2.5v5M666 1009.5h5m-2.5-2.5v5M666 1005.5h5m-2.5-2.5v5M666 1007.5h5m-2.5-2.5v5M667 1013.5h5m-2.5-2.5v5M667 1013.5h5m-2.5-2.5v5M667 1026.5h5m-2.5-2.5v5M667 1027.5h5m-2.5-2.5v5M668 1011.5h5m-2.5-2.5v5M668 1009.5h5m-2.5-2.5v5M668 1034.5h5m-2.5-2.5v5M668 1031.5h5m-2.5-2.5v5M668 1012.5h5m-2.5-2.5v5M668 1034.5h5m-2.5-2.5v5M668 1041.5h5m-2.5-2.5v5M668 1026.5h5m-2.5-2.5v5M668 999.5h5m-2.5-2.5v5M669 1009.5h5m-2.5-2.5v5M669 1031.5h5m-2.5-2.5v5M670 1036.5h5m-2.5-2.5v5M670 1036.5h5m-2.5-2.5v5M670 1037.5h5m-2.5-2.5v5M670 1023.5h5m-2.5-2.5v5M671 1039.5h5m-2.5-2.5v5M671 1021.5h5m-2.5-2.5v5M671 1004.5h5m-2.5-2.5v5M671 1034.5h5m-2.5-2.5v5M671 1021.5h5m-2.5-2.5v5M671 1003.5h5m-2.5-2.5v5M671 1003.5h5m-2.5-2.5v5M672 1018.5h5m-2.5-2.5v5M672 1026.5h5m-2.5-2.5v5M672 1018.5h5m-2.5-2.5v5M672 1032.5h5m-2.5-2.5v5M672 1015.5h5m-2.5-2.5v5M672 1046.5h5m-2.5-2.5v5M672 1043.5h5m-2.5-2.5v5M673 1018.5h5m-2.5-2.5v5M673 1003.5h5m-2.5-2.5v5M673 1025.5h5m-2.5-2.5v5M673 1022.5h5m-2.5-2.5v5M673 996.5h5m-2.5-2.5v5M673 1002.5h5m-2.5-2.5v5M674 1023.5h5m-2.5-2.5v5M674 1014.5h5m-2.5-2.5v5M674 1025.5h5m-2.5-2.5v5M674 1045.5h5m-2.5-2.5v5M674 1032.5h5m-2.5-2.5v5M674 1042.5h5m-2.5-2.5v5M674 1050.5h5m-2.5-2.5v5M674 1041.5h5m-2.5-2.5v5M674 994.5h5m-2.5-2.5v5M675 1016.5h5m-2.5-2.5v5M675 1053.5h5m-2.5-2.5v5M675 1043.5h5m-2.5-2.5v5M675 1031.5h5m-2.5-2.5v5M676 1036.5h5m-2.5-2.5v5M676 1029.5h5m-2.5-2.5v5M676 1028.5h5m-2.5-2.5v5M676 1046.5h5m-2.5-2.5v5M676 992.5h5m-2.5-2.5v5M676 1057.5h5m-2.5-2.5v5M677 1039.5h5m-2.5-2.5v5M677 1030.5h5m-2.5-2.5v5M677 1042.5h5m-2.5-2.5v5M677 1017.5h5m-2.5-2.5v5M677 1007.5h5m-2.5-2.5v5M677 1013.5h5m-2.5-2.5v5M677 1008.5h5m-2.5-2.5v5M677 1037.5h5m-2.5-2.5v5M677 1037.5h5m-2.5-2.5v5M677 1059.5h5m-2.5-2.5v5M677 1059.5h5m-2.5-2.5v5M678 1009.5h5m-2.5-2.5v5M678 1003.5h5m-2.5-2.5v5M678 1017.5h5m-2.5-2.5v5M678 1051.5h5m-2.5-2.5v5M678 1037.5h5m-2.5-2.5v5M678 1001.5h5m-2.5-2.5v5M678 1015.5h5m-2.5-2.5v5M678 1037.5h5m-2.5-2.5v5M679 1041.5h5m-2.5-2.5v5M679 1016.5h5m-2.5-2.5v5M679 1015.5h5m-2.5-2.5v5M679 1030.5h5m-2.5-2.5v5M679 999.5h5m-2.5-2.5v5M680 1041.5h5m-2.5-2.5v5M680 1000.5h5m-2.5-2.5v5M680 1059.5h5m-2.5-2.5v5M680 1000.5h5m-2.5-2.5v5M680 1051.5h5m-2.5-2.5v5M680 1026.5h5m-2.5-2.5v5M680 1030.5h5m-2.5-2.5v5M680 1063.5h5m-2.5-2.5v5M681 1001.5h5m-2.5-2.5v5M681 1052.5h5m-2.5-2.5v5M681 1026.5h5m-2.5-2.5v5M681 1024.5h5m-2.5-2.5v5M681 1015.5h5m-2.5-2.5v5M681 1058.5h5m-2.5-2.5v5M681 1029.5h5m-2.5-2.5v5M681 1036.5h5m-2.5-2.5v5M681 1016.5h5m-2.5-2.5v5M681 1028.5h5m-2.5-2.5v5M681 1045.5h5m-2.5-2.5v5M681 1016.5h5m-2.5-2.5v5M681 1060.5h5m-2.5-2.5v5M681 998.5h5m-2.5-2.5v5M681 1064.5h5m-2.5-2.5v5M682 1021.5h5m-2.5-2.5v5M682 1020.5h5m-2.5-2.5v5M682 1008.5h5m-2.5-2.5v5M682 1013.5h5m-2.5-2.5v5M682 1006.5h5m-2.5-2.5v5M682 1005.5h5m-2.5-2.5v5M682 1057.5h5m-2.5-2.5v5M682 1016.5h5m-2.5-2.5v5M682 1058.5h5m-2.5-2.5v5M682 1063.5h5m-2.5-2.5v5M683 1014.5h5m-2.5-2.5v5M683 1037.5h5m-2.5-2.5v5M683 1019.5h5m-2.5-2.5v5M683 1010.5h5m-2.5-2.5v5M683 1017.5h5m-2.5-2.5v5M683 1007.5h5m-2.5-2.5v5M684 1047.5h5m-2.5-2.5v5M684 1036.5h5m-2.5-2.5v5M684 1052.5h5m-2.5-2.5v5M684 1054.5h5m-2.5-2.5v5M684 1023.5h5m-2.5-2.5v5M684 1019.5h5m-2.5-2.5v5M684 1024.5h5m-2.5-2.5v5M684 989.5h5m-2.5-2.5v5M684 991.5h5m-2.5-2.5v5M685 1023.5h5m-2.5-2.5v5M685 1048.5h5m-2.5-2.5v5M685 1049.5h5m-2.5-2.5v5M686 997.5h5m-2.5-2.5v5M686 1016.5h5m-2.5-2.5v5M686 1043.5h5m-2.5-2.5v5M686 1049.5h5m-2.5-2.5v5M686 1000.5h5m-2.5-2.5v5M686 1046.5h5m-2.5-2.5v5M686 993.5h5m-2.5-2.5v5M687 1032.5h5m-2.5-2.5v5M687 1027.5h5m-2.5-2.5v5M687 1006.5h5m-2.5-2.5v5M687 1039.5h5m-2.5-2.5v5M687 1044.5h5m-2.5-2.5v5M687 1039.5h5m-2.5-2.5v5M687 994.5h5m-2.5-2.5v5M687 1056.5h5m-2.5-2.5v5M688 1003.5h5m-2.5-2.5v5M688 1041.5h5m-2.5-2.5v5M688 1035.5h5m-2.5-2.5v5M688 1005.5h5m-2.5-2.5v5M688 1033.5h5m-2.5-2.5v5M688 1014.5h5m-2.5-2.5v5M688 992.5h5m-2.5-2.5v5M688 990.5h5m-2.5-2.5v5M689 1057.5h5m-2.5-2.5v5M689 1003.5h5m-2.5-2.5v5M689 1051.5h5m-2.5-2.5v5M689 1021.5h5m-2.5-2.5v5M689 1045.5h5m-2.5-2.5v5M689 1050.5h5m-2.5-2.5v5M689 1044.5h5m-2.5-2.5v5M689 995.5h5m-2.5-2.5v5M690 999.5h5m-2.5-2.5v5M690 1021.5h5m-2.5-2.5v5M690 1027.5h5m-2.5-2.5v5M690 1055.5h5m-2.5-2.5v5M690 1057.5h5m-2.5-2.5v5M690 1008.5h5m-2.5-2.5v5M690 1007.5h5m-2.5-2.5v5M691 1004.5h5m-2.5-2.5v5M691 999.5h5m-2.5-2.5v5M691 1047.5h5m-2.5-2.5v5M691 1046.5h5m-2.5-2.5v5M691 1004.5h5m-2.5-2.5v5M692 1058.5h5m-2.5-2.5v5M692 1044.5h5m-2.5-2.5v5M692 1025.5h5m-2.5-2.5v5M692 1010.5h5m-2.5-2.5v5M692 1049.5h5m-2.5-2.5v5M692 1012.5h5m-2.5-2.5v5M692 1011.5h5m-2.5-2.5v5M693 1025.5h5m-2.5-2.5v5M693 1005.5h5m-2.5-2.5v5M693 1017.5h5m-2.5-2.5v5M693 1000.5h5m-2.5-2.5v5M693 1055.5h5m-2.5-2.5v5M693 1025.5h5m-2.5-2.5v5M693 1030.5h5m-2.5-2.5v5M693 1045.5h5m-2.5-2.5v5M693 989.5h5m-2.5-2.5v5M694 1010.5h5m-2.5-2.5v5M694 1045.5h5m-2.5-2.5v5M694 1000.5h5m-2.5-2.5v5M694 1054.5h5m-2.5-2.5v5M694 1003.5h5m-2.5-2.5v5M694 1038.5h5m-2.5-2.5v5M694 1005.5h5m-2.5-2.5v5M694 1046.5h5m-2.5-2.5v5M694 1029.5h5m-2.5-2.5v5M694 1000.5h5m-2.5-2.5v5M695 1024.5h5m-2.5-2.5v5M695 1041.5h5m-2.5-2.5v5M695 1014.5h5m-2.5-2.5v5M695 995.5h5m-2.5-2.5v5M695 1006.5h5m-2.5-2.5v5M695 1015.5h5m-2.5-2.5v5M695 1005.5h5m-2.5-2.5v5M695 1045.5h5m-2.5-2.5v5M696 1031.5h5m-2.5-2.5v5M696 1046.5h5m-2.5-2.5v5M696 1046.5h5m-2.5-2.5v5M696 1017.5h5m-2.5-2.5v5M696 1031.5h5m-2.5-2.5v5M696 1047.5h5m-2.5-2.5v5M696 1043.5h5m-2.5-2.5v5M696 1003.5h5m-2.5-2.5v5M696 1058.5h5m-2.5-2.5v5M697 1047.5h5m-2.5-2.5v5M697 1053.5h5m-2.5-2.5v5M697 1044.5h5m-2.5-2.5v5M697 1035.5h5m-2.5-2.5v5M697 998.5h5m-2.5-2.5v5M697 997.5h5m-2.5-2.5v5M697 1039.5h5m-2.5-2.5v5M697 1008.5h5m-2.5-2.5v5M697 1055.5h5m-2.5-2.5v5M697 1035.5h5m-2.5-2.5v5M698 1014.5h5m-2.5-2.5v5M698 1048.5h5m-2.5-2.5v5M698 1011.5h5m-2.5-2.5v5M698 998.5h5m-2.5-2.5v5M698 993.5h5m-2.5-2.5v5M698 1011.5h5m-2.5-2.5v5M698 995.5h5m-2.5-2.5v5M698 1038.5h5m-2.5-2.5v5M698 1010.5h5m-2.5-2.5v5M698 1009.5h5m-2.5-2.5v5M698 1002.5h5m-2.5-2.5v5M698 991.5h5m-2.5-2.5v5M699 1029.5h5m-2.5-2.5v5M699 993.5h5m-2.5-2.5v5M699 1041.5h5m-2.5-2.5v5M699 1044.5h5m-2.5-2.5v5M699 1036.5h5m-2.5-2.5v5M699 1013.5h5m-2.5-2.5v5M699 1002.5h5m-2.5-2.5v5M699 1048.5h5m-2.5-2.5v5M699 988.5h5m-2.5-2.5v5M699 1061.5h5m-2.5-2.5v5M700 1018.5h5m-2.5-2.5v5M700 1035.5h5m-2.5-2.5v5M700 1043.5h5m-2.5-2.5v5M700 995.5h5m-2.5-2.5v5M700 1050.5h5m-2.5-2.5v5M700 1052.5h5m-2.5-2.5v5M700 1019.5h5m-2.5-2.5v5M700 1006.5h5m-2.5-2.5v5M700 1056.5h5m-2.5-2.5v5M700 986.5h5m-2.5-2.5v5M700 1059.5h5m-2.5-2.5v5M700 1059.5h5m-2.5-2.5v5M701 1001.5h5m-2.5-2.5v5M701 1009.5h5m-2.5-2.5v5M701 1035.5h5m-2.5-2.5v5M701 1052.5h5m-2.5-2.5v5M701 996.5h5m-2.5-2.5v5M701 1011.5h5m-2.5-2.5v5M701 1044.5h5m-2.5-2.5v5M701 982.5h5m-2.5-2.5v5M701 984.5h5m-2.5-2.5v5M702 1026.5h5m-2.5-2.5v5M702 1023.5h5m-2.5-2.5v5M702 1008.5h5m-2.5-2.5v5M702 1039.5h5m-2.5-2.5v5M702 1003.5h5m-2.5-2.5v5M702 1026.5h5m-2.5-2.5v5M702 1017.5h5m-2.5-2.5v5M702 1000.5h5m-2.5-2.5v5M703 1029.5h5m-2.5-2.5v5M703 1053.5h5m-2.5-2.5v5M703 1017.5h5m-2.5-2.5v5M703 1050.5h5m-2.5-2.5v5M703 1043.5h5m-2.5-2.5v5M703 988.5h5m-2.5-2.5v5M703 989.5h5m-2.5-2.5v5M704 1001.5h5m-2.5-2.5v5M704 1008.5h5m-2.5-2.5v5M704 1018.5h5m-2.5-2.5v5M704 1028.5h5m-2.5-2.5v5M704 998.5h5m-2.5-2.5v5M704 1004.5h5m-2.5-2.5v5M704 1019.5h5m-2.5-2.5v5M704 1048.5h5m-2.5-2.5v5M704 1054.5h5m-2.5-2.5v5M704 1041.5h5m-2.5-2.5v5M704 1049.5h5m-2.5-2.5v5M704 979.5h5m-2.5-2.5v5M705 1051.5h5m-2.5-2.5v5M705 1028.5h5m-2.5-2.5v5M705 1028.5h5m-2.5-2.5v5M705 1017.5h5m-2.5-2.5v5M705 1020.5h5m-2.5-2.5v5M705 1006.5h5m-2.5-2.5v5M706 1002.5h5m-2.5-2.5v5M706 1036.5h5m-2.5-2.5v5M706 1036.5h5m-2.5-2.5v5M706 1037.5h5m-2.5-2.5v5M706 1019.5h5m-2.5-2.5v5M706 987.5h5m-2.5-2.5v5M707 1014.5h5m-2.5-2.5v5M707 999.5h5m-2.5-2.5v5M707 1006.5h5m-2.5-2.5v5M707 1056.5h5m-2.5-2.5v5M708 1013.5h5m-2.5-2.5v5M708 1036.5h5m-2.5-2.5v5M708 1033.5h5m-2.5-2.5v5M709 992.5h5m-2.5-2.5v5M709 1015.5h5m-2.5-2.5v5M709 1003.5h5m-2.5-2.5v5M709 1001.5h5m-2.5-2.5v5M709 1052.5h5m-2.5-2.5v5M709 1047.5h5m-2.5-2.5v5M709 1022.5h5m-2.5-2.5v5M709 1048.5h5m-2.5-2.5v5M709 989.5h5m-2.5-2.5v5M709 985.5h5m-2.5-2.5v5M710 1007.5h5m-2.5-2.5v5M710 1036.5h5m-2.5-2.5v5M710 1007.5h5m-2.5-2.5v5M710 1031.5h5m-2.5-2.5v5M710 1019.5h5m-2.5-2.5v5M710 1030.5h5m-2.5-2.5v5M710 1013.5h5m-2.5-2.5v5M711 1038.5h5m-2.5-2.5v5M711 1004.5h5m-2.5-2.5v5M711 1027.5h5m-2.5-2.5v5M711 1034.5h5m-2.5-2.5v5M711 1037.5h5m-2.5-2.5v5M711 1036.5h5m-2.5-2.5v5M711 1024.5h5m-2.5-2.5v5M712 1010.5h5m-2.5-2.5v5M712 1045.5h5m-2.5-2.5v5M712 1018.5h5m-2.5-2.5v5M712 1056.5h5m-2.5-2.5v5M712 1054.5h5m-2.5-2.5v5M712 1054.5h5m-2.5-2.5v5M712 1056.5h5m-2.5-2.5v5M713 1044.5h5m-2.5-2.5v5M713 996.5h5m-2.5-2.5v5M713 1010.5h5m-2.5-2.5v5M713 1009.5h5m-2.5-2.5v5M713 1052.5h5m-2.5-2.5v5M714 1031.5h5m-2.5-2.5v5M714 1048.5h5m-2.5-2.5v5M714 1013.5h5m-2.5-2.5v5M714 998.5h5m-2.5-2.5v5M714 1035.5h5m-2.5-2.5v5M715 1042.5h5m-2.5-2.5v5M715 1036.5h5m-2.5-2.5v5M715 1044.5h5m-2.5-2.5v5M715 1048.5h5m-2.5-2.5v5M715 1041.5h5m-2.5-2.5v5M715 1005.5h5m-2.5-2.5v5M715 1014.5h5m-2.5-2.5v5M715 1027.5h5m-2.5-2.5v5M715 986.5h5m-2.5-2.5v5M715 991.5h5m-2.5-2.5v5M716 1022.5h5m-2.5-2.5v5M716 1037.5h5m-2.5-2.5v5M716 1032.5h5m-2.5-2.5v5M716 1049.5h5m-2.5-2.5v5M716 1035.5h5m-2.5-2.5v5M717 1044.5h5m-2.5-2.5v5M717 1029.5h5m-2.5-2.5v5M717 1019.5h5m-2.5-2.5v5M717 1040.5h5m-2.5-2.5v5M717 1046.5h5m-2.5-2.5v5M717 1022.5h5m-2.5-2.5v5M717 1050.5h5m-2.5-2.5v5M718 1045.5h5m-2.5-2.5v5M718 1022.5h5m-2.5-2.5v5M718 1038.5h5m-2.5-2.5v5M718 991.5h5m-2.5-2.5v5M718 1050.5h5m-2.5-2.5v5M719 1004.5h5m-2.5-2.5v5M719 1041.5h5m-2.5-2.5v5M719 996.5h5m-2.5-2.5v5M719 994.5h5m-2.5-2.5v5M719 1043.5h5m-2.5-2.5v5M719 1035.5h5m-2.5-2.5v5M719 1017.5h5m-2.5-2.5v5M719 1000.5h5m-2.5-2.5v5M719 1024.5h5m-2.5-2.5v5M719 1002.5h5m-2.5-2.5v5M719 990.5h5m-2.5-2.5v5M720 1024.5h5m-2.5-2.5v5M720 1034.5h5m-2.5-2.5v5M720 1000.5h5m-2.5-2.5v5M721 1047.5h5m-2.5-2.5v5M721 1025.5h5m-2.5-2.5v5M721 1040.5h5m-2.5-2.5v5M721 1003.5h5m-2.5-2.5v5M721 996.5h5m-2.5-2.5v5M721 1019.5h5m-2.5-2.5v5M722 1026.5h5m-2.5-2.5v5M722 984.5h5m-2.5-2.5v5M723 1035.5h5m-2.5-2.5v5M723 1005.5h5m-2.5-2.5v5M723 1015.5h5m-2.5-2.5v5M724 997.5h5m-2.5-2.5v5M724 1017.5h5m-2.5-2.5v5M724 1045.5h5m-2.5-2.5v5M724 995.5h5m-2.5-2.5v5M724 1025.5h5m-2.5-2.5v5M724 996.5h5m-2.5-2.5v5M724 1009.5h5m-2.5-2.5v5M724 1040.5h5m-2.5-2.5v5M724 1022.5h5m-2.5-2.5v5M725 1028.5h5m-2.5-2.5v5M725 1031.5h5m-2.5-2.5v5M725 1028.5h5m-2.5-2.5v5M725 1019.5h5m-2.5-2.5v5M725 1035.5h5m-2.5-2.5v5M725 1033.5h5m-2.5-2.5v5M725 1009.5h5m-2.5-2.5v5M725 1038.5h5m-2.5-2.5v5M725 993.5h5m-2.5-2.5v5M725 989.5h5m-2.5-2.5v5M726 1019.5h5m-2.5-2.5v5M726 1032.5h5m-2.5-2.5v5M726 1002.5h5m-2.5-2.5v5M727 1043.5h5m-2.5-2.5v5M727 1005.5h5m-2.5-2.5v5M728 1037.5h5m-2.5-2.5v5M728 999.5h5m-2.5-2.5v5M728 1019.5h5m-2.5-2.5v5M728 1002.5h5m-2.5-2.5v5M728 995.5h5m-2.5-2.5v5M728 1048.5h5m-2.5-2.5v5M729 1021.5h5m-2.5-2.5v5M729 1040.5h5m-2.5-2.5v5M729 1006.5h5m-2.5-2.5v5M729 1021.5h5m-2.5-2.5v5M729 1015.5h5m-2.5-2.5v5M729 993.5h5m-2.5-2.5v5M730 1043.5h5m-2.5-2.5v5M730 1034.5h5m-2.5-2.5v5M730 1004.5h5m-2.5-2.5v5M730 1028.5h5m-2.5-2.5v5M731 1003.5h5m-2.5-2.5v5M732 992.5h5m-2.5-2.5v5M733 1020.5h5m-2.5-2.5v5M734 1025.5h5m-2.5-2.5v5M734 1037.5h5m-2.5-2.5v5M734 1026.5h5m-2.5-2.5v5M735 1016.5h5m-2.5-2.5v5M735 1049.5h5m-2.5-2.5v5M735 1012.5h5m-2.5-2.5v5M735 1019.5h5m-2.5-2.5v5M735 1055.5h5m-2.5-2.5v5M736 1040.5h5m-2.5-2.5v5M736 1032.5h5m-2.5-2.5v5M736 1024.5h5m-2.5-2.5v5M737 1004.5h5m-2.5-2.5v5M738 998.5h5m-2.5-2.5v5M738 1013.5h5m-2.5-2.5v5M738 1008.5h5m-2.5-2.5v5M738 1051.5h5m-2.5-2.5v5M738 1040.5h5m-2.5-2.5v5M738 1038.5h5m-2.5-2.5v5M739 1051.5h5m-2.5-2.5v5M739 1050.5h5m-2.5-2.5v5M739 996.5h5m-2.5-2.5v5M741 1028.5h5m-2.5-2.5v5M741 1027.5h5m-2.5-2.5v5M742 1004.5h5m-2.5-2.5v5M742 1006.5h5m-2.5-2.5v5M743 1040.5h5m-2.5-2.5v5M743 1056.5h5m-2.5-2.5v5M745 1002.5h5m-2.5-2.5v5M746 1024.5h5m-2.5-2.5v5M746 1043.5h5m-2.5-2.5v5M747 1057.5h5m-2.5-2.5v5M747 1024.5h5m-2.5-2.5v5M748 1027.5h5m-2.5-2.5v5M748 1013.5h5m-2.5-2.5v5M749 1011.5h5m-2.5-2.5v5M749 1048.5h5m-2.5-2.5v5M750 1004.5h5m-2.5-2.5v5M752 1040.5h5m-2.5-2.5v5M752 1005.5h5m-2.5-2.5v5M752 1062.5h5m-2.5-2.5v5M755 1052.5h5m-2.5-2.5v5M755 1017.5h5m-2.5-2.5v5M757 1028.5h5m-2.5-2.5v5M760 1023.5h5m-2.5-2.5v5M760 1025.5h5m-2.5-2.5v5M761 1050.5h5m-2.5-2.5v5M767 1054.5h5m-2.5-2.5v5M769 1016.5h5m-2.5-2.5v5M772 1056.5h5m-2.5-2.5v5M773 1059.5h5m-2.5-2.5v5M776 1030.5h5m-2.5-2.5v5M776 1045.5h5m-2.5-2.5v5M680 1069.5h5m-2.5-2.5v5M697 1069.5h5m-2.5-2.5v5M693 1077.5h5m-2.5-2.5v5M710 973.5h5m-2.5-2.5v5M686 980.5h5m-2.5-2.5v5M703 976.5h5m-2.5-2.5v5M733 948.5h5m-2.5-2.5v5M724 958.5h5m-2.5-2.5v5M706 970.5h5m-2.5-2.5v5M717 970.5h5m-2.5-2.5v5M724 956.5h5m-2.5-2.5v5M696 982.5h5m-2.5-2.5v5M738 953.5h5m-2.5-2.5v5M698 985.5h5m-2.5-2.5v5M730 968.5h5m-2.5-2.5v5M756 964.5h5m-2.5-2.5v5M721 1057.5h5m-2.5-2.5v5M715 1067.5h5m-2.5-2.5v5M774 978.5h5m-2.5-2.5v5M759 1068.5h5m-2.5-2.5v5M741 991.5h5m-2.5-2.5v5M770 1039.5h5m-2.5-2.5v5M703 979.5h5m-2.5-2.5v5M749 983.5h5m-2.5-2.5v5M763 1036.5h5m-2.5-2.5v5M687 953.5h5m-2.5-2.5v5M668 989.5h5m-2.5-2.5v5" stroke="#363636" stroke-opacity="0.58" stroke-width="1.2" fill="none"/>
<path d="M663 1016.5h5m-2.5-2.5v5M663 1030.5h5m-2.5-2.5v5M664 1021.5h5m-2.5-2.5v5M664 1013.5h5m-2.5-2.5v5M665 1011.5h5m-2.5-2.5v5M665 1027.5h5m-2.5-2.5v5M666 1035.5h5m-2.5-2.5v5M666 1032.5h5m-2.5-2.5v5M666 1039.5h5m-2.5-2.5v5M666 1021.5h5m-2.5-2.5v5M666 1011.5h5m-2.5-2.5v5M666 1013.5h5m-2.5-2.5v5M666 1007.5h5m-2.5-2.5v5M667 1028.5h5m-2.5-2.5v5M667 1009.5h5m-2.5-2.5v5M667 1023.5h5m-2.5-2.5v5M667 1027.5h5m-2.5-2.5v5M667 1035.5h5m-2.5-2.5v5M668 1040.5h5m-2.5-2.5v5M668 1019.5h5m-2.5-2.5v5M668 1015.5h5m-2.5-2.5v5M668 1031.5h5m-2.5-2.5v5M669 1034.5h5m-2.5-2.5v5M669 1021.5h5m-2.5-2.5v5M669 1022.5h5m-2.5-2.5v5M669 1030.5h5m-2.5-2.5v5M669 1035.5h5m-2.5-2.5v5M670 1039.5h5m-2.5-2.5v5M670 1029.5h5m-2.5-2.5v5M670 1013.5h5m-2.5-2.5v5M670 1004.5h5m-2.5-2.5v5M671 1036.5h5m-2.5-2.5v5M671 1024.5h5m-2.5-2.5v5M671 1021.5h5m-2.5-2.5v5M671 1009.5h5m-2.5-2.5v5M671 1038.5h5m-2.5-2.5v5M671 1001.5h5m-2.5-2.5v5M672 1036.5h5m-2.5-2.5v5M672 1048.5h5m-2.5-2.5v5M672 1022.5h5m-2.5-2.5v5M672 1024.5h5m-2.5-2.5v5M672 1048.5h5m-2.5-2.5v5M672 1036.5h5m-2.5-2.5v5M672 1026.5h5m-2.5-2.5v5M672 1036.5h5m-2.5-2.5v5M673 1011.5h5m-2.5-2.5v5M673 1031.5h5m-2.5-2.5v5M673 1013.5h5m-2.5-2.5v5M673 1009.5h5m-2.5-2.5v5M673 1018.5h5m-2.5-2.5v5M673 1032.5h5m-2.5-2.5v5M674 1014.5h5m-2.5-2.5v5M674 1038.5h5m-2.5-2.5v5M674 1008.5h5m-2.5-2.5v5M674 1022.5h5m-2.5-2.5v5M674 1052.5h5m-2.5-2.5v5M675 1050.5h5m-2.5-2.5v5M675 1043.5h5m-2.5-2.5v5M675 1049.5h5m-2.5-2.5v5M675 1034.5h5m-2.5-2.5v5M675 1023.5h5m-2.5-2.5v5M675 1014.5h5m-2.5-2.5v5M675 1004.5h5m-2.5-2.5v5M675 1041.5h5m-2.5-2.5v5M676 1041.5h5m-2.5-2.5v5M676 1016.5h5m-2.5-2.5v5M676 1052.5h5m-2.5-2.5v5M676 1048.5h5m-2.5-2.5v5M676 1058.5h5m-2.5-2.5v5M677 1034.5h5m-2.5-2.5v5M677 1005.5h5m-2.5-2.5v5M677 1025.5h5m-2.5-2.5v5M677 1038.5h5m-2.5-2.5v5M677 1002.5h5m-2.5-2.5v5M677 1034.5h5m-2.5-2.5v5M677 1051.5h5m-2.5-2.5v5M677 1001.5h5m-2.5-2.5v5M677 1040.5h5m-2.5-2.5v5M677 1051.5h5m-2.5-2.5v5M678 1015.5h5m-2.5-2.5v5M678 1044.5h5m-2.5-2.5v5M678 1056.5h5m-2.5-2.5v5M678 1023.5h5m-2.5-2.5v5M678 1001.5h5m-2.5-2.5v5M678 1025.5h5m-2.5-2.5v5M678 1015.5h5m-2.5-2.5v5M679 1024.5h5m-2.5-2.5v5M679 1018.5h5m-2.5-2.5v5M679 1053.5h5m-2.5-2.5v5M679 1000.5h5m-2.5-2.5v5M679 1030.5h5m-2.5-2.5v5M679 1023.5h5m-2.5-2.5v5M679 1028.5h5m-2.5-2.5v5M679 1057.5h5m-2.5-2.5v5M679 1004.5h5m-2.5-2.5v5M679 1022.5h5m-2.5-2.5v5M679 1001.5h5m-2.5-2.5v5M679 994.5h5m-2.5-2.5v5M680 1055.5h5m-2.5-2.5v5M680 1041.5h5m-2.5-2.5v5M680 1041.5h5m-2.5-2.5v5M680 1017.5h5m-2.5-2.5v5M680 1059.5h5m-2.5-2.5v5M680 1020.5h5m-2.5-2.5v5M681 1011.5h5m-2.5-2.5v5M681 1001.5h5m-2.5-2.5v5M681 1010.5h5m-2.5-2.5v5M681 999.5h5m-2.5-2.5v5M681 1023.5h5m-2.5-2.5v5M681 1044.5h5m-2.5-2.5v5M681 1006.5h5m-2.5-2.5v5M681 1039.5h5m-2.5-2.5v5M681 1005.5h5m-2.5-2.5v5M682 1038.5h5m-2.5-2.5v5M682 1046.5h5m-2.5-2.5v5M682 1001.5h5m-2.5-2.5v5M682 1043.5h5m-2.5-2.5v5M682 1020.5h5m-2.5-2.5v5M682 1053.5h5m-2.5-2.5v5M682 1022.5h5m-2.5-2.5v5M682 1044.5h5m-2.5-2.5v5M682 995.5h5m-2.5-2.5v5M683 1054.5h5m-2.5-2.5v5M683 1056.5h5m-2.5-2.5v5M683 1032.5h5m-2.5-2.5v5M683 1050.5h5m-2.5-2.5v5M683 1029.5h5m-2.5-2.5v5M684 1008.5h5m-2.5-2.5v5M684 1041.5h5m-2.5-2.5v5M684 1000.5h5m-2.5-2.5v5M684 1055.5h5m-2.5-2.5v5M685 1055.5h5m-2.5-2.5v5M685 1023.5h5m-2.5-2.5v5M685 1041.5h5m-2.5-2.5v5M685 1026.5h5m-2.5-2.5v5M685 1023.5h5m-2.5-2.5v5M685 1054.5h5m-2.5-2.5v5M685 1056.5h5m-2.5-2.5v5M685 1043.5h5m-2.5-2.5v5M685 1015.5h5m-2.5-2.5v5M685 1048.5h5m-2.5-2.5v5M686 998.5h5m-2.5-2.5v5M686 1012.5h5m-2.5-2.5v5M686 1041.5h5m-2.5-2.5v5M686 1027.5h5m-2.5-2.5v5M686 1001.5h5m-2.5-2.5v5M686 1009.5h5m-2.5-2.5v5M686 1024.5h5m-2.5-2.5v5M686 1047.5h5m-2.5-2.5v5M687 1017.5h5m-2.5-2.5v5M687 1034.5h5m-2.5-2.5v5M687 1006.5h5m-2.5-2.5v5M687 1032.5h5m-2.5-2.5v5M687 1047.5h5m-2.5-2.5v5M687 987.5h5m-2.5-2.5v5M687 995.5h5m-2.5-2.5v5M688 1010.5h5m-2.5-2.5v5M688 1021.5h5m-2.5-2.5v5M688 1034.5h5m-2.5-2.5v5M688 1053.5h5m-2.5-2.5v5M688 1050.5h5m-2.5-2.5v5M688 1018.5h5m-2.5-2.5v5M688 1004.5h5m-2.5-2.5v5M688 991.5h5m-2.5-2.5v5M689 1018.5h5m-2.5-2.5v5M689 1011.5h5m-2.5-2.5v5M689 1022.5h5m-2.5-2.5v5M689 1000.5h5m-2.5-2.5v5M689 1052.5h5m-2.5-2.5v5M689 1029.5h5m-2.5-2.5v5M689 1018.5h5m-2.5-2.5v5M689 1010.5h5m-2.5-2.5v5M690 1001.5h5m-2.5-2.5v5M690 1027.5h5m-2.5-2.5v5M690 1036.5h5m-2.5-2.5v5M690 1021.5h5m-2.5-2.5v5M690 1011.5h5m-2.5-2.5v5M690 1048.5h5m-2.5-2.5v5M690 1034.5h5m-2.5-2.5v5M690 986.5h5m-2.5-2.5v5M691 1013.5h5m-2.5-2.5v5M691 1011.5h5m-2.5-2.5v5M691 1035.5h5m-2.5-2.5v5M691 1033.5h5m-2.5-2.5v5M691 1020.5h5m-2.5-2.5v5M691 1026.5h5m-2.5-2.5v5M691 1020.5h5m-2.5-2.5v5M691 1054.5h5m-2.5-2.5v5M692 1043.5h5m-2.5-2.5v5M692 1053.5h5m-2.5-2.5v5M692 1037.5h5m-2.5-2.5v5M692 1016.5h5m-2.5-2.5v5M692 1009.5h5m-2.5-2.5v5M692 1048.5h5m-2.5-2.5v5M692 995.5h5m-2.5-2.5v5M692 1003.5h5m-2.5-2.5v5M692 1015.5h5m-2.5-2.5v5M692 1042.5h5m-2.5-2.5v5M692 1061.5h5m-2.5-2.5v5M693 1036.5h5m-2.5-2.5v5M693 997.5h5m-2.5-2.5v5M693 1057.5h5m-2.5-2.5v5M693 1050.5h5m-2.5-2.5v5M694 1002.5h5m-2.5-2.5v5M694 1022.5h5m-2.5-2.5v5M694 1003.5h5m-2.5-2.5v5M694 1008.5h5m-2.5-2.5v5M694 1011.5h5m-2.5-2.5v5M694 1048.5h5m-2.5-2.5v5M694 1043.5h5m-2.5-2.5v5M695 1026.5h5m-2.5-2.5v5M695 1017.5h5m-2.5-2.5v5M695 1003.5h5m-2.5-2.5v5M695 1028.5h5m-2.5-2.5v5M695 995.5h5m-2.5-2.5v5M695 1025.5h5m-2.5-2.5v5M695 1057.5h5m-2.5-2.5v5M695 1045.5h5m-2.5-2.5v5M695 986.5h5m-2.5-2.5v5M696 1012.5h5m-2.5-2.5v5M696 1002.5h5m-2.5-2.5v5M696 1009.5h5m-2.5-2.5v5M696 1036.5h5m-2.5-2.5v5M696 995.5h5m-2.5-2.5v5M696 1047.5h5m-2.5-2.5v5M696 1047.5h5m-2.5-2.5v5M696 994.5h5m-2.5-2.5v5M697 1037.5h5m-2.5-2.5v5M697 1042.5h5m-2.5-2.5v5M697 1008.5h5m-2.5-2.5v5M697 1027.5h5m-2.5-2.5v5M697 988.5h5m-2.5-2.5v5M697 1059.5h5m-2.5-2.5v5M698 1035.5h5m-2.5-2.5v5M698 1012.5h5m-2.5-2.5v5M698 1046.5h5m-2.5-2.5v5M698 1033.5h5m-2.5-2.5v5M699 1024.5h5m-2.5-2.5v5M699 1049.5h5m-2.5-2.5v5M699 1016.5h5m-2.5-2.5v5M699 1014.5h5m-2.5-2.5v5M699 1007.5h5m-2.5-2.5v5M699 1040.5h5m-2.5-2.5v5M699 1026.5h5m-2.5-2.5v5M699 1043.5h5m-2.5-2.5v5M700 995.5h5m-2.5-2.5v5M700 1009.5h5m-2.5-2.5v5M700 1047.5h5m-2.5-2.5v5M700 1033.5h5m-2.5-2.5v5M700 1034.5h5m-2.5-2.5v5M700 1007.5h5m-2.5-2.5v5M700 1028.5h5m-2.5-2.5v5M700 1046.5h5m-2.5-2.5v5M700 1038.5h5m-2.5-2.5v5M700 990.5h5m-2.5-2.5v5M701 995.5h5m-2.5-2.5v5M701 1040.5h5m-2.5-2.5v5M701 1035.5h5m-2.5-2.5v5M701 1035.5h5m-2.5-2.5v5M702 997.5h5m-2.5-2.5v5M702 1031.5h5m-2.5-2.5v5M702 1014.5h5m-2.5-2.5v5M702 1022.5h5m-2.5-2.5v5M702 994.5h5m-2.5-2.5v5M702 1020.5h5m-2.5-2.5v5M702 1000.5h5m-2.5-2.5v5M702 996.5h5m-2.5-2.5v5M702 1007.5h5m-2.5-2.5v5M702 1009.5h5m-2.5-2.5v5M702 1004.5h5m-2.5-2.5v5M703 1036.5h5m-2.5-2.5v5M703 1008.5h5m-2.5-2.5v5M703 1006.5h5m-2.5-2.5v5M703 1034.5h5m-2.5-2.5v5M703 990.5h5m-2.5-2.5v5M704 1008.5h5m-2.5-2.5v5M704 1040.5h5m-2.5-2.5v5M704 1015.5h5m-2.5-2.5v5M704 1024.5h5m-2.5-2.5v5M704 1011.5h5m-2.5-2.5v5M704 1014.5h5m-2.5-2.5v5M704 1055.5h5m-2.5-2.5v5M704 1009.5h5m-2.5-2.5v5M704 991.5h5m-2.5-2.5v5M705 1056.5h5m-2.5-2.5v5M705 1054.5h5m-2.5-2.5v5M705 1015.5h5m-2.5-2.5v5M705 1043.5h5m-2.5-2.5v5M705 1017.5h5m-2.5-2.5v5M705 1009.5h5m-2.5-2.5v5M705 1017.5h5m-2.5-2.5v5M705 984.5h5m-2.5-2.5v5M706 1045.5h5m-2.5-2.5v5M706 1000.5h5m-2.5-2.5v5M706 1020.5h5m-2.5-2.5v5M706 1011.5h5m-2.5-2.5v5M706 1034.5h5m-2.5-2.5v5M706 1019.5h5m-2.5-2.5v5M706 990.5h5m-2.5-2.5v5M707 1026.5h5m-2.5-2.5v5M707 1042.5h5m-2.5-2.5v5M707 1007.5h5m-2.5-2.5v5M708 1054.5h5m-2.5-2.5v5M708 1035.5h5m-2.5-2.5v5M708 1008.5h5m-2.5-2.5v5M708 1002.5h5m-2.5-2.5v5M708 1035.5h5m-2.5-2.5v5M708 1005.5h5m-2.5-2.5v5M708 1030.5h5m-2.5-2.5v5M708 1029.5h5m-2.5-2.5v5M708 1030.5h5m-2.5-2.5v5M709 1001.5h5m-2.5-2.5v5M709 1048.5h5m-2.5-2.5v5M709 1008.5h5m-2.5-2.5v5M709 1033.5h5m-2.5-2.5v5M709 1037.5h5m-2.5-2.5v5M710 996.5h5m-2.5-2.5v5M710 1040.5h5m-2.5-2.5v5M710 996.5h5m-2.5-2.5v5M710 995.5h5m-2.5-2.5v5M710 1035.5h5m-2.5-2.5v5M710 1048.5h5m-2.5-2.5v5M710 1008.5h5m-2.5-2.5v5M710 1054.5h5m-2.5-2.5v5M710 981.5h5m-2.5-2.5v5M711 1018.5h5m-2.5-2.5v5M711 1044.5h5m-2.5-2.5v5M711 1052.5h5m-2.5-2.5v5M711 1048.5h5m-2.5-2.5v5M711 1004.5h5m-2.5-2.5v5M711 1044.5h5m-2.5-2.5v5M712 1044.5h5m-2.5-2.5v5M712 996.5h5m-2.5-2.5v5M712 1047.5h5m-2.5-2.5v5M712 1020.5h5m-2.5-2.5v5M712 1035.5h5m-2.5-2.5v5M712 1027.5h5m-2.5-2.5v5M712 1033.5h5m-2.5-2.5v5M712 1022.5h5m-2.5-2.5v5M712 1032.5h5m-2.5-2.5v5M712 1037.5h5m-2.5-2.5v5M712 989.5h5m-2.5-2.5v5M713 1042.5h5m-2.5-2.5v5M713 1030.5h5m-2.5-2.5v5M713 995.5h5m-2.5-2.5v5M713 1028.5h5m-2.5-2.5v5M713 1009.5h5m-2.5-2.5v5M713 992.5h5m-2.5-2.5v5M713 1024.5h5m-2.5-2.5v5M713 1008.5h5m-2.5-2.5v5M713 1019.5h5m-2.5-2.5v5M713 993.5h5m-2.5-2.5v5M713 1010.5h5m-2.5-2.5v5M714 1029.5h5m-2.5-2.5v5M714 1042.5h5m-2.5-2.5v5M714 1050.5h5m-2.5-2.5v5M714 1049.5h5m-2.5-2.5v5M714 1002.5h5m-2.5-2.5v5M714 1012.5h5m-2.5-2.5v5M715 1001.5h5m-2.5-2.5v5M715 1030.5h5m-2.5-2.5v5M715 995.5h5m-2.5-2.5v5M715 1021.5h5m-2.5-2.5v5M715 1016.5h5m-2.5-2.5v5M716 1009.5h5m-2.5-2.5v5M716 1011.5h5m-2.5-2.5v5M716 1005.5h5m-2.5-2.5v5M716 1045.5h5m-2.5-2.5v5M716 1030.5h5m-2.5-2.5v5M716 1047.5h5m-2.5-2.5v5M716 988.5h5m-2.5-2.5v5M717 1025.5h5m-2.5-2.5v5M717 1032.5h5m-2.5-2.5v5M717 1046.5h5m-2.5-2.5v5M717 1036.5h5m-2.5-2.5v5M718 992.5h5m-2.5-2.5v5M718 1008.5h5m-2.5-2.5v5M718 1032.5h5m-2.5-2.5v5M718 1042.5h5m-2.5-2.5v5M718 1006.5h5m-2.5-2.5v5M718 1016.5h5m-2.5-2.5v5M718 1026.5h5m-2.5-2.5v5M718 1045.5h5m-2.5-2.5v5M719 1026.5h5m-2.5-2.5v5M719 995.5h5m-2.5-2.5v5M719 1044.5h5m-2.5-2.5v5M719 1029.5h5m-2.5-2.5v5M719 1033.5h5m-2.5-2.5v5M719 1017.5h5m-2.5-2.5v5M719 1032.5h5m-2.5-2.5v5M719 1035.5h5m-2.5-2.5v5M719 1027.5h5m-2.5-2.5v5M719 1011.5h5m-2.5-2.5v5M719 989.5h5m-2.5-2.5v5M720 1032.5h5m-2.5-2.5v5M720 1031.5h5m-2.5-2.5v5M720 1041.5h5m-2.5-2.5v5M720 1048.5h5m-2.5-2.5v5M720 991.5h5m-2.5-2.5v5M720 986.5h5m-2.5-2.5v5M721 996.5h5m-2.5-2.5v5M721 995.5h5m-2.5-2.5v5M721 1006.5h5m-2.5-2.5v5M721 1042.5h5m-2.5-2.5v5M721 1014.5h5m-2.5-2.5v5M721 1012.5h5m-2.5-2.5v5M721 990.5h5m-2.5-2.5v5M722 1026.5h5m-2.5-2.5v5M722 993.5h5m-2.5-2.5v5M722 994.5h5m-2.5-2.5v5M722 1039.5h5m-2.5-2.5v5M722 1005.5h5m-2.5-2.5v5M723 1027.5h5m-2.5-2.5v5M723 1015.5h5m-2.5-2.5v5M723 1000.5h5m-2.5-2.5v5M723 1007.5h5m-2.5-2.5v5M723 1000.5h5m-2.5-2.5v5M723 996.5h5m-2.5-2.5v5M723 1020.5h5m-2.5-2.5v5M723 999.5h5m-2.5-2.5v5M723 1002.5h5m-2.5-2.5v5M723 1048.5h5m-2.5-2.5v5M723 1049.5h5m-2.5-2.5v5M723 1049.5h5m-2.5-2.5v5M724 1009.5h5m-2.5-2.5v5M724 1008.5h5m-2.5-2.5v5M724 1019.5h5m-2.5-2.5v5M724 997.5h5m-2.5-2.5v5M724 1013.5h5m-2.5-2.5v5M724 1027.5h5m-2.5-2.5v5M724 1018.5h5m-2.5-2.5v5M725 1003.5h5m-2.5-2.5v5M725 998.5h5m-2.5-2.5v5M725 996.5h5m-2.5-2.5v5M725 1006.5h5m-2.5-2.5v5M725 995.5h5m-2.5-2.5v5M725 1006.5h5m-2.5-2.5v5M725 1036.5h5m-2.5-2.5v5M725 1001.5h5m-2.5-2.5v5M725 1000.5h5m-2.5-2.5v5M725 992.5h5m-2.5-2.5v5M726 1043.5h5m-2.5-2.5v5M726 1024.5h5m-2.5-2.5v5M726 1019.5h5m-2.5-2.5v5M726 994.5h5m-2.5-2.5v5M726 987.5h5m-2.5-2.5v5M727 1005.5h5m-2.5-2.5v5M727 1012.5h5m-2.5-2.5v5M727 1016.5h5m-2.5-2.5v5M727 1000.5h5m-2.5-2.5v5M727 1031.5h5m-2.5-2.5v5M728 1043.5h5m-2.5-2.5v5M728 995.5h5m-2.5-2.5v5M728 1026.5h5m-2.5-2.5v5M728 995.5h5m-2.5-2.5v5M728 1036.5h5m-2.5-2.5v5M728 1012.5h5m-2.5-2.5v5M728 1039.5h5m-2.5-2.5v5M728 998.5h5m-2.5-2.5v5M728 1014.5h5m-2.5-2.5v5M728 993.5h5m-2.5-2.5v5M729 1033.5h5m-2.5-2.5v5M729 992.5h5m-2.5-2.5v5M730 996.5h5m-2.5-2.5v5M730 1037.5h5m-2.5-2.5v5M730 1021.5h5m-2.5-2.5v5M731 1047.5h5m-2.5-2.5v5M731 1023.5h5m-2.5-2.5v5M731 1038.5h5m-2.5-2.5v5M731 1002.5h5m-2.5-2.5v5M731 1007.5h5m-2.5-2.5v5M732 1036.5h5m-2.5-2.5v5M732 1000.5h5m-2.5-2.5v5M732 1014.5h5m-2.5-2.5v5M733 1004.5h5m-2.5-2.5v5M733 1004.5h5m-2.5-2.5v5M733 1043.5h5m-2.5-2.5v5M733 991.5h5m-2.5-2.5v5M734 1031.5h5m-2.5-2.5v5M734 1024.5h5m-2.5-2.5v5M735 1032.5h5m-2.5-2.5v5M735 1032.5h5m-2.5-2.5v5M735 1003.5h5m-2.5-2.5v5M735 1003.5h5m-2.5-2.5v5M735 1033.5h5m-2.5-2.5v5M737 1054.5h5m-2.5-2.5v5M737 1003.5h5m-2.5-2.5v5M737 1033.5h5m-2.5-2.5v5M737 994.5h5m-2.5-2.5v5M738 1039.5h5m-2.5-2.5v5M738 1021.5h5m-2.5-2.5v5M739 1030.5h5m-2.5-2.5v5M739 1030.5h5m-2.5-2.5v5M739 1045.5h5m-2.5-2.5v5M740 1017.5h5m-2.5-2.5v5M741 1048.5h5m-2.5-2.5v5M741 1035.5h5m-2.5-2.5v5M741 1050.5h5m-2.5-2.5v5M742 1006.5h5m-2.5-2.5v5M743 1030.5h5m-2.5-2.5v5M744 1055.5h5m-2.5-2.5v5M744 1039.5h5m-2.5-2.5v5M745 1017.5h5m-2.5-2.5v5M745 1053.5h5m-2.5-2.5v5M746 1010.5h5m-2.5-2.5v5M748 1055.5h5m-2.5-2.5v5M748 1031.5h5m-2.5-2.5v5M748 1017.5h5m-2.5-2.5v5M749 1016.5h5m-2.5-2.5v5M749 1057.5h5m-2.5-2.5v5M750 1045.5h5m-2.5-2.5v5M750 1018.5h5m-2.5-2.5v5M752 1000.5h5m-2.5-2.5v5M752 1038.5h5m-2.5-2.5v5M752 1053.5h5m-2.5-2.5v5M753 1013.5h5m-2.5-2.5v5M753 1014.5h5m-2.5-2.5v5M754 1028.5h5m-2.5-2.5v5M755 1022.5h5m-2.5-2.5v5M756 1028.5h5m-2.5-2.5v5M756 1022.5h5m-2.5-2.5v5M756 1012.5h5m-2.5-2.5v5M757 1037.5h5m-2.5-2.5v5M757 1057.5h5m-2.5-2.5v5M757 1038.5h5m-2.5-2.5v5M757 999.5h5m-2.5-2.5v5M758 1018.5h5m-2.5-2.5v5M758 1049.5h5m-2.5-2.5v5M760 1038.5h5m-2.5-2.5v5M761 1047.5h5m-2.5-2.5v5M761 1039.5h5m-2.5-2.5v5M763 1056.5h5m-2.5-2.5v5M765 1044.5h5m-2.5-2.5v5M765 1048.5h5m-2.5-2.5v5M767 1027.5h5m-2.5-2.5v5M768 1036.5h5m-2.5-2.5v5M776 1037.5h5m-2.5-2.5v5M780 1050.5h5m-2.5-2.5v5M683 1066.5h5m-2.5-2.5v5M699 981.5h5m-2.5-2.5v5M716 964.5h5m-2.5-2.5v5M714 966.5h5m-2.5-2.5v5M717 968.5h5m-2.5-2.5v5M695 973.5h5m-2.5-2.5v5M717 963.5h5m-2.5-2.5v5M753 980.5h5m-2.5-2.5v5M750 974.5h5m-2.5-2.5v5M726 973.5h5m-2.5-2.5v5M728 972.5h5m-2.5-2.5v5M758 972.5h5m-2.5-2.5v5M717 983.5h5m-2.5-2.5v5M717 976.5h5m-2.5-2.5v5M760 998.5h5m-2.5-2.5v5M718 1059.5h5m-2.5-2.5v5M791 1061.5h5m-2.5-2.5v5M767 1054.5h5m-2.5-2.5v5M739 959.5h5m-2.5-2.5v5M759 1051.5h5m-2.5-2.5v5M762 978.5h5m-2.5-2.5v5" stroke="#363636" stroke-opacity="0.58" stroke-width="1.2" fill="none"/>
<path d="M663 1021.5h5m-2.5-2.5v5M663 1028.5h5m-2.5-2.5v5M664 1018.5h5m-2.5-2.5v5M664 1019.5h5m-2.5-2.5v5M665 1018.5h5m-2.5-2.5v5M665 1017.5h5m-2.5-2.5v5M666 1010.5h5m-2.5-2.5v5M667 1031.5h5m-2.5-2.5v5M667 1015.5h5m-2.5-2.5v5M668 1034.5h5m-2.5-2.5v5M668 1033.5h5m-2.5-2.5v5M668 1016.5h5m-2.5-2.5v5M668 1038.5h5m-2.5-2.5v5M668 1005.5h5m-2.5-2.5v5M669 1011.5h5m-2.5-2.5v5M669 1030.5h5m-2.5-2.5v5M669 1035.5h5m-2.5-2.5v5M669 1024.5h5m-2.5-2.5v5M669 1044.5h5m-2.5-2.5v5M669 1006.5h5m-2.5-2.5v5M669 1024.5h5m-2.5-2.5v5M669 1039.5h5m-2.5-2.5v5M670 1008.5h5m-2.5-2.5v5M670 1014.5h5m-2.5-2.5v5M670 1002.5h5m-2.5-2.5v5M670 999.5h5m-2.5-2.5v5M671 1021.5h5m-2.5-2.5v5M671 1045.5h5m-2.5-2.5v5M671 1039.5h5m-2.5-2.5v5M671 1025.5h5m-2.5-2.5v5M671 1013.5h5m-2.5-2.5v5M672 1028.5h5m-2.5-2.5v5M672 1004.5h5m-2.5-2.5v5M672 1042.5h5m-2.5-2.5v5M672 1034.5h5m-2.5-2.5v5M672 1011.5h5m-2.5-2.5v5M672 1040.5h5m-2.5-2.5v5M672 1002.5h5m-2.5-2.5v5M672 997.5h5m-2.5-2.5v5M673 1015.5h5m-2.5-2.5v5M673 1046.5h5m-2.5-2.5v5M673 1035.5h5m-2.5-2.5v5M673 1027.5h5m-2.5-2.5v5M673 1040.5h5m-2.5-2.5v5M673 1010.5h5m-2.5-2.5v5M673 994.5h5m-2.5-2.5v5M673 992.5h5m-2.5-2.5v5M674 1020.5h5m-2.5-2.5v5M674 1048.5h5m-2.5-2.5v5M674 1048.5h5m-2.5-2.5v5M674 1008.5h5m-2.5-2.5v5M674 1042.5h5m-2.5-2.5v5M674 1011.5h5m-2.5-2.5v5M674 1008.5h5m-2.5-2.5v5M674 1025.5h5m-2.5-2.5v5M674 1049.5h5m-2.5-2.5v5M674 1018.5h5m-2.5-2.5v5M674 1013.5h5m-2.5-2.5v5M674 998.5h5m-2.5-2.5v5M675 1017.5h5m-2.5-2.5v5M675 1008.5h5m-2.5-2.5v5M675 1001.5h5m-2.5-2.5v5M675 1006.5h5m-2.5-2.5v5M675 1008.5h5m-2.5-2.5v5M675 1017.5h5m-2.5-2.5v5M675 993.5h5m-2.5-2.5v5M676 1006.5h5m-2.5-2.5v5M676 1037.5h5m-2.5-2.5v5M676 1020.5h5m-2.5-2.5v5M676 1036.5h5m-2.5-2.5v5M676 994.5h5m-2.5-2.5v5M677 1027.5h5m-2.5-2.5v5M677 1023.5h5m-2.5-2.5v5M677 1025.5h5m-2.5-2.5v5M677 1032.5h5m-2.5-2.5v5M677 1003.5h5m-2.5-2.5v5M677 1006.5h5m-2.5-2.5v5M677 1037.5h5m-2.5-2.5v5M677 1041.5h5m-2.5-2.5v5M677 1040.5h5m-2.5-2.5v5M678 1025.5h5m-2.5-2.5v5M678 1023.5h5m-2.5-2.5v5M678 1000.5h5m-2.5-2.5v5M678 1045.5h5m-2.5-2.5v5M678 998.5h5m-2.5-2.5v5M679 1026.5h5m-2.5-2.5v5M679 1045.5h5m-2.5-2.5v5M679 1025.5h5m-2.5-2.5v5M679 1056.5h5m-2.5-2.5v5M679 1023.5h5m-2.5-2.5v5M679 999.5h5m-2.5-2.5v5M679 1029.5h5m-2.5-2.5v5M679 1027.5h5m-2.5-2.5v5M679 1036.5h5m-2.5-2.5v5M679 1061.5h5m-2.5-2.5v5M680 1044.5h5m-2.5-2.5v5M680 1003.5h5m-2.5-2.5v5M680 1055.5h5m-2.5-2.5v5M680 1042.5h5m-2.5-2.5v5M680 1020.5h5m-2.5-2.5v5M680 1020.5h5m-2.5-2.5v5M680 1048.5h5m-2.5-2.5v5M680 1009.5h5m-2.5-2.5v5M680 1050.5h5m-2.5-2.5v5M681 1033.5h5m-2.5-2.5v5M681 1029.5h5m-2.5-2.5v5M681 1052.5h5m-2.5-2.5v5M681 1000.5h5m-2.5-2.5v5M681 1055.5h5m-2.5-2.5v5M681 1053.5h5m-2.5-2.5v5M681 1027.5h5m-2.5-2.5v5M682 1057.5h5m-2.5-2.5v5M682 1016.5h5m-2.5-2.5v5M682 1045.5h5m-2.5-2.5v5M682 1015.5h5m-2.5-2.5v5M682 1012.5h5m-2.5-2.5v5M682 1020.5h5m-2.5-2.5v5M682 1002.5h5m-2.5-2.5v5M682 995.5h5m-2.5-2.5v5M683 1004.5h5m-2.5-2.5v5M683 1051.5h5m-2.5-2.5v5M683 1008.5h5m-2.5-2.5v5M683 1031.5h5m-2.5-2.5v5M683 1057.5h5m-2.5-2.5v5M683 1000.5h5m-2.5-2.5v5M683 996.5h5m-2.5-2.5v5M684 1015.5h5m-2.5-2.5v5M684 1042.5h5m-2.5-2.5v5M684 1025.5h5m-2.5-2.5v5M684 1024.5h5m-2.5-2.5v5M684 1018.5h5m-2.5-2.5v5M684 1041.5h5m-2.5-2.5v5M684 1044.5h5m-2.5-2.5v5M684 1053.5h5m-2.5-2.5v5M684 1006.5h5m-2.5-2.5v5M684 1016.5h5m-2.5-2.5v5M684 1040.5h5m-2.5-2.5v5M684 1059.5h5m-2.5-2.5v5M684 1061.5h5m-2.5-2.5v5M684 1058.5h5m-2.5-2.5v5M685 1014.5h5m-2.5-2.5v5M685 1050.5h5m-2.5-2.5v5M685 997.5h5m-2.5-2.5v5M685 1053.5h5m-2.5-2.5v5M685 1024.5h5m-2.5-2.5v5M685 1049.5h5m-2.5-2.5v5M685 1038.5h5m-2.5-2.5v5M685 1044.5h5m-2.5-2.5v5M685 1005.5h5m-2.5-2.5v5M685 1033.5h5m-2.5-2.5v5M685 1009.5h5m-2.5-2.5v5M685 1037.5h5m-2.5-2.5v5M685 1019.5h5m-2.5-2.5v5M685 997.5h5m-2.5-2.5v5M685 997.5h5m-2.5-2.5v5M685 1030.5h5m-2.5-2.5v5M686 1022.5h5m-2.5-2.5v5M686 1028.5h5m-2.5-2.5v5M686 1025.5h5m-2.5-2.5v5M686 1008.5h5m-2.5-2.5v5M687 1017.5h5m-2.5-2.5v5M687 1030.5h5m-2.5-2.5v5M687 1029.5h5m-2.5-2.5v5M687 1001.5h5m-2.5-2.5v5M687 1040.5h5m-2.5-2.5v5M687 1019.5h5m-2.5-2.5v5M687 1022.5h5m-2.5-2.5v5M687 1024.5h5m-2.5-2.5v5M687 992.5h5m-2.5-2.5v5M688 1018.5h5m-2.5-2.5v5M688 1024.5h5m-2.5-2.5v5M688 1052.5h5m-2.5-2.5v5M688 996.5h5m-2.5-2.5v5M688 990.5h5m-2.5-2.5v5M688 992.5h5m-2.5-2.5v5M689 1009.5h5m-2.5-2.5v5M689 1052.5h5m-2.5-2.5v5M689 999.5h5m-2.5-2.5v5M689 1008.5h5m-2.5-2.5v5M689 990.5h5m-2.5-2.5v5M689 1057.5h5m-2.5-2.5v5M689 1062.5h5m-2.5-2.5v5M690 1013.5h5m-2.5-2.5v5M690 1019.5h5m-2.5-2.5v5M690 1029.5h5m-2.5-2.5v5M690 1028.5h5m-2.5-2.5v5M690 1051.5h5m-2.5-2.5v5M690 1036.5h5m-2.5-2.5v5M690 1015.5h5m-2.5-2.5v5M690 1024.5h5m-2.5-2.5v5M690 1000.5h5m-2.5-2.5v5M690 1037.5h5m-2.5-2.5v5M690 1053.5h5m-2.5-2.5v5M690 1005.5h5m-2.5-2.5v5M690 1055.5h5m-2.5-2.5v5M690 1035.5h5m-2.5-2.5v5M690 1058.5h5m-2.5-2.5v5M691 1057.5h5m-2.5-2.5v5M691 1045.5h5m-2.5-2.5v5M691 1053.5h5m-2.5-2.5v5M691 1020.5h5m-2.5-2.5v5M691 1014.5h5m-2.5-2.5v5M691 1047.5h5m-2.5-2.5v5M691 1001.5h5m-2.5-2.5v5M691 998.5h5m-2.5-2.5v5M691 1062.5h5m-2.5-2.5v5M692 1026.5h5m-2.5-2.5v5M692 1037.5h5m-2.5-2.5v5M692 1044.5h5m-2.5-2.5v5M692 1023.5h5m-2.5-2.5v5M692 1059.5h5m-2.5-2.5v5M693 1036.5h5m-2.5-2.5v5M693 997.5h5m-2.5-2.5v5M693 1056.5h5m-2.5-2.5v5M693 1010.5h5m-2.5-2.5v5M693 1004.5h5m-2.5-2.5v5M693 1013.5h5m-2.5-2.5v5M693 1002.5h5m-2.5-2.5v5M693 1000.5h5m-2.5-2.5v5M693 1040.5h5m-2.5-2.5v5M693 991.5h5m-2.5-2.5v5M694 1048.5h5m-2.5-2.5v5M694 1059.5h5m-2.5-2.5v5M694 1038.5h5m-2.5-2.5v5M694 1024.5h5m-2.5-2.5v5M694 1052.5h5m-2.5-2.5v5M694 1031.5h5m-2.5-2.5v5M694 1000.5h5m-2.5-2.5v5M694 1031.5h5m-2.5-2.5v5M695 999.5h5m-2.5-2.5v5M695 1033.5h5m-2.5-2.5v5M695 1019.5h5m-2.5-2.5v5M695 1027.5h5m-2.5-2.5v5M695 1042.5h5m-2.5-2.5v5M695 1050.5h5m-2.5-2.5v5M695 1004.5h5m-2.5-2.5v5M695 1030.5h5m-2.5-2.5v5M695 1055.5h5m-2.5-2.5v5M695 1047.5h5m-2.5-2.5v5M695 1003.5h5m-2.5-2.5v5M695 1033.5h5m-2.5-2.5v5M696 1026.5h5m-2.5-2.5v5M696 1020.5h5m-2.5-2.5v5M696 1027.5h5m-2.5-2.5v5M696 1004.5h5m-2.5-2.5v5M697 1042.5h5m-2.5-2.5v5M697 997.5h5m-2.5-2.5v5M697 1039.5h5m-2.5-2.5v5M697 1056.5h5m-2.5-2.5v5M697 1036.5h5m-2.5-2.5v5M697 1043.5h5m-2.5-2.5v5M697 1025.5h5m-2.5-2.5v5M698 1042.5h5m-2.5-2.5v5M698 1001.5h5m-2.5-2.5v5M698 1057.5h5m-2.5-2.5v5M698 1052.5h5m-2.5-2.5v5M698 1042.5h5m-2.5-2.5v5M698 1029.5h5m-2.5-2.5v5M698 1049.5h5m-2.5-2.5v5M699 1048.5h5m-2.5-2.5v5M699 1054.5h5m-2.5-2.5v5M699 1029.5h5m-2.5-2.5v5M699 1018.5h5m-2.5-2.5v5M699 1027.5h5m-2.5-2.5v5M699 1037.5h5m-2.5-2.5v5M699 1036.5h5m-2.5-2.5v5M699 992.5h5m-2.5-2.5v5M700 994.5h5m-2.5-2.5v5M700 1009.5h5m-2.5-2.5v5M700 1028.5h5m-2.5-2.5v5M700 1040.5h5m-2.5-2.5v5M700 1024.5h5m-2.5-2.5v5M700 999.5h5m-2.5-2.5v5M700 1011.5h5m-2.5-2.5v5M701 1019.5h5m-2.5-2.5v5M701 1055.5h5m-2.5-2.5v5M701 1033.5h5m-2.5-2.5v5M701 1009.5h5m-2.5-2.5v5M701 1054.5h5m-2.5-2.5v5M701 1006.5h5m-2.5-2.5v5M702 1047.5h5m-2.5-2.5v5M702 1023.5h5m-2.5-2.5v5M702 1015.5h5m-2.5-2.5v5M702 1010.5h5m-2.5-2.5v5M702 1053.5h5m-2.5-2.5v5M702 1043.5h5m-2.5-2.5v5M702 1011.5h5m-2.5-2.5v5M702 1039.5h5m-2.5-2.5v5M702 1003.5h5m-2.5-2.5v5M702 1022.5h5m-2.5-2.5v5M703 1053.5h5m-2.5-2.5v5M703 1025.5h5m-2.5-2.5v5M703 1035.5h5m-2.5-2.5v5M703 999.5h5m-2.5-2.5v5M703 1035.5h5m-2.5-2.5v5M703 1053.5h5m-2.5-2.5v5M704 1004.5h5m-2.5-2.5v5M704 993.5h5m-2.5-2.5v5M704 1025.5h5m-2.5-2.5v5M704 1048.5h5m-2.5-2.5v5M704 1002.5h5m-2.5-2.5v5M704 1012.5h5m-2.5-2.5v5M704 1034.5h5m-2.5-2.5v5M704 1053.5h5m-2.5-2.5v5M704 990.5h5m-2.5-2.5v5M705 1007.5h5m-2.5-2.5v5M705 1048.5h5m-2.5-2.5v5M705 1026.5h5m-2.5-2.5v5M705 1035.5h5m-2.5-2.5v5M705 1036.5h5m-2.5-2.5v5M705 1023.5h5m-2.5-2.5v5M705 1039.5h5m-2.5-2.5v5M705 990.5h5m-2.5-2.5v5M706 1001.5h5m-2.5-2.5v5M706 1044.5h5m-2.5-2.5v5M706 1043.5h5m-2.5-2.5v5M706 1042.5h5m-2.5-2.5v5M706 1008.5h5m-2.5-2.5v5M706 1041.5h5m-2.5-2.5v5M706 1011.5h5m-2.5-2.5v5M706 982.5h5m-2.5-2.5v5M707 1042.5h5m-2.5-2.5v5M707 1037.5h5m-2.5-2.5v5M707 1042.5h5m-2.5-2.5v5M707 1029.5h5m-2.5-2.5v5M707 1009.5h5m-2.5-2.5v5M707 1021.5h5m-2.5-2.5v5M707 1053.5h5m-2.5-2.5v5M707 1056.5h5m-2.5-2.5v5M707 1041.5h5m-2.5-2.5v5M707 1033.5h5m-2.5-2.5v5M707 1003.5h5m-2.5-2.5v5M707 985.5h5m-2.5-2.5v5M708 996.5h5m-2.5-2.5v5M708 1006.5h5m-2.5-2.5v5M708 1046.5h5m-2.5-2.5v5M708 1029.5h5m-2.5-2.5v5M708 1026.5h5m-2.5-2.5v5M708 1042.5h5m-2.5-2.5v5M708 1031.5h5m-2.5-2.5v5M708 1038.5h5m-2.5-2.5v5M708 1004.5h5m-2.5-2.5v5M708 1054.5h5m-2.5-2.5v5M708 1038.5h5m-2.5-2.5v5M708 1013.5h5m-2.5-2.5v5M709 1046.5h5m-2.5-2.5v5M709 1033.5h5m-2.5-2.5v5M709 1050.5h5m-2.5-2.5v5M709 1048.5h5m-2.5-2.5v5M709 1013.5h5m-2.5-2.5v5M709 1042.5h5m-2.5-2.5v5M709 1038.5h5m-2.5-2.5v5M709 1012.5h5m-2.5-2.5v5M709 1050.5h5m-2.5-2.5v5M710 1044.5h5m-2.5-2.5v5M710 994.5h5m-2.5-2.5v5M710 1042.5h5m-2.5-2.5v5M710 1044.5h5m-2.5-2.5v5M710 1031.5h5m-2.5-2.5v5M710 1037.5h5m-2.5-2.5v5M710 1001.5h5m-2.5-2.5v5M710 1036.5h5m-2.5-2.5v5M710 1003.5h5m-2.5-2.5v5M711 1023.5h5m-2.5-2.5v5M711 1012.5h5m-2.5-2.5v5M711 1022.5h5m-2.5-2.5v5M711 1037.5h5m-2.5-2.5v5M711 1042.5h5m-2.5-2.5v5M711 1007.5h5m-2.5-2.5v5M711 1033.5h5m-2.5-2.5v5M711 1020.5h5m-2.5-2.5v5M711 1053.5h5m-2.5-2.5v5M711 1021.5h5m-2.5-2.5v5M712 999.5h5m-2.5-2.5v5M712 1003.5h5m-2.5-2.5v5M712 1052.5h5m-2.5-2.5v5M712 1035.5h5m-2.5-2.5v5M712 1008.5h5m-2.5-2.5v5M712 997.5h5m-2.5-2.5v5M713 1037.5h5m-2.5-2.5v5M713 1050.5h5m-2.5-2.5v5M713 1006.5h5m-2.5-2.5v5M713 1041.5h5m-2.5-2.5v5M713 1004.5h5m-2.5-2.5v5M713 1042.5h5m-2.5-2.5v5M714 1017.5h5m-2.5-2.5v5M714 1013.5h5m-2.5-2.5v5M714 1021.5h5m-2.5-2.5v5M714 1011.5h5m-2.5-2.5v5M714 1009.5h5m-2.5-2.5v5M714 1039.5h5m-2.5-2.5v5M714 1011.5h5m-2.5-2.5v5M714 1043.5h5m-2.5-2.5v5M714 993.5h5m-2.5-2.5v5M714 1046.5h5m-2.5-2.5v5M714 1010.5h5m-2.5-2.5v5M715 1025.5h5m-2.5-2.5v5M715 992.5h5m-2.5-2.5v5M715 994.5h5m-2.5-2.5v5M715 989.5h5m-2.5-2.5v5M716 1018.5h5m-2.5-2.5v5M716 1044.5h5m-2.5-2.5v5M716 1046.5h5m-2.5-2.5v5M716 1043.5h5m-2.5-2.5v5M716 981.5h5m-2.5-2.5v5M717 1014.5h5m-2.5-2.5v5M717 1032.5h5m-2.5-2.5v5M717 1018.5h5m-2.5-2.5v5M717 1048.5h5m-2.5-2.5v5M717 1013.5h5m-2.5-2.5v5M717 1007.5h5m-2.5-2.5v5M717 1039.5h5m-2.5-2.5v5M717 1025.5h5m-2.5-2.5v5M718 1037.5h5m-2.5-2.5v5M718 1030.5h5m-2.5-2.5v5M718 1010.5h5m-2.5-2.5v5M718 1043.5h5m-2.5-2.5v5M718 1008.5h5m-2.5-2.5v5M718 998.5h5m-2.5-2.5v5M718 990.5h5m-2.5-2.5v5M719 1038.5h5m-2.5-2.5v5M719 1034.5h5m-2.5-2.5v5M719 1045.5h5m-2.5-2.5v5M719 1049.5h5m-2.5-2.5v5M719 994.5h5m-2.5-2.5v5M719 1003.5h5m-2.5-2.5v5M719 1035.5h5m-2.5-2.5v5M719 1006.5h5m-2.5-2.5v5M719 1021.5h5m-2.5-2.5v5M719 1015.5h5m-2.5-2.5v5M720 1030.5h5m-2.5-2.5v5M720 993.5h5m-2.5-2.5v5M720 1013.5h5m-2.5-2.5v5M720 1011.5h5m-2.5-2.5v5M720 1024.5h5m-2.5-2.5v5M721 1018.5h5m-2.5-2.5v5M721 1047.5h5m-2.5-2.5v5M721 1024.5h5m-2.5-2.5v5M721 1042.5h5m-2.5-2.5v5M722 1039.5h5m-2.5-2.5v5M722 1008.5h5m-2.5-2.5v5M722 1027.5h5m-2.5-2.5v5M722 1030.5h5m-2.5-2.5v5M722 1002.5h5m-2.5-2.5v5M722 1015.5h5m-2.5-2.5v5M723 1001.5h5m-2.5-2.5v5M723 1009.5h5m-2.5-2.5v5M723 1027.5h5m-2.5-2.5v5M723 1015.5h5m-2.5-2.5v5M723 1042.5h5m-2.5-2.5v5M723 1022.5h5m-2.5-2.5v5M723 1008.5h5m-2.5-2.5v5M724 1024.5h5m-2.5-2.5v5M724 1003.5h5m-2.5-2.5v5M724 1045.5h5m-2.5-2.5v5M724 1030.5h5m-2.5-2.5v5M724 1044.5h5m-2.5-2.5v5M724 998.5h5m-2.5-2.5v5M724 1030.5h5m-2.5-2.5v5M725 1030.5h5m-2.5-2.5v5M725 1022.5h5m-2.5-2.5v5M725 1013.5h5m-2.5-2.5v5M725 1016.5h5m-2.5-2.5v5M725 1028.5h5m-2.5-2.5v5M726 1027.5h5m-2.5-2.5v5M726 1002.5h5m-2.5-2.5v5M726 1003.5h5m-2.5-2.5v5M726 1036.5h5m-2.5-2.5v5M727 1039.5h5m-2.5-2.5v5M727 1011.5h5m-2.5-2.5v5M727 1013.5h5m-2.5-2.5v5M727 1023.5h5m-2.5-2.5v5M728 1036.5h5m-2.5-2.5v5M728 1030.5h5m-2.5-2.5v5M728 999.5h5m-2.5-2.5v5M728 1037.5h5m-2.5-2.5v5M729 1037.5h5m-2.5-2.5v5M729 1014.5h5m-2.5-2.5v5M729 993.5h5m-2.5-2.5v5M729 992.5h5m-2.5-2.5v5M730 1042.5h5m-2.5-2.5v5M730 1010.5h5m-2.5-2.5v5M731 1020.5h5m-2.5-2.5v5M731 1013.5h5m-2.5-2.5v5M731 1032.5h5m-2.5-2.5v5M731 994.5h5m-2.5-2.5v5M732 996.5h5m-2.5-2.5v5M732 1047.5h5m-2.5-2.5v5M732 1029.5h5m-2.5-2.5v5M732 997.5h5m-2.5-2.5v5M732 1012.5h5m-2.5-2.5v5M732 1028.5h5m-2.5-2.5v5M732 1052.5h5m-2.5-2.5v5M733 1043.5h5m-2.5-2.5v5M733 1005.5h5m-2.5-2.5v5M733 1009.5h5m-2.5-2.5v5M734 1001.5h5m-2.5-2.5v5M734 1000.5h5m-2.5-2.5v5M735 1019.5h5m-2.5-2.5v5M735 1034.5h5m-2.5-2.5v5M735 989.5h5m-2.5-2.5v5M736 1001.5h5m-2.5-2.5v5M736 1001.5h5m-2.5-2.5v5M736 994.5h5m-2.5-2.5v5M737 1016.5h5m-2.5-2.5v5M737 1010.5h5m-2.5-2.5v5M738 1048.5h5m-2.5-2.5v5M738 1029.5h5m-2.5-2.5v5M738 1027.5h5m-2.5-2.5v5M738 1036.5h5m-2.5-2.5v5M738 1009.5h5m-2.5-2.5v5M738 1016.5h5m-2.5-2.5v5M739 1008.5h5m-2.5-2.5v5M739 1045.5h5m-2.5-2.5v5M740 1010.5h5m-2.5-2.5v5M741 1023.5h5m-2.5-2.5v5M741 1058.5h5m-2.5-2.5v5M741 1041.5h5m-2.5-2.5v5M742 1005.5h5m-2.5-2.5v5M742 1046.5h5m-2.5-2.5v5M743 1022.5h5m-2.5-2.5v5M744 1019.5h5m-2.5-2.5v5M744 1052.5h5m-2.5-2.5v5M744 1034.5h5m-2.5-2.5v5M745 1026.5h5m-2.5-2.5v5M746 1018.5h5m-2.5-2.5v5M746 1017.5h5m-2.5-2.5v5M747 1056.5h5m-2.5-2.5v5M748 1007.5h5m-2.5-2.5v5M749 1000.5h5m-2.5-2.5v5M749 1042.5h5m-2.5-2.5v5M749 996.5h5m-2.5-2.5v5M750 1043.5h5m-2.5-2.5v5M751 1004.5h5m-2.5-2.5v5M751 1011.5h5m-2.5-2.5v5M753 1013.5h5m-2.5-2.5v5M753 1040.5h5m-2.5-2.5v5M755 1003.5h5m-2.5-2.5v5M756 1013.5h5m-2.5-2.5v5M756 1015.5h5m-2.5-2.5v5M760 1059.5h5m-2.5-2.5v5M762 1004.5h5m-2.5-2.5v5M763 1045.5h5m-2.5-2.5v5M764 1026.5h5m-2.5-2.5v5M766 1009.5h5m-2.5-2.5v5M766 1014.5h5m-2.5-2.5v5M772 1053.5h5m-2.5-2.5v5M772 1020.5h5m-2.5-2.5v5M773 1038.5h5m-2.5-2.5v5M774 1008.5h5m-2.5-2.5v5M774 1031.5h5m-2.5-2.5v5M774 1037.5h5m-2.5-2.5v5M775 1011.5h5m-2.5-2.5v5M779 1035.5h5m-2.5-2.5v5M780 1019.5h5m-2.5-2.5v5M705 976.5h5m-2.5-2.5v5M691 985.5h5m-2.5-2.5v5M724 963.5h5m-2.5-2.5v5M710 974.5h5m-2.5-2.5v5M720 964.5h5m-2.5-2.5v5M748 986.5h5m-2.5-2.5v5M718 978.5h5m-2.5-2.5v5M765 958.5h5m-2.5-2.5v5M766 960.5h5m-2.5-2.5v5M727 967.5h5m-2.5-2.5v5M738 984.5h5m-2.5-2.5v5M755 988.5h5m-2.5-2.5v5M737 976.5h5m-2.5-2.5v5M726 975.5h5m-2.5-2.5v5M728 970.5h5m-2.5-2.5v5M764 960.5h5m-2.5-2.5v5M762 971.5h5m-2.5-2.5v5M728 978.5h5m-2.5-2.5v5M749 983.5h5m-2.5-2.5v5M669 961.5h5m-2.5-2.5v5M760 1043.5h5m-2.5-2.5v5M763 980.5h5m-2.5-2.5v5M759 989.5h5m-2.5-2.5v5M756 1063.5h5m-2.5-2.5v5M765 1017.5h5m-2.5-2.5v5M698 1065.5h5m-2.5-2.5v5M736 983.5h5m-2.5-2.5v5" stroke="#363636" stroke-opacity="0.58" stroke-width="1.2" fill="none"/>
<path d="M663 1023.5h5m-2.5-2.5v5M664 1016.5h5m-2.5-2.5v5M665 1024.5h5m-2.5-2.5v5M666 1021.5h5m-2.5-2.5v5M666 1027.5h5m-2.5-2.5v5M666 1036.5h5m-2.5-2.5v5M667 1015.5h5m-2.5-2.5v5M667 1008.5h5m-2.5-2.5v5M667 1040.5h5m-2.5-2.5v5M667 1033.5h5m-2.5-2.5v5M668 1032.5h5m-2.5-2.5v5M668 1002.5h5m-2.5-2.5v5M669 1043.5h5m-2.5-2.5v5M669 1029.5h5m-2.5-2.5v5M669 1009.5h5m-2.5-2.5v5M669 1023.5h5m-2.5-2.5v5M669 1026.5h5m-2.5-2.5v5M669 1006.5h5m-2.5-2.5v5M669 1045.5h5m-2.5-2.5v5M670 1030.5h5m-2.5-2.5v5M670 1012.5h5m-2.5-2.5v5M670 1019.5h5m-2.5-2.5v5M670 1018.5h5m-2.5-2.5v5M670 1037.5h5m-2.5-2.5v5M671 1026.5h5m-2.5-2.5v5M671 1043.5h5m-2.5-2.5v5M671 1044.5h5m-2.5-2.5v5M671 1007.5h5m-2.5-2.5v5M671 1000.5h5m-2.5-2.5v5M672 1006.5h5m-2.5-2.5v5M672 1037.5h5m-2.5-2.5v5M672 1044.5h5m-2.5-2.5v5M672 1019.5h5m-2.5-2.5v5M672 1038.5h5m-2.5-2.5v5M673 1028.5h5m-2.5-2.5v5M673 1048.5h5m-2.5-2.5v5M673 1013.5h5m-2.5-2.5v5M673 1040.5h5m-2.5-2.5v5M673 1029.5h5m-2.5-2.5v5M673 1027.5h5m-2.5-2.5v5M673 1041.5h5m-2.5-2.5v5M673 1028.5h5m-2.5-2.5v5M673 1028.5h5m-2.5-2.5v5M673 1011.5h5m-2.5-2.5v5M674 1026.5h5m-2.5-2.5v5M674 1018.5h5m-2.5-2.5v5M674 1006.5h5m-2.5-2.5v5M674 1007.5h5m-2.5-2.5v5M674 1030.5h5m-2.5-2.5v5M674 1033.5h5m-2.5-2.5v5M674 995.5h5m-2.5-2.5v5M674 1052.5h5m-2.5-2.5v5M675 1011.5h5m-2.5-2.5v5M675 1051.5h5m-2.5-2.5v5M675 1003.5h5m-2.5-2.5v5M676 1052.5h5m-2.5-2.5v5M676 1038.5h5m-2.5-2.5v5M676 1031.5h5m-2.5-2.5v5M677 1024.5h5m-2.5-2.5v5M677 1016.5h5m-2.5-2.5v5M677 1016.5h5m-2.5-2.5v5M677 1046.5h5m-2.5-2.5v5M677 1050.5h5m-2.5-2.5v5M677 1035.5h5m-2.5-2.5v5M677 1025.5h5m-2.5-2.5v5M677 1007.5h5m-2.5-2.5v5M677 1023.5h5m-2.5-2.5v5M678 1016.5h5m-2.5-2.5v5M678 1046.5h5m-2.5-2.5v5M678 1049.5h5m-2.5-2.5v5M678 1033.5h5m-2.5-2.5v5M678 1046.5h5m-2.5-2.5v5M678 1024.5h5m-2.5-2.5v5M678 1027.5h5m-2.5-2.5v5M678 1034.5h5m-2.5-2.5v5M678 995.5h5m-2.5-2.5v5M679 1020.5h5m-2.5-2.5v5M679 1035.5h5m-2.5-2.5v5M679 1041.5h5m-2.5-2.5v5M679 1057.5h5m-2.5-2.5v5M679 1038.5h5m-2.5-2.5v5M679 1045.5h5m-2.5-2.5v5M679 1052.5h5m-2.5-2.5v5M679 1035.5h5m-2.5-2.5v5M679 1034.5h5m-2.5-2.5v5M679 1041.5h5m-2.5-2.5v5M679 1040.5h5m-2.5-2.5v5M679 1038.5h5m-2.5-2.5v5M679 1023.5h5m-2.5-2.5v5M679 997.5h5m-2.5-2.5v5M680 1032.5h5m-2.5-2.5v5M680 1034.5h5m-2.5-2.5v5M680 1024.5h5m-2.5-2.5v5M680 1023.5h5m-2.5-2.5v5M680 990.5h5m-2.5-2.5v5M680 1063.5h5m-2.5-2.5v5M681 1000.5h5m-2.5-2.5v5M681 1050.5h5m-2.5-2.5v5M681 1056.5h5m-2.5-2.5v5M681 1008.5h5m-2.5-2.5v5M681 1000.5h5m-2.5-2.5v5M681 1021.5h5m-2.5-2.5v5M681 999.5h5m-2.5-2.5v5M681 1017.5h5m-2.5-2.5v5M681 1026.5h5m-2.5-2.5v5M682 1023.5h5m-2.5-2.5v5M682 1051.5h5m-2.5-2.5v5M682 1016.5h5m-2.5-2.5v5M682 1030.5h5m-2.5-2.5v5M682 1006.5h5m-2.5-2.5v5M682 1020.5h5m-2.5-2.5v5M682 1035.5h5m-2.5-2.5v5M682 1028.5h5m-2.5-2.5v5M682 1037.5h5m-2.5-2.5v5M682 1041.5h5m-2.5-2.5v5M682 1034.5h5m-2.5-2.5v5M682 1030.5h5m-2.5-2.5v5M682 1050.5h5m-2.5-2.5v5M682 1060.5h5m-2.5-2.5v5M683 1045.5h5m-2.5-2.5v5M683 1055.5h5m-2.5-2.5v5M683 1043.5h5m-2.5-2.5v5M683 1010.5h5m-2.5-2.5v5M683 1012.5h5m-2.5-2.5v5M683 1003.5h5m-2.5-2.5v5M684 1037.5h5m-2.5-2.5v5M684 1038.5h5m-2.5-2.5v5M684 1003.5h5m-2.5-2.5v5M684 1017.5h5m-2.5-2.5v5M685 1024.5h5m-2.5-2.5v5M685 1011.5h5m-2.5-2.5v5M685 1018.5h5m-2.5-2.5v5M685 1025.5h5m-2.5-2.5v5M685 1053.5h5m-2.5-2.5v5M685 1052.5h5m-2.5-2.5v5M686 1054.5h5m-2.5-2.5v5M686 1020.5h5m-2.5-2.5v5M686 1031.5h5m-2.5-2.5v5M686 1040.5h5m-2.5-2.5v5M686 1031.5h5m-2.5-2.5v5M686 1037.5h5m-2.5-2.5v5M686 1023.5h5m-2.5-2.5v5M687 1001.5h5m-2.5-2.5v5M687 1005.5h5m-2.5-2.5v5M687 1008.5h5m-2.5-2.5v5M687 1009.5h5m-2.5-2.5v5M687 1032.5h5m-2.5-2.5v5M687 1021.5h5m-2.5-2.5v5M687 1055.5h5m-2.5-2.5v5M687 992.5h5m-2.5-2.5v5M687 993.5h5m-2.5-2.5v5M688 1027.5h5m-2.5-2.5v5M688 1038.5h5m-2.5-2.5v5M688 1030.5h5m-2.5-2.5v5M688 1020.5h5m-2.5-2.5v5M688 1025.5h5m-2.5-2.5v5M688 1033.5h5m-2.5-2.5v5M688 1048.5h5m-2.5-2.5v5M688 1039.5h5m-2.5-2.5v5M688 1013.5h5m-2.5-2.5v5M689 1042.5h5m-2.5-2.5v5M689 1008.5h5m-2.5-2.5v5M689 1043.5h5m-2.5-2.5v5M689 1035.5h5m-2.5-2.5v5M689 1028.5h5m-2.5-2.5v5M689 1043.5h5m-2.5-2.5v5M689 1003.5h5m-2.5-2.5v5M689 1013.5h5m-2.5-2.5v5M689 997.5h5m-2.5-2.5v5M689 998.5h5m-2.5-2.5v5M689 1056.5h5m-2.5-2.5v5M689 1029.5h5m-2.5-2.5v5M689 1048.5h5m-2.5-2.5v5M689 1004.5h5m-2.5-2.5v5M689 1028.5h5m-2.5-2.5v5M689 1002.5h5m-2.5-2.5v5M690 1030.5h5m-2.5-2.5v5M690 996.5h5m-2.5-2.5v5M690 1017.5h5m-2.5-2.5v5M690 1048.5h5m-2.5-2.5v5M690 1023.5h5m-2.5-2.5v5M690 1031.5h5m-2.5-2.5v5M690 1008.5h5m-2.5-2.5v5M690 1022.5h5m-2.5-2.5v5M690 1005.5h5m-2.5-2.5v5M690 1008.5h5m-2.5-2.5v5M690 1015.5h5m-2.5-2.5v5M690 1029.5h5m-2.5-2.5v5M690 1037.5h5m-2.5-2.5v5M691 998.5h5m-2.5-2.5v5M691 1024.5h5m-2.5-2.5v5M691 1024.5h5m-2.5-2.5v5M692 1007.5h5m-2.5-2.5v5M692 1050.5h5m-2.5-2.5v5M692 1011.5h5m-2.5-2.5v5M692 1046.5h5m-2.5-2.5v5M692 999.5h5m-2.5-2.5v5M692 1005.5h5m-2.5-2.5v5M692 983.5h5m-2.5-2.5v5M693 1056.5h5m-2.5-2.5v5M693 1046.5h5m-2.5-2.5v5M693 1046.5h5m-2.5-2.5v5M693 1042.5h5m-2.5-2.5v5M693 1010.5h5m-2.5-2.5v5M693 1033.5h5m-2.5-2.5v5M694 997.5h5m-2.5-2.5v5M694 1013.5h5m-2.5-2.5v5M694 1034.5h5m-2.5-2.5v5M694 1008.5h5m-2.5-2.5v5M694 1048.5h5m-2.5-2.5v5M694 1010.5h5m-2.5-2.5v5M694 1031.5h5m-2.5-2.5v5M694 1025.5h5m-2.5-2.5v5M694 1006.5h5m-2.5-2.5v5M694 1009.5h5m-2.5-2.5v5M694 1044.5h5m-2.5-2.5v5M695 1048.5h5m-2.5-2.5v5M695 1053.5h5m-2.5-2.5v5M695 1012.5h5m-2.5-2.5v5M695 1046.5h5m-2.5-2.5v5M695 1030.5h5m-2.5-2.5v5M695 1023.5h5m-2.5-2.5v5M695 1045.5h5m-2.5-2.5v5M695 1025.5h5m-2.5-2.5v5M695 1011.5h5m-2.5-2.5v5M695 994.5h5m-2.5-2.5v5M695 1028.5h5m-2.5-2.5v5M695 1007.5h5m-2.5-2.5v5M695 1029.5h5m-2.5-2.5v5M695 995.5h5m-2.5-2.5v5M696 1041.5h5m-2.5-2.5v5M696 1042.5h5m-2.5-2.5v5M696 1023.5h5m-2.5-2.5v5M696 1034.5h5m-2.5-2.5v5M696 1020.5h5m-2.5-2.5v5M696 1032.5h5m-2.5-2.5v5M696 1034.5h5m-2.5-2.5v5M696 1008.5h5m-2.5-2.5v5M696 990.5h5m-2.5-2.5v5M697 1015.5h5m-2.5-2.5v5M697 1033.5h5m-2.5-2.5v5M697 1050.5h5m-2.5-2.5v5M697 1055.5h5m-2.5-2.5v5M697 1031.5h5m-2.5-2.5v5M697 1021.5h5m-2.5-2.5v5M697 1034.5h5m-2.5-2.5v5M697 1027.5h5m-2.5-2.5v5M697 999.5h5m-2.5-2.5v5M697 1024.5h5m-2.5-2.5v5M697 1021.5h5m-2.5-2.5v5M697 988.5h5m-2.5-2.5v5M697 988.5h5m-2.5-2.5v5M698 1055.5h5m-2.5-2.5v5M698 1019.5h5m-2.5-2.5v5M698 1042.5h5m-2.5-2.5v5M698 1058.5h5m-2.5-2.5v5M698 996.5h5m-2.5-2.5v5M698 1010.5h5m-2.5-2.5v5M699 1044.5h5m-2.5-2.5v5M699 1003.5h5m-2.5-2.5v5M699 1057.5h5m-2.5-2.5v5M699 993.5h5m-2.5-2.5v5M699 994.5h5m-2.5-2.5v5M699 985.5h5m-2.5-2.5v5M700 1000.5h5m-2.5-2.5v5M700 996.5h5m-2.5-2.5v5M700 1057.5h5m-2.5-2.5v5M700 998.5h5m-2.5-2.5v5M700 1029.5h5m-2.5-2.5v5M701 1044.5h5m-2.5-2.5v5M701 1014.5h5m-2.5-2.5v5M701 1053.5h5m-2.5-2.5v5M701 1049.5h5m-2.5-2.5v5M701 1012.5h5m-2.5-2.5v5M701 1052.5h5m-2.5-2.5v5M701 999.5h5m-2.5-2.5v5M701 1025.5h5m-2.5-2.5v5M702 1037.5h5m-2.5-2.5v5M702 1013.5h5m-2.5-2.5v5M702 1046.5h5m-2.5-2.5v5M702 1012.5h5m-2.5-2.5v5M702 1025.5h5m-2.5-2.5v5M702 1042.5h5m-2.5-2.5v5M702 1048.5h5m-2.5-2.5v5M702 982.5h5m-2.5-2.5v5M703 1043.5h5m-2.5-2.5v5M703 1006.5h5m-2.5-2.5v5M703 1002.5h5m-2.5-2.5v5M703 1003.5h5m-2.5-2.5v5M703 1024.5h5m-2.5-2.5v5M703 997.5h5m-2.5-2.5v5M703 1018.5h5m-2.5-2.5v5M703 1011.5h5m-2.5-2.5v5M703 1025.5h5m-2.5-2.5v5M704 1038.5h5m-2.5-2.5v5M704 1003.5h5m-2.5-2.5v5M704 1050.5h5m-2.5-2.5v5M704 1015.5h5m-2.5-2.5v5M704 1052.5h5m-2.5-2.5v5M704 1047.5h5m-2.5-2.5v5M704 1002.5h5m-2.5-2.5v5M704 994.5h5m-2.5-2.5v5M705 1051.5h5m-2.5-2.5v5M705 993.5h5m-2.5-2.5v5M705 1004.5h5m-2.5-2.5v5M705 1037.5h5m-2.5-2.5v5M705 1011.5h5m-2.5-2.5v5M705 1032.5h5m-2.5-2.5v5M706 1011.5h5m-2.5-2.5v5M706 1038.5h5m-2.5-2.5v5M706 991.5h5m-2.5-2.5v5M706 1012.5h5m-2.5-2.5v5M706 998.5h5m-2.5-2.5v5M706 1005.5h5m-2.5-2.5v5M706 1057.5h5m-2.5-2.5v5M707 991.5h5m-2.5-2.5v5M707 993.5h5m-2.5-2.5v5M707 1038.5h5m-2.5-2.5v5M707 1044.5h5m-2.5-2.5v5M707 1043.5h5m-2.5-2.5v5M707 996.5h5m-2.5-2.5v5M707 1003.5h5m-2.5-2.5v5M707 1038.5h5m-2.5-2.5v5M707 1036.5h5m-2.5-2.5v5M707 1034.5h5m-2.5-2.5v5M707 984.5h5m-2.5-2.5v5M708 1027.5h5m-2.5-2.5v5M708 1034.5h5m-2.5-2.5v5M708 992.5h5m-2.5-2.5v5M708 1047.5h5m-2.5-2.5v5M708 1037.5h5m-2.5-2.5v5M708 1023.5h5m-2.5-2.5v5M708 1045.5h5m-2.5-2.5v5M708 1005.5h5m-2.5-2.5v5M708 1019.5h5m-2.5-2.5v5M708 1055.5h5m-2.5-2.5v5M708 1028.5h5m-2.5-2.5v5M709 1029.5h5m-2.5-2.5v5M709 1017.5h5m-2.5-2.5v5M709 1040.5h5m-2.5-2.5v5M709 1024.5h5m-2.5-2.5v5M709 1011.5h5m-2.5-2.5v5M709 992.5h5m-2.5-2.5v5M709 1030.5h5m-2.5-2.5v5M710 1046.5h5m-2.5-2.5v5M710 1050.5h5m-2.5-2.5v5M710 1013.5h5m-2.5-2.5v5M710 1021.5h5m-2.5-2.5v5M710 1047.5h5m-2.5-2.5v5M710 992.5h5m-2.5-2.5v5M710 1021.5h5m-2.5-2.5v5M710 1052.5h5m-2.5-2.5v5M710 1046.5h5m-2.5-2.5v5M710 1009.5h5m-2.5-2.5v5M710 995.5h5m-2.5-2.5v5M710 987.5h5m-2.5-2.5v5M711 1003.5h5m-2.5-2.5v5M711 1016.5h5m-2.5-2.5v5M711 996.5h5m-2.5-2.5v5M711 1022.5h5m-2.5-2.5v5M711 1043.5h5m-2.5-2.5v5M711 1027.5h5m-2.5-2.5v5M711 1023.5h5m-2.5-2.5v5M711 1000.5h5m-2.5-2.5v5M711 1037.5h5m-2.5-2.5v5M711 1019.5h5m-2.5-2.5v5M712 994.5h5m-2.5-2.5v5M712 1027.5h5m-2.5-2.5v5M712 1002.5h5m-2.5-2.5v5M712 998.5h5m-2.5-2.5v5M712 995.5h5m-2.5-2.5v5M712 993.5h5m-2.5-2.5v5M712 999.5h5m-2.5-2.5v5M713 1028.5h5m-2.5-2.5v5M713 1016.5h5m-2.5-2.5v5M713 1012.5h5m-2.5-2.5v5M713 1029.5h5m-2.5-2.5v5M713 1046.5h5m-2.5-2.5v5M713 1050.5h5m-2.5-2.5v5M713 1012.5h5m-2.5-2.5v5M713 1004.5h5m-2.5-2.5v5M713 1001.5h5m-2.5-2.5v5M713 1040.5h5m-2.5-2.5v5M713 991.5h5m-2.5-2.5v5M713 982.5h5m-2.5-2.5v5M713 1053.5h5m-2.5-2.5v5M714 1002.5h5m-2.5-2.5v5M714 997.5h5m-2.5-2.5v5M715 1018.5h5m-2.5-2.5v5M715 1050.5h5m-2.5-2.5v5M715 1050.5h5m-2.5-2.5v5M715 996.5h5m-2.5-2.5v5M715 1043.5h5m-2.5-2.5v5M715 981.5h5m-2.5-2.5v5M715 1053.5h5m-2.5-2.5v5M716 994.5h5m-2.5-2.5v5M716 1009.5h5m-2.5-2.5v5M716 1010.5h5m-2.5-2.5v5M716 1035.5h5m-2.5-2.5v5M716 1029.5h5m-2.5-2.5v5M717 1004.5h5m-2.5-2.5v5M717 1039.5h5m-2.5-2.5v5M717 1036.5h5m-2.5-2.5v5M717 1007.5h5m-2.5-2.5v5M718 1016.5h5m-2.5-2.5v5M718 1014.5h5m-2.5-2.5v5M719 1032.5h5m-2.5-2.5v5M719 1002.5h5m-2.5-2.5v5M719 1047.5h5m-2.5-2.5v5M719 1023.5h5m-2.5-2.5v5M719 1041.5h5m-2.5-2.5v5M719 1025.5h5m-2.5-2.5v5M719 1039.5h5m-2.5-2.5v5M719 996.5h5m-2.5-2.5v5M719 1009.5h5m-2.5-2.5v5M719 1021.5h5m-2.5-2.5v5M719 1043.5h5m-2.5-2.5v5M719 1013.5h5m-2.5-2.5v5M719 1034.5h5m-2.5-2.5v5M720 1043.5h5m-2.5-2.5v5M720 1002.5h5m-2.5-2.5v5M720 1038.5h5m-2.5-2.5v5M720 1008.5h5m-2.5-2.5v5M720 1010.5h5m-2.5-2.5v5M720 1009.5h5m-2.5-2.5v5M720 991.5h5m-2.5-2.5v5M721 1021.5h5m-2.5-2.5v5M721 1034.5h5m-2.5-2.5v5M721 1019.5h5m-2.5-2.5v5M721 1030.5h5m-2.5-2.5v5M721 1019.5h5m-2.5-2.5v5M722 1010.5h5m-2.5-2.5v5M722 996.5h5m-2.5-2.5v5M722 996.5h5m-2.5-2.5v5M722 1045.5h5m-2.5-2.5v5M722 1008.5h5m-2.5-2.5v5M722 1022.5h5m-2.5-2.5v5M722 1033.5h5m-2.5-2.5v5M723 1034.5h5m-2.5-2.5v5M723 1044.5h5m-2.5-2.5v5M723 1028.5h5m-2.5-2.5v5M724 997.5h5m-2.5-2.5v5M724 1026.5h5m-2.5-2.5v5M724 1016.5h5m-2.5-2.5v5M724 1010.5h5m-2.5-2.5v5M724 1015.5h5m-2.5-2.5v5M724 985.5h5m-2.5-2.5v5M725 1034.5h5m-2.5-2.5v5M725 1021.5h5m-2.5-2.5v5M725 1010.5h5m-2.5-2.5v5M725 1029.5h5m-2.5-2.5v5M725 995.5h5m-2.5-2.5v5M725 1021.5h5m-2.5-2.5v5M725 1036.5h5m-2.5-2.5v5M725 1050.5h5m-2.5-2.5v5M726 1004.5h5m-2.5-2.5v5M726 1014.5h5m-2.5-2.5v5M727 1015.5h5m-2.5-2.5v5M727 1020.5h5m-2.5-2.5v5M727 995.5h5m-2.5-2.5v5M727 1040.5h5m-2.5-2.5v5M727 1036.5h5m-2.5-2.5v5M727 1026.5h5m-2.5-2.5v5M727 989.5h5m-2.5-2.5v5M728 1028.5h5m-2.5-2.5v5M728 1000.5h5m-2.5-2.5v5M728 1039.5h5m-2.5-2.5v5M728 1024.5h5m-2.5-2.5v5M728 1035.5h5m-2.5-2.5v5M728 1007.5h5m-2.5-2.5v5M728 1008.5h5m-2.5-2.5v5M728 1013.5h5m-2.5-2.5v5M729 1028.5h5m-2.5-2.5v5M729 996.5h5m-2.5-2.5v5M729 1011.5h5m-2.5-2.5v5M729 1008.5h5m-2.5-2.5v5M730 1033.5h5m-2.5-2.5v5M730 1017.5h5m-2.5-2.5v5M730 1004.5h5m-2.5-2.5v5M730 1048.5h5m-2.5-2.5v5M730 1019.5h5m-2.5-2.5v5M731 1048.5h5m-2.5-2.5v5M731 1021.5h5m-2.5-2.5v5M731 1028.5h5m-2.5-2.5v5M732 999.5h5m-2.5-2.5v5M732 1013.5h5m-2.5-2.5v5M732 1039.5h5m-2.5-2.5v5M732 1010.5h5m-2.5-2.5v5M732 1049.5h5m-2.5-2.5v5M733 1041.5h5m-2.5-2.5v5M733 1015.5h5m-2.5-2.5v5M734 1046.5h5m-2.5-2.5v5M734 1034.5h5m-2.5-2.5v5M734 1004.5h5m-2.5-2.5v5M735 1044.5h5m-2.5-2.5v5M735 1033.5h5m-2.5-2.5v5M736 997.5h5m-2.5-2.5v5M736 1010.5h5m-2.5-2.5v5M737 1009.5h5m-2.5-2.5v5M737 1010.5h5m-2.5-2.5v5M737 1040.5h5m-2.5-2.5v5M737 1010.5h5m-2.5-2.5v5M737 1044.5h5m-2.5-2.5v5M737 1046.5h5m-2.5-2.5v5M737 1034.5h5m-2.5-2.5v5M738 997.5h5m-2.5-2.5v5M738 1001.5h5m-2.5-2.5v5M739 1031.5h5m-2.5-2.5v5M740 1001.5h5m-2.5-2.5v5M740 1006.5h5m-2.5-2.5v5M740 1036.5h5m-2.5-2.5v5M740 1024.5h5m-2.5-2.5v5M740 996.5h5m-2.5-2.5v5M741 1034.5h5m-2.5-2.5v5M741 1010.5h5m-2.5-2.5v5M742 1032.5h5m-2.5-2.5v5M742 1030.5h5m-2.5-2.5v5M742 997.5h5m-2.5-2.5v5M742 1062.5h5m-2.5-2.5v5M743 1025.5h5m-2.5-2.5v5M744 1048.5h5m-2.5-2.5v5M745 1043.5h5m-2.5-2.5v5M745 1051.5h5m-2.5-2.5v5M745 1054.5h5m-2.5-2.5v5M746 991.5h5m-2.5-2.5v5M747 1056.5h5m-2.5-2.5v5M747 1022.5h5m-2.5-2.5v5M748 1000.5h5m-2.5-2.5v5M748 1056.5h5m-2.5-2.5v5M748 1005.5h5m-2.5-2.5v5M751 1032.5h5m-2.5-2.5v5M753 1024.5h5m-2.5-2.5v5M754 1006.5h5m-2.5-2.5v5M755 1030.5h5m-2.5-2.5v5M755 1011.5h5m-2.5-2.5v5M756 1043.5h5m-2.5-2.5v5M757 1033.5h5m-2.5-2.5v5M757 1038.5h5m-2.5-2.5v5M758 1044.5h5m-2.5-2.5v5M758 1017.5h5m-2.5-2.5v5M759 1003.5h5m-2.5-2.5v5M761 1035.5h5m-2.5-2.5v5M761 1034.5h5m-2.5-2.5v5M762 1056.5h5m-2.5-2.5v5M764 1055.5h5m-2.5-2.5v5M764 1008.5h5m-2.5-2.5v5M766 1009.5h5m-2.5-2.5v5M770 1020.5h5m-2.5-2.5v5M773 1031.5h5m-2.5-2.5v5M773 1055.5h5m-2.5-2.5v5M694 1074.5h5m-2.5-2.5v5M689 982.5h5m-2.5-2.5v5M726 963.5h5m-2.5-2.5v5M711 963.5h5m-2.5-2.5v5M735 949.5h5m-2.5-2.5v5M722 963.5h5m-2.5-2.5v5M718 962.5h5m-2.5-2.5v5M718 976.5h5m-2.5-2.5v5M735 959.5h5m-2.5-2.5v5M740 953.5h5m-2.5-2.5v5M759 960.5h5m-2.5-2.5v5M763 974.5h5m-2.5-2.5v5M745 986.5h5m-2.5-2.5v5M717 977.5h5m-2.5-2.5v5M767 1067.5h5m-2.5-2.5v5M671 971.5h5m-2.5-2.5v5M777 1012.5h5m-2.5-2.5v5M791 1015.5h5m-2.5-2.5v5M756 1060.5h5m-2.5-2.5v5M691 1061.5h5m-2.5-2.5v5M716 959.5h5m-2.5-2.5v5M735 972.5h5m-2.5-2.5v5M782 1007.5h5m-2.5-2.5v5M769 1017.5h5m-2.5-2.5v5M713 983.5h5m-2.5-2.5v5M746 964.5h5m-2.5-2.5v5" stroke="#363636" stroke-opacity="0.58" stroke-width="1.2" fill="none"/>
<path d="M662 1022.5h5m-2.5-2.5v5M663 1014.5h5m-2.5-2.5v5M664 1027.5h5m-2.5-2.5v5M665 1031.5h5m-2.5-2.5v5M665 1031.5h5m-2.5-2.5v5M665 1022.5h5m-2.5-2.5v5M665 1012.5h5m-2.5-2.5v5M666 1035.5h5m-2.5-2.5v5M666 1034.5h5m-2.5-2.5v5M667 1013.5h5m-2.5-2.5v5M668 1012.5h5m-2.5-2.5v5M668 1031.5h5m-2.5-2.5v5M668 1010.5h5m-2.5-2.5v5M668 1038.5h5m-2.5-2.5v5M668 1039.5h5m-2.5-2.5v5M668 1028.5h5m-2.5-2.5v5M668 1028.5h5m-2.5-2.5v5M668 1032.5h5m-2.5-2.5v5M668 1039.5h5m-2.5-2.5v5M668 1028.5h5m-2.5-2.5v5M668 1004.5h5m-2.5-2.5v5M668 1046.5h5m-2.5-2.5v5M669 1011.5h5m-2.5-2.5v5M669 1028.5h5m-2.5-2.5v5M669 1023.5h5m-2.5-2.5v5M669 1039.5h5m-2.5-2.5v5M669 1028.5h5m-2.5-2.5v5M670 1028.5h5m-2.5-2.5v5M670 1008.5h5m-2.5-2.5v5M671 1014.5h5m-2.5-2.5v5M671 1019.5h5m-2.5-2.5v5M671 1030.5h5m-2.5-2.5v5M671 1039.5h5m-2.5-2.5v5M671 1018.5h5m-2.5-2.5v5M671 1019.5h5m-2.5-2.5v5M671 1023.5h5m-2.5-2.5v5M672 1012.5h5m-2.5-2.5v5M672 1045.5h5m-2.5-2.5v5M672 1009.5h5m-2.5-2.5v5M672 1042.5h5m-2.5-2.5v5M672 1045.5h5m-2.5-2.5v5M672 1010.5h5m-2.5-2.5v5M672 1013.5h5m-2.5-2.5v5M673 1028.5h5m-2.5-2.5v5M673 1014.5h5m-2.5-2.5v5M673 1036.5h5m-2.5-2.5v5M673 1009.5h5m-2.5-2.5v5M673 1001.5h5m-2.5-2.5v5M674 1046.5h5m-2.5-2.5v5M674 1013.5h5m-2.5-2.5v5M674 1007.5h5m-2.5-2.5v5M674 1038.5h5m-2.5-2.5v5M675 1009.5h5m-2.5-2.5v5M675 1003.5h5m-2.5-2.5v5M675 1013.5h5m-2.5-2.5v5M675 1002.5h5m-2.5-2.5v5M675 1011.5h5m-2.5-2.5v5M676 1010.5h5m-2.5-2.5v5M676 1029.5h5m-2.5-2.5v5M676 1044.5h5m-2.5-2.5v5M676 1017.5h5m-2.5-2.5v5M676 1030.5h5m-2.5-2.5v5M676 1055.5h5m-2.5-2.5v5M676 1056.5h5m-2.5-2.5v5M677 1023.5h5m-2.5-2.5v5M677 1033.5h5m-2.5-2.5v5M677 1011.5h5m-2.5-2.5v5M677 1030.5h5m-2.5-2.5v5M677 1005.5h5m-2.5-2.5v5M678 1037.5h5m-2.5-2.5v5M678 1038.5h5m-2.5-2.5v5M678 1045.5h5m-2.5-2.5v5M678 1035.5h5m-2.5-2.5v5M678 1025.5h5m-2.5-2.5v5M678 1029.5h5m-2.5-2.5v5M678 1004.5h5m-2.5-2.5v5M678 1012.5h5m-2.5-2.5v5M678 1024.5h5m-2.5-2.5v5M678 1025.5h5m-2.5-2.5v5M678 999.5h5m-2.5-2.5v5M678 1061.5h5m-2.5-2.5v5M679 1049.5h5m-2.5-2.5v5M679 1049.5h5m-2.5-2.5v5M679 1059.5h5m-2.5-2.5v5M679 1023.5h5m-2.5-2.5v5M679 1046.5h5m-2.5-2.5v5M679 1034.5h5m-2.5-2.5v5M679 1053.5h5m-2.5-2.5v5M679 1037.5h5m-2.5-2.5v5M680 1008.5h5m-2.5-2.5v5M680 1041.5h5m-2.5-2.5v5M680 1028.5h5m-2.5-2.5v5M680 1028.5h5m-2.5-2.5v5M680 1014.5h5m-2.5-2.5v5M680 990.5h5m-2.5-2.5v5M681 1002.5h5m-2.5-2.5v5M681 1036.5h5m-2.5-2.5v5M681 1006.5h5m-2.5-2.5v5M681 1056.5h5m-2.5-2.5v5M681 995.5h5m-2.5-2.5v5M681 993.5h5m-2.5-2.5v5M681 998.5h5m-2.5-2.5v5M682 1024.5h5m-2.5-2.5v5M682 1020.5h5m-2.5-2.5v5M682 1047.5h5m-2.5-2.5v5M683 1013.5h5m-2.5-2.5v5M683 1045.5h5m-2.5-2.5v5M683 1020.5h5m-2.5-2.5v5M683 1020.5h5m-2.5-2.5v5M683 1030.5h5m-2.5-2.5v5M683 1046.5h5m-2.5-2.5v5M683 1022.5h5m-2.5-2.5v5M683 1020.5h5m-2.5-2.5v5M683 1063.5h5m-2.5-2.5v5M684 1045.5h5m-2.5-2.5v5M684 1050.5h5m-2.5-2.5v5M684 1016.5h5m-2.5-2.5v5M684 1023.5h5m-2.5-2.5v5M684 1043.5h5m-2.5-2.5v5M684 1049.5h5m-2.5-2.5v5M684 1057.5h5m-2.5-2.5v5M684 1035.5h5m-2.5-2.5v5M685 1003.5h5m-2.5-2.5v5M685 1010.5h5m-2.5-2.5v5M685 1034.5h5m-2.5-2.5v5M685 1050.5h5m-2.5-2.5v5M685 1005.5h5m-2.5-2.5v5M685 1014.5h5m-2.5-2.5v5M685 1017.5h5m-2.5-2.5v5M685 999.5h5m-2.5-2.5v5M685 1033.5h5m-2.5-2.5v5M685 1037.5h5m-2.5-2.5v5M685 992.5h5m-2.5-2.5v5M685 984.5h5m-2.5-2.5v5M686 1006.5h5m-2.5-2.5v5M686 1009.5h5m-2.5-2.5v5M686 1001.5h5m-2.5-2.5v5M686 1037.5h5m-2.5-2.5v5M687 1038.5h5m-2.5-2.5v5M687 997.5h5m-2.5-2.5v5M687 996.5h5m-2.5-2.5v5M687 1015.5h5m-2.5-2.5v5M688 1041.5h5m-2.5-2.5v5M688 1047.5h5m-2.5-2.5v5M688 998.5h5m-2.5-2.5v5M688 1012.5h5m-2.5-2.5v5M688 1046.5h5m-2.5-2.5v5M688 1015.5h5m-2.5-2.5v5M688 1057.5h5m-2.5-2.5v5M689 1011.5h5m-2.5-2.5v5M689 1041.5h5m-2.5-2.5v5M689 1009.5h5m-2.5-2.5v5M689 1038.5h5m-2.5-2.5v5M689 1005.5h5m-2.5-2.5v5M689 1013.5h5m-2.5-2.5v5M689 1005.5h5m-2.5-2.5v5M689 985.5h5m-2.5-2.5v5M689 995.5h5m-2.5-2.5v5M690 1009.5h5m-2.5-2.5v5M690 1015.5h5m-2.5-2.5v5M690 1037.5h5m-2.5-2.5v5M690 1056.5h5m-2.5-2.5v5M690 1011.5h5m-2.5-2.5v5M690 1041.5h5m-2.5-2.5v5M690 1045.5h5m-2.5-2.5v5M690 1033.5h5m-2.5-2.5v5M691 1003.5h5m-2.5-2.5v5M691 1037.5h5m-2.5-2.5v5M691 1016.5h5m-2.5-2.5v5M691 1040.5h5m-2.5-2.5v5M691 1041.5h5m-2.5-2.5v5M691 1024.5h5m-2.5-2.5v5M691 1031.5h5m-2.5-2.5v5M692 1010.5h5m-2.5-2.5v5M692 1042.5h5m-2.5-2.5v5M692 1000.5h5m-2.5-2.5v5M692 1000.5h5m-2.5-2.5v5M692 1021.5h5m-2.5-2.5v5M693 1041.5h5m-2.5-2.5v5M693 1005.5h5m-2.5-2.5v5M693 1002.5h5m-2.5-2.5v5M694 1044.5h5m-2.5-2.5v5M694 1035.5h5m-2.5-2.5v5M694 1011.5h5m-2.5-2.5v5M694 1012.5h5m-2.5-2.5v5M694 1018.5h5m-2.5-2.5v5M694 997.5h5m-2.5-2.5v5M694 1042.5h5m-2.5-2.5v5M694 1035.5h5m-2.5-2.5v5M694 1047.5h5m-2.5-2.5v5M694 997.5h5m-2.5-2.5v5M694 998.5h5m-2.5-2.5v5M695 1028.5h5m-2.5-2.5v5M695 1001.5h5m-2.5-2.5v5M695 1027.5h5m-2.5-2.5v5M695 1058.5h5m-2.5-2.5v5M695 1035.5h5m-2.5-2.5v5M695 1002.5h5m-2.5-2.5v5M695 1039.5h5m-2.5-2.5v5M695 1050.5h5m-2.5-2.5v5M695 1018.5h5m-2.5-2.5v5M695 1015.5h5m-2.5-2.5v5M695 1027.5h5m-2.5-2.5v5M696 1012.5h5m-2.5-2.5v5M696 1024.5h5m-2.5-2.5v5M696 1022.5h5m-2.5-2.5v5M696 992.5h5m-2.5-2.5v5M697 1016.5h5m-2.5-2.5v5M697 1003.5h5m-2.5-2.5v5M697 1001.5h5m-2.5-2.5v5M697 1020.5h5m-2.5-2.5v5M697 994.5h5m-2.5-2.5v5M697 1007.5h5m-2.5-2.5v5M697 1058.5h5m-2.5-2.5v5M697 1057.5h5m-2.5-2.5v5M698 1026.5h5m-2.5-2.5v5M698 994.5h5m-2.5-2.5v5M698 1007.5h5m-2.5-2.5v5M698 1013.5h5m-2.5-2.5v5M698 999.5h5m-2.5-2.5v5M698 1057.5h5m-2.5-2.5v5M698 998.5h5m-2.5-2.5v5M698 1027.5h5m-2.5-2.5v5M699 993.5h5m-2.5-2.5v5M699 1018.5h5m-2.5-2.5v5M699 1038.5h5m-2.5-2.5v5M699 1022.5h5m-2.5-2.5v5M699 1038.5h5m-2.5-2.5v5M699 1049.5h5m-2.5-2.5v5M699 1003.5h5m-2.5-2.5v5M699 995.5h5m-2.5-2.5v5M699 1038.5h5m-2.5-2.5v5M699 1009.5h5m-2.5-2.5v5M699 989.5h5m-2.5-2.5v5M700 1042.5h5m-2.5-2.5v5M700 1014.5h5m-2.5-2.5v5M700 1010.5h5m-2.5-2.5v5M700 1017.5h5m-2.5-2.5v5M700 1005.5h5m-2.5-2.5v5M700 1038.5h5m-2.5-2.5v5M700 1018.5h5m-2.5-2.5v5M700 1046.5h5m-2.5-2.5v5M700 1028.5h5m-2.5-2.5v5M701 1028.5h5m-2.5-2.5v5M701 1022.5h5m-2.5-2.5v5M701 999.5h5m-2.5-2.5v5M701 1021.5h5m-2.5-2.5v5M701 1039.5h5m-2.5-2.5v5M701 1010.5h5m-2.5-2.5v5M701 1042.5h5m-2.5-2.5v5M701 1021.5h5m-2.5-2.5v5M702 1040.5h5m-2.5-2.5v5M702 1027.5h5m-2.5-2.5v5M703 1050.5h5m-2.5-2.5v5M703 1000.5h5m-2.5-2.5v5M703 1047.5h5m-2.5-2.5v5M703 1055.5h5m-2.5-2.5v5M703 1025.5h5m-2.5-2.5v5M703 1000.5h5m-2.5-2.5v5M703 1000.5h5m-2.5-2.5v5M703 992.5h5m-2.5-2.5v5M704 1039.5h5m-2.5-2.5v5M704 992.5h5m-2.5-2.5v5M704 1012.5h5m-2.5-2.5v5M704 1022.5h5m-2.5-2.5v5M704 1049.5h5m-2.5-2.5v5M704 1008.5h5m-2.5-2.5v5M704 1028.5h5m-2.5-2.5v5M704 1051.5h5m-2.5-2.5v5M705 1036.5h5m-2.5-2.5v5M705 1024.5h5m-2.5-2.5v5M705 1026.5h5m-2.5-2.5v5M705 1009.5h5m-2.5-2.5v5M705 999.5h5m-2.5-2.5v5M705 1023.5h5m-2.5-2.5v5M705 1056.5h5m-2.5-2.5v5M705 1002.5h5m-2.5-2.5v5M705 991.5h5m-2.5-2.5v5M706 1049.5h5m-2.5-2.5v5M706 1042.5h5m-2.5-2.5v5M706 1030.5h5m-2.5-2.5v5M706 1019.5h5m-2.5-2.5v5M706 1008.5h5m-2.5-2.5v5M706 1013.5h5m-2.5-2.5v5M706 1026.5h5m-2.5-2.5v5M707 1039.5h5m-2.5-2.5v5M707 1043.5h5m-2.5-2.5v5M707 1044.5h5m-2.5-2.5v5M707 1044.5h5m-2.5-2.5v5M707 998.5h5m-2.5-2.5v5M707 1017.5h5m-2.5-2.5v5M707 1027.5h5m-2.5-2.5v5M707 992.5h5m-2.5-2.5v5M707 1022.5h5m-2.5-2.5v5M707 1034.5h5m-2.5-2.5v5M707 1058.5h5m-2.5-2.5v5M708 1025.5h5m-2.5-2.5v5M708 1042.5h5m-2.5-2.5v5M708 995.5h5m-2.5-2.5v5M708 998.5h5m-2.5-2.5v5M708 1045.5h5m-2.5-2.5v5M708 1044.5h5m-2.5-2.5v5M708 1021.5h5m-2.5-2.5v5M709 1033.5h5m-2.5-2.5v5M709 996.5h5m-2.5-2.5v5M709 1025.5h5m-2.5-2.5v5M709 1016.5h5m-2.5-2.5v5M709 1045.5h5m-2.5-2.5v5M709 1015.5h5m-2.5-2.5v5M709 1035.5h5m-2.5-2.5v5M709 1018.5h5m-2.5-2.5v5M709 1054.5h5m-2.5-2.5v5M709 992.5h5m-2.5-2.5v5M709 1022.5h5m-2.5-2.5v5M709 1006.5h5m-2.5-2.5v5M709 1057.5h5m-2.5-2.5v5M710 1054.5h5m-2.5-2.5v5M710 1014.5h5m-2.5-2.5v5M710 1038.5h5m-2.5-2.5v5M710 991.5h5m-2.5-2.5v5M710 1036.5h5m-2.5-2.5v5M710 1007.5h5m-2.5-2.5v5M710 1039.5h5m-2.5-2.5v5M711 1006.5h5m-2.5-2.5v5M711 1026.5h5m-2.5-2.5v5M711 1001.5h5m-2.5-2.5v5M711 1031.5h5m-2.5-2.5v5M711 1053.5h5m-2.5-2.5v5M711 1035.5h5m-2.5-2.5v5M711 1049.5h5m-2.5-2.5v5M712 1015.5h5m-2.5-2.5v5M712 1005.5h5m-2.5-2.5v5M712 1034.5h5m-2.5-2.5v5M712 1043.5h5m-2.5-2.5v5M712 1024.5h5m-2.5-2.5v5M712 1036.5h5m-2.5-2.5v5M712 987.5h5m-2.5-2.5v5M712 986.5h5m-2.5-2.5v5M713 1007.5h5m-2.5-2.5v5M713 1034.5h5m-2.5-2.5v5M713 1030.5h5m-2.5-2.5v5M713 1036.5h5m-2.5-2.5v5M713 1018.5h5m-2.5-2.5v5M714 1049.5h5m-2.5-2.5v5M714 1012.5h5m-2.5-2.5v5M714 1041.5h5m-2.5-2.5v5M714 993.5h5m-2.5-2.5v5M714 1000.5h5m-2.5-2.5v5M714 1044.5h5m-2.5-2.5v5M714 1035.5h5m-2.5-2.5v5M714 993.5h5m-2.5-2.5v5M714 1040.5h5m-2.5-2.5v5M714 1042.5h5m-2.5-2.5v5M714 1042.5h5m-2.5-2.5v5M714 1046.5h5m-2.5-2.5v5M715 1022.5h5m-2.5-2.5v5M715 1029.5h5m-2.5-2.5v5M715 1020.5h5m-2.5-2.5v5M716 1034.5h5m-2.5-2.5v5M716 1037.5h5m-2.5-2.5v5M716 1023.5h5m-2.5-2.5v5M716 1017.5h5m-2.5-2.5v5M716 1045.5h5m-2.5-2.5v5M716 1002.5h5m-2.5-2.5v5M716 1019.5h5m-2.5-2.5v5M716 1045.5h5m-2.5-2.5v5M716 1009.5h5m-2.5-2.5v5M716 986.5h5m-2.5-2.5v5M716 983.5h5m-2.5-2.5v5M717 1025.5h5m-2.5-2.5v5M717 998.5h5m-2.5-2.5v5M717 1044.5h5m-2.5-2.5v5M717 1000.5h5m-2.5-2.5v5M717 1045.5h5m-2.5-2.5v5M717 1038.5h5m-2.5-2.5v5M717 1007.5h5m-2.5-2.5v5M717 1020.5h5m-2.5-2.5v5M717 1017.5h5m-2.5-2.5v5M717 1024.5h5m-2.5-2.5v5M717 999.5h5m-2.5-2.5v5M717 1008.5h5m-2.5-2.5v5M718 1024.5h5m-2.5-2.5v5M718 1031.5h5m-2.5-2.5v5M718 1001.5h5m-2.5-2.5v5M718 1030.5h5m-2.5-2.5v5M718 1043.5h5m-2.5-2.5v5M718 1031.5h5m-2.5-2.5v5M719 1023.5h5m-2.5-2.5v5M719 1023.5h5m-2.5-2.5v5M719 1034.5h5m-2.5-2.5v5M719 1011.5h5m-2.5-2.5v5M719 1012.5h5m-2.5-2.5v5M719 1042.5h5m-2.5-2.5v5M719 1042.5h5m-2.5-2.5v5M719 991.5h5m-2.5-2.5v5M720 1035.5h5m-2.5-2.5v5M720 1037.5h5m-2.5-2.5v5M720 1026.5h5m-2.5-2.5v5M720 1048.5h5m-2.5-2.5v5M720 1037.5h5m-2.5-2.5v5M720 987.5h5m-2.5-2.5v5M721 1006.5h5m-2.5-2.5v5M721 1045.5h5m-2.5-2.5v5M721 997.5h5m-2.5-2.5v5M721 1009.5h5m-2.5-2.5v5M721 1002.5h5m-2.5-2.5v5M721 1028.5h5m-2.5-2.5v5M721 1026.5h5m-2.5-2.5v5M721 1012.5h5m-2.5-2.5v5M721 1003.5h5m-2.5-2.5v5M721 1033.5h5m-2.5-2.5v5M721 1025.5h5m-2.5-2.5v5M721 1022.5h5m-2.5-2.5v5M722 1002.5h5m-2.5-2.5v5M722 1003.5h5m-2.5-2.5v5M723 1000.5h5m-2.5-2.5v5M723 1027.5h5m-2.5-2.5v5M723 1020.5h5m-2.5-2.5v5M723 1016.5h5m-2.5-2.5v5M723 998.5h5m-2.5-2.5v5M723 1025.5h5m-2.5-2.5v5M723 1034.5h5m-2.5-2.5v5M723 990.5h5m-2.5-2.5v5M723 983.5h5m-2.5-2.5v5M724 1003.5h5m-2.5-2.5v5M724 1044.5h5m-2.5-2.5v5M724 1042.5h5m-2.5-2.5v5M724 1040.5h5m-2.5-2.5v5M724 1030.5h5m-2.5-2.5v5M724 1005.5h5m-2.5-2.5v5M724 1007.5h5m-2.5-2.5v5M724 1037.5h5m-2.5-2.5v5M724 1038.5h5m-2.5-2.5v5M724 985.5h5m-2.5-2.5v5M725 1011.5h5m-2.5-2.5v5M725 1014.5h5m-2.5-2.5v5M725 1035.5h5m-2.5-2.5v5M725 985.5h5m-2.5-2.5v5M725 1048.5h5m-2.5-2.5v5M726 1039.5h5m-2.5-2.5v5M726 998.5h5m-2.5-2.5v5M727 1039.5h5m-2.5-2.5v5M727 1028.5h5m-2.5-2.5v5M727 1027.5h5m-2.5-2.5v5M728 1000.5h5m-2.5-2.5v5M728 1000.5h5m-2.5-2.5v5M728 1030.5h5m-2.5-2.5v5M728 1001.5h5m-2.5-2.5v5M728 1004.5h5m-2.5-2.5v5M728 1039.5h5m-2.5-2.5v5M728 994.5h5m-2.5-2.5v5M728 994.5h5m-2.5-2.5v5M729 1046.5h5m-2.5-2.5v5M729 1038.5h5m-2.5-2.5v5M729 1030.5h5m-2.5-2.5v5M729 1020.5h5m-2.5-2.5v5M730 1026.5h5m-2.5-2.5v5M730 1039.5h5m-2.5-2.5v5M730 1005.5h5m-2.5-2.5v5M730 1043.5h5m-2.5-2.5v5M730 1022.5h5m-2.5-2.5v5M730 1019.5h5m-2.5-2.5v5M731 1031.5h5m-2.5-2.5v5M731 1051.5h5m-2.5-2.5v5M732 1013.5h5m-2.5-2.5v5M732 1031.5h5m-2.5-2.5v5M732 1019.5h5m-2.5-2.5v5M732 1029.5h5m-2.5-2.5v5M732 1008.5h5m-2.5-2.5v5M732 1033.5h5m-2.5-2.5v5M732 1028.5h5m-2.5-2.5v5M732 1048.5h5m-2.5-2.5v5M732 1051.5h5m-2.5-2.5v5M733 1014.5h5m-2.5-2.5v5M733 992.5h5m-2.5-2.5v5M734 1051.5h5m-2.5-2.5v5M734 1048.5h5m-2.5-2.5v5M734 1045.5h5m-2.5-2.5v5M734 1026.5h5m-2.5-2.5v5M735 1025.5h5m-2.5-2.5v5M735 1034.5h5m-2.5-2.5v5M735 1000.5h5m-2.5-2.5v5M736 1053.5h5m-2.5-2.5v5M736 1003.5h5m-2.5-2.5v5M736 1017.5h5m-2.5-2.5v5M736 1053.5h5m-2.5-2.5v5M737 1034.5h5m-2.5-2.5v5M737 1039.5h5m-2.5-2.5v5M739 1034.5h5m-2.5-2.5v5M739 1006.5h5m-2.5-2.5v5M739 1011.5h5m-2.5-2.5v5M739 1041.5h5m-2.5-2.5v5M739 999.5h5m-2.5-2.5v5M739 1028.5h5m-2.5-2.5v5M740 1012.5h5m-2.5-2.5v5M740 1002.5h5m-2.5-2.5v5M740 1054.5h5m-2.5-2.5v5M741 1002.5h5m-2.5-2.5v5M741 1000.5h5m-2.5-2.5v5M741 1060.5h5m-2.5-2.5v5M742 1017.5h5m-2.5-2.5v5M742 1015.5h5m-2.5-2.5v5M743 1016.5h5m-2.5-2.5v5M744 1052.5h5m-2.5-2.5v5M744 1050.5h5m-2.5-2.5v5M744 1023.5h5m-2.5-2.5v5M745 1038.5h5m-2.5-2.5v5M746 1023.5h5m-2.5-2.5v5M746 1021.5h5m-2.5-2.5v5M746 1049.5h5m-2.5-2.5v5M746 1007.5h5m-2.5-2.5v5M746 1043.5h5m-2.5-2.5v5M747 1054.5h5m-2.5-2.5v5M747 1004.5h5m-2.5-2.5v5M748 1017.5h5m-2.5-2.5v5M750 1055.5h5m-2.5-2.5v5M751 1046.5h5m-2.5-2.5v5M751 1047.5h5m-2.5-2.5v5M751 1034.5h5m-2.5-2.5v5M751 1035.5h5m-2.5-2.5v5M751 1022.5h5m-2.5-2.5v5M751 1020.5h5m-2.5-2.5v5M753 1042.5h5m-2.5-2.5v5M753 1003.5h5m-2.5-2.5v5M755 1037.5h5m-2.5-2.5v5M755 1045.5h5m-2.5-2.5v5M755 1039.5h5m-2.5-2.5v5M755 1033.5h5m-2.5-2.5v5M756 1042.5h5m-2.5-2.5v5M757 1058.5h5m-2.5-2.5v5M757 1005.5h5m-2.5-2.5v5M757 1006.5h5m-2.5-2.5v5M757 1028.5h5m-2.5-2.5v5M757 1034.5h5m-2.5-2.5v5M758 1056.5h5m-2.5-2.5v5M758 1021.5h5m-2.5-2.5v5M758 1028.5h5m-2.5-2.5v5M758 1031.5h5m-2.5-2.5v5M759 1040.5h5m-2.5-2.5v5M759 1045.5h5m-2.5-2.5v5M759 997.5h5m-2.5-2.5v5M759 1062.5h5m-2.5-2.5v5M762 1007.5h5m-2.5-2.5v5M763 1049.5h5m-2.5-2.5v5M763 1011.5h5m-2.5-2.5v5M769 1055.5h5m-2.5-2.5v5M772 1042.5h5m-2.5-2.5v5M773 1047.5h5m-2.5-2.5v5M775 1021.5h5m-2.5-2.5v5M781 1050.5h5m-2.5-2.5v5M696 1077.5h5m-2.5-2.5v5M726 959.5h5m-2.5-2.5v5M690 983.5h5m-2.5-2.5v5M733 988.5h5m-2.5-2.5v5M735 957.5h5m-2.5-2.5v5M747 990.5h5m-2.5-2.5v5M742 952.5h5m-2.5-2.5v5M750 975.5h5m-2.5-2.5v5M747 986.5h5m-2.5-2.5v5M740 977.5h5m-2.5-2.5v5M750 990.5h5m-2.5-2.5v5M724 978.5h5m-2.5-2.5v5M762 981.5h5m-2.5-2.5v5M679 979.5h5m-2.5-2.5v5M712 981.5h5m-2.5-2.5v5M776 1022.5h5m-2.5-2.5v5M788 996.5h5m-2.5-2.5v5M793 1038.5h5m-2.5-2.5v5M673 977.5h5m-2.5-2.5v5M754 995.5h5m-2.5-2.5v5M696 983.5h5m-2.5-2.5v5M792 982.5h5m-2.5-2.5v5M728 980.5h5m-2.5-2.5v5" stroke="#363636" stroke-opacity="0.58" stroke-width="1.2" fill="none"/>
<path d="M662 1021.5h5m-2.5-2.5v5M663 1021.5h5m-2.5-2.5v5M664 1021.5h5m-2.5-2.5v5M665 1017.5h5m-2.5-2.5v5M665 1017.5h5m-2.5-2.5v5M666 1028.5h5m-2.5-2.5v5M666 1031.5h5m-2.5-2.5v5M666 1024.5h5m-2.5-2.5v5M666 1035.5h5m-2.5-2.5v5M666 1005.5h5m-2.5-2.5v5M667 1033.5h5m-2.5-2.5v5M667 1012.5h5m-2.5-2.5v5M667 1024.5h5m-2.5-2.5v5M667 1034.5h5m-2.5-2.5v5M667 1026.5h5m-2.5-2.5v5M667 1010.5h5m-2.5-2.5v5M667 1036.5h5m-2.5-2.5v5M668 1012.5h5m-2.5-2.5v5M668 1019.5h5m-2.5-2.5v5M668 1034.5h5m-2.5-2.5v5M668 1016.5h5m-2.5-2.5v5M669 1031.5h5m-2.5-2.5v5M669 1027.5h5m-2.5-2.5v5M669 1019.5h5m-2.5-2.5v5M670 1017.5h5m-2.5-2.5v5M670 1010.5h5m-2.5-2.5v5M670 1012.5h5m-2.5-2.5v5M670 1011.5h5m-2.5-2.5v5M670 1010.5h5m-2.5-2.5v5M670 1009.5h5m-2.5-2.5v5M670 1036.5h5m-2.5-2.5v5M671 1039.5h5m-2.5-2.5v5M671 1044.5h5m-2.5-2.5v5M671 1038.5h5m-2.5-2.5v5M671 1028.5h5m-2.5-2.5v5M671 1023.5h5m-2.5-2.5v5M672 1039.5h5m-2.5-2.5v5M672 1025.5h5m-2.5-2.5v5M672 1037.5h5m-2.5-2.5v5M672 1040.5h5m-2.5-2.5v5M672 1013.5h5m-2.5-2.5v5M672 1001.5h5m-2.5-2.5v5M673 1045.5h5m-2.5-2.5v5M673 1010.5h5m-2.5-2.5v5M673 1047.5h5m-2.5-2.5v5M673 1012.5h5m-2.5-2.5v5M673 1004.5h5m-2.5-2.5v5M674 994.5h5m-2.5-2.5v5M675 1029.5h5m-2.5-2.5v5M675 1007.5h5m-2.5-2.5v5M675 1035.5h5m-2.5-2.5v5M675 1048.5h5m-2.5-2.5v5M675 1016.5h5m-2.5-2.5v5M675 1037.5h5m-2.5-2.5v5M675 1042.5h5m-2.5-2.5v5M675 1016.5h5m-2.5-2.5v5M676 1032.5h5m-2.5-2.5v5M676 1042.5h5m-2.5-2.5v5M676 1003.5h5m-2.5-2.5v5M676 1007.5h5m-2.5-2.5v5M676 1007.5h5m-2.5-2.5v5M676 1056.5h5m-2.5-2.5v5M677 1016.5h5m-2.5-2.5v5M677 1054.5h5m-2.5-2.5v5M677 1044.5h5m-2.5-2.5v5M677 1045.5h5m-2.5-2.5v5M677 1000.5h5m-2.5-2.5v5M677 1035.5h5m-2.5-2.5v5M677 1058.5h5m-2.5-2.5v5M678 1042.5h5m-2.5-2.5v5M678 1045.5h5m-2.5-2.5v5M678 1045.5h5m-2.5-2.5v5M678 1030.5h5m-2.5-2.5v5M678 1002.5h5m-2.5-2.5v5M678 1044.5h5m-2.5-2.5v5M678 1025.5h5m-2.5-2.5v5M678 1003.5h5m-2.5-2.5v5M678 1031.5h5m-2.5-2.5v5M678 1060.5h5m-2.5-2.5v5M679 1033.5h5m-2.5-2.5v5M679 1030.5h5m-2.5-2.5v5M679 1032.5h5m-2.5-2.5v5M679 1031.5h5m-2.5-2.5v5M679 1000.5h5m-2.5-2.5v5M680 1032.5h5m-2.5-2.5v5M680 1029.5h5m-2.5-2.5v5M680 1030.5h5m-2.5-2.5v5M680 1003.5h5m-2.5-2.5v5M680 1006.5h5m-2.5-2.5v5M680 1013.5h5m-2.5-2.5v5M680 1021.5h5m-2.5-2.5v5M680 991.5h5m-2.5-2.5v5M681 1035.5h5m-2.5-2.5v5M681 1023.5h5m-2.5-2.5v5M681 1037.5h5m-2.5-2.5v5M681 1044.5h5m-2.5-2.5v5M681 1038.5h5m-2.5-2.5v5M681 1029.5h5m-2.5-2.5v5M681 1023.5h5m-2.5-2.5v5M681 1022.5h5m-2.5-2.5v5M681 1051.5h5m-2.5-2.5v5M682 1005.5h5m-2.5-2.5v5M682 1052.5h5m-2.5-2.5v5M682 1015.5h5m-2.5-2.5v5M682 994.5h5m-2.5-2.5v5M683 1008.5h5m-2.5-2.5v5M683 1048.5h5m-2.5-2.5v5M683 1047.5h5m-2.5-2.5v5M683 1000.5h5m-2.5-2.5v5M683 1026.5h5m-2.5-2.5v5M683 1005.5h5m-2.5-2.5v5M683 1005.5h5m-2.5-2.5v5M683 1022.5h5m-2.5-2.5v5M683 996.5h5m-2.5-2.5v5M683 995.5h5m-2.5-2.5v5M683 996.5h5m-2.5-2.5v5M684 1030.5h5m-2.5-2.5v5M684 1020.5h5m-2.5-2.5v5M684 1035.5h5m-2.5-2.5v5M684 1010.5h5m-2.5-2.5v5M684 1044.5h5m-2.5-2.5v5M684 1029.5h5m-2.5-2.5v5M685 1003.5h5m-2.5-2.5v5M685 1009.5h5m-2.5-2.5v5M685 1006.5h5m-2.5-2.5v5M685 1019.5h5m-2.5-2.5v5M685 1032.5h5m-2.5-2.5v5M685 1009.5h5m-2.5-2.5v5M685 1011.5h5m-2.5-2.5v5M685 1034.5h5m-2.5-2.5v5M685 1022.5h5m-2.5-2.5v5M685 1050.5h5m-2.5-2.5v5M685 1048.5h5m-2.5-2.5v5M686 1054.5h5m-2.5-2.5v5M686 1000.5h5m-2.5-2.5v5M686 1002.5h5m-2.5-2.5v5M686 1054.5h5m-2.5-2.5v5M686 1010.5h5m-2.5-2.5v5M686 1040.5h5m-2.5-2.5v5M686 1038.5h5m-2.5-2.5v5M686 1008.5h5m-2.5-2.5v5M686 1001.5h5m-2.5-2.5v5M686 993.5h5m-2.5-2.5v5M686 1058.5h5m-2.5-2.5v5M687 1005.5h5m-2.5-2.5v5M687 1032.5h5m-2.5-2.5v5M687 1027.5h5m-2.5-2.5v5M687 1016.5h5m-2.5-2.5v5M687 1051.5h5m-2.5-2.5v5M687 1027.5h5m-2.5-2.5v5M687 1013.5h5m-2.5-2.5v5M688 1012.5h5m-2.5-2.5v5M688 1043.5h5m-2.5-2.5v5M688 1047.5h5m-2.5-2.5v5M688 1020.5h5m-2.5-2.5v5M688 1031.5h5m-2.5-2.5v5M688 1035.5h5m-2.5-2.5v5M688 1043.5h5m-2.5-2.5v5M689 1007.5h5m-2.5-2.5v5M689 999.5h5m-2.5-2.5v5M689 1052.5h5m-2.5-2.5v5M689 1040.5h5m-2.5-2.5v5M689 1050.5h5m-2.5-2.5v5M689 1016.5h5m-2.5-2.5v5M689 1022.5h5m-2.5-2.5v5M689 1036.5h5m-2.5-2.5v5M689 999.5h5m-2.5-2.5v5M689 1019.5h5m-2.5-2.5v5M689 994.5h5m-2.5-2.5v5M689 1059.5h5m-2.5-2.5v5M690 1032.5h5m-2.5-2.5v5M690 1029.5h5m-2.5-2.5v5M690 1035.5h5m-2.5-2.5v5M690 1005.5h5m-2.5-2.5v5M690 1005.5h5m-2.5-2.5v5M690 993.5h5m-2.5-2.5v5M690 1060.5h5m-2.5-2.5v5M691 1048.5h5m-2.5-2.5v5M691 1056.5h5m-2.5-2.5v5M691 1052.5h5m-2.5-2.5v5M691 1007.5h5m-2.5-2.5v5M691 1037.5h5m-2.5-2.5v5M691 1053.5h5m-2.5-2.5v5M692 1004.5h5m-2.5-2.5v5M692 1015.5h5m-2.5-2.5v5M692 1054.5h5m-2.5-2.5v5M692 1052.5h5m-2.5-2.5v5M692 1055.5h5m-2.5-2.5v5M692 1001.5h5m-2.5-2.5v5M692 1041.5h5m-2.5-2.5v5M692 1043.5h5m-2.5-2.5v5M692 988.5h5m-2.5-2.5v5M692 992.5h5m-2.5-2.5v5M692 1063.5h5m-2.5-2.5v5M693 1058.5h5m-2.5-2.5v5M693 1025.5h5m-2.5-2.5v5M693 1007.5h5m-2.5-2.5v5M693 1041.5h5m-2.5-2.5v5M693 1048.5h5m-2.5-2.5v5M693 997.5h5m-2.5-2.5v5M694 1004.5h5m-2.5-2.5v5M694 1011.5h5m-2.5-2.5v5M694 999.5h5m-2.5-2.5v5M694 1026.5h5m-2.5-2.5v5M694 1004.5h5m-2.5-2.5v5M694 1056.5h5m-2.5-2.5v5M694 1055.5h5m-2.5-2.5v5M694 1000.5h5m-2.5-2.5v5M694 1048.5h5m-2.5-2.5v5M694 1033.5h5m-2.5-2.5v5M695 994.5h5m-2.5-2.5v5M695 1035.5h5m-2.5-2.5v5M695 1004.5h5m-2.5-2.5v5M695 1005.5h5m-2.5-2.5v5M695 992.5h5m-2.5-2.5v5M695 1059.5h5m-2.5-2.5v5M696 1015.5h5m-2.5-2.5v5M696 1053.5h5m-2.5-2.5v5M696 1003.5h5m-2.5-2.5v5M696 1002.5h5m-2.5-2.5v5M696 999.5h5m-2.5-2.5v5M696 1021.5h5m-2.5-2.5v5M696 1013.5h5m-2.5-2.5v5M696 1003.5h5m-2.5-2.5v5M696 1014.5h5m-2.5-2.5v5M696 989.5h5m-2.5-2.5v5M697 996.5h5m-2.5-2.5v5M697 1046.5h5m-2.5-2.5v5M697 1034.5h5m-2.5-2.5v5M697 1027.5h5m-2.5-2.5v5M697 996.5h5m-2.5-2.5v5M697 1043.5h5m-2.5-2.5v5M697 1016.5h5m-2.5-2.5v5M697 1007.5h5m-2.5-2.5v5M697 990.5h5m-2.5-2.5v5M698 1020.5h5m-2.5-2.5v5M698 995.5h5m-2.5-2.5v5M698 1023.5h5m-2.5-2.5v5M698 1004.5h5m-2.5-2.5v5M698 1003.5h5m-2.5-2.5v5M698 1013.5h5m-2.5-2.5v5M698 1002.5h5m-2.5-2.5v5M698 1030.5h5m-2.5-2.5v5M698 1021.5h5m-2.5-2.5v5M698 996.5h5m-2.5-2.5v5M698 1053.5h5m-2.5-2.5v5M698 1009.5h5m-2.5-2.5v5M699 1010.5h5m-2.5-2.5v5M699 1002.5h5m-2.5-2.5v5M699 1043.5h5m-2.5-2.5v5M699 1020.5h5m-2.5-2.5v5M699 1000.5h5m-2.5-2.5v5M699 996.5h5m-2.5-2.5v5M700 1043.5h5m-2.5-2.5v5M700 1000.5h5m-2.5-2.5v5M700 1037.5h5m-2.5-2.5v5M700 1051.5h5m-2.5-2.5v5M700 1042.5h5m-2.5-2.5v5M700 1016.5h5m-2.5-2.5v5M700 1056.5h5m-2.5-2.5v5M700 1048.5h5m-2.5-2.5v5M700 1022.5h5m-2.5-2.5v5M700 986.5h5m-2.5-2.5v5M701 1009.5h5m-2.5-2.5v5M701 1020.5h5m-2.5-2.5v5M701 1057.5h5m-2.5-2.5v5M701 1004.5h5m-2.5-2.5v5M701 1030.5h5m-2.5-2.5v5M701 1021.5h5m-2.5-2.5v5M701 1018.5h5m-2.5-2.5v5M701 1012.5h5m-2.5-2.5v5M701 1037.5h5m-2.5-2.5v5M701 1013.5h5m-2.5-2.5v5M701 1006.5h5m-2.5-2.5v5M701 1050.5h5m-2.5-2.5v5M702 1042.5h5m-2.5-2.5v5M702 1016.5h5m-2.5-2.5v5M702 1031.5h5m-2.5-2.5v5M702 1049.5h5m-2.5-2.5v5M702 1044.5h5m-2.5-2.5v5M702 993.5h5m-2.5-2.5v5M702 1045.5h5m-2.5-2.5v5M702 1013.5h5m-2.5-2.5v5M703 1040.5h5m-2.5-2.5v5M703 1003.5h5m-2.5-2.5v5M703 1045.5h5m-2.5-2.5v5M703 1002.5h5m-2.5-2.5v5M703 1053.5h5m-2.5-2.5v5M704 1011.5h5m-2.5-2.5v5M704 994.5h5m-2.5-2.5v5M704 1006.5h5m-2.5-2.5v5M704 1045.5h5m-2.5-2.5v5M704 1023.5h5m-2.5-2.5v5M704 1051.5h5m-2.5-2.5v5M704 1019.5h5m-2.5-2.5v5M705 993.5h5m-2.5-2.5v5M705 1047.5h5m-2.5-2.5v5M705 1024.5h5m-2.5-2.5v5M705 991.5h5m-2.5-2.5v5M705 1042.5h5m-2.5-2.5v5M705 1050.5h5m-2.5-2.5v5M705 1036.5h5m-2.5-2.5v5M705 1048.5h5m-2.5-2.5v5M705 1010.5h5m-2.5-2.5v5M705 1045.5h5m-2.5-2.5v5M706 993.5h5m-2.5-2.5v5M706 1021.5h5m-2.5-2.5v5M706 1042.5h5m-2.5-2.5v5M706 1001.5h5m-2.5-2.5v5M706 1056.5h5m-2.5-2.5v5M706 999.5h5m-2.5-2.5v5M706 1049.5h5m-2.5-2.5v5M706 1054.5h5m-2.5-2.5v5M706 1040.5h5m-2.5-2.5v5M706 1019.5h5m-2.5-2.5v5M706 1040.5h5m-2.5-2.5v5M706 1009.5h5m-2.5-2.5v5M706 989.5h5m-2.5-2.5v5M707 1036.5h5m-2.5-2.5v5M707 994.5h5m-2.5-2.5v5M707 1050.5h5m-2.5-2.5v5M707 1015.5h5m-2.5-2.5v5M707 993.5h5m-2.5-2.5v5M708 1051.5h5m-2.5-2.5v5M708 1012.5h5m-2.5-2.5v5M708 992.5h5m-2.5-2.5v5M708 1045.5h5m-2.5-2.5v5M708 1054.5h5m-2.5-2.5v5M708 1028.5h5m-2.5-2.5v5M708 998.5h5m-2.5-2.5v5M708 1038.5h5m-2.5-2.5v5M708 986.5h5m-2.5-2.5v5M709 1022.5h5m-2.5-2.5v5M709 995.5h5m-2.5-2.5v5M709 1018.5h5m-2.5-2.5v5M709 1039.5h5m-2.5-2.5v5M709 1020.5h5m-2.5-2.5v5M709 1007.5h5m-2.5-2.5v5M709 1028.5h5m-2.5-2.5v5M709 1036.5h5m-2.5-2.5v5M709 989.5h5m-2.5-2.5v5M710 1038.5h5m-2.5-2.5v5M710 1037.5h5m-2.5-2.5v5M710 1026.5h5m-2.5-2.5v5M711 1005.5h5m-2.5-2.5v5M711 1049.5h5m-2.5-2.5v5M711 1017.5h5m-2.5-2.5v5M711 1024.5h5m-2.5-2.5v5M711 1026.5h5m-2.5-2.5v5M712 1053.5h5m-2.5-2.5v5M712 995.5h5m-2.5-2.5v5M712 1005.5h5m-2.5-2.5v5M712 1003.5h5m-2.5-2.5v5M712 1041.5h5m-2.5-2.5v5M712 1017.5h5m-2.5-2.5v5M712 1047.5h5m-2.5-2.5v5M712 1049.5h5m-2.5-2.5v5M712 983.5h5m-2.5-2.5v5M713 1019.5h5m-2.5-2.5v5M713 1052.5h5m-2.5-2.5v5M713 1009.5h5m-2.5-2.5v5M713 1025.5h5m-2.5-2.5v5M713 999.5h5m-2.5-2.5v5M713 1031.5h5m-2.5-2.5v5M713 993.5h5m-2.5-2.5v5M713 994.5h5m-2.5-2.5v5M713 1025.5h5m-2.5-2.5v5M713 991.5h5m-2.5-2.5v5M713 1054.5h5m-2.5-2.5v5M714 1031.5h5m-2.5-2.5v5M714 1028.5h5m-2.5-2.5v5M714 1029.5h5m-2.5-2.5v5M714 1046.5h5m-2.5-2.5v5M714 1016.5h5m-2.5-2.5v5M715 1007.5h5m-2.5-2.5v5M715 1019.5h5m-2.5-2.5v5M715 1009.5h5m-2.5-2.5v5M715 1028.5h5m-2.5-2.5v5M715 1034.5h5m-2.5-2.5v5M715 1033.5h5m-2.5-2.5v5M715 999.5h5m-2.5-2.5v5M715 1039.5h5m-2.5-2.5v5M715 1044.5h5m-2.5-2.5v5M716 1013.5h5m-2.5-2.5v5M716 1006.5h5m-2.5-2.5v5M716 1003.5h5m-2.5-2.5v5M716 1037.5h5m-2.5-2.5v5M716 990.5h5m-2.5-2.5v5M716 987.5h5m-2.5-2.5v5M717 1017.5h5m-2.5-2.5v5M717 997.5h5m-2.5-2.5v5M717 994.5h5m-2.5-2.5v5M717 1010.5h5m-2.5-2.5v5M717 1038.5h5m-2.5-2.5v5M717 1022.5h5m-2.5-2.5v5M718 997.5h5m-2.5-2.5v5M718 1048.5h5m-2.5-2.5v5M719 999.5h5m-2.5-2.5v5M719 1005.5h5m-2.5-2.5v5M719 995.5h5m-2.5-2.5v5M719 1012.5h5m-2.5-2.5v5M719 1033.5h5m-2.5-2.5v5M719 1036.5h5m-2.5-2.5v5M719 1022.5h5m-2.5-2.5v5M720 1033.5h5m-2.5-2.5v5M720 1029.5h5m-2.5-2.5v5M720 1037.5h5m-2.5-2.5v5M720 998.5h5m-2.5-2.5v5M720 1027.5h5m-2.5-2.5v5M720 1006.5h5m-2.5-2.5v5M720 1023.5h5m-2.5-2.5v5M720 1043.5h5m-2.5-2.5v5M720 1015.5h5m-2.5-2.5v5M720 1008.5h5m-2.5-2.5v5M721 1033.5h5m-2.5-2.5v5M721 1016.5h5m-2.5-2.5v5M722 1032.5h5m-2.5-2.5v5M722 1030.5h5m-2.5-2.5v5M722 1035.5h5m-2.5-2.5v5M722 1020.5h5m-2.5-2.5v5M723 1021.5h5m-2.5-2.5v5M723 995.5h5m-2.5-2.5v5M724 1038.5h5m-2.5-2.5v5M724 1015.5h5m-2.5-2.5v5M725 1039.5h5m-2.5-2.5v5M725 1016.5h5m-2.5-2.5v5M725 1040.5h5m-2.5-2.5v5M725 1003.5h5m-2.5-2.5v5M725 1000.5h5m-2.5-2.5v5M725 1039.5h5m-2.5-2.5v5M725 1020.5h5m-2.5-2.5v5M726 1014.5h5m-2.5-2.5v5M726 1009.5h5m-2.5-2.5v5M726 1015.5h5m-2.5-2.5v5M726 1001.5h5m-2.5-2.5v5M726 1009.5h5m-2.5-2.5v5M726 1010.5h5m-2.5-2.5v5M726 1045.5h5m-2.5-2.5v5M727 1039.5h5m-2.5-2.5v5M727 1018.5h5m-2.5-2.5v5M727 1027.5h5m-2.5-2.5v5M727 1044.5h5m-2.5-2.5v5M727 1021.5h5m-2.5-2.5v5M727 1016.5h5m-2.5-2.5v5M727 1007.5h5m-2.5-2.5v5M727 1019.5h5m-2.5-2.5v5M727 996.5h5m-2.5-2.5v5M728 1003.5h5m-2.5-2.5v5M728 1010.5h5m-2.5-2.5v5M729 1029.5h5m-2.5-2.5v5M729 992.5h5m-2.5-2.5v5M730 1027.5h5m-2.5-2.5v5M730 1047.5h5m-2.5-2.5v5M730 1030.5h5m-2.5-2.5v5M730 1009.5h5m-2.5-2.5v5M730 1048.5h5m-2.5-2.5v5M731 1040.5h5m-2.5-2.5v5M731 1030.5h5m-2.5-2.5v5M731 1039.5h5m-2.5-2.5v5M731 1043.5h5m-2.5-2.5v5M731 1052.5h5m-2.5-2.5v5M732 1022.5h5m-2.5-2.5v5M732 1005.5h5m-2.5-2.5v5M732 1028.5h5m-2.5-2.5v5M732 1048.5h5m-2.5-2.5v5M732 1051.5h5m-2.5-2.5v5M733 1010.5h5m-2.5-2.5v5M733 1039.5h5m-2.5-2.5v5M734 1031.5h5m-2.5-2.5v5M734 1016.5h5m-2.5-2.5v5M734 997.5h5m-2.5-2.5v5M734 1039.5h5m-2.5-2.5v5M734 1006.5h5m-2.5-2.5v5M735 1041.5h5m-2.5-2.5v5M735 1019.5h5m-2.5-2.5v5M735 1034.5h5m-2.5-2.5v5M736 1001.5h5m-2.5-2.5v5M736 1012.5h5m-2.5-2.5v5M737 1000.5h5m-2.5-2.5v5M737 996.5h5m-2.5-2.5v5M738 1047.5h5m-2.5-2.5v5M738 1034.5h5m-2.5-2.5v5M739 1052.5h5m-2.5-2.5v5M740 1015.5h5m-2.5-2.5v5M740 1020.5h5m-2.5-2.5v5M740 1008.5h5m-2.5-2.5v5M740 1012.5h5m-2.5-2.5v5M740 1011.5h5m-2.5-2.5v5M741 1025.5h5m-2.5-2.5v5M741 1056.5h5m-2.5-2.5v5M742 1036.5h5m-2.5-2.5v5M742 1009.5h5m-2.5-2.5v5M742 1027.5h5m-2.5-2.5v5M743 1039.5h5m-2.5-2.5v5M743 1054.5h5m-2.5-2.5v5M743 1056.5h5m-2.5-2.5v5M744 1010.5h5m-2.5-2.5v5M744 1041.5h5m-2.5-2.5v5M744 1016.5h5m-2.5-2.5v5M744 1055.5h5m-2.5-2.5v5M746 1057.5h5m-2.5-2.5v5M746 1027.5h5m-2.5-2.5v5M747 1023.5h5m-2.5-2.5v5M747 1057.5h5m-2.5-2.5v5M748 1032.5h5m-2.5-2.5v5M748 1058.5h5m-2.5-2.5v5M748 1042.5h5m-2.5-2.5v5M749 1041.5h5m-2.5-2.5v5M750 1039.5h5m-2.5-2.5v5M750 1051.5h5m-2.5-2.5v5M751 1045.5h5m-2.5-2.5v5M751 1058.5h5m-2.5-2.5v5M751 1028.5h5m-2.5-2.5v5M751 1018.5h5m-2.5-2.5v5M752 1024.5h5m-2.5-2.5v5M753 1010.5h5m-2.5-2.5v5M754 1032.5h5m-2.5-2.5v5M754 1045.5h5m-2.5-2.5v5M755 1008.5h5m-2.5-2.5v5M756 1059.5h5m-2.5-2.5v5M756 1046.5h5m-2.5-2.5v5M757 1013.5h5m-2.5-2.5v5M759 1055.5h5m-2.5-2.5v5M759 1047.5h5m-2.5-2.5v5M759 1012.5h5m-2.5-2.5v5M759 1037.5h5m-2.5-2.5v5M761 1057.5h5m-2.5-2.5v5M762 1015.5h5m-2.5-2.5v5M762 1040.5h5m-2.5-2.5v5M774 1046.5h5m-2.5-2.5v5M694 1062.5h5m-2.5-2.5v5M681 1068.5h5m-2.5-2.5v5M697 1066.5h5m-2.5-2.5v5M733 954.5h5m-2.5-2.5v5M720 972.5h5m-2.5-2.5v5M753 956.5h5m-2.5-2.5v5M761 963.5h5m-2.5-2.5v5M727 985.5h5m-2.5-2.5v5M738 985.5h5m-2.5-2.5v5M731 960.5h5m-2.5-2.5v5M732 970.5h5m-2.5-2.5v5M765 1046.5h5m-2.5-2.5v5M748 994.5h5m-2.5-2.5v5M736 1058.5h5m-2.5-2.5v5M724 1069.5h5m-2.5-2.5v5M767 1029.5h5m-2.5-2.5v5M763 1039.5h5m-2.5-2.5v5M724 981.5h5m-2.5-2.5v5M787 1054.5h5m-2.5-2.5v5M765 1050.5h5m-2.5-2.5v5M745 969.5h5m-2.5-2.5v5M755 978.5h5m-2.5-2.5v5M742 1059.5h5m-2.5-2.5v5" stroke="#363636" stroke-opacity="0.58" stroke-width="1.2" fill="none"/>
<path d="M663 1013.5h5m-2.5-2.5v5M664 1023.5h5m-2.5-2.5v5M664 1031.5h5m-2.5-2.5v5M665 1021.5h5m-2.5-2.5v5M665 1024.5h5m-2.5-2.5v5M665 1022.5h5m-2.5-2.5v5M665 1016.5h5m-2.5-2.5v5M666 1027.5h5m-2.5-2.5v5M666 1024.5h5m-2.5-2.5v5M666 1027.5h5m-2.5-2.5v5M667 1024.5h5m-2.5-2.5v5M667 1033.5h5m-2.5-2.5v5M667 1011.5h5m-2.5-2.5v5M667 1005.5h5m-2.5-2.5v5M668 1028.5h5m-2.5-2.5v5M668 1020.5h5m-2.5-2.5v5M668 1042.5h5m-2.5-2.5v5M668 1033.5h5m-2.5-2.5v5M668 1005.5h5m-2.5-2.5v5M669 1010.5h5m-2.5-2.5v5M669 1035.5h5m-2.5-2.5v5M669 1024.5h5m-2.5-2.5v5M669 1007.5h5m-2.5-2.5v5M669 1023.5h5m-2.5-2.5v5M669 1005.5h5m-2.5-2.5v5M670 1028.5h5m-2.5-2.5v5M670 1024.5h5m-2.5-2.5v5M671 1026.5h5m-2.5-2.5v5M671 1045.5h5m-2.5-2.5v5M671 1005.5h5m-2.5-2.5v5M671 1025.5h5m-2.5-2.5v5M672 1037.5h5m-2.5-2.5v5M672 1042.5h5m-2.5-2.5v5M672 1047.5h5m-2.5-2.5v5M672 1039.5h5m-2.5-2.5v5M672 1005.5h5m-2.5-2.5v5M673 1003.5h5m-2.5-2.5v5M673 1040.5h5m-2.5-2.5v5M673 1013.5h5m-2.5-2.5v5M673 1037.5h5m-2.5-2.5v5M673 1021.5h5m-2.5-2.5v5M673 1003.5h5m-2.5-2.5v5M674 1017.5h5m-2.5-2.5v5M674 1017.5h5m-2.5-2.5v5M674 1042.5h5m-2.5-2.5v5M674 1001.5h5m-2.5-2.5v5M674 994.5h5m-2.5-2.5v5M675 1045.5h5m-2.5-2.5v5M675 1001.5h5m-2.5-2.5v5M675 1010.5h5m-2.5-2.5v5M675 1013.5h5m-2.5-2.5v5M675 1046.5h5m-2.5-2.5v5M676 1003.5h5m-2.5-2.5v5M676 1037.5h5m-2.5-2.5v5M676 1019.5h5m-2.5-2.5v5M676 1004.5h5m-2.5-2.5v5M676 1013.5h5m-2.5-2.5v5M676 1046.5h5m-2.5-2.5v5M676 1045.5h5m-2.5-2.5v5M676 1035.5h5m-2.5-2.5v5M676 1038.5h5m-2.5-2.5v5M676 991.5h5m-2.5-2.5v5M677 1027.5h5m-2.5-2.5v5M677 1023.5h5m-2.5-2.5v5M677 1025.5h5m-2.5-2.5v5M677 1013.5h5m-2.5-2.5v5M677 1043.5h5m-2.5-2.5v5M677 1019.5h5m-2.5-2.5v5M677 1003.5h5m-2.5-2.5v5M677 1025.5h5m-2.5-2.5v5M677 1008.5h5m-2.5-2.5v5M677 1046.5h5m-2.5-2.5v5M677 1007.5h5m-2.5-2.5v5M678 1043.5h5m-2.5-2.5v5M678 1024.5h5m-2.5-2.5v5M678 1026.5h5m-2.5-2.5v5M678 1021.5h5m-2.5-2.5v5M678 1030.5h5m-2.5-2.5v5M678 1000.5h5m-2.5-2.5v5M678 1008.5h5m-2.5-2.5v5M678 995.5h5m-2.5-2.5v5M679 1002.5h5m-2.5-2.5v5M679 1055.5h5m-2.5-2.5v5M679 1034.5h5m-2.5-2.5v5M679 1029.5h5m-2.5-2.5v5M679 1043.5h5m-2.5-2.5v5M679 1055.5h5m-2.5-2.5v5M679 1059.5h5m-2.5-2.5v5M680 1030.5h5m-2.5-2.5v5M680 1060.5h5m-2.5-2.5v5M680 1034.5h5m-2.5-2.5v5M680 1023.5h5m-2.5-2.5v5M680 1052.5h5m-2.5-2.5v5M680 1039.5h5m-2.5-2.5v5M680 1034.5h5m-2.5-2.5v5M680 1032.5h5m-2.5-2.5v5M680 1005.5h5m-2.5-2.5v5M681 1025.5h5m-2.5-2.5v5M681 1038.5h5m-2.5-2.5v5M681 1055.5h5m-2.5-2.5v5M681 1008.5h5m-2.5-2.5v5M681 1035.5h5m-2.5-2.5v5M682 1043.5h5m-2.5-2.5v5M682 1012.5h5m-2.5-2.5v5M682 1022.5h5m-2.5-2.5v5M682 1021.5h5m-2.5-2.5v5M682 1041.5h5m-2.5-2.5v5M682 1045.5h5m-2.5-2.5v5M682 1025.5h5m-2.5-2.5v5M682 1051.5h5m-2.5-2.5v5M682 1028.5h5m-2.5-2.5v5M683 1008.5h5m-2.5-2.5v5M683 1000.5h5m-2.5-2.5v5M683 999.5h5m-2.5-2.5v5M683 1051.5h5m-2.5-2.5v5M683 1025.5h5m-2.5-2.5v5M683 1049.5h5m-2.5-2.5v5M683 1059.5h5m-2.5-2.5v5M684 1028.5h5m-2.5-2.5v5M684 1056.5h5m-2.5-2.5v5M684 1004.5h5m-2.5-2.5v5M684 998.5h5m-2.5-2.5v5M684 1003.5h5m-2.5-2.5v5M684 1039.5h5m-2.5-2.5v5M684 991.5h5m-2.5-2.5v5M685 1032.5h5m-2.5-2.5v5M685 1004.5h5m-2.5-2.5v5M685 998.5h5m-2.5-2.5v5M685 1001.5h5m-2.5-2.5v5M685 998.5h5m-2.5-2.5v5M685 990.5h5m-2.5-2.5v5M685 992.5h5m-2.5-2.5v5M685 1057.5h5m-2.5-2.5v5M685 1058.5h5m-2.5-2.5v5M686 1033.5h5m-2.5-2.5v5M686 1021.5h5m-2.5-2.5v5M686 1031.5h5m-2.5-2.5v5M686 1019.5h5m-2.5-2.5v5M686 1005.5h5m-2.5-2.5v5M686 1018.5h5m-2.5-2.5v5M686 1017.5h5m-2.5-2.5v5M686 1053.5h5m-2.5-2.5v5M686 1003.5h5m-2.5-2.5v5M686 1005.5h5m-2.5-2.5v5M687 1045.5h5m-2.5-2.5v5M687 1004.5h5m-2.5-2.5v5M687 1042.5h5m-2.5-2.5v5M687 997.5h5m-2.5-2.5v5M687 1060.5h5m-2.5-2.5v5M688 1056.5h5m-2.5-2.5v5M688 997.5h5m-2.5-2.5v5M688 997.5h5m-2.5-2.5v5M688 1008.5h5m-2.5-2.5v5M688 1032.5h5m-2.5-2.5v5M688 1043.5h5m-2.5-2.5v5M688 1045.5h5m-2.5-2.5v5M688 1007.5h5m-2.5-2.5v5M689 1034.5h5m-2.5-2.5v5M689 1004.5h5m-2.5-2.5v5M689 1053.5h5m-2.5-2.5v5M689 1039.5h5m-2.5-2.5v5M689 1005.5h5m-2.5-2.5v5M690 1030.5h5m-2.5-2.5v5M690 1045.5h5m-2.5-2.5v5M690 1037.5h5m-2.5-2.5v5M690 1042.5h5m-2.5-2.5v5M690 1044.5h5m-2.5-2.5v5M690 1017.5h5m-2.5-2.5v5M690 1001.5h5m-2.5-2.5v5M690 1045.5h5m-2.5-2.5v5M690 1039.5h5m-2.5-2.5v5M690 1056.5h5m-2.5-2.5v5M691 1043.5h5m-2.5-2.5v5M691 1014.5h5m-2.5-2.5v5M691 1044.5h5m-2.5-2.5v5M691 1013.5h5m-2.5-2.5v5M691 1005.5h5m-2.5-2.5v5M691 1048.5h5m-2.5-2.5v5M691 1036.5h5m-2.5-2.5v5M691 989.5h5m-2.5-2.5v5M692 1040.5h5m-2.5-2.5v5M692 1028.5h5m-2.5-2.5v5M692 1020.5h5m-2.5-2.5v5M692 1039.5h5m-2.5-2.5v5M692 1013.5h5m-2.5-2.5v5M692 1053.5h5m-2.5-2.5v5M692 1025.5h5m-2.5-2.5v5M692 1013.5h5m-2.5-2.5v5M692 1061.5h5m-2.5-2.5v5M693 1042.5h5m-2.5-2.5v5M693 1040.5h5m-2.5-2.5v5M693 1050.5h5m-2.5-2.5v5M693 1055.5h5m-2.5-2.5v5M693 1047.5h5m-2.5-2.5v5M693 1042.5h5m-2.5-2.5v5M693 1030.5h5m-2.5-2.5v5M693 999.5h5m-2.5-2.5v5M693 1024.5h5m-2.5-2.5v5M693 1012.5h5m-2.5-2.5v5M693 1050.5h5m-2.5-2.5v5M693 1048.5h5m-2.5-2.5v5M693 1030.5h5m-2.5-2.5v5M693 995.5h5m-2.5-2.5v5M693 997.5h5m-2.5-2.5v5M693 983.5h5m-2.5-2.5v5M694 1004.5h5m-2.5-2.5v5M694 1016.5h5m-2.5-2.5v5M694 1044.5h5m-2.5-2.5v5M694 1011.5h5m-2.5-2.5v5M694 1055.5h5m-2.5-2.5v5M694 1049.5h5m-2.5-2.5v5M694 1019.5h5m-2.5-2.5v5M694 1037.5h5m-2.5-2.5v5M694 1012.5h5m-2.5-2.5v5M694 1024.5h5m-2.5-2.5v5M694 1018.5h5m-2.5-2.5v5M695 1045.5h5m-2.5-2.5v5M695 1043.5h5m-2.5-2.5v5M695 996.5h5m-2.5-2.5v5M695 1019.5h5m-2.5-2.5v5M695 1027.5h5m-2.5-2.5v5M695 1027.5h5m-2.5-2.5v5M695 1044.5h5m-2.5-2.5v5M695 996.5h5m-2.5-2.5v5M695 981.5h5m-2.5-2.5v5M696 1008.5h5m-2.5-2.5v5M696 1039.5h5m-2.5-2.5v5M696 1058.5h5m-2.5-2.5v5M696 1023.5h5m-2.5-2.5v5M696 1007.5h5m-2.5-2.5v5M696 1031.5h5m-2.5-2.5v5M696 1028.5h5m-2.5-2.5v5M696 1013.5h5m-2.5-2.5v5M696 998.5h5m-2.5-2.5v5M696 1011.5h5m-2.5-2.5v5M696 1046.5h5m-2.5-2.5v5M696 1005.5h5m-2.5-2.5v5M696 1029.5h5m-2.5-2.5v5M696 1046.5h5m-2.5-2.5v5M696 1057.5h5m-2.5-2.5v5M696 1034.5h5m-2.5-2.5v5M697 1056.5h5m-2.5-2.5v5M697 1022.5h5m-2.5-2.5v5M697 1055.5h5m-2.5-2.5v5M697 1013.5h5m-2.5-2.5v5M697 1056.5h5m-2.5-2.5v5M697 1026.5h5m-2.5-2.5v5M697 1022.5h5m-2.5-2.5v5M697 1044.5h5m-2.5-2.5v5M697 1053.5h5m-2.5-2.5v5M697 1047.5h5m-2.5-2.5v5M697 999.5h5m-2.5-2.5v5M697 1026.5h5m-2.5-2.5v5M697 988.5h5m-2.5-2.5v5M697 988.5h5m-2.5-2.5v5M698 1003.5h5m-2.5-2.5v5M698 1031.5h5m-2.5-2.5v5M698 1030.5h5m-2.5-2.5v5M698 993.5h5m-2.5-2.5v5M698 1050.5h5m-2.5-2.5v5M698 1010.5h5m-2.5-2.5v5M698 1024.5h5m-2.5-2.5v5M698 994.5h5m-2.5-2.5v5M699 1042.5h5m-2.5-2.5v5M699 1055.5h5m-2.5-2.5v5M699 1036.5h5m-2.5-2.5v5M699 1038.5h5m-2.5-2.5v5M699 1026.5h5m-2.5-2.5v5M699 1001.5h5m-2.5-2.5v5M699 1022.5h5m-2.5-2.5v5M699 993.5h5m-2.5-2.5v5M699 988.5h5m-2.5-2.5v5M700 1001.5h5m-2.5-2.5v5M700 1056.5h5m-2.5-2.5v5M700 1041.5h5m-2.5-2.5v5M700 1011.5h5m-2.5-2.5v5M700 1043.5h5m-2.5-2.5v5M700 1050.5h5m-2.5-2.5v5M700 1033.5h5m-2.5-2.5v5M700 1051.5h5m-2.5-2.5v5M701 1033.5h5m-2.5-2.5v5M701 1028.5h5m-2.5-2.5v5M701 1032.5h5m-2.5-2.5v5M701 1000.5h5m-2.5-2.5v5M701 1043.5h5m-2.5-2.5v5M701 1028.5h5m-2.5-2.5v5M701 999.5h5m-2.5-2.5v5M701 1046.5h5m-2.5-2.5v5M701 1003.5h5m-2.5-2.5v5M701 1043.5h5m-2.5-2.5v5M701 1050.5h5m-2.5-2.5v5M701 1055.5h5m-2.5-2.5v5M701 1018.5h5m-2.5-2.5v5M702 1016.5h5m-2.5-2.5v5M702 992.5h5m-2.5-2.5v5M702 1051.5h5m-2.5-2.5v5M702 1008.5h5m-2.5-2.5v5M702 1046.5h5m-2.5-2.5v5M702 1023.5h5m-2.5-2.5v5M702 1047.5h5m-2.5-2.5v5M702 1032.5h5m-2.5-2.5v5M702 1040.5h5m-2.5-2.5v5M702 1053.5h5m-2.5-2.5v5M702 1028.5h5m-2.5-2.5v5M703 1002.5h5m-2.5-2.5v5M703 1024.5h5m-2.5-2.5v5M703 999.5h5m-2.5-2.5v5M703 1015.5h5m-2.5-2.5v5M703 1019.5h5m-2.5-2.5v5M703 1036.5h5m-2.5-2.5v5M703 1027.5h5m-2.5-2.5v5M703 985.5h5m-2.5-2.5v5M703 990.5h5m-2.5-2.5v5M704 1038.5h5m-2.5-2.5v5M704 996.5h5m-2.5-2.5v5M704 1021.5h5m-2.5-2.5v5M704 1022.5h5m-2.5-2.5v5M704 1052.5h5m-2.5-2.5v5M704 1033.5h5m-2.5-2.5v5M704 994.5h5m-2.5-2.5v5M704 991.5h5m-2.5-2.5v5M704 1055.5h5m-2.5-2.5v5M704 1026.5h5m-2.5-2.5v5M704 1021.5h5m-2.5-2.5v5M704 1053.5h5m-2.5-2.5v5M704 1029.5h5m-2.5-2.5v5M705 997.5h5m-2.5-2.5v5M705 1004.5h5m-2.5-2.5v5M705 1024.5h5m-2.5-2.5v5M705 1044.5h5m-2.5-2.5v5M705 1010.5h5m-2.5-2.5v5M705 1038.5h5m-2.5-2.5v5M706 1013.5h5m-2.5-2.5v5M706 1056.5h5m-2.5-2.5v5M706 1045.5h5m-2.5-2.5v5M706 1055.5h5m-2.5-2.5v5M706 1042.5h5m-2.5-2.5v5M706 1026.5h5m-2.5-2.5v5M706 1055.5h5m-2.5-2.5v5M706 1047.5h5m-2.5-2.5v5M706 1034.5h5m-2.5-2.5v5M707 1044.5h5m-2.5-2.5v5M707 1003.5h5m-2.5-2.5v5M707 1051.5h5m-2.5-2.5v5M707 1031.5h5m-2.5-2.5v5M707 1035.5h5m-2.5-2.5v5M707 1049.5h5m-2.5-2.5v5M707 1043.5h5m-2.5-2.5v5M707 992.5h5m-2.5-2.5v5M707 1018.5h5m-2.5-2.5v5M707 997.5h5m-2.5-2.5v5M707 1051.5h5m-2.5-2.5v5M708 1039.5h5m-2.5-2.5v5M708 991.5h5m-2.5-2.5v5M708 989.5h5m-2.5-2.5v5M709 1004.5h5m-2.5-2.5v5M709 1042.5h5m-2.5-2.5v5M709 1015.5h5m-2.5-2.5v5M709 1040.5h5m-2.5-2.5v5M709 1053.5h5m-2.5-2.5v5M709 1043.5h5m-2.5-2.5v5M709 989.5h5m-2.5-2.5v5M709 1056.5h5m-2.5-2.5v5M710 1053.5h5m-2.5-2.5v5M710 1022.5h5m-2.5-2.5v5M710 995.5h5m-2.5-2.5v5M710 1003.5h5m-2.5-2.5v5M710 1011.5h5m-2.5-2.5v5M710 1001.5h5m-2.5-2.5v5M710 1041.5h5m-2.5-2.5v5M710 992.5h5m-2.5-2.5v5M710 1002.5h5m-2.5-2.5v5M710 1021.5h5m-2.5-2.5v5M710 1027.5h5m-2.5-2.5v5M710 1021.5h5m-2.5-2.5v5M710 1056.5h5m-2.5-2.5v5M711 1004.5h5m-2.5-2.5v5M711 1028.5h5m-2.5-2.5v5M711 1024.5h5m-2.5-2.5v5M711 1043.5h5m-2.5-2.5v5M711 1049.5h5m-2.5-2.5v5M711 1041.5h5m-2.5-2.5v5M712 1035.5h5m-2.5-2.5v5M712 1046.5h5m-2.5-2.5v5M712 1019.5h5m-2.5-2.5v5M712 1018.5h5m-2.5-2.5v5M712 1025.5h5m-2.5-2.5v5M712 1046.5h5m-2.5-2.5v5M712 1036.5h5m-2.5-2.5v5M712 1018.5h5m-2.5-2.5v5M712 1053.5h5m-2.5-2.5v5M712 1047.5h5m-2.5-2.5v5M712 1000.5h5m-2.5-2.5v5M712 1013.5h5m-2.5-2.5v5M712 1047.5h5m-2.5-2.5v5M712 1029.5h5m-2.5-2.5v5M713 1013.5h5m-2.5-2.5v5M713 1008.5h5m-2.5-2.5v5M713 1035.5h5m-2.5-2.5v5M713 997.5h5m-2.5-2.5v5M714 1033.5h5m-2.5-2.5v5M714 1052.5h5m-2.5-2.5v5M714 1042.5h5m-2.5-2.5v5M714 1046.5h5m-2.5-2.5v5M714 1007.5h5m-2.5-2.5v5M714 1044.5h5m-2.5-2.5v5M714 1007.5h5m-2.5-2.5v5M714 1038.5h5m-2.5-2.5v5M714 997.5h5m-2.5-2.5v5M714 1037.5h5m-2.5-2.5v5M714 1026.5h5m-2.5-2.5v5M715 1043.5h5m-2.5-2.5v5M715 1036.5h5m-2.5-2.5v5M715 1002.5h5m-2.5-2.5v5M715 1020.5h5m-2.5-2.5v5M715 1025.5h5m-2.5-2.5v5M715 999.5h5m-2.5-2.5v5M715 1020.5h5m-2.5-2.5v5M715 1013.5h5m-2.5-2.5v5M715 1035.5h5m-2.5-2.5v5M715 1024.5h5m-2.5-2.5v5M715 1053.5h5m-2.5-2.5v5M716 1003.5h5m-2.5-2.5v5M716 1043.5h5m-2.5-2.5v5M716 997.5h5m-2.5-2.5v5M716 995.5h5m-2.5-2.5v5M716 996.5h5m-2.5-2.5v5M716 1006.5h5m-2.5-2.5v5M716 1002.5h5m-2.5-2.5v5M716 1005.5h5m-2.5-2.5v5M716 995.5h5m-2.5-2.5v5M716 1030.5h5m-2.5-2.5v5M716 992.5h5m-2.5-2.5v5M716 1033.5h5m-2.5-2.5v5M716 1007.5h5m-2.5-2.5v5M717 1029.5h5m-2.5-2.5v5M717 1003.5h5m-2.5-2.5v5M717 1006.5h5m-2.5-2.5v5M717 980.5h5m-2.5-2.5v5M717 990.5h5m-2.5-2.5v5M718 1018.5h5m-2.5-2.5v5M718 1005.5h5m-2.5-2.5v5M718 1015.5h5m-2.5-2.5v5M718 1047.5h5m-2.5-2.5v5M718 1020.5h5m-2.5-2.5v5M718 1013.5h5m-2.5-2.5v5M719 1002.5h5m-2.5-2.5v5M719 1005.5h5m-2.5-2.5v5M719 993.5h5m-2.5-2.5v5M720 1030.5h5m-2.5-2.5v5M720 1047.5h5m-2.5-2.5v5M720 993.5h5m-2.5-2.5v5M720 1015.5h5m-2.5-2.5v5M720 1045.5h5m-2.5-2.5v5M721 1021.5h5m-2.5-2.5v5M721 1046.5h5m-2.5-2.5v5M721 1041.5h5m-2.5-2.5v5M721 1044.5h5m-2.5-2.5v5M721 1038.5h5m-2.5-2.5v5M721 1029.5h5m-2.5-2.5v5M721 1033.5h5m-2.5-2.5v5M722 1043.5h5m-2.5-2.5v5M722 1003.5h5m-2.5-2.5v5M722 1016.5h5m-2.5-2.5v5M722 1023.5h5m-2.5-2.5v5M722 1015.5h5m-2.5-2.5v5M722 996.5h5m-2.5-2.5v5M722 997.5h5m-2.5-2.5v5M723 1023.5h5m-2.5-2.5v5M723 1017.5h5m-2.5-2.5v5M723 1025.5h5m-2.5-2.5v5M724 1034.5h5m-2.5-2.5v5M724 996.5h5m-2.5-2.5v5M724 1015.5h5m-2.5-2.5v5M724 1040.5h5m-2.5-2.5v5M724 1037.5h5m-2.5-2.5v5M725 1013.5h5m-2.5-2.5v5M725 1020.5h5m-2.5-2.5v5M725 1021.5h5m-2.5-2.5v5M725 992.5h5m-2.5-2.5v5M725 989.5h5m-2.5-2.5v5M726 1029.5h5m-2.5-2.5v5M726 1042.5h5m-2.5-2.5v5M726 1030.5h5m-2.5-2.5v5M726 1035.5h5m-2.5-2.5v5M726 997.5h5m-2.5-2.5v5M726 1034.5h5m-2.5-2.5v5M727 1039.5h5m-2.5-2.5v5M727 1023.5h5m-2.5-2.5v5M727 1041.5h5m-2.5-2.5v5M727 1028.5h5m-2.5-2.5v5M728 1019.5h5m-2.5-2.5v5M728 1038.5h5m-2.5-2.5v5M728 1015.5h5m-2.5-2.5v5M728 1027.5h5m-2.5-2.5v5M728 1043.5h5m-2.5-2.5v5M728 1040.5h5m-2.5-2.5v5M728 1017.5h5m-2.5-2.5v5M729 1046.5h5m-2.5-2.5v5M729 1011.5h5m-2.5-2.5v5M729 1000.5h5m-2.5-2.5v5M729 1042.5h5m-2.5-2.5v5M730 1023.5h5m-2.5-2.5v5M730 1043.5h5m-2.5-2.5v5M731 1024.5h5m-2.5-2.5v5M731 1013.5h5m-2.5-2.5v5M731 1025.5h5m-2.5-2.5v5M731 1020.5h5m-2.5-2.5v5M731 1006.5h5m-2.5-2.5v5M731 1018.5h5m-2.5-2.5v5M732 1042.5h5m-2.5-2.5v5M732 1038.5h5m-2.5-2.5v5M732 1009.5h5m-2.5-2.5v5M732 1024.5h5m-2.5-2.5v5M732 1054.5h5m-2.5-2.5v5M733 1041.5h5m-2.5-2.5v5M733 1011.5h5m-2.5-2.5v5M734 1038.5h5m-2.5-2.5v5M734 1020.5h5m-2.5-2.5v5M735 1017.5h5m-2.5-2.5v5M735 1032.5h5m-2.5-2.5v5M735 996.5h5m-2.5-2.5v5M736 1038.5h5m-2.5-2.5v5M736 1043.5h5m-2.5-2.5v5M736 1039.5h5m-2.5-2.5v5M736 1036.5h5m-2.5-2.5v5M738 1050.5h5m-2.5-2.5v5M738 1026.5h5m-2.5-2.5v5M739 1031.5h5m-2.5-2.5v5M739 997.5h5m-2.5-2.5v5M740 1027.5h5m-2.5-2.5v5M740 1028.5h5m-2.5-2.5v5M740 1057.5h5m-2.5-2.5v5M741 1003.5h5m-2.5-2.5v5M742 1003.5h5m-2.5-2.5v5M742 1042.5h5m-2.5-2.5v5M742 1002.5h5m-2.5-2.5v5M743 1048.5h5m-2.5-2.5v5M743 1041.5h5m-2.5-2.5v5M744 1007.5h5m-2.5-2.5v5M744 1056.5h5m-2.5-2.5v5M745 1018.5h5m-2.5-2.5v5M746 1005.5h5m-2.5-2.5v5M746 1055.5h5m-2.5-2.5v5M746 1010.5h5m-2.5-2.5v5M747 1043.5h5m-2.5-2.5v5M749 1057.5h5m-2.5-2.5v5M749 1030.5h5m-2.5-2.5v5M753 1007.5h5m-2.5-2.5v5M753 1042.5h5m-2.5-2.5v5M754 1004.5h5m-2.5-2.5v5M754 1051.5h5m-2.5-2.5v5M754 1048.5h5m-2.5-2.5v5M755 1014.5h5m-2.5-2.5v5M755 1047.5h5m-2.5-2.5v5M757 1052.5h5m-2.5-2.5v5M759 1010.5h5m-2.5-2.5v5M762 1036.5h5m-2.5-2.5v5M763 1001.5h5m-2.5-2.5v5M766 1031.5h5m-2.5-2.5v5M766 1011.5h5m-2.5-2.5v5M773 1036.5h5m-2.5-2.5v5M697 1076.5h5m-2.5-2.5v5M680 1072.5h5m-2.5-2.5v5M679 1067.5h5m-2.5-2.5v5M681 1071.5h5m-2.5-2.5v5M681 1071.5h5m-2.5-2.5v5M694 1069.5h5m-2.5-2.5v5M716 965.5h5m-2.5-2.5v5M695 978.5h5m-2.5-2.5v5M689 986.5h5m-2.5-2.5v5M716 969.5h5m-2.5-2.5v5M728 955.5h5m-2.5-2.5v5M701 978.5h5m-2.5-2.5v5M761 980.5h5m-2.5-2.5v5M750 979.5h5m-2.5-2.5v5M730 984.5h5m-2.5-2.5v5M773 1027.5h5m-2.5-2.5v5M749 987.5h5m-2.5-2.5v5M760 996.5h5m-2.5-2.5v5M775 1026.5h5m-2.5-2.5v5M783 1043.5h5m-2.5-2.5v5M771 1009.5h5m-2.5-2.5v5M716 979.5h5m-2.5-2.5v5M783 1055.5h5m-2.5-2.5v5M756 1072.5h5m-2.5-2.5v5M708 978.5h5m-2.5-2.5v5M701 1064.5h5m-2.5-2.5v5M725 984.5h5m-2.5-2.5v5M749 979.5h5m-2.5-2.5v5M676 955.5h5m-2.5-2.5v5M768 1011.5h5m-2.5-2.5v5M773 1031.5h5m-2.5-2.5v5" stroke="#363636" stroke-opacity="0.58" stroke-width="1.2" fill="none"/>
<path d="M709 779.5h5m-2.5-2.5v5M735 731.5h5m-2.5-2.5v5M764 722.5h5m-2.5-2.5v5M828 751.5h5m-2.5-2.5v5M709 831.5h5m-2.5-2.5v5M719 811.5h5m-2.5-2.5v5M733 804.5h5m-2.5-2.5v5M778 816.5h5m-2.5-2.5v5M903 924.5h5m-2.5-2.5v5M967 997.5h5m-2.5-2.5v5M728 930.5h5m-2.5-2.5v5M770 934.5h5m-2.5-2.5v5M765 957.5h5m-2.5-2.5v5M766 956.5h5m-2.5-2.5v5M753 962.5h5m-2.5-2.5v5M732 965.5h5m-2.5-2.5v5M757 971.5h5m-2.5-2.5v5M780 991.5h5m-2.5-2.5v5M819 992.5h5m-2.5-2.5v5M798 1003.5h5m-2.5-2.5v5M715 956.5h5m-2.5-2.5v5M703 977.5h5m-2.5-2.5v5M690 983.5h5m-2.5-2.5v5M1045 1086.5h5m-2.5-2.5v5M1023 1266.5h5m-2.5-2.5v5M1007 1218.5h5m-2.5-2.5v5M963 1151.5h5m-2.5-2.5v5M937 1178.5h5m-2.5-2.5v5M953 1111.5h5m-2.5-2.5v5M936 1118.5h5m-2.5-2.5v5M936 1121.5h5m-2.5-2.5v5M930 1104.5h5m-2.5-2.5v5M900 1060.5h5m-2.5-2.5v5M882 1093.5h5m-2.5-2.5v5M868 1126.5h5m-2.5-2.5v5M868 1076.5h5m-2.5-2.5v5M855 1068.5h5m-2.5-2.5v5M849 1077.5h5m-2.5-2.5v5M876 1049.5h5m-2.5-2.5v5M876 1043.5h5m-2.5-2.5v5M836 1071.5h5m-2.5-2.5v5M816 1079.5h5m-2.5-2.5v5M796 1064.5h5m-2.5-2.5v5M793 1037.5h5m-2.5-2.5v5M832 1015.5h5m-2.5-2.5v5" stroke="#363636" stroke-opacity="0.62" stroke-width="1.2" fill="none"/>
<path d="M715 760.5h5m-2.5-2.5v5M724 742.5h5m-2.5-2.5v5M748 722.5h5m-2.5-2.5v5M782 721.5h5m-2.5-2.5v5M713 822.5h5m-2.5-2.5v5M725 807.5h5m-2.5-2.5v5M742 803.5h5m-2.5-2.5v5M752 803.5h5m-2.5-2.5v5M810 834.5h5m-2.5-2.5v5M851 872.5h5m-2.5-2.5v5M739 923.5h5m-2.5-2.5v5M719 937.5h5m-2.5-2.5v5M711 943.5h5m-2.5-2.5v5M706 949.5h5m-2.5-2.5v5M810 950.5h5m-2.5-2.5v5M725 950.5h5m-2.5-2.5v5M741 947.5h5m-2.5-2.5v5M744 951.5h5m-2.5-2.5v5M750 951.5h5m-2.5-2.5v5M758 956.5h5m-2.5-2.5v5M743 967.5h5m-2.5-2.5v5M737 969.5h5m-2.5-2.5v5M774 971.5h5m-2.5-2.5v5M761 975.5h5m-2.5-2.5v5M794 974.5h5m-2.5-2.5v5M806 982.5h5m-2.5-2.5v5M798 992.5h5m-2.5-2.5v5M804 996.5h5m-2.5-2.5v5M830 1003.5h5m-2.5-2.5v5M768 989.5h5m-2.5-2.5v5M708 966.5h5m-2.5-2.5v5M1080 1288.5h5m-2.5-2.5v5M998 1185.5h5m-2.5-2.5v5M900 1148.5h5m-2.5-2.5v5M909 1089.5h5m-2.5-2.5v5M900 1078.5h5m-2.5-2.5v5M872 1090.5h5m-2.5-2.5v5M872 1116.5h5m-2.5-2.5v5M865 1092.5h5m-2.5-2.5v5M865 1116.5h5m-2.5-2.5v5M871 1074.5h5m-2.5-2.5v5M865 1069.5h5m-2.5-2.5v5M859 1042.5h5m-2.5-2.5v5M833 1089.5h5m-2.5-2.5v5M816 1085.5h5m-2.5-2.5v5M820 1056.5h5m-2.5-2.5v5M821 1044.5h5m-2.5-2.5v5M814 1064.5h5m-2.5-2.5v5M807 1039.5h5m-2.5-2.5v5M802 1070.5h5m-2.5-2.5v5M824 1015.5h5m-2.5-2.5v5M798 1026.5h5m-2.5-2.5v5" stroke="#363636" stroke-opacity="0.62" stroke-width="1.2" fill="none"/>
</svg>
<div class="t" style="left:16.46px;top:4px;transform:scaleX(0.8435)">BTC</div>
<div class="t" style="left:79.10px;top:4px;transform:scaleX(0.8962)">Call</div>
<div class="t" style="left:136.01px;top:4px;transform:scaleX(0.8895)">Q-Q</div>
<div class="t" style="left:195.59px;top:4px;transform:scaleX(1.0096)">Plot</div>
<div class="t" style="left:614.74px;top:4px;transform:scaleX(0.8573)">BTC</div>
<div class="t" style="left:677.67px;top:4px;transform:scaleX(1.0302)">Put</div>
<div class="t" style="left:730.92px;top:4px;transform:scaleX(0.8807)">Q-Q</div>
<div class="t" style="left:790.30px;top:4px;transform:scaleX(1.0019)">Plot</div>
<div class="t" style="left:16.65px;top:547px;transform:scaleX(0.8468)">BTC</div>
<div class="t" style="left:79.50px;top:547px;transform:scaleX(0.8981)">Call</div>
<div class="t" style="left:136.58px;top:547px;transform:scaleX(1.0151)">Residuals</div>
<div class="t" style="left:273.30px;top:547px;transform:scaleX(1.0000)">vs</div>
<div class="t" style="left:310.76px;top:547px;transform:scaleX(1.0374)">Predicted</div>
<div class="t" style="left:448.40px;top:547px;transform:scaleX(1.0027)">Value</div>
<div class="t" style="left:614.74px;top:547px;transform:scaleX(0.8565)">BTC</div>
<div class="t" style="left:677.57px;top:547px;transform:scaleX(1.0302)">Put</div>
<div class="t" style="left:733.01px;top:547px;transform:scaleX(0.9921)">Residuals</div>
<div class="t" style="left:867.50px;top:547px;transform:scaleX(1.0179)">vs</div>
<div class="t" style="left:904.96px;top:547px;transform:scaleX(1.0374)">Predicted</div>
<div class="t" style="left:1041.00px;top:547px;transform:scaleX(0.9884)">Val</div>
<div class="b" style="left:0;top:2px;width:1198px;height:1px;background:#bbb"></div>
<div class="b" style="left:2px;top:0;width:1px;height:1422px;background:#d0d0d0"></div>
<div class="b" style="left:598px;top:2px;width:1px;height:1420px;background:#aaa"></div>
<div class="b" style="left:600px;top:2px;width:1px;height:1420px;background:#777"></div>
<div class="b" style="left:2px;top:543px;width:1196px;height:1px;background:#777"></div>
<div class="b" style="left:2px;top:545px;width:1196px;height:1px;background:#999"></div>
<div class="b" style="left:1197px;top:2px;width:1px;height:1420px;background:#c4c4c4"></div>
<div class="b" style="left:2px;top:1421px;width:1196px;height:1px;background:#e8e8e8"></div>
<div class="b" style="left:0;top:1424px;width:1200px;height:1px;background:#efefef"></div>
<div class="b" style="left:0;top:0;width:1200px;height:1px;background:#888"></div>
<div class="b" style="left:0;top:0;width:1px;height:1424px;background:#868686"></div>
<div class="b" style="left:1199px;top:0;width:1px;height:1424px;background:#5d5d5d"></div>
<div class="b" style="left:1px;top:1px;width:1198px;height:1px;background:#333"></div>
<div class="b" style="left:1px;top:1px;width:1px;height:1423px;background:#404040"></div>
<div class="b" style="left:599px;top:1px;width:1px;height:1422px;background:#1a1a1a"></div>
<div class="b" style="left:1px;top:544px;width:1198px;height:1px;background:#2a2a2a"></div>
<div class="b" style="left:1198px;top:1px;width:1px;height:1423px;background:#3a3a3a"></div>
<div class="b" style="left:1px;top:1422px;width:1198px;height:1px;background:#555"></div>
<div class="b" style="left:1px;top:1423px;width:1198px;height:1px;background:#5a5a5a"></div>
</body></html>
